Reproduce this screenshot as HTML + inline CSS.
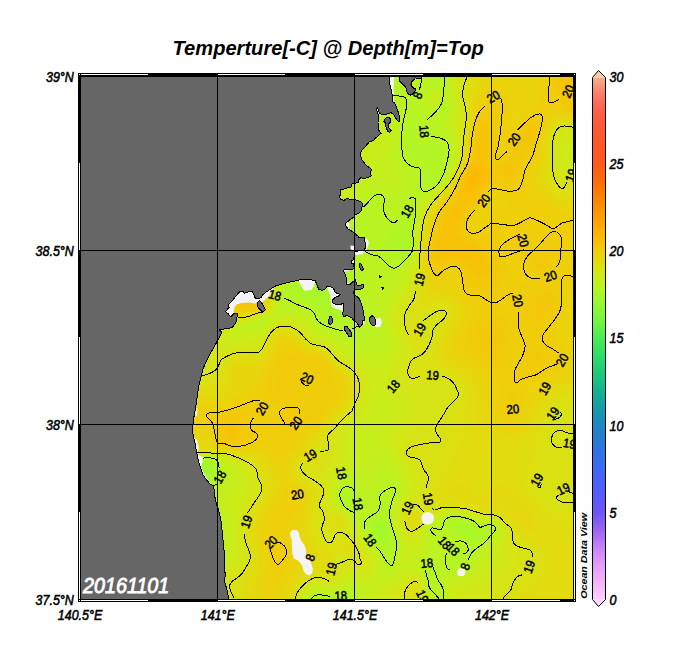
<!DOCTYPE html>
<html><head><meta charset="utf-8">
<style>
html,body{margin:0;padding:0;background:#fff;}
body{width:684px;height:660px;overflow:hidden;position:relative;font-family:"Liberation Sans",sans-serif;}
svg{position:absolute;left:0;top:0;}
text{font-family:"Liberation Sans",sans-serif;font-style:italic;font-weight:bold;}
.ax text{font-size:14px;fill:#000;font-weight:normal;stroke:#000;stroke-width:.55px;}
.cl text{font-size:12.6px;fill:#000;font-weight:normal;font-style:normal;stroke:#000;stroke-width:.5px;}
</style></head><body>
<svg width="684" height="660" viewBox="0 0 684 660">
<defs>
<linearGradient id="cb" gradientUnits="userSpaceOnUse" x1="0" y1="77.5" x2="0" y2="599.5">
<stop offset="0.0000" stop-color="#f5ac8e"/>
<stop offset="0.0167" stop-color="#f7947a"/>
<stop offset="0.0333" stop-color="#fa7a68"/>
<stop offset="0.0500" stop-color="#fc6a56"/>
<stop offset="0.0667" stop-color="#fe5f44"/>
<stop offset="0.1000" stop-color="#ff5834"/>
<stop offset="0.1333" stop-color="#ff5626"/>
<stop offset="0.1667" stop-color="#ff5a18"/>
<stop offset="0.2000" stop-color="#ff6c0a"/>
<stop offset="0.2333" stop-color="#ff8602"/>
<stop offset="0.2667" stop-color="#ff9c00"/>
<stop offset="0.3000" stop-color="#fdb403"/>
<stop offset="0.3333" stop-color="#efce0a"/>
<stop offset="0.3577" stop-color="#e0dd0f"/>
<stop offset="0.3810" stop-color="#cdeb19"/>
<stop offset="0.4033" stop-color="#b5f523"/>
<stop offset="0.4233" stop-color="#a0f82d"/>
<stop offset="0.4667" stop-color="#73f541"/>
<stop offset="0.5000" stop-color="#48ec56"/>
<stop offset="0.5333" stop-color="#2ddc6a"/>
<stop offset="0.5667" stop-color="#1ec87e"/>
<stop offset="0.6000" stop-color="#14b292"/>
<stop offset="0.6333" stop-color="#149baa"/>
<stop offset="0.6667" stop-color="#1e87c4"/>
<stop offset="0.7000" stop-color="#2878d8"/>
<stop offset="0.7333" stop-color="#376eec"/>
<stop offset="0.7667" stop-color="#4664fa"/>
<stop offset="0.8000" stop-color="#585cfa"/>
<stop offset="0.8333" stop-color="#6e55f5"/>
<stop offset="0.8667" stop-color="#9b64f0"/>
<stop offset="0.9000" stop-color="#c882f5"/>
<stop offset="0.9333" stop-color="#e49bfa"/>
<stop offset="0.9667" stop-color="#f5b2fc"/>
<stop offset="1.0000" stop-color="#fccdfc"/>
</linearGradient>
<clipPath id="mapclip"><rect x="81" y="77" width="492" height="522"/></clipPath>
</defs>
<g clip-path="url(#mapclip)">
<rect x="81" y="77" width="492" height="522" fill="rgb(152,248,49)"/>
<g fill-rule="evenodd">
<path fill="#9bf82f" d="M78 74l3 0 3 0 3 0 3 0 3 0 3 0 3 0 3 0 3 0 3 0 3 0 3 0 3 0 3 0 3 0 3 0 3 0 3 0 3 0 3 0 3 0 3 0 3 0 3 0 3 0 3 0 3 0 3 0 3 0 3 0 3 0 3 0 3 0 3 0 3 0 3 0 3 0 3 0 3 0 3 0 3 0 3 0 3 0 3 0 3 0 3 0 3 0 3 0 3 0 3 0 3 0 3 0 3 0 3 0 3 0 3 0 3 0 3 0 3 0 3 0 3 0 3 0 3 0 3 0 3 0 3 0 3 0 3 0 3 0 3 0 3 0 3 0 3 0 3 0 3 0 3 0 3 0 3 0 3 0 3 0 3 0 3 0 3 0 3 0 3 0 3 0 3 0 3 0 3 0 3 0 3 0 3 0 3 0 3 0 3 0 3 0 3 0 3 0 3 0 3 0 3 0 3 0 3 0 3 0 3 0 3 0 3 0 3 0 3 0 3 0 3 0 3 0 3 0 3 0 3 0 3 0 3 0 3 0 3 0 3 0 3 0 3 0 3 0 3 0 3 0 3 0 3 0 3 0 3 0 3 0 3 0 3 0 3 0 3 0 3 0 3 0 3 0 3 0 3 0 3 0 3 0 3 0 3 0 3 0 3 0 3 0 3 0 3 0 3 0 3 0 3 0 3 0 3 0 3 0 3 0 3 0 3 0 3 0 3 0 3 0 3 0 3 0 3 0 3 0 3 0 3 0 0 3 0 3 0 3 0 3 0 3 0 3 0 3 0 3 0 3 0 3 0 3 0 3 0 3 0 3 0 3 0 3 0 3 0 3 0 3 0 3 0 3 0 3 0 3 0 3 0 3 0 3 0 3 0 3 0 3 0 3 0 3 0 3 0 3 0 3 0 3 0 3 0 3 0 3 0 3 0 3 0 3 0 3 0 3 0 3 0 3 0 3 0 3 0 3 0 3 0 3 0 3 0 3 0 3 0 3 0 3 0 3 0 3 0 3 0 3 0 3 0 3 0 3 0 3 0 3 0 3 0 3 0 3 0 3 0 3 0 3 0 3 0 3 0 3 0 3 0 3 0 3 0 3 0 3 0 3 0 3 0 3 0 3 0 3 0 3 0 3 0 3 0 3 0 3 0 3 0 3 0 3 0 3 0 3 0 3 0 3 0 3 0 3 0 3 0 3 0 3 0 3 0 3 0 3 0 3 0 3 0 3 0 3 0 3 0 3 0 3 0 3 0 3 0 3 0 3 0 3 0 3 0 3 0 3 0 3 0 3 0 3 0 3 0 3 0 3 0 3 0 3 0 3 0 3 0 3 0 3 0 3 0 3 0 3 0 3 0 3 0 3 0 3 0 3 0 3 0 3 0 3 0 3 0 3 0 3 0 3 0 3 0 3 0 3 0 3 0 3 0 3 0 3 0 3 0 3 0 3 0 3 0 3 0 3 0 3 0 3 0 3 0 3 0 3 0 3 0 3 0 3 0 3 0 3 0 3 0 3 0 3 0 3 0 3 0 3 0 3 0 3-3 0-3 0-3 0-3 0-3 0-3 0-3 0-3 0-3 0-3 0-3 0-3 0-3 0-3 0-3 0-3 0-3 0-3 0-3 0-3 0-3 0-3 0-3 0-3 0-3 0-3 0-3 0-3 0-3 0-3 0-3 0-3 0-3 0-3 0-3 0-3 0-3 0-3 0-3 0-3 0-3 0-3 0-3 0-3 0-3 0-3 0-3 0-3 0-3 0-3 0-3 0-3 0-3 0-3 0-3 0-3 0-3 0-3 0-3 0-3 0-3 0-3 0-3 0-3 0-3 0-3 0-3 0-3 0-3 0-3 0-3 0-3 0-3 0-3 0-3 0-3 0-3 0-3 0-3 0-3 0-3 0-3 0-3 0-3 0-3 0-3 0-3 0-3 0-3 0-3 0-3 0-3 0-3 0-3 0-3 0-3 0-3 0-3 0-3 0-3 0-3 0-3 0-3 0-3 0-3 0-3 0-3 0-3 0-3 0-3 0-3 0-3 0-3 0-3 0-3 0-3 0-3 0-3 0-3 0-3 0-3 0-3 0-3 0-3 0-3 0-3 0-3 0-3 0-3 0-3 0-3 0-3 0-3 0-3 0-3 0-3 0-3 0-3 0-3 0-3 0-3 0-3 0-3 0-3 0-3 0-3 0-3 0-3 0-3 0-3 0-3 0-3 0-3 0-3 0-3 0-3 0-3 0-3 0-3 0-3 0-3 0-3 0-3 0-3 0-3 0-3 0 0-3 0-3 0-3 0-3 0-3 0-3 0-3 0-3 0-3 0-3 0-3 0-3 0-3 0-3 0-3 0-3 0-3 0-3 0-3 0-3 0-3 0-3 0-3 0-3 0-3 0-3 0-3 0-3 0-3 0-3 0-3 0-3 0-3 0-3 0-3 0-3 0-3 0-3 0-3 0-3 0-3 0-3 0-3 0-3 0-3 0-3 0-3 0-3 0-3 0-3 0-3 0-3 0-3 0-3 0-3 0-3 0-3 0-3 0-3 0-3 0-3 0-3 0-3 0-3 0-3 0-3 0-3 0-3 0-3 0-3 0-3 0-3 0-3 0-3 0-3 0-3 0-3 0-3 0-3 0-3 0-3 0-3 0-3 0-3 0-3 0-3 0-3 0-3 0-3 0-3 0-3 0-3 0-3 0-3 0-3 0-3 0-3 0-3 0-3 0-3 0-3 0-3 0-3 0-3 0-3 0-3 0-3 0-3 0-3 0-3 0-3 0-3 0-3 0-3 0-3 0-3 0-3 0-3 0-3 0-3 0-3 0-3 0-3 0-3 0-3 0-3 0-3 0-3 0-3 0-3 0-3 0-3 0-3 0-3 0-3 0-3 0-3 0-3 0-3 0-3 0-3 0-3 0-3 0-3 0-3 0-3 0-3 0-3 0-3 0-3 0-3 0-3 0-3 0-3 0-3 0-3 0-3 0-3 0-3 0-3 0-3 0-3 0-3 0-3 0-3 0-3 0-3 0-3 0-3 0-3 0-3 0-3 0-3 0-3 0-3z"/>
<path fill="#9ef82e" d="M78 74l3 0 3 0 3 0 3 0 3 0 3 0 3 0 3 0 3 0 3 0 3 0 3 0 3 0 3 0 3 0 3 0 3 0 3 0 3 0 3 0 3 0 3 0 3 0 3 0 3 0 3 0 3 0 3 0 3 0 3 0 3 0 3 0 3 0 3 0 3 0 3 0 3 0 3 0 3 0 3 0 3 0 3 0 3 0 3 0 3 0 3 0 3 0 3 0 3 0 3 0 3 0 3 0 3 0 3 0 3 0 3 0 3 0 3 0 3 0 3 0 3 0 3 0 3 0 3 0 3 0 3 0 3 0 3 0 3 0 3 0 3 0 3 0 3 0 3 0 3 0 3 0 3 0 3 0 3 0 3 0 3 0 3 0 3 0 3 0 3 0 3 0 3 0 3 0 3 0 3 0 3 0 3 0 3 0 3 0 3 0 3 0 3 0 3 0 3 0 3 0 3 0 3 0 3 0 3 0 3 0 3 0 3 0 3 0 3 0 3 0 3 0 3 0 3 0 3 0 3 0 3 0 3 0 3 0 3 0 3 0 3 0 3 0 3 0 3 0 3 0 3 0 3 0 3 0 3 0 3 0 3 0 3 0 3 0 3 0 3 0 3 0 3 0 3 0 3 0 3 0 3 0 3 0 3 0 3 0 3 0 3 0 3 0 3 0 3 0 3 0 3 0 3 0 3 0 3 0 3 0 3 0 3 0 3 0 3 0 3 0 3 0 3 0 3 0 3 0 3 0 3 0 0 3 0 3 0 3 0 3 0 3 0 3 0 3 0 3 0 3 0 3 0 3 0 3 0 3 0 3 0 3 0 3 0 3 0 3 0 3 0 3 0 3 0 3 0 3 0 3 0 3 0 3 0 3 0 3 0 3 0 3 0 3 0 3 0 3 0 3 0 3 0 3 0 3 0 3 0 3 0 3 0 3 0 3 0 3 0 3 0 3 0 3 0 3 0 3 0 3 0 3 0 3 0 3 0 3 0 3 0 3 0 3 0 3 0 3 0 3 0 3 0 3 0 3 0 3 0 3 0 3 0 3 0 3 0 3 0 3 0 3 0 3 0 3 0 3 0 3 0 3 0 3 0 3 0 3 0 3 0 3 0 3 0 3 0 3 0 3 0 3 0 3 0 3 0 3 0 3 0 3 0 3 0 3 0 3 0 3 0 3 0 3 0 3 0 3 0 3 0 3 0 3 0 3 0 3 0 3 0 3 0 3 0 3 0 3 0 3 0 3 0 3 0 3 0 3 0 3 0 3 0 3 0 3 0 3 0 3 0 3 0 3 0 3 0 3 0 3 0 3 0 3 0 3 0 3 0 3 0 3 0 3 0 3 0 3 0 3 0 3 0 3 0 3 0 3 0 3 0 3 0 3 0 3 0 3 0 3 0 3 0 3 0 3 0 3 0 3 0 3 0 3 0 3 0 3 0 3 0 3 0 3 0 3 0 3 0 3 0 3 0 3 0 3 0 3 0 3 0 3 0 3 0 3 0 3 0 3 0 3 0 3 0 3 0 3 0 3 0 3 0 3-3 0-3 0-3 0-3 0-3 0-3 0-3 0-3 0-3 0-3 0-3 0-3 0-3 0-3 0-3 0-3 0-3 0-3 0-3 0-3 0-3 0-3 0-3 0-3 0-3 0-3 0-3 0-3 0-3 0-3 0-3 0-3 0-3 0-3 0-3 0-3 0-3 0-3 0-3 0-3 0-3 0-3 0-3 0-3 0-3 0-3 0-3 0-3 0-3 0-3 0-3 0-3 0-3 0-3 0-3 0-3 0-3 0-3 0-3 0-3 0-3 0-3 0-3 0-3 0-3 0-3 0-3 0-3 0-3 0-3 0-3 0-3 0-3 0-3 0-3 0-3 0-3 0-3 0-3 0-3 0-3 0-3 0-3 0-3 0-3 0-3 0-3 0-3 0-3 0-3 0-3 0-3 0-3 0-3 0-3 0-3 0-3 0-3 0-3 0-3 0-3 0-3 0-3 0-3 0-3 0-3 0-3 0-3 0-3 0-3 0-3 0-3 0-3 0-3 0-3 0-3 0-3 0-3 0-3 0-3 0-3 0-3 0-3 0-3 0-3 0-3 0-3 0-3 0-3 0-3 0-3 0-3 0-3 0-3 0-3 0-3 0-3 0-3 0-3 0-3 0-3 0-3 0-3 0-3 0-3 0-3 0-3 0-3 0-3 0-3 0-3 0-3 0-3 0-3 0-3 0-3 0-3 0-3 0-3 0-3 0-3 0-3 0-3 0-3 0-3 0-3 0 0-3 0-3 0-3 0-3 0-3 0-3 0-3 0-3 0-3 0-3 0-3 0-3 0-3 0-3 0-3 0-3 0-3 0-3 0-3 0-3 0-3 0-3 0-3 0-3 0-3 0-3 0-3 0-3 0-3 0-3 0-3 0-3 0-3 0-3 0-3 0-3 0-3 0-3 0-3 0-3 0-3 0-3 0-3 0-3 0-3 0-3 0-3 0-3 0-3 0-3 0-3 0-3 0-3 0-3 0-3 0-3 0-3 0-3 0-3 0-3 0-3 0-3 0-3 0-3 0-3 0-3 0-3 0-3 0-3 0-3 0-3 0-3 0-3 0-3 0-3 0-3 0-3 0-3 0-3 0-3 0-3 0-3 0-3 0-3 0-3 0-3 0-3 0-3 0-3 0-3 0-3 0-3 0-3 0-3 0-3 0-3 0-3 0-3 0-3 0-3 0-3 0-3 0-3 0-3 0-3 0-3 0-3 0-3 0-3 0-3 0-3 0-3 0-3 0-3 0-3 0-3 0-3 0-3 0-3 0-3 0-3 0-3 0-3 0-3 0-3 0-3 0-3 0-3 0-3 0-3 0-3 0-3 0-3 0-3 0-3 0-3 0-3 0-3 0-3 0-3 0-3 0-3 0-3 0-3 0-3 0-3 0-3 0-3 0-3 0-3 0-3 0-3 0-3 0-3 0-3 0-3 0-3 0-3 0-3 0-3 0-3 0-3 0-3 0-3 0-3 0-3 0-3 0-3 0-3 0-3 0-3 0-3 0-3 0-3 0-3z"/>
<path fill="#a2f82c" d="M78 74l3 0 3 0 3 0 3 0 3 0 3 0 3 0 3 0 3 0 3 0 3 0 3 0 3 0 3 0 3 0 3 0 3 0 3 0 3 0 3 0 3 0 3 0 3 0 3 0 3 0 3 0 3 0 3 0 3 0 3 0 3 0 3 0 3 0 3 0 3 0 3 0 3 0 3 0 3 0 3 0 3 0 3 0 3 0 3 0 3 0 3 0 3 0 3 0 3 0 3 0 3 0 3 0 3 0 3 0 3 0 3 0 3 0 3 0 3 0 3 0 3 0 3 0 3 0 3 0 3 0 3 0 3 0 3 0 3 0 3 0 3 0 3 0 3 0 3 0 3 0 3 0 3 0 3 0 3 0 3 0 3 0 3 0 3 0 3 0 3 0 3 0 3 0 3 0 3 0 3 0 3 0 3 0 3 0 3 0 3 0 3 0 3 0 3 0 3 0 3 0 3 0 3 0 3 0 3 0 3 0 3 0 3 0 3 0 3 0 3 0 3 0 3 0 3 0 3 0 3 0 3 0 3 0 3 0 3 0 3 0 3 0 3 0 3 0 3 0 3 0 3 0 3 0 3 0 3 0 3 0 3 0 3 0 3 0 3 0 3 0 3 0 3 0 3 0 3 0 3 0 3 0 3 0 3 0 3 0 3 0 3 0 3 0 3 0 3 0 3 0 3 0 3 0 3 0 3 0 3 0 3 0 3 0 3 0 3 0 3 0 3 0 3 0 3 0 3 0 3 0 3 0 0 3 0 3 0 3 0 3 0 3 0 3 0 3 0 3 0 3 0 3 0 3 0 3 0 3 0 3 0 3 0 3 0 3 0 3 0 3 0 3 0 3 0 3 0 3 0 3 0 3 0 3 0 3 0 3 0 3 0 3 0 3 0 3 0 3 0 3 0 3 0 3 0 3 0 3 0 3 0 3 0 3 0 3 0 3 0 3 0 3 0 3 0 3 0 3 0 3 0 3 0 3 0 3 0 3 0 3 0 3 0 3 0 3 0 3 0 3 0 3 0 3 0 3 0 3 0 3 0 3 0 3 0 3 0 3 0 3 0 3 0 3 0 3 0 3 0 3 0 3 0 3 0 3 0 3 0 3 0 3 0 3 0 3 0 3 0 3 0 3 0 3 0 3 0 3 0 3 0 3 0 3 0 3 0 3 0 3 0 3 0 3 0 3 0 3 0 3 0 3 0 3 0 3 0 3 0 3 0 3 0 3 0 3 0 3 0 3 0 3 0 3 0 3 0 3 0 3 0 3 0 3 0 3 0 3 0 3 0 3 0 3 0 3 0 3 0 3 0 3 0 3 0 3 0 3 0 3 0 3 0 3 0 3 0 3 0 3 0 3 0 3 0 3 0 3 0 3 0 3 0 3 0 3 0 3 0 3 0 3 0 3 0 3 0 3 0 3 0 3 0 3 0 3 0 3 0 3 0 3 0 3 0 3 0 3 0 3 0 3 0 3 0 3 0 3 0 3 0 3 0 3 0 3 0 3 0 3 0 3 0 3 0 3 0 3 0 3 0 3 0 3-3 0-3 0-3 0-3 0-3 0-3 0-3 0-3 0-3 0-3 0-3 0-3 0-3 0-3 0-3 0-3 0-3 0-3 0-3 0-3 0-3 0-3 0-3 0-3 0-3 0-3 0-3 0-3 0-3 0-3 0-3 0-3 0-3 0-3 0-3 0-3 0-3 0-3 0-3 0-3 0-3 0-3 0-3 0-3 0-3 0-3 0-3 0-3 0-3 0-3 0-3 0-3 0-3 0-3 0-3 0-3 0-3 0-3 0-3 0-3 0-3 0-3 0-3 0-3 0-3 0-3 0-3 0-3 0-3 0-3 0-3 0-3 0-3 0-3 0-3 0-3 0-3 0-3 0-3 0-3 0-3 0-3 0-3 0-3 0-3 0-3 0-3 0-3 0-3 0-3 0-3 0-3 0-3 0-3 0-3 0-3 0-3 0-3 0-3 0-3 0-3 0-3 0-3 0-3 0-3 0-3 0-3 0-3 0-3 0-3 0-3 0-3 0-3 0-3 0-3 0-3 0-3 0-3 0-3 0-3 0-3 0-3 0-3 0-3 0-3 0-3 0-3 0-3 0-3 0-3 0-3 0-3 0-3 0-3 0-3 0-3 0-3 0-3 0-3 0-3 0-3 0-3 0-3 0-3 0-3 0-3 0-3 0-3 0-3 0-3 0-3 0-3 0-3 0-3 0-3 0-3 0-3 0-3 0-3 0-3 0-3 0-3 0-3 0-3 0-3 0-3 0 0-3 0-3 0-3 0-3 0-3 0-3 0-3 0-3 0-3 0-3 0-3 0-3 0-3 0-3 0-3 0-3 0-3 0-3 0-3 0-3 0-3 0-3 0-3 0-3 0-3 0-3 0-3 0-3 0-3 0-3 0-3 0-3 0-3 0-3 0-3 0-3 0-3 0-3 0-3 0-3 0-3 0-3 0-3 0-3 0-3 0-3 0-3 0-3 0-3 0-3 0-3 0-3 0-3 0-3 0-3 0-3 0-3 0-3 0-3 0-3 0-3 0-3 0-3 0-3 0-3 0-3 0-3 0-3 0-3 0-3 0-3 0-3 0-3 0-3 0-3 0-3 0-3 0-3 0-3 0-3 0-3 0-3 0-3 0-3 0-3 0-3 0-3 0-3 0-3 0-3 0-3 0-3 0-3 0-3 0-3 0-3 0-3 0-3 0-3 0-3 0-3 0-3 0-3 0-3 0-3 0-3 0-3 0-3 0-3 0-3 0-3 0-3 0-3 0-3 0-3 0-3 0-3 0-3 0-3 0-3 0-3 0-3 0-3 0-3 0-3 0-3 0-3 0-3 0-3 0-3 0-3 0-3 0-3 0-3 0-3 0-3 0-3 0-3 0-3 0-3 0-3 0-3 0-3 0-3 0-3 0-3 0-3 0-3 0-3 0-3 0-3 0-3 0-3 0-3 0-3 0-3 0-3 0-3 0-3 0-3 0-3 0-3 0-3 0-3 0-3 0-3 0-3 0-3 0-3 0-3 0-3 0-3 0-3 0-3 0-3zM207 466.5l-1 .5-2 1.5-1 1.5 .5 3 .5 .5 3 0 .5-.5 2.5-3-2-3z"/>
<path fill="#a5f72a" d="M78 74l3 0 3 0 3 0 3 0 3 0 3 0 3 0 3 0 3 0 3 0 3 0 3 0 3 0 3 0 3 0 3 0 3 0 3 0 3 0 3 0 3 0 3 0 3 0 3 0 3 0 3 0 3 0 3 0 3 0 3 0 3 0 3 0 3 0 3 0 3 0 3 0 3 0 3 0 3 0 3 0 3 0 3 0 3 0 3 0 3 0 3 0 3 0 3 0 3 0 3 0 3 0 3 0 3 0 3 0 3 0 3 0 3 0 3 0 3 0 3 0 3 0 3 0 3 0 3 0 3 0 3 0 3 0 3 0 3 0 3 0 3 0 3 0 3 0 3 0 3 0 3 0 3 0 3 0 3 0 3 0 3 0 3 0 3 0 3 0 3 0 3 0 3 0 3 0 3 0 3 0 3 0 3 0 3 0 3 0 3 0 3 0 3 0 3 0 3 0 3 0 3 0 3 0 3 0 3 0 3 0 3 0 3 0 3 0 3 0 3 0 3 0 3 0 3 0 3 0 3 0 3 0 3 0 3 0 3 0 3 0 3 0 3 0 3 0 3 0 3 0 3 0 3 0 3 0 3 0 3 0 3 0 3 0 3 0 3 0 3 0 3 0 3 0 3 0 3 0 3 0 3 0 3 0 3 0 3 0 3 0 3 0 3 0 3 0 3 0 3 0 3 0 3 0 3 0 3 0 3 0 3 0 3 0 3 0 3 0 3 0 3 0 3 0 3 0 3 0 3 0 3 0 0 3 0 3 0 3 0 3 0 3 0 3 0 3 0 3 0 3 0 3 0 3 0 3 0 3 0 3 0 3 0 3 0 3 0 3 0 3 0 3 0 3 0 3 0 3 0 3 0 3 0 3 0 3 0 3 0 3 0 3 0 3 0 3 0 3 0 3 0 3 0 3 0 3 0 3 0 3 0 3 0 3 0 3 0 3 0 3 0 3 0 3 0 3 0 3 0 3 0 3 0 3 0 3 0 3 0 3 0 3 0 3 0 3 0 3 0 3 0 3 0 3 0 3 0 3 0 3 0 3 0 3 0 3 0 3 0 3 0 3 0 3 0 3 0 3 0 3 0 3 0 3 0 3 0 3 0 3 0 3 0 3 0 3 0 3 0 3 0 3 0 3 0 3 0 3 0 3 0 3 0 3 0 3 0 3 0 3 0 3 0 3 0 3 0 3 0 3 0 3 0 3 0 3 0 3 0 3 0 3 0 3 0 3 0 3 0 3 0 3 0 3 0 3 0 3 0 3 0 3 0 3 0 3 0 3 0 3 0 3 0 3 0 3 0 3 0 3 0 3 0 3 0 3 0 3 0 3 0 3 0 3 0 3 0 3 0 3 0 3 0 3 0 3 0 3 0 3 0 3 0 3 0 3 0 3 0 3 0 3 0 3 0 3 0 3 0 3 0 3 0 3 0 3 0 3 0 3 0 3 0 3 0 3 0 3 0 3 0 3 0 3 0 3 0 3 0 3 0 3 0 3 0 3 0 3 0 3 0 3 0 3 0 3 0 3 0 3 0 3 0 3-3 0-3 0-3 0-3 0-3 0-3 0-3 0-3 0-3 0-3 0-3 0-3 0-3 0-3 0-3 0-3 0-3 0-3 0-3 0-3 0-3 0-3 0-3 0-3 0-3 0-3 0-3 0-3 0-3 0-3 0-3 0-3 0-3 0-3 0-3 0-3 0-3 0-3 0-3 0-3 0-3 0-3 0-3 0-3 0-3 0-3 0-3 0-3 0-3 0-3 0-3 0-3 0-3 0-3 0-3 0-3 0-3 0-3 0-3 0-3 0-3 0-3 0-3 0-3 0-3 0-3 0-3 0-3 0-3 0-3 0-3 0-3 0-3 0-3 0-3 0-3 0-3 0-3 0-3 0-3 0-3 0-3 0-3 0-3 0-3 0-3 0-3 0-3 0-3 0-3 0-3 0-3 0-3 0-3 0-3 0-3 0-3 0-3 0-3 0-3 0-3 0-3 0-3 0-3 0-3 0-3 0-3 0-3 0-3 0-3 0-3 0-3 0-3 0-3 0-3 0-3 0-3 0-3 0-3 0-3 0-3 0-3 0-3 0-3 0-3 0-3 0-3 0-3 0-3 0-3 0-3 0-3 0-3 0-3 0-3 0-3 0-3 0-3 0-3 0-3 0-3 0-3 0-3 0-3 0-3 0-3 0-3 0-3 0-3 0-3 0-3 0-3 0-3 0-3 0-3 0-3 0-3 0-3 0-3 0-3 0-3 0-3 0-3 0-3 0-3 0-3 0 0-3 0-3 0-3 0-3 0-3 0-3 0-3 0-3 0-3 0-3 0-3 0-3 0-3 0-3 0-3 0-3 0-3 0-3 0-3 0-3 0-3 0-3 0-3 0-3 0-3 0-3 0-3 0-3 0-3 0-3 0-3 0-3 0-3 0-3 0-3 0-3 0-3 0-3 0-3 0-3 0-3 0-3 0-3 0-3 0-3 0-3 0-3 0-3 0-3 0-3 0-3 0-3 0-3 0-3 0-3 0-3 0-3 0-3 0-3 0-3 0-3 0-3 0-3 0-3 0-3 0-3 0-3 0-3 0-3 0-3 0-3 0-3 0-3 0-3 0-3 0-3 0-3 0-3 0-3 0-3 0-3 0-3 0-3 0-3 0-3 0-3 0-3 0-3 0-3 0-3 0-3 0-3 0-3 0-3 0-3 0-3 0-3 0-3 0-3 0-3 0-3 0-3 0-3 0-3 0-3 0-3 0-3 0-3 0-3 0-3 0-3 0-3 0-3 0-3 0-3 0-3 0-3 0-3 0-3 0-3 0-3 0-3 0-3 0-3 0-3 0-3 0-3 0-3 0-3 0-3 0-3 0-3 0-3 0-3 0-3 0-3 0-3 0-3 0-3 0-3 0-3 0-3 0-3 0-3 0-3 0-3 0-3 0-3 0-3 0-3 0-3 0-3 0-3 0-3 0-3 0-3 0-3 0-3 0-3 0-3 0-3 0-3 0-3 0-3 0-3 0-3 0-3 0-3 0-3 0-3 0-3 0-3 0-3 0-3 0-3zM207 464l-3 1-2.5 2-.5 1-1.5 2-.5 3 1.5 3 .5 .5 3 .5 3-.5 1-.5 2-2 1-1 .5-3-.5-3-1-2zM381 523.5l-.5 .5-2.5 3-.5 3 .5 1.5 .5 1.5 2.5 3 1 0 2 .5 0-.5 1.5-3 .5-3 .5-3-2-3-.5-.5z"/>
<path fill="#a9f729" d="M78 74l3 0 3 0 3 0 3 0 3 0 3 0 3 0 3 0 3 0 3 0 3 0 3 0 3 0 3 0 3 0 3 0 3 0 3 0 3 0 3 0 3 0 3 0 3 0 3 0 3 0 3 0 3 0 3 0 3 0 3 0 3 0 3 0 3 0 3 0 3 0 3 0 3 0 3 0 3 0 3 0 3 0 3 0 3 0 3 0 3 0 3 0 3 0 3 0 3 0 3 0 3 0 3 0 3 0 3 0 3 0 3 0 3 0 3 0 3 0 3 0 3 0 3 0 3 0 3 0 3 0 3 0 3 0 3 0 3 0 3 0 3 0 3 0 3 0 3 0 3 0 3 0 3 0 3 0 3 0 3 0 3 0 3 0 3 0 3 0 3 0 3 0 3 0 3 0 3 0 3 0 3 0 3 0 3 0 3 0 3 0 3 0 3 0 3 0 3 0 3 0 3 0 3 0 3 0 3 0 3 0 3 0 3 0 3 0 3 0 3 0 3 0 3 0 3 0 3 0 3 0 3 0 3 0 3 0 3 0 3 0 3 0 3 0 3 0 3 0 3 0 3 0 3 0 3 0 3 0 3 0 3 0 3 0 3 0 3 0 3 0 3 0 3 0 3 0 3 0 3 0 3 0 3 0 3 0 3 0 3 0 3 0 3 0 3 0 3 0 3 0 3 0 3 0 3 0 3 0 3 0 3 0 3 0 3 0 3 0 3 0 3 0 3 0 3 0 3 0 3 0 3 0 0 3 0 3 0 3 0 3 0 3 0 3 0 3 0 3 0 3 0 3 0 3 0 3 0 3 0 3 0 3 0 3 0 3 0 3 0 3 0 3 0 3 0 3 0 3 0 3 0 3 0 3 0 3 0 3 0 3 0 3 0 3 0 3 0 3 0 3 0 3 0 3 0 3 0 3 0 3 0 3 0 3 0 3 0 3 0 3 0 3 0 3 0 3 0 3 0 3 0 3 0 3 0 3 0 3 0 3 0 3 0 3 0 3 0 3 0 3 0 3 0 3 0 3 0 3 0 3 0 3 0 3 0 3 0 3 0 3 0 3 0 3 0 3 0 3 0 3 0 3 0 3 0 3 0 3 0 3 0 3 0 3 0 3 0 3 0 3 0 3 0 3 0 3 0 3 0 3 0 3 0 3 0 3 0 3 0 3 0 3 0 3 0 3 0 3 0 3 0 3 0 3 0 3 0 3 0 3 0 3 0 3 0 3 0 3 0 3 0 3 0 3 0 3 0 3 0 3 0 3 0 3 0 3 0 3 0 3 0 3 0 3 0 3 0 3 0 3 0 3 0 3 0 3 0 3 0 3 0 3 0 3 0 3 0 3 0 3 0 3 0 3 0 3 0 3 0 3 0 3 0 3 0 3 0 3 0 3 0 3 0 3 0 3 0 3 0 3 0 3 0 3 0 3 0 3 0 3 0 3 0 3 0 3 0 3 0 3 0 3 0 3 0 3 0 3 0 3 0 3 0 3 0 3 0 3 0 3 0 3 0 3 0 3 0 3 0 3 0 3 0 3-3 0-3 0-3 0-3 0-3 0-3 0-3 0-3 0-3 0-3 0-3 0-3 0-3 0-3 0-3 0-3 0-3 0-3 0-3 0-3 0-3 0-3 0-3 0-3 0-3 0-3 0-3 0-3 0-3 0-3 0-3 0-3 0-3 0-3 0-3 0-3 0-3 0-3 0-3 0-3 0-3 0-3 0-3 0-3 0-3 0-3 0-3 0-3 0-3 0-3 0-3 0-3 0-3 0-3 0-3 0-3 0-3 0-3 0-3 0-3 0-3 0-3 0-3 0-3 0-3 0-3 0-3 0-3 0-3 0-3 0-3 0-3 0-3 0-3 0-3 0-3 0-3 0-3 0-3 0-3 0-3 0-3 0-3 0-3 0-3 0-3 0-3 0-3 0-3 0-3 0-3 0-3 0-3 0-3 0-3 0-3 0-3 0-3 0-3 0-3 0-3 0-3 0-3 0-3 0-3 0-3 0-3 0-3 0-3 0-3 0-3 0-3 0-3 0-3 0-3 0-3 0-3 0-3 0-3 0-3 0-3 0-3 0-3 0-3 0-3 0-3 0-3 0-3 0-3 0-3 0-3 0-3 0-3 0-3 0-3 0-3 0-3 0-3 0-3 0-3 0-3 0-3 0-3 0-3 0-3 0-3 0-3 0-3 0-3 0-3 0-3 0-3 0-3 0-3 0-3 0-3 0-3 0-3 0-3 0-3 0-3 0-3 0-3 0-3 0-3 0-3 0 0-3 0-3 0-3 0-3 0-3 0-3 0-3 0-3 0-3 0-3 0-3 0-3 0-3 0-3 0-3 0-3 0-3 0-3 0-3 0-3 0-3 0-3 0-3 0-3 0-3 0-3 0-3 0-3 0-3 0-3 0-3 0-3 0-3 0-3 0-3 0-3 0-3 0-3 0-3 0-3 0-3 0-3 0-3 0-3 0-3 0-3 0-3 0-3 0-3 0-3 0-3 0-3 0-3 0-3 0-3 0-3 0-3 0-3 0-3 0-3 0-3 0-3 0-3 0-3 0-3 0-3 0-3 0-3 0-3 0-3 0-3 0-3 0-3 0-3 0-3 0-3 0-3 0-3 0-3 0-3 0-3 0-3 0-3 0-3 0-3 0-3 0-3 0-3 0-3 0-3 0-3 0-3 0-3 0-3 0-3 0-3 0-3 0-3 0-3 0-3 0-3 0-3 0-3 0-3 0-3 0-3 0-3 0-3 0-3 0-3 0-3 0-3 0-3 0-3 0-3 0-3 0-3 0-3 0-3 0-3 0-3 0-3 0-3 0-3 0-3 0-3 0-3 0-3 0-3 0-3 0-3 0-3 0-3 0-3 0-3 0-3 0-3 0-3 0-3 0-3 0-3 0-3 0-3 0-3 0-3 0-3 0-3 0-3 0-3 0-3 0-3 0-3 0-3 0-3 0-3 0-3 0-3 0-3 0-3 0-3 0-3 0-3 0-3 0-3 0-3 0-3 0-3 0-3 0-3 0-3 0-3 0-3 0-3 0-3 0-3zM204 463l-1.5 1-1.5 1.5-2 1.5-1 2-1 1-1 3 0 3 2 3 3 1.5 3-.5 3-1 3-2 1-1 1.5-3 .5-2 0-1 0-2 0-1-1.5-3-1.5-1-3-.5zM309 268.5l-.5 .5-2 3-.5 2 0 1-1 3 .5 3 .5 2 .5 1 2.5 2.5 .5 .5 2.5 1.5 3 1.5 3 1.5 3 1 1 .5 2 .5 3 1 3-1 .5-.5 1-3-.5-3-.5-3-.5-1-1-2-1.5-3-.5-1-1-2-2-2-1-1-2-1.5-2-1.5-1-.5-3-1-3 .5zM378 523l-1 1-1.5 3-.5 3 1 3 1.5 3 .5 .5 2 2.5 1 1 3 2 .5 0 2.5-1.5 0-1.5 .5-3 0-3 0-3 0-3-.5-3-3-2.5-3 0z"/>
<path fill="#acf627" d="M78 74l3 0 3 0 3 0 3 0 3 0 3 0 3 0 3 0 3 0 3 0 3 0 3 0 3 0 3 0 3 0 3 0 3 0 3 0 3 0 3 0 3 0 3 0 3 0 3 0 3 0 3 0 3 0 3 0 3 0 3 0 3 0 3 0 3 0 3 0 3 0 3 0 3 0 3 0 3 0 3 0 3 0 3 0 3 0 3 0 3 0 3 0 3 0 3 0 3 0 3 0 3 0 3 0 3 0 3 0 3 0 3 0 3 0 3 0 3 0 3 0 3 0 3 0 3 0 3 0 3 0 3 0 3 0 3 0 3 0 3 0 3 0 3 0 3 0 3 0 3 0 3 0 3 0 3 0 3 0 3 0 3 0 3 0 3 0 3 0 3 0 3 0 3 0 3 0 3 0 3 0 3 0 3 0 3 0 3 0 3 0 3 0 3 0 3 0 3 0 3 0 3 0 3 0 3 0 3 0 3 0 3 0 3 0 3 0 3 0 3 0 3 0 3 0 3 0 3 0 3 0 3 0 3 0 3 0 3 0 3 0 3 0 3 0 3 0 3 0 3 0 3 0 3 0 3 0 3 0 3 0 3 0 3 0 3 0 3 0 3 0 3 0 3 0 3 0 3 0 3 0 3 0 3 0 3 0 3 0 3 0 3 0 3 0 3 0 3 0 3 0 3 0 3 0 3 0 3 0 3 0 3 0 3 0 3 0 3 0 3 0 3 0 3 0 3 0 3 0 3 0 3 0 0 3 0 3 0 3 0 3 0 3 0 3 0 3 0 3 0 3 0 3 0 3 0 3 0 3 0 3 0 3 0 3 0 3 0 3 0 3 0 3 0 3 0 3 0 3 0 3 0 3 0 3 0 3 0 3 0 3 0 3 0 3 0 3 0 3 0 3 0 3 0 3 0 3 0 3 0 3 0 3 0 3 0 3 0 3 0 3 0 3 0 3 0 3 0 3 0 3 0 3 0 3 0 3 0 3 0 3 0 3 0 3 0 3 0 3 0 3 0 3 0 3 0 3 0 3 0 3 0 3 0 3 0 3 0 3 0 3 0 3 0 3 0 3 0 3 0 3 0 3 0 3 0 3 0 3 0 3 0 3 0 3 0 3 0 3 0 3 0 3 0 3 0 3 0 3 0 3 0 3 0 3 0 3 0 3 0 3 0 3 0 3 0 3 0 3 0 3 0 3 0 3 0 3 0 3 0 3 0 3 0 3 0 3 0 3 0 3 0 3 0 3 0 3 0 3 0 3 0 3 0 3 0 3 0 3 0 3 0 3 0 3 0 3 0 3 0 3 0 3 0 3 0 3 0 3 0 3 0 3 0 3 0 3 0 3 0 3 0 3 0 3 0 3 0 3 0 3 0 3 0 3 0 3 0 3 0 3 0 3 0 3 0 3 0 3 0 3 0 3 0 3 0 3 0 3 0 3 0 3 0 3 0 3 0 3 0 3 0 3 0 3 0 3 0 3 0 3 0 3 0 3 0 3 0 3 0 3 0 3 0 3 0 3 0 3 0 3 0 3 0 3-3 0-3 0-3 0-3 0-3 0-3 0-3 0-3 0-3 0-3 0-3 0-3 0-3 0-3 0-3 0-3 0-3 0-3 0-3 0-3 0-3 0-3 0-3 0-3 0-3 0-3 0-3 0-3 0-3 0-3 0-3 0-3 0-3 0-3 0-3 0-3 0-3 0-3 0-3 0-3 0-3 0-3 0-3 0-3 0-3 0-3 0-3 0-3 0-3 0-3 0-3 0-3 0-3 0-3 0-3 0-3 0-3 0-3 0-3 0-3 0-3 0-3 0-3 0-3 0-3 0-3 0-3 0-3 0-3 0-3 0-3 0-3 0-3 0-3 0-3 0-3 0-3 0-3 0-3 0-3 0-3 0-3 0-3 0-3 0-3 0-3 0-3 0-3 0-3 0-3 0-3 0-3 0-3 0-3 0-3 0-3 0-3 0-3 0-3 0-3 0-3 0-3 0-3 0-3 0-3 0-3 0-3 0-3 0-3 0-3 0-3 0-3 0-3 0-3 0-3 0-3 0-3 0-3 0-3 0-3 0-3 0-3 0-3 0-3 0-3 0-3 0-3 0-3 0-3 0-3 0-3 0-3 0-3 0-3 0-3 0-3 0-3 0-3 0-3 0-3 0-3 0-3 0-3 0-3 0-3 0-3 0-3 0-3 0-3 0-3 0-3 0-3 0-3 0-3 0-3 0-3 0-3 0-3 0-3 0-3 0-3 0-3 0-3 0-3 0-3 0-3 0 0-3 0-3 0-3 0-3 0-3 0-3 0-3 0-3 0-3 0-3 0-3 0-3 0-3 0-3 0-3 0-3 0-3 0-3 0-3 0-3 0-3 0-3 0-3 0-3 0-3 0-3 0-3 0-3 0-3 0-3 0-3 0-3 0-3 0-3 0-3 0-3 0-3 0-3 0-3 0-3 0-3 0-3 0-3 0-3 0-3 0-3 0-3 0-3 0-3 0-3 0-3 0-3 0-3 0-3 0-3 0-3 0-3 0-3 0-3 0-3 0-3 0-3 0-3 0-3 0-3 0-3 0-3 0-3 0-3 0-3 0-3 0-3 0-3 0-3 0-3 0-3 0-3 0-3 0-3 0-3 0-3 0-3 0-3 0-3 0-3 0-3 0-3 0-3 0-3 0-3 0-3 0-3 0-3 0-3 0-3 0-3 0-3 0-3 0-3 0-3 0-3 0-3 0-3 0-3 0-3 0-3 0-3 0-3 0-3 0-3 0-3 0-3 0-3 0-3 0-3 0-3 0-3 0-3 0-3 0-3 0-3 0-3 0-3 0-3 0-3 0-3 0-3 0-3 0-3 0-3 0-3 0-3 0-3 0-3 0-3 0-3 0-3 0-3 0-3 0-3 0-3 0-3 0-3 0-3 0-3 0-3 0-3 0-3 0-3 0-3 0-3 0-3 0-3 0-3 0-3 0-3 0-3 0-3 0-3 0-3 0-3 0-3 0-3 0-3 0-3 0-3 0-3 0-3 0-3 0-3 0-3 0-3 0-3 0-3 0-3zM207 461l-.5 0-2.5 1-3 1.5-.5 .5-2.5 2-1 1-2 3-1.5 3-.5 3 .5 3 1.5 2.5 .5 .5 2.5 1.5 3 0 3-.5 1.5-1 1.5-.5 3-2 .5-.5 2.5-3 1-3 .5-3-.5-3-.5-3-.5-.5-3-2-1.5-.5zM303 259.5l-.5 .5-2.5 2.5-.5 .5-1 3-1 3 0 3 0 3-.5 3 .5 3 .5 3 1.5 3 .5 1 1.5 2 1.5 1.5 3 1.5 3 1 3 1.5 1 .5 2 1 3 1.5 .5 .5 2.5 1.5 2 1.5 1 1 3 2 3 2.5 .5 .5 2.5 1.5 3 1 3-1.5 1-1 2-3 1-3 0-3 0-3-.5-3-.5-2.5 0-.5-1-3-1-3-1-2.5 0-.5-1-3-1.5-3-.5-1-1-2-1.5-3-.5-.5-2.5-2.5-.5-.5-2.5-2.5-.5-.5-3-1.5-2.5-1-.5 0-3-1.5-3-.5-3-.5-3 .5-3 0zM378 521l-.5 0-2.5 2.5-.5 .5-1 3-.5 3 1 3 1 2.5 0 .5 2.5 3 .5 1 2 2 1 1 2.5 2 .5 .5 3 1 1.5-1.5 1-3 0-3 0-3-.5-3 0-3-.5-3-.5-3-1-2-1.5-1-1.5-1.5-3 0zM465 526l-2 1 .5 3 1.5 1.5 1.5 1.5 1.5 1 2 2 1 2 1 1 2 1.5 3-1.5 3-3-3-2.5-1-.5-2-1-2.5-2-.5-.5-2.5-2.5-.5 0z"/>
<path fill="#b0f625" d="M78 74l3 0 3 0 3 0 3 0 3 0 3 0 3 0 3 0 3 0 3 0 3 0 3 0 3 0 3 0 3 0 3 0 3 0 3 0 3 0 3 0 3 0 3 0 3 0 3 0 3 0 3 0 3 0 3 0 3 0 3 0 3 0 3 0 3 0 3 0 3 0 3 0 3 0 3 0 3 0 3 0 3 0 3 0 3 0 3 0 3 0 3 0 3 0 3 0 3 0 3 0 3 0 3 0 3 0 3 0 3 0 3 0 3 0 3 0 3 0 3 0 3 0 3 0 3 0 3 0 3 0 3 0 3 0 3 0 3 0 3 0 3 0 3 0 3 0 3 0 3 0 3 0 3 0 3 0 3 0 3 0 3 0 3 0 3 0 3 0 3 0 3 0 3 0 3 0 3 0 3 0 3 0 3 0 3 0 3 0 3 0 3 0 3 0 3 0 3 0 3 0 3 0 3 0 3 0 3 0 3 0 3 0 3 0 3 0 3 0 3 0 3 0 3 0 3 0 3 0 3 0 3 0 3 0 3 0 3 0 3 0 3 0 3 0 3 0 3 0 3 0 3 0 3 0 3 0 3 0 3 0 3 0 3 0 3 0 3 0 3 0 3 0 3 0 3 0 3 0 3 0 3 0 3 0 3 0 3 0 3 0 3 0 3 0 3 0 3 0 3 0 3 0 3 0 3 0 3 0 3 0 3 0 3 0 3 0 3 0 3 0 3 0 3 0 3 0 3 0 3 0 3 0 0 3 0 3 0 3 0 3 0 3 0 3 0 3 0 3 0 3 0 3 0 3 0 3 0 3 0 3 0 3 0 3 0 3 0 3 0 3 0 3 0 3 0 3 0 3 0 3 0 3 0 3 0 3 0 3 0 3 0 3 0 3 0 3 0 3 0 3 0 3 0 3 0 3 0 3 0 3 0 3 0 3 0 3 0 3 0 3 0 3 0 3 0 3 0 3 0 3 0 3 0 3 0 3 0 3 0 3 0 3 0 3 0 3 0 3 0 3 0 3 0 3 0 3 0 3 0 3 0 3 0 3 0 3 0 3 0 3 0 3 0 3 0 3 0 3 0 3 0 3 0 3 0 3 0 3 0 3 0 3 0 3 0 3 0 3 0 3 0 3 0 3 0 3 0 3 0 3 0 3 0 3 0 3 0 3 0 3 0 3 0 3 0 3 0 3 0 3 0 3 0 3 0 3 0 3 0 3 0 3 0 3 0 3 0 3 0 3 0 3 0 3 0 3 0 3 0 3 0 3 0 3 0 3 0 3 0 3 0 3 0 3 0 3 0 3 0 3 0 3 0 3 0 3 0 3 0 3 0 3 0 3 0 3 0 3 0 3 0 3 0 3 0 3 0 3 0 3 0 3 0 3 0 3 0 3 0 3 0 3 0 3 0 3 0 3 0 3 0 3 0 3 0 3 0 3 0 3 0 3 0 3 0 3 0 3 0 3 0 3 0 3 0 3 0 3 0 3 0 3 0 3 0 3 0 3 0 3 0 3 0 3 0 3 0 3 0 3 0 3 0 3-3 0-3 0-3 0-3 0-3 0-3 0-3 0-3 0-3 0-3 0-3 0-3 0-3 0-3 0-3 0-3 0-3 0-3 0-3 0-3 0-3 0-3 0-3 0-3 0-3 0-3 0-3 0-3 0-3 0-3 0-3 0-3 0-3 0-3 0-3 0-3 0-3 0-3 0-3 0-3 0-3 0-3 0-3 0-3 0-3 0-3 0-3 0-3 0-3 0-3 0-3 0-3 0-3 0-3 0-3 0-3 0-3 0-3 0-3 0-3 0-3 0-3 0-3 0-3 0-3 0-3 0-3 0-3 0-3 0-3 0-3 0-3 0-3 0-3 0-3 0-3 0-3 0-3 0-3 0-3 0-3 0-3 0-3 0-3 0-3 0-3 0-3 0-3 0-3 0-3 0-3 0-3 0-3 0-3 0-3 0-3 0-3 0-3 0-3 0-3 0-3 0-3 0-3 0-3 0-3 0-3 0-3 0-3 0-3 0-3 0-3 0-3 0-3 0-3 0-3 0-3 0-3 0-3 0-3 0-3 0-3 0-3 0-3 0-3 0-3 0-3 0-3 0-3 0-3 0-3 0-3 0-3 0-3 0-3 0-3 0-3 0-3 0-3 0-3 0-3 0-3 0-3 0-3 0-3 0-3 0-3 0-3 0-3 0-3 0-3 0-3 0-3 0-3 0-3 0-3 0-3 0-3 0-3 0-3 0-3 0-3 0-3 0-3 0-3 0-3 0-3 0 0-3 0-3 0-3 0-3 0-3 0-3 0-3 0-3 0-3 0-3 0-3 0-3 0-3 0-3 0-3 0-3 0-3 0-3 0-3 0-3 0-3 0-3 0-3 0-3 0-3 0-3 0-3 0-3 0-3 0-3 0-3 0-3 0-3 0-3 0-3 0-3 0-3 0-3 0-3 0-3 0-3 0-3 0-3 0-3 0-3 0-3 0-3 0-3 0-3 0-3 0-3 0-3 0-3 0-3 0-3 0-3 0-3 0-3 0-3 0-3 0-3 0-3 0-3 0-3 0-3 0-3 0-3 0-3 0-3 0-3 0-3 0-3 0-3 0-3 0-3 0-3 0-3 0-3 0-3 0-3 0-3 0-3 0-3 0-3 0-3 0-3 0-3 0-3 0-3 0-3 0-3 0-3 0-3 0-3 0-3 0-3 0-3 0-3 0-3 0-3 0-3 0-3 0-3 0-3 0-3 0-3 0-3 0-3 0-3 0-3 0-3 0-3 0-3 0-3 0-3 0-3 0-3 0-3 0-3 0-3 0-3 0-3 0-3 0-3 0-3 0-3 0-3 0-3 0-3 0-3 0-3 0-3 0-3 0-3 0-3 0-3 0-3 0-3 0-3 0-3 0-3 0-3 0-3 0-3 0-3 0-3 0-3 0-3 0-3 0-3 0-3 0-3 0-3 0-3 0-3 0-3 0-3 0-3 0-3 0-3 0-3 0-3 0-3 0-3 0-3 0-3 0-3 0-3 0-3 0-3 0-3 0-3 0-3 0-3 0-3zM204 460.5l-1 .5-2 1.5-2.5 1.5-.5 .5-3 2.5-2.5 3-.5 1-1 2-1 3 0 3 1 3 1 2 1 1 2 1.5 3 .5 3-.5 3-1 1-.5 2-1 2.5-2 .5 0 3-3 2-3 .5-3 0-3 0-3-1-3-1.5-2.5-1-.5-2-.5-3-.5zM303 250.5l-1 .5-2 .5-3 2-.5 .5-2.5 2.5 0 .5-1 3-1.5 3 0 3 .5 3 0 3 .5 3 0 3 .5 3 0 3 1 3 0 .5 1.5 2.5 1.5 2 .5 1 2.5 2 2 1 1 .5 3 1 3 1 1 .5 2 1 3 1.5 1 .5 2 1.5 2 1.5 1 1 2 2 1 1.5 1.5 1.5 1.5 2 1 1 2 1.5 2 1.5 1 .5 3 .5 3-.5 1-.5 2-1 2.5-2 .5-.5 2-2.5 1-2 .5-1 1-3 .5-3 0-3-.5-3-.5-3-1-3 0-.5-1-2.5-.5-3-1-3-.5-2.5 0-.5-1.5-3-1-3-.5-1-1-2-1.5-3-.5-.5-1.5-2.5-1.5-2-.5-1-2.5-2.5-.5-.5-2.5-1.5-2.5-1.5-.5-.5-3-1-3-1-3-.5-1 0-2 0-3-.5-3 0-3 0zM381 517.5l-1.5 .5-1.5 .5-3 2.5-3 3 0 .5-1 2.5 0 3 1 3 0 .5 1 2.5 2 3 2.5 3 .5 .5 2.5 2.5 .5 .5 3 2.5 3 1.5 3-1.5 1.5-3 0-3 0-3-.5-3-.5-3-.5-3 0-.5-.5-2.5-1-3-1-3-.5-1-2.5-2-.5-.5zM402 235.5l-.5 .5-1 3-1.5 3-1 3 0 3 1 1.5 3 1.5 3-1 2.5-2 .5-1.5 .5-1.5 0-3-.5-1.5-.5-1.5-1.5-3-1-2zM456 523.5l-.5 .5 .5 1 1 2 2 3 3 3 3 2 1 1 2 2 1 1 1 3 1 2 3 0 3-2 3-2.5 1-.5 1.5-3-1-3-1.5-.5-3-1.5-1.5-1-1.5-1.5-1.5-1.5-1.5-1.5-2-1.5-1-.5-3-1-3 0-3 0z"/>
<path fill="#b3f524" d="M78 74l3 0 3 0 3 0 3 0 3 0 3 0 3 0 3 0 3 0 3 0 3 0 3 0 3 0 3 0 3 0 3 0 3 0 3 0 3 0 3 0 3 0 3 0 3 0 3 0 3 0 3 0 3 0 3 0 3 0 3 0 3 0 3 0 3 0 3 0 3 0 3 0 3 0 3 0 3 0 3 0 3 0 3 0 3 0 3 0 3 0 3 0 3 0 3 0 3 0 3 0 3 0 3 0 3 0 3 0 3 0 3 0 3 0 3 0 3 0 3 0 3 0 3 0 3 0 3 0 3 0 3 0 3 0 3 0 3 0 3 0 3 0 3 0 3 0 3 0 3 0 3 0 3 0 3 0 3 0 3 0 3 0 3 0 3 0 3 0 3 0 3 0 3 0 3 0 3 0 3 0 3 0 3 0 3 0 3 0 3 0 3 0 3 0 3 0 .5 0 2.5 1.5 3 .5 1.5 1 1.5 1 3 1.5 .5 .5 2.5 1.5 3 .5 2.5 1 .5 0 3 0 .5 0 2.5-1.5 1.5-1.5 1.5-2.5 0-.5 1.5-3 1.5 0 3 0 3 0 3 0 3 0 3 0 3 0 3 0 3 0 3 0 3 0 3 0 3 0 3 0 3 0 3 0 3 0 3 0 3 0 3 0 3 0 3 0 3 0 3 0 3 0 3 0 3 0 3 0 3 0 3 0 3 0 3 0 3 0 3 0 3 0 3 0 3 0 3 0 3 0 3 0 3 0 3 0 3 0 3 0 3 0 3 0 3 0 3 0 3 0 3 0 3 0 3 0 3 0 3 0 3 0 3 0 3 0 3 0 0 3 0 3 0 3 0 3 0 3 0 3 0 3 0 3 0 3 0 3 0 3 0 3 0 3 0 3 0 3 0 3 0 3 0 3 0 3 0 3 0 3 0 3 0 3 0 3 0 3 0 3 0 3 0 3 0 3 0 3 0 3 0 3 0 3 0 3 0 3 0 3 0 3 0 3 0 3 0 3 0 3 0 3 0 3 0 3 0 3 0 3 0 3 0 3 0 3 0 3 0 3 0 3 0 3 0 3 0 3 0 3 0 3 0 3 0 3 0 3 0 3 0 3 0 3 0 3 0 3 0 3 0 3 0 3 0 3 0 3 0 3 0 3 0 3 0 3 0 3 0 3 0 3 0 3 0 3 0 3 0 3 0 3 0 3 0 3 0 3 0 3 0 3 0 3 0 3 0 3 0 3 0 3 0 3 0 3 0 3 0 3 0 3 0 3 0 3 0 3 0 3 0 3 0 3 0 3 0 3 0 3 0 3 0 3 0 3 0 3 0 3 0 3 0 3 0 3 0 3 0 3 0 3 0 3 0 3 0 3 0 3 0 3 0 3 0 3 0 3 0 3 0 3 0 3 0 3 0 3 0 3 0 3 0 3 0 3 0 3 0 3 0 3 0 3 0 3 0 3 0 3 0 3 0 3 0 3 0 3 0 3 0 3 0 3 0 3 0 3 0 3 0 3 0 3 0 3 0 3 0 3 0 3 0 3 0 3 0 3 0 3 0 3 0 3 0 3 0 3 0 3 0 3 0 3 0 3 0 3 0 3 0 3 0 3 0 3 0 3 0 3-3 0-3 0-3 0-3 0-3 0-3 0-3 0-3 0-3 0-3 0-3 0-3 0-3 0-3 0-3 0-3 0-3 0-3 0-3 0-3 0-3 0-3 0-3 0-3 0-3 0-3 0-3 0-3 0-3 0-3 0-3 0-3 0-3 0-3 0-3 0-3 0-3 0-3 0-3 0-3 0-3 0-3 0-3 0-3 0-3 0-3 0-3 0-3 0-3 0-3 0-3 0-3 0-3 0-3 0-3 0-3 0-3 0-3 0-3 0-3 0-3 0-3 0-3 0-3 0-3 0-3 0-3 0-3 0-3 0-3 0-3 0-3 0-3 0-3 0-3 0-3 0-3 0-3 0-1 0-2 0-3 0-1.5 0-1.5 0-1 0-2 0-3-.5-3-.5-3-.5-3 .5-1 1-2 0-3 0-3 0-3 0-3 0-3 0-3 0-3 0-3 0-3 0-3 0-3 0-3 0-3 0-3 0-3 0-3 0-3 0-3 0-3 0-3 0-3 0-3 0-3 0-3 0-3 0-3 0-3 0-3 0-3 0-3 0-3 0-3 0-3 0-3 0-3 0-3 0-3 0-3 0-3 0-3 0-3 0-3 0-3 0-3 0-3 0-3 0-3 0-3 0-3 0-3 0-3 0-3 0-3 0-3 0-3 0-3 0-3 0-3 0-3 0-3 0-3 0-3 0-3 0-3 0-3 0-3 0-3 0-3 0-3 0-3 0-3 0-3 0-3 0-3 0-3 0-3 0-3 0-3 0-3 0 0-3 0-3 0-3 0-3 0-3 0-3 0-3 0-3 0-3 0-3 0-3 0-3 0-3 0-3 0-3 0-3 0-3 0-3 0-3 0-3 0-3 0-3 0-3 0-3 0-3 0-3 0-3 0-3 0-3 0-3 0-3 0-3 0-3 0-3 0-3 0-3 0-3 0-3 0-3 0-3 0-3 0-3 0-3 0-3 0-3 0-3 0-3 0-3 0-3 0-3 0-3 0-3 0-3 0-3 0-3 0-3 0-3 0-3 0-3 0-3 0-3 0-3 0-3 0-3 0-3 0-3 0-3 0-3 0-3 0-3 0-3 0-3 0-3 0-3 0-3 0-3 0-3 0-3 0-3 0-3 0-3 0-3 0-3 0-3 0-3 0-3 0-3 0-3 0-3 0-3 0-3 0-3 0-3 0-3 0-3 0-3 0-3 0-3 0-3 0-3 0-3 0-3 0-3 0-3 0-3 0-3 0-3 0-3 0-3 0-3 0-3 0-3 0-3 0-3 0-3 0-3 0-3 0-3 0-3 0-3 0-3 0-3 0-3 0-3 0-3 0-3 0-3 0-3 0-3 0-3 0-3 0-3 0-3 0-3 0-3 0-3 0-3 0-3 0-3 0-3 0-3 0-3 0-3 0-3 0-3 0-3 0-3 0-3 0-3 0-3 0-3 0-3 0-3 0-3 0-3 0-3 0-3 0-3 0-3 0-3 0-3 0-3 0-3 0-3 0-3 0-3 0-3 0-3 0-3 0-3 0-3 0-3 0-3 0-3 0-3zM204 460l-3 1-3 2-1.5 1-1.5 1.5-2 1.5-1 1-1.5 2-1.5 2.5-.5 .5-1 3-.5 3 0 3 1 3 1 2 .5 1 2.5 2 2.5 1 .5 0 3 0 .5 0 2.5-.5 3-1.5 1-1 2-1.5 2-1.5 1-1 2.5-2 .5-.5 2-2.5 1-1.5 .5-1.5 .5-3 0-3-.5-3-.5-3-1.5-3-1.5-.5-3-1-3-.5zM294 244l-2.5 1-.5 .5-2 2.5-1 1.5-1 1.5-.5 3-1 3 .5 3 0 3 .5 3 1 3 .5 3 0 .5 .5 2.5 .5 3 0 3 .5 3 .5 3 .5 3 .5 .5 1.5 2.5 1.5 1.5 2 1.5 1 1 3 1.5 1 .5 2 1 3 1 2.5 1 .5 0 3 1.5 2.5 1.5 .5 .5 3 2.5 2.5 3 .5 1 1.5 2 1.5 2 1 1 2 1.5 2 1.5 1 .5 3 1 3 .5 3 0 3-.5 3-1.5 .5 0 2.5-2 1.5-1 1.5-2 1-1 1.5-3 .5-1 .5-2 .5-3 .5-3-.5-3-.5-3-.5-3 0-.5-.5-2.5-1-3-.5-3-1-3 0-1-.5-2-.5-3-1-3-.5-3-.5-1.5-.5-1.5-1.5-3-1-2.5-.5-.5-2-3-.5-.5-2-2.5-1-1-2-2-1-1-3-2-3-2-3-1-3-.5-3-.5-3-.5-3-1-3 0-3 0-3 .5-3 0-3 0-3 .5zM384 502l-.5 1-.5 3 1 2.5 3-1 .5-1.5 .5-3-1-2zM408 217.5l0 .5-2 3-1 1-1.5 2-1.5 2-1 1-2 2.5 0 .5-2 3-1 3-1 3-1 3-1 2-.5 1-1 3 .5 3 1 2.5 .5 .5 2.5 1.5 3 .5 3-.5 3-1.5 3-2.5 .5-.5 1.5-3 .5-3 0-3-.5-3-.5-3-.5-3 0-3 0-3 0-3 0-3-1-3zM435 175.5l-2 .5-1 .5-1.5 2.5 1 3 .5 0 .5 0 2.5-3 0-3zM453 520l-2 1-1 2.5 0 .5 0 .5 1.5 2.5 1.5 2 1 1 2 1.5 2 1.5 1 .5 3 2 .5 .5 2.5 1.5 1.5 1.5 1.5 2.5 .5 .5 1.5 3 1 1.5 3-.5 1.5-1 1.5-1 3-2 3-2.5 .5-.5 1.5-3 .5-3-2.5-1.5-3-1-1-.5-2-1-2-2-1-1.5-1.5-1.5-1.5-1-3-1.5-1.5-.5-1.5-.5-3-.5-3 0-3-.5zM345 496l-.5 1 .5 1.5 .5 1.5 1.5 3 1 1 3 2 3-2.5 0-.5 0-.5-.5-2.5-2-3-.5-.5-3-2zM384 514l-3 1-3 1.5-2.5 1.5-.5 .5-3 2.5-2.5 3-.5 2.5 0 .5 0 2 0 1 1 3 1.5 3 .5 1 1 2 2 2.5 .5 .5 2.5 3 3 2.5 .5 .5 2.5 2.5 1 .5 2 1.5 3 0 1-1.5 1.5-3 .5-1 .5-2 0-3-.5-3-.5-3-1-3-.5-3-.5-3-.5-1.5-.5-1.5-1-3-1.5-3 0-.5-2.5-2.5z"/>
<path fill="#b7f422" d="M78 74l3 0 3 0 3 0 3 0 3 0 3 0 3 0 3 0 3 0 3 0 3 0 3 0 3 0 3 0 3 0 3 0 3 0 3 0 3 0 3 0 3 0 3 0 3 0 3 0 3 0 3 0 3 0 3 0 3 0 3 0 3 0 3 0 3 0 3 0 3 0 3 0 3 0 3 0 3 0 3 0 3 0 3 0 3 0 3 0 3 0 3 0 3 0 3 0 3 0 3 0 3 0 3 0 3 0 3 0 3 0 3 0 3 0 3 0 1 0 .5 3 1 3 .5 .5 3 2 .5-2.5-.5-.5-2.5-2.5 .5-3 2 0 3 0 3 0 3 0 3 0 3 0 3 0 3 0 3 0 3 0 3 0 3 0 3 0 3 0 3 0 3 0 3 0 3 0 3 0 3 0 3 0 3 0 3 0 3 0 3 0 3 0 3 0 3 0 3 0 3 0 3 0 3 1 3 .5 3 1 1.5 .5 1.5 .5 3 1 3 1 1 .5 2 .5 3 1.5 2.5 1 .5 0 3 1.5 3 1 .5 .5 2.5 1 3 1.5 .5 .5 2.5 1 3 1 3 .5 3 0 3-.5 3-1 1.5-1 1.5-1 1.5-2 1-3 .5-1.5 0-1.5 .5-3 1-3 1.5 0 3 0 3 0 3 0 3 0 3 0 3 0 3 0 3 0 3 0 3 0 3 0 3 0 3 0 3 0 3 0 3 0 3 0 3 0 3 0 3 0 3 0 3 0 3 0 3 0 3 0 3 0 3 0 3 0 3 0 3 0 3 0 3 0 3 0 3 0 3 0 3 0 3 0 3 0 3 0 3 0 3 0 3 0 3 0 3 0 3 0 3 0 3 0 3 0 3 0 3 0 3 0 3 0 3 0 3 0 0 3 0 3 0 3 0 3 0 3 0 3 0 3 0 3 0 3 0 3 0 3 0 3 0 3 0 3 0 3 0 3 0 3 0 3 0 3 0 3 0 3 0 3 0 3 0 3 0 3 0 3 0 3 0 3 0 3 0 3 0 3 0 3 0 3 0 3 0 3 0 3 0 3 0 3 0 3 0 3 0 3 0 3 0 3 0 3 0 3 0 3 0 3 0 3 0 3 0 3 0 3 0 3 0 3 0 3 0 3 0 3 0 3 0 3 0 3 0 3 0 3 0 3 0 3 0 3 0 3 0 3 0 3 0 3 0 3 0 3 0 3 0 3 0 3 0 3 0 3 0 3 0 3 0 3 0 3 0 3 0 3 0 3 0 3 0 3 0 3 0 3 0 3 0 3 0 3 0 3 0 3 0 3 0 3 0 3 0 3 0 3 0 3 0 3 0 3 0 3 0 3 0 3 0 3 0 3 0 3 0 3 0 3 0 3 0 3 0 3 0 3 0 3 0 3 0 3 0 3 0 3 0 3 0 3 0 3 0 3 0 3 0 3 0 3 0 3 0 3 0 3 0 3 0 3 0 3 0 3 0 3 0 3 0 3 0 3 0 3 0 3 0 3 0 3 0 3 0 3 0 3 0 3 0 3 0 3 0 3 0 3 0 3 0 3 0 3 0 3 0 3 0 3 0 3 0 3 0 3 0 3 0 3 0 3 0 3 0 3 0 3 0 3 0 3 0 3 0 3 0 3 0 3 0 3 0 3 0 3 0 3 0 3 0 3 0 3 0 3 0 3-3 0-3 0-3 0-3 0-3 0-3 0-3 0-3 0-3 0-3 0-3 0-3 0-3 0-3 0-3 0-3 0-3 0-3 0-3 0-3 0-3 0-3 0-3 0-3 0-3 0-3 0-3 0-3 0-3 0-3 0-3 0-3 0-3 0-3 0-3 0-3 0-3 0-3 0-3 0-3 0-3 0-3 0-3 0-3 0-3 0-3 0-3 0-3 0-3 0-3 0-3 0-3 0-3 0-3 0-3 0-3 0-3 0-3 0-3 0-3 0-3 0-3 0-3 0-3 0-3 0-3 0-3 0-3 0-3 0-3 0-3 0-3 0-3 0-3 0-2.5 0-.5-.5-3-2-.5-.5-2.5-1-3-.5-3 0-3 .5-3 .5-3 .5-3-.5-3-1-3 0-3 0-3 1-.5 .5-2 3-.5 0-3 0-3 0-3 0-3 0-3 0-3 0-3 0-3 0-3 0-3 0-3 0-3 0-3 0-3 0-3 0-3 0-3 0-3 0-3 0-3 0-3 0-3 0-3 0-3 0-3 0-3 0-3 0-3 0-3 0-3 0-3 0-3 0-3 0-3 0-3 0-3 0-3 0-3 0-3 0-3 0-3 0-3 0-3 0-3 0-3 0-3 0-3 0-3 0-3 0-3 0-3 0-3 0-3 0-3 0-3 0-3 0-3 0-3 0-3 0-3 0-3 0-3 0-3 0-3 0-3 0-3 0-3 0-3 0-3 0-3 0-3 0-3 0-3 0-3 0-3 0-3 0-3 0-3 0 0-3 0-3 0-3 0-3 0-3 0-3 0-3 0-3 0-3 0-3 0-3 0-3 0-3 0-3 0-3 0-3 0-3 0-3 0-3 0-3 0-3 0-3 0-3 0-3 0-3 0-3 0-3 0-3 0-3 0-3 0-3 0-3 0-3 0-3 0-3 0-3 0-3 0-3 0-3 0-3 0-3 0-3 0-3 0-3 0-3 0-3 0-3 0-3 0-3 0-3 0-3 0-3 0-3 0-3 0-3 0-3 0-3 0-3 0-3 0-3 0-3 0-3 0-3 0-3 0-3 0-3 0-3 0-3 0-3 0-3 0-3 0-3 0-3 0-3 0-3 0-3 0-3 0-3 0-3 0-3 0-3 0-3 0-3 0-3 0-3 0-3 0-3 0-3 0-3 0-3 0-3 0-3 0-3 0-3 0-3 0-3 0-3 0-3 0-3 0-3 0-3 0-3 0-3 0-3 0-3 0-3 0-3 0-3 0-3 0-3 0-3 0-3 0-3 0-3 0-3 0-3 0-3 0-3 0-3 0-3 0-3 0-3 0-3 0-3 0-3 0-3 0-3 0-3 0-3 0-3 0-3 0-3 0-3 0-3 0-3 0-3 0-3 0-3 0-3 0-3 0-3 0-3 0-3 0-3 0-3 0-3 0-3 0-3 0-3 0-3 0-3 0-3 0-3 0-3 0-3 0-3 0-3 0-3 0-3 0-3 0-3 0-3 0-3 0-3 0-3 0-3 0-3 0-3 0-3 0-3 0-3 0-3 0-3 0-3 0-3zM201 460l-2 1-1 1-3 1.5-.5 .5-2.5 2-1.5 1-1.5 2-1 1-2 3 0 .5-1 2.5-1 3 0 3 0 3 1 3 1 2.5 .5 .5 2.5 3 3 2 3 .5 3-.5 3-1 1-1 2-1 2-2 1-1 2-2 1-1 2-2 1-1 2.5-2 .5-1 1.5-2 1-3 0-3-.5-3 0-3-.5-3-1.5-3-3-1.5-3-1-3-.5-3 1zM285 235.5l-1 .5-2 1.5-3 0-3 .5-2.5 1-.5 .5-1-.5-2-.5-.5 .5 .5 .5 1.5 2.5 1.5 2 .5 1 1.5 3 1 1.5 1 1.5 1.5 3 .5 .5 1 2.5 .5 3 1 3 .5 1 .5 2 1.5 3 .5 3 .5 2 0 1 1 3 0 3 .5 3 .5 3 0 3 .5 3 .5 1 1.5 2 1.5 .5 3 2 .5 .5 2.5 1.5 3 1.5 3 1.5 3 1 1.5 .5 1.5 .5 3 1.5 1.5 1 1.5 1.5 1.5 1.5 1.5 2.5 0 .5 1.5 3 1.5 1.5 1.5 1.5 1.5 1 3 2 .5 0 2.5 1 3 1 3 1 1.5 0 1.5 0 2.5 0 .5 0 3-.5 3-1.5 2-1 1-.5 3-2 .5-.5 2.5-3 2-3 1-3 0-.5 .5-2.5 0-3 0-3-.5-2.5 0-.5-.5-3-.5-3-.5-3-1-3-.5-3 0-.5-.5-2.5-.5-3-.5-3-.5-3 0-3-1-3 0-.5-.5-2.5-1-3-1-3-.5-.5-1-2.5-2-3-2-3-1-1-1-2-2-2.5-1-.5-2-.5-3-.5-3-2-3-1-3-.5-3-1-3 .5-3-.5-3-.5-1.5 0-1.5 0-3-.5-3 0-3-.5-3-.5-3 0-3 0-3 0-3 0zM375 205.5l-.5 .5 .5 1 0-1zM411 121.5l0 .5-1 3-1 3-1 1-.5 2-1.5 3 .5 3 1.5 3-.5 3-1.5 3 1 3 1 2.5 .5 .5 2.5 3 3 2 2.5 1 .5 0 3 1 3 2 3 3 1.5 3 0 3-1 3-.5 1.5-.5 1.5-.5 3-.5 3 .5 3 1 1.5 3 1 3-1 2.5-1.5 .5-.5 2-2.5 1-1.5 .5-1.5 1.5-3 1-2 .5-1 .5-3 1-3 .5-3 .5-3 0-1 .5-2 .5-3 0-3 0-3-1-2-1-1-2-1.5-3-.5-3 0-3 .5-3 0-3-.5-3-1-.5 0-2.5-1-3-1-3-.5-1-.5 1-2.5 0-.5 1.5-3 .5-3 0-3 .5-3-1-3-1.5-2zM441 107l0 2.5 3-.5 .5-2-.5-1zM453 518l-1 0-2 .5-3 2.5 0 .5-.5 2.5 0 3 .5 .5 1 2.5 2 2 1.5 1 1.5 1 3 1.5 1.5 .5 1.5 .5 3 1.5 1.5 1 1.5 1 1.5 2 1.5 2 .5 1 2 3 .5 .5 3-.5 3-2 1.5-1 1.5-1 2.5-2 .5-.5 2.5-2.5 .5-.5 1.5-2.5 1.5-2 1-1 2-2.5 .5-.5-.5-3-3-.5-1.5 .5-1.5 .5-3 1.5-3 0-3-2 0-.5-2-2.5-1-1-3-2-.5 0-2.5-1-3-.5-3-1-3-.5-3-.5zM345 490.5l-.5 .5-2.5 3 0 3 1 3 1.5 3 .5 1 1.5 2 1.5 1 3 2 3 .5 2.5-.5 .5-.5 1.5-2.5 0-3-1-3-.5-1-1.5-2-1.5-1.5-1.5-1.5-1.5-2-1.5-1-1.5-.5zM408 206l-.5 0-2.5 2-.5 1-1.5 3-.5 3-.5 2 0 1-1 3-2 2.5-.5 .5-2.5 3-.5 0-2.5 2.5-.5 .5-2.5 3-2 3-1 2-.5 1-1.5 3-.5 3 0 3 .5 3 1 3 1 1.5 1 1.5 2 2 1.5 1 1.5 1 3 .5 3-.5 1-1 2-1 3-2 3-2.5 .5-.5 2-3 .5-.5 .5-2.5 .5-3 0-3-.5-3 0-3 0-3 0-3 0-3 .5-3 .5-3 .5-3 0-3-.5-3 0-3-1-3-.5-.5zM432 580l-.5 1 0 3 0 3 .5 .5 3 2.5 3 1 1-1-.5-3-.5-1-1-2-2-2-2-1zM456 546.5l-2.5 1.5-.5 .5-1.5 2.5-1 3-.5 2.5 0 .5-.5 3 .5 2 .5 1 2.5 3 3 0 3-1.5 1.5-1.5 1-3-1-3-.5-3 .5-3 .5-3-2-2zM387 496l-2.5 1-.5 .5-1.5 2.5-1 3-.5 3 .5 3-.5 2-.5 1-2.5 2-1 1-2 1-2.5 2-.5 .5-3 2.5-2 3-.5 3 .5 3 1 3 1 1.5 .5 1.5 2 3 .5 1 1.5 2 1.5 1.5 1 1.5 2 2 1 1 2 2 1 1 2 2.5 .5 .5 2.5 2.5 1 .5 2 1.5 1.5-1.5 1.5-2.5 0-.5 1-3 .5-3 .5-3 0-3-.5-3-1-3-.5-2.5 0-.5-1-3-.5-3-1-3-.5-2-.5-1-1-3-1-3-.5-3 1-3 1-3 1-3 0-3 0-.5-1-2.5z"/>
<path fill="#baf321" d="M78 74l3 0 3 0 3 0 3 0 3 0 3 0 3 0 3 0 3 0 3 0 3 0 3 0 3 0 3 0 3 0 3 0 3 0 3 0 3 0 3 0 3 0 3 0 3 0 3 0 3 0 3 0 3 0 3 0 3 0 3 0 3 0 3 0 3 0 3 0 3 0 3 0 3 0 3 0 3 0 3 0 3 0 3 0 3 0 3 0 3 0 3 0 3 0 3 0 3 0 3 0 3 0 3 0 3 0 3 0 3 0 3 0 1.5 3 1.5 1 3 2 3 2.5 .5 .5 2.5 2 1.5 1 1 3 .5 .5 3 1 .5-1.5-.5-.5-2.5-2.5 .5-3-1-1-1.5-2-1.5-1.5-1-1.5 0-3 1 0 3 0 3 0 3 0 3 0 3 0 3 0 3 0 3 0 3 0 3 0 3 0 3 0 3 0 3 0 2.5 0 .5 .5 3 .5 3-.5 3 .5 3 0 3 .5 3 .5 .5 1 2.5 2.5 3-1.5 2.5-1 .5 0 1 0 2 .5 3 1 3 0 3 1 1 .5 2 1 3 1 3 .5 2 .5 1 .5 3 .5 3 1 3 .5 1 .5 2 .5 3 1 3 1 2 .5 1 .5 3 1 3 1 2 .5 1 .5 3 1 3 .5 2.5 1 .5 0 3 .5 3 .5 3 .5 3 1 .5 .5 2 3 0 3-.5 3-1 3-1 3 0 .5-.5 2.5-.5 3-.5 3-.5 3-.5 3-.5 1.5 0 1.5-.5 3 .5 3 0 .5 1.5 2.5-1 3-.5 1.5-.5 1.5 0 3 .5 2.5 0 .5 .5 3 1 3 1.5 2.5 .5 .5 2.5 3 .5 0 2.5 2 2.5 1 .5 0 3 .5 3 2 .5 .5 0 3 0 3 0 3-.5 3 0 1.5 0 1.5 0 1 .5 2 2.5 3 3 .5 1-.5 2-1 3-1.5 1-.5 2-1.5 2-1.5 1-1.5 1-1.5 2-3 1.5-3 1.5-3 1-3 1-3 .5-3 .5-2 0-1 1-3 .5-3 .5-3 0-3-.5-3-1-3-.5-1-2-2-1-.5-3-1.5-3-.5-3-.5-1.5 0-1.5 0-3-3-.5-3 0-3 0-3-.5-3-1-3-1-1-1.5-2-1.5-1.5-1.5-1.5-1.5-1.5-1.5-1.5-1.5-2-1-1-1.5-3-.5-2.5 0-.5 0-1 .5-2 1-3 1.5-2 .5-1 2-3 .5-2 .5-1 .5-3 .5-3 1.5-1.5 2.5 1.5 .5 .5 3 1.5 2 1 1 .5 3 1.5 1.5 1 1.5 .5 3 2.5 .5 0 2.5 .5 .5-.5 0-3-.5-3 0-3 0-3 0-3 3 0 3 0 3 0 3 0 3 0 3 0 3 0 3 0 3 0 3 0 3 0 3 0 3 0 3 0 3 0 3 0 3 0 3 0 3 0 3 0 3 0 3 0 3 0 3 0 3 0 3 0 3 0 3 0 3 0 3 0 3 0 3 0 3 0 3 0 3 0 3 0 3 0 3 0 3 0 3 0 3 0 3 0 3 0 3 0 0 3 0 3 0 3 0 3 0 3 0 3 0 3 0 3 0 3 0 3 0 3 0 3 0 3 0 3 0 3 0 3 0 3 0 3 0 3 0 3 0 3 0 3 0 3 0 3 0 3 0 3 0 3 0 3 0 3 0 3 0 3 0 3 0 3 0 3 0 3 0 3 0 3 0 3 0 3 0 3 0 3 0 3 0 3 0 3 0 3 0 3 0 3 0 3 0 3 0 3 0 3 0 3 0 3 0 3 0 3 0 3 0 3 0 3 0 3 0 3 0 3 0 3 0 3 0 3 0 3 0 3 0 3 0 3 0 3 0 3 0 3 0 3 0 3 0 3 0 3 0 3 0 3 0 3 0 3 0 3 0 3 0 3 0 3 0 3 0 3 0 3 0 3 0 3 0 3 0 3 0 3 0 3 0 3 0 3 0 3 0 3 0 3 0 3 0 3 0 3 0 3 0 3 0 3 0 3 0 3 0 3 0 3 0 3 0 3 0 3 0 3 0 3 0 3 0 3 0 3 0 3 0 3 0 3 0 3 0 3 0 3 0 3 0 3 0 3 0 3 0 3 0 3 0 3 0 3 0 3 0 3 0 3 0 3 0 3 0 3 0 3 0 3 0 3 0 3 0 3 0 3 0 3 0 3 0 3 0 3 0 3 0 3 0 3 0 3 0 3 0 3 0 3 0 3 0 3 0 3 0 3 0 3 0 3 0 3 0 3 0 3 0 3 0 3 0 3 0 3 0 3 0 3 0 3 0 3 0 3 0 3 0 3 0 3 0 3 0 3 0 3-3 0-3 0-3 0-3 0-3 0-3 0-3 0-3 0-3 0-3 0-3 0-3 0-3 0-3 0-3 0-3 0-3 0-3 0-3 0-3 0-3 0-3 0-3 0-3 0-3 0-3 0-3 0-3 0-3 0-3 0-3 0-3 0-3 0-3 0-3 0-3 0-3 0-3 0-3 0-3 0-3 0-3 0-3 0-3 0-3 0-3 0-3 0-3 0-3 0-3 0-3 0-3 0-3 0-3 0-3 0-3 0-3 0-3 0-3 0-3 0-3 0-3 0-3 0-3 0-3 0-3 0-3 0-3 0-3 0-3 0-3 0-3 0-2.5 0-.5-.5-2.5-2.5-.5-.5-3-2.5-3-1-3-1-3 0-3 0-3 .5-3 1-1.5 .5-1.5 .5-2.5-.5-.5 0-3-.5-3-.5-3 0-3 .5-1 .5-2 2-.5 1-1 3-1.5 0-3 0-3 0-3 0-3 0-3 0-3 0-3 0-3 0-3 0-3 0-3 0-3 0-3 0-3 0-3 0-3 0-3 0-3 0-3 0-3 0-3 0-3 0-3 0-3 0-3 0-3 0-3 0-3 0-3 0-3 0-3 0-3 0-3 0-3 0-3 0-3 0-3 0-3 0-3 0-3 0-3 0-3 0-3 0-3 0-3 0-3 0-3 0-3 0-3 0-3 0-3 0-3 0-3 0-3 0-3 0-3 0-3 0-3 0-3 0-3 0-3 0-3 0-3 0-3 0-3 0-3 0-3 0-3 0-3 0-3 0-3 0-3 0-3 0-3 0-3 0-3 0-3 0 0-3 0-3 0-3 0-3 0-3 0-3 0-3 0-3 0-3 0-3 0-3 0-3 0-3 0-3 0-3 0-3 0-3 0-3 0-3 0-3 0-3 0-3 0-3 0-3 0-3 0-3 0-3 0-3 0-3 0-3 0-3 0-3 0-3 0-3 0-3 0-3 0-3 0-3 0-3 0-3 0-3 0-3 0-3 0-3 0-3 0-3 0-3 0-3 0-3 0-3 0-3 0-3 0-3 0-3 0-3 0-3 0-3 0-3 0-3 0-3 0-3 0-3 0-3 0-3 0-3 0-3 0-3 0-3 0-3 0-3 0-3 0-3 0-3 0-3 0-3 0-3 0-3 0-3 0-3 0-3 0-3 0-3 0-3 0-3 0-3 0-3 0-3 0-3 0-3 0-3 0-3 0-3 0-3 0-3 0-3 0-3 0-3 0-3 0-3 0-3 0-3 0-3 0-3 0-3 0-3 0-3 0-3 0-3 0-3 0-3 0-3 0-3 0-3 0-3 0-3 0-3 0-3 0-3 0-3 0-3 0-3 0-3 0-3 0-3 0-3 0-3 0-3 0-3 0-3 0-3 0-3 0-3 0-3 0-3 0-3 0-3 0-3 0-3 0-3 0-3 0-3 0-3 0-3 0-3 0-3 0-3 0-3 0-3 0-3 0-3 0-3 0-3 0-3 0-3 0-3 0-3 0-3 0-3 0-3 0-3 0-3 0-3 0-3 0-3 0-3 0-3 0-3 0-3 0-3 0-3 0-3 0-3 0-3 0-3 0-3zM207 457.5l-2.5 .5-.5 0-3 1.5-3 1-.5 .5-2.5 1.5-2.5 1.5-.5 0-3 2.5-.5 .5-2.5 2.5-.5 .5-2 3-.5 1-1 2-1 3-.5 3 0 3 .5 3 1 3 1 2.5 0 .5 2 3 1 1.5 1.5 1.5 1.5 1.5 1.5 1.5 1.5 1 3 1 3-1 1.5-1 1.5-1 1.5-2 1.5-1.5 1-1.5 2-2 .5-1 2.5-3 2.5-3 .5-1 2.5-2 .5-.5 2-2.5 1-1.5 1-1.5 .5-3 0-3-1-3-.5-3-.5-3-1-3-1.5-1-3-1.5-2-.5-1 0zM375 195.5l-2 1.5-1 1-2 2-1 1.5-1.5 1.5-1.5 1.5-1.5 1.5-1.5 1.5-1 1.5-2 3 0 .5-1 2.5-1 3-1 2.5 0 .5-1.5 3-1 3-.5 1.5-.5 1.5-2.5 3-3 1.5-1.5-1.5-1.5-1-3 1-3-2.5-3 1-3 .5-3-.5-3 0-3-.5-3-.5-3 0-3-.5-3-.5-3 0-3-.5-3 0-3-.5-3-.5-3-.5-3 0-2-.5-1 0-3-.5-3 0-3 0-3-1.5-3 0-3-.5-3 0-3 .5-3 .5-3 1-1 .5-2 2-1 1-1 3 0 3 .5 3 1.5 2.5 0 .5 3 2.5 .5 .5 2.5 1.5 2 1.5 1 .5 3 1.5 1 1 2 1.5 1.5 1.5 1.5 1 1.5 2 1 3 .5 .5 1.5 2.5 1.5 2.5 0 .5 1.5 3 1 3 .5 1.5 .5 1.5 .5 3 .5 3 .5 3 0 3 .5 3 0 3-.5 3 .5 3 .5 1.5 3 .5 3 .5 1 .5 2 1 3 1.5 1.5 .5 1.5 .5 3 1 3 1.5 .5 0 2.5 1 3 1.5 .5 .5 2 3 .5 1 1 2 1.5 3 .5 1 2.5 2 .5 .5 3 1.5 2.5 1 .5 .5 3 1 3 1 1.5 .5 1.5 .5 3 .5 3 .5 3 0 3-.5 3-.5 1-.5 2-1 3-1.5 1.5-.5 1.5-1 2.5-2 .5-1 1.5-2 1-3 .5-2.5 0-.5 .5-3 0-3-.5-3 0-1-.5-2-.5-3-.5-3-1-3-.5-3-.5-3 0-3 0-3 0-3 0-3 0-3 0-3 .5-3 0-2 0-1 .5-3 .5-3 1-3 1-2.5 3 2 .5 .5 2.5 .5 3 .5 3 1 1 1 2 1 1.5 2 1.5 1.5 1.5 1.5 1.5 1.5 2 1.5 1 1 3 1 3-.5 3-1.5 3-2.5 0-.5 3-3 3-3 2.5-3 .5-.5 1-2.5 1-3 0-3 0-3 0-3-.5-3 0-3 .5-3 0-3 1-3 0-.5 .5-2.5 .5-3 0-3 0-3 .5-3 0-3 0-3 0-3-1.5-2-3 0-3 1-1.5 1-1.5 1-3 2-3 3 0 .5-1.5 2.5 0 3 0 3 0 3-1 3-.5 .5-3 1-3-1-.5-.5-2.5-3-1.5-3-1.5-3 0-.5-.5-2.5 .5-3 0-2.5 0-.5 .5-3-.5-2-.5-1-2.5-2-3-.5zM429 565.5l-1 .5-2 1.5-.5 1.5 0 3 .5 1 .5 2 1.5 3 .5 3 .5 3 0 1.5 .5 1.5 1.5 3 1 1.5 2 1.5 1 1 2 2 1 1.5 1.5 1.5 1.5 1 2.5-1 0-3-.5-3 0-3-1-3-1-2.5-.5-.5-2-3-.5-1.5-1-1.5-1-3-.5-3-.5-1.5-.5-1.5-2.5-3zM441 104l-2.5 3-.5 .5-2 2.5-1 3-.5 3 .5 .5 3 1 3-1.5 3-2 .5-1 2.5-3 0-.5 .5-2.5-.5-2-.5-1-2.5-1zM450 517l-2.5 1-.5 .5-2.5 2.5-.5 1.5-1 1.5-.5 3-1.5 2.5-3 0-3-1-3 0-.5 1.5 .5 3 3 2 2 1 1 .5 3 1 3 .5 3 1 3 2 2 1-2 .5-2 2.5-1 2.5 0 .5-.5 3-.5 3-.5 3-.5 3 .5 3 .5 3 1 1.5 1 1.5 2 1 3 0 3-.5 1.5-.5 1.5-.5 3-1.5 1-1 2-2 1-1 2-2.5 0-.5 1-3 1.5-3 .5 0 2-3 1-.5 3-2.5 3-2 1.5-1 1.5-1 2.5-2 .5-1 2-2 1-1.5 1.5-1.5 1.5-2 1-1 2-2.5 .5-.5-.5-2 0-1-3-2-3-.5-3 1-3 1-2 .5-1 0-.5 0-2.5-3-3-2.5-.5-.5-2.5-1-3-1-3-1-3-.5-3-.5-3-.5-3 0zM345 487l-1.5 1-1.5 1.5-1 1.5-1 3 0 3 1 3 1 2 .5 1 1.5 3 1 1 2.5 2 .5 .5 3 1.5 2 1 1 .5 3 0 3-.5 2.5-3 .5-3 0-3-1-3-2-3-3-3-3-3-2-3-1-.5-3-1zM390 488l-.5 0-2.5 1-2.5 2-.5 .5-3 2.5-1.5 3 0 3 0 3-.5 3 0 3-1 2-1 1-2 1.5-2.5 1.5-.5 0-3 2-1.5 1-1.5 1.5-.5 1.5-1 3 0 3 .5 3 1 2 .5 1 1.5 3 1 2 .5 1 2.5 3 0 .5 2 2.5 1 1 2 2 1 1 2 2 1 2 1 1 2 3 0 .5 2 2.5 1 2 1 1 2 2 3-1 .5-1 0-3 1-3 .5-3 1-3 .5-3 0-3 0-3-.5-2 0-1-1-3-1-3-1-3 0-.5-.5-2.5-1-3-1-3-.5-3-.5-3 0-3 .5-3 0-.5 1-2.5 1-3 .5-3 .5-2 .5-1 1-3 .5-3-1-3-1-1zM460 542l2-.5 1 .5 2 1 1 2 2 3 0 2.5 0 .5-2 3-1 .5 0-.5-.5-3-.5-3-1.5-3-.5-2z"/>
<path fill="#bef11f" d="M78 74l3 0 3 0 3 0 3 0 3 0 3 0 3 0 3 0 3 0 3 0 3 0 3 0 3 0 3 0 3 0 3 0 3 0 3 0 3 0 3 0 3 0 3 0 3 0 3 0 3 0 3 0 3 0 3 0 3 0 3 0 3 0 3 0 3 0 3 0 3 0 3 0 3 0 3 0 3 0 3 0 3 0 3 0 3 0 3 0 3 0 1.5 0 1.5 .5 0-.5 3 0 3 0 3 0 3 0 3 0 3 0 1.5 0 1.5 1.5 1.5 1.5 1.5 1.5 2 1.5 1 2 2 1 1 1.5 3 .5 3 .5 0 .5 3 2 1 1 2 3 2 0 1 0 3 2.5 1 .5 1.5 3 .5 .5 .5-.5 .5-3-1-1-1.5-2 0-3-1.5-2-1-1 .5-3-2.5-2.5-.5-.5-2.5-3 0-2 3 1 3 0 3-.5 1-1.5 2 0 3 0 1 0 2 1.5 3 1.5 3 1 3 0 3 .5 3 .5 3 .5 1.5 .5 1.5 .5 3 .5 1 2 2 3 1 0 2 0 3 1 3 0 3-1 3 1 3 0 3 2 .5 0 2.5-1 3-1.5 3 .5 3 0 3 .5 3 0 3 1 3 .5 .5 0 2.5 .5 3 .5 3 1 3 .5 2 .5 1 0 3 1 3 .5 3 .5 3 .5 2 .5 1 0 3 1 3 .5 3 .5 3 0 3 .5 3 .5 .5 0 2.5 1.5 2 1.5 1 3-.5 3-.5 3-.5 3-.5 3-1 3 0 1.5 0 1.5-.5 3 0 3 0 3 .5 3 1 3 1.5 3-1 3-1.5 3-.5 3-.5 3 0 3 .5 3 .5 2 .5 1 1.5 3 1 2 1 1 2 2.5 .5 .5 2.5 2.5 1 .5 2 2.5 .5 .5 1 3 0 3-.5 3-1 2-.5 1-2 3-.5 .5-3 2.5-3 2.5-1 .5-2 1-3 1.5-3 0-3-2-.5-.5-2.5-3-3-2.5-1-.5-2-1-3-.5-3 .5-1.5 1-1.5 1-2.5 2-.5 .5-2 2.5-1 1-1.5 2-1.5 1.5-1.5 1.5-1.5 1.5-1 1.5-2 2.5-.5 .5-2 3-.5 .5-1.5 2.5-1.5 2-1 1-2 2.5-.5 .5-2.5 2.5-3 0-2.5 .5-.5 .5-3 .5-3 0-3 .5-3-.5-3 0-3-.5-3 0-3 0-2.5-.5-.5 0-1.5 0-1.5 0-1 0-2 0-3-.5-3-.5-3-.5-3-.5-3-.5-2-.5-1 0-3 0-3-1-3-1-3-.5-3-.5-.5 0-2.5-.5-3-.5-3 0-3-.5-3 0-3 0-3 1.5-.5 0-2.5 1.5-1.5 1.5-1.5 2-.5 1-1 3 0 3 0 3 .5 3 1 2 .5 1 1.5 3 1 1.5 1 1.5 2 2 1.5 1 1.5 1 3 1.5 1.5 .5 1.5 .5 3 1.5 1 1 2 1.5 2 1.5 1 .5 1.5 2.5 1.5 2 1 1 2 3 1.5 3 1.5 3 1 3 1 3 .5 3 .5 3 0 2.5 0 .5 0 3 0 1.5 0 1.5-.5 3 0 3 0 3 0 3-1 3 1 3 .5 .5 3-.5 .5 0 2.5-1 3-1.5 3-.5 3 .5 3 .5 3 1 2 1 1 .5 3 1.5 1 1 2 2.5 0 .5 2 3 1 2 1 1 2 2 1.5 1 1.5 1 3 1.5 1.5 .5 1.5 .5 3 1 3 1.5 .5 0 2.5 1 3 1 2.5 1 .5 0 3 1 3 1 3 1 .5 0 2.5 .5 3 .5 3 .5 3 0 3-.5 3-.5 .5-.5 2.5-2.5 0-.5 .5-3 0-3 0-3 0-3 .5-3 0-3 0-3 0-3 0-3-.5-3-.5-2.5 0-.5-1-3-1.5-3-.5-2-.5-1-.5-3 0-3 .5-3 .5-3 1-3 2-3 3-2.5 3-.5 3 .5 3 1 3 1 3 .5 3-.5 3-1.5 1.5-1 1.5-1 2-2 1-1 1.5-2 1.5-2 .5-1 2.5-3 2-3 1-1 1-2 1-3 1-3 0-.5 0-2.5 0-3 0-3 0-2 0-1 0-3 0-3 .5-3 .5-3 .5-3 .5-3 .5-3 .5-3 0-.5 .5-2.5 .5-3 .5-3 1-3 .5-1 1.5-2 1.5-1.5 3-1.5 3-1.5 2-1.5 1-.5 3-2 .5-.5 2.5-2.5 .5-.5 2-3 .5-.5 1.5-2.5 1.5-2.5 .5-.5 1.5-3 1-2.5 .5-.5 1-3 .5-3 1-3 0-.5 .5-2.5 .5-3 .5-3 0-3-.5-3-.5-3-.5-2-.5-1-2-3-.5-.5-2.5-2.5-.5-.5-2-2.5-1-2.5 0-.5 0-3 0-.5 .5-2.5 2-3 .5-.5 1.5-2.5 1.5-2 .5-1 1.5-3 .5-3-.5-3-2-2-3-.5-3 1.5-2 1-1 1.5-2.5 1.5-.5 .5-3 1.5-3 .5-3-.5-2.5-2-.5-.5-1.5-2.5-1-3 0-3 1-3 1.5-2.5 0-.5 3-3 3-1.5 3 0 3 .5 1.5 1 1.5 .5 3 1.5 2.5 1 .5 0 .5 0 2-3 0-3-.5-3 0-3 .5-3 0-3 .5 0 3 0 3 0 3 0 3 0 3 0 3 0 3 0 3 0 3 0 3 0 3 0 3 0 3 0 3 0 3 0 3 0 3 0 3 0 3 0 3 0 3 0 3 0 3 0 3 0 3 0 3 0 3 0 3 0 3 0 3 0 3 0 3 0 3 0 3 0 3 0 3 0 3 0 3 0 3 0 3 0 3 0 3 0 3 0 0 3 0 3 0 3 0 3 0 3 0 3 0 3 0 3 0 3 0 3 0 3 0 3 0 3 0 3 0 3 0 3 0 3 0 3 0 3 0 3 0 3 0 3 0 3 0 3 0 3 0 3 0 3 0 3 0 3 0 3 0 3 0 3 0 3 0 3 0 3 0 3 0 3 0 3 0 3 0 3 0 3 0 3 0 3 0 3 0 3 0 3 0 3 0 3 0 3 0 3 0 3 0 3 0 3 0 3 0 3 0 3 0 3 0 3 0 3 0 3 0 3 0 3 0 3 0 3 0 3 0 3 0 3 0 3 0 3 0 3 0 3 0 3 0 3 0 3 0 3 0 3 0 3 0 3 0 3 0 3 0 3 0 3 0 3 0 3 0 3 0 3 0 3 0 3 0 3 0 3 0 3 0 3 0 3 0 3 0 3 0 3 0 3 0 3 0 3 0 3 0 3 0 3 0 3 0 3 0 3 0 3 0 3 0 3 0 3 0 3 0 3 0 3 0 3 0 3 0 3 0 3 0 3 0 3 0 3 0 3 0 3 0 3 0 3 0 3 0 3 0 3 0 3 0 3 0 3 0 3 0 3 0 3 0 3 0 3 0 3 0 3 0 3 0 3 0 3 0 3 0 3 0 3 0 3 0 3 0 3 0 3 0 3 0 3 0 3 0 3 0 3 0 3 0 3 0 3 0 3 0 3 0 3 0 3 0 3 0 3 0 3 0 3 0 3 0 3 0 3 0 3 0 3 0 3 0 3 0 3 0 3 0 3 0 3 0 3 0 3 0 3-3 0-3 0-3 0-3 0-3 0-3 0-3 0-3 0-3 0-3 0-3 0-3 0-3 0-3 0-3 0-3 0-3 0-3 0-3 0-3 0-3 0-3 0-3 0-3 0-3 0-3 0-3 0-3 0-3 0-3 0-3 0-3 0-3 0-3 0-3 0-3 0-3 0-3 0-3 0-3 0-3 0-3 0-3 0-1 0 .5-3-1-3-.5-3-.5-3-.5-3 0-1-.5-2-1-3 0-3 1.5-2.5 1-.5 2-1 3-.5 3-.5 3-.5 1.5-.5 1.5-.5 3-1 2.5-1.5 .5-.5 3-2 .5-.5 2.5-2.5 .5-.5 1.5-3 1-2 .5-1 1-3 1.5-2 .5-1 2.5-2.5 .5-.5 2.5-1.5 2-1.5 1-1 2-2 1-1 1.5-2 1.5-1.5 1.5-1.5 1.5-2 1-1 1-3-1-3-1-1.5-2-1.5-1-.5-3 0-3 0-1.5 .5-1.5 .5-3 0-.5-.5-2.5-1.5-1.5-1.5-1.5-1-3-1-2-1-1-.5-3-.5-3-.5-3-.5-3-.5-3 0-3 .5-3 1-2 1-1 1-2 2-1 1.5-2 1.5-1 1-3 .5-3 1-.5 .5-2 3 0 3 1 3 1 3 .5 1.5 1 1.5 1 3 1 3 .5 3-.5 1.5-.5 1.5-2.5 2.5-.5 .5-2.5 1.5-1.5 1.5-1.5 1-2 2-1 1.5-.5 1.5 0 3 .5 2 .5 1 1 3 1.5 3 0 .5 1 2.5 .5 3 .5 3 1 3 2 3 1 2 1 1 2 3 0 .5 1.5 2.5-1.5 0-3 0-3 0-3 0-3 0-3 0-3 0-3 0-3 0-3 0-3 0-3 0-3 0-3 0-3 0-3 0-3 0-3 0-3 0-3 0-3 0-3 0-3 0-3 0-3 0-.5 0-2-3-.5-.5-2.5-2.5-.5-.5-3-2.5-.5 0-2.5-1-3-1-3 0-3 0-3 .5-3 .5-3 1-3 1-3 0-3-.5-3-.5-3 0-3 .5-3 1.5-1 1-1.5 3-.5 1-.5 2-2.5 0-3 0-3 0-3 0-3 0-3 0-3 0-3 0-3 0-3 0-3 0-3 0-3 0-3 0-3 0-3 0-3 0-3 0-3 0-3 0-3 0-3 0-3 0-3 0-3 0-3 0-3 0-3 0-3 0-3 0-3 0-3 0-3 0-3 0-3 0-3 0-3 0-3 0-3 0-3 0-3 0-3 0-3 0-3 0-3 0-3 0-3 0-3 0-3 0-3 0-3 0-3 0-3 0-3 0-3 0-3 0-3 0-3 0-3 0-3 0-3 0-3 0-3 0-3 0-3 0-3 0-3 0-3 0-3 0-3 0-3 0-3 0-3 0-3 0-3 0-3 0-3 0 0-3 0-3 0-3 0-3 0-3 0-3 0-3 0-3 0-3 0-3 0-3 0-3 0-3 0-3 0-3 0-3 0-3 0-3 0-3 0-3 0-3 0-3 0-3 0-3 0-3 0-3 0-3 0-3 0-3 0-3 0-3 0-3 0-3 0-3 0-3 0-3 0-3 0-3 0-3 0-3 0-3 0-3 0-3 0-3 0-3 0-3 0-3 0-3 0-3 0-3 0-3 0-3 0-3 0-3 0-3 0-3 0-3 0-3 0-3 0-3 0-3 0-3 0-3 0-3 0-3 0-3 0-3 0-3 0-3 0-3 0-3 0-3 0-3 0-3 0-3 0-3 0-3 0-3 0-3 0-3 0-3 0-3 0-3 0-3 0-3 0-3 0-3 0-3 0-3 0-3 0-3 0-3 0-3 0-3 0-3 0-3 0-3 0-3 0-3 0-3 0-3 0-3 0-3 0-3 0-3 0-3 0-3 0-3 0-3 0-3 0-3 0-3 0-3 0-3 0-3 0-3 0-3 0-3 0-3 0-3 0-3 0-3 0-3 0-3 0-3 0-3 0-3 0-3 0-3 0-3 0-3 0-3 0-3 0-3 0-3 0-3 0-3 0-3 0-3 0-3 0-3 0-3 0-3 0-3 0-3 0-3 0-3 0-3 0-3 0-3 0-3 0-3 0-3 0-3 0-3 0-3 0-3 0-3 0-3 0-3 0-3 0-3 0-3 0-3 0-3 0-3 0-3 0-3 0-3 0-3 0-3 0-3 0-3 0-3 0-3zM204 457.5l-1.5 .5-1.5 .5-3 1.5-3 1-3 2-2 1-1 .5-3 2.5-3 3-2 3-1 1.5-.5 1.5-1.5 3-.5 3-.5 3 .5 3 .5 3 .5 3 1 3 .5 1.5 .5 1.5 1.5 3 1 2 .5 1 1.5 3 1 3 2 3 1 2 1 1 2 3 0 .5 1 2.5 0 3 2 3 3 2.5 1 .5 2 1 3 0 1-1 2-2.5 0-.5 1-3 0-3-.5-3 0-3-.5-3-.5-3 0-3 .5-3 1-3 1-3 1-2 .5-1 1.5-3 1-2 .5-1 2.5-3 3-3 2.5-3 .5-1.5 1-1.5 0-3 0-3-1-2-.5-1-.5-3-1-3-1-2.5 0-.5-3-2-2-1-1 0-3-.5-3-.5zM264 320l-1.5 3 1.5 0zM390 479l-2 0-1 0-3 1.5-1.5 1.5-1.5 1.5-1.5 1.5-1.5 2-1 1-2 2.5-.5 .5-1.5 3 0 3 2 3 1 3 0 3-1 2.5-.5 .5-2.5 1-3-1-.5-3 0-3 0-3-.5-3-2-2.5-.5-.5-2.5-2-1-1-2-1.5-1.5-1.5-1.5-1.5-1.5-1.5-1.5-1-3-1-3 0-3 1-2 1-1 1-2 2-1 2-.5 1-.5 3 0 3 1 2.5 0 .5 1.5 3 1.5 2.5 .5 .5 2.5 2.5 .5 .5 2.5 2 1.5 1 1.5 1 3 1.5 1.5 .5 1.5 .5 3 2 .5 .5 1 3 .5 3 .5 3 .5 2 .5 1 1 3 1.5 2.5 0 .5 2 3 1 1.5 1 1.5 2 2.5 .5 .5 2.5 3 2.5 3 .5 .5 1.5 2.5 1.5 2.5 .5 .5 1.5 3 1 2.5 0 .5 2 3 1 1.5 3 1.5 3-.5 2-2.5 .5-3 0-3 .5-1.5 .5-1.5 .5-3 .5-3 .5-3 .5-3-.5-3-.5-3-1.5-3 0-.5-1-2.5-1-3-1-3 0-.5-.5-2.5-1-3-.5-3 0-3 0-3 .5-3 1-3 .5-1.5 .5-1.5 1.5-3 1-2.5 0-.5 1.5-3 1-3 0-3-1-3-1.5-2.5-1-.5-2-2z"/>
<path fill="#c2f01e" d="M78 74l3 0 3 0 3 0 3 0 3 0 3 0 3 0 3 0 3 0 3 0 3 0 3 0 3 0 3 0 3 0 3 0 3 0 3 0 3 0 3 0 3 0 3 0 3 0 3 0 3 0 3 0 3 0 3 0 3 0 3 0 3 0 3 0 3 0 3 0 3 0 3 0 2.5 0 .5 0 3 1.5 2.5 1.5 .5 .5 3 2 1.5 .5 1.5 1 3 1.5 1.5 .5 1.5 1 3 1 3 1 3 2 1.5 1 1.5 1 3 1.5 1.5 .5 1.5 0 3 2 1-2-1-1-2-2 .5-3-1.5-2-1-1-2-2-1-1 .5-3-2.5-2.5-.5-.5 .5 0 3 0 1 0 2 1 3 1.5 .5 .5 2.5 2 1 1 2 3 3 1.5 3 1 .5 .5 2.5 1.5 1 1.5 2 2 1 1 2 3 .5 0 2.5 2.5 1 .5 2 .5 3 0 3 .5 1.5 2 1.5 1 3 .5 .5 1.5 2.5 1.5 1-1.5 .5-3-1.5-2-1-1 .5-3-2.5-3 0-1 3 .5 3 .5 3-1 2-2 1-.5 1 .5 2 1 3 1 3 .5 1.5 .5 1.5 0 3 .5 1.5 2.5 1.5 2 3 0 3 0 3 0 3-.5 3 0 3 .5 3 0 3 1 3-.5 3 0 3-.5 3-.5 3 0 3-.5 3 .5 3 0 3 .5 3 .5 3 0 3 .5 .5 0 2.5 .5 3 .5 3 0 3 .5 3 0 3 .5 3 0 3 .5 3 0 3 0 3 0 3-.5 3 1 .5 0 1 3 0 3-.5 3-1 3 0 .5-.5 2.5-.5 3-.5 3 0 3 .5 3 .5 3 .5 1.5 .5 1.5 1.5 3 1 1.5 .5 1.5-.5 1.5-1 1.5-1.5 3-.5 1-1 2-1 3-.5 3 .5 3 0 3 1 3 1 2 .5 1 1.5 3 1 1.5 1 1.5 2 3 0 .5 1 2.5 1 3-.5 3-1.5 3-2.5 3-.5 .5-3 1.5-3 0-3-1.5-.5-.5-2.5-2-1-1-2-1.5-3-1-3-.5-3 .5-3 1-2 1.5-1 .5-2.5 2.5-.5 1-1.5 2-1.5 1.5-1 1.5-2 2.5-.5 .5-2.5 3-3 3-2.5 3-.5 .5-3 2.5-3 3-3 2-3 .5-1.5 .5-1.5 1-3-.5-3 .5-3 .5-3-.5-3 0-3-.5-3 0-3 0-3-.5-1 0-2 0-3-.5-3-.5-3-.5-3-.5-3-.5-2.5-.5-.5 0-3-.5-3-1-3-1-2.5-.5-.5 0-3-.5-3-1-3-.5-3-1-.5 0-2.5-.5-3-.5-3-.5-3 0-3 .5-3 0-3 1-3 2.5-.5 .5-.5 3-1.5 3-.5 1.5-.5 1.5 0 3 .5 3 0 1 .5 2 1 3 1 3 .5 1 1 2 2 3 0 .5 2 2.5 1 1 1.5 2 1.5 1 3 2 3 1.5 3 1.5 3 1 3 2 3 2 1 1 2 2.5 0 .5 3 3 2 3 1 2 .5 1 1 3 1 3 .5 1.5 .5 1.5 .5 3 0 3 .5 3 0 3-.5 3 0 3-.5 3-.5 3-.5 3-.5 3 1 2.5 1.5 .5 1.5 .5 2.5-.5 .5 0 3-1 3-.5 3-.5 3 0 3 .5 3 1 .5 .5 2.5 1.5 2 1.5 1 1 1.5 2 1.5 2.5 .5 .5 2.5 3 3 2.5 1 .5 2 1 3 1.5 1.5 .5 1.5 .5 3 1 3 1.5 3 1.5 3 1.5 3 2 1.5 1 1.5 1 3 1.5 .5 .5 2.5 1 3 1 2.5 1 .5 0 3 1 3 .5 3 0 3 0 3 0 3-.5 3-1 3-2 1-1 1.5-3 0-3-1-3-1-3-.5-2-.5-1-1-3-.5-3 0-3 0-3 0-3 .5-3 .5-3 .5-3 .5-3 0-3-1.5-3-1.5-2-1-1-2-3 2-3 1-1 3-.5 3 0 3-1 .5-.5 2.5-1 3-2 3-2 1-1 2-1.5 1-1.5 2-2 1-1 2-3 1.5-3 1.5-2 .5-1 1.5-3 1-1.5 .5-1.5 1.5-3 1-2 0-1 .5-3 .5-3 0-3 0-3 0-3 0-3 0-3 .5-3 .5-3 1-3 0-1 .5-2 0-3 .5-3 1-3 .5-3 .5-1 .5-2 1.5-3 1-1 2-2 1-1 3-2 3-2 1-1 2-1.5 2-1.5 1-1 2-2 1-1.5 1-1.5 2-3 2-3 1-2 .5-1 1.5-3 1-2.5 0-.5 1-3 .5-3 1-3 .5-2.5 0-.5 .5-3 0-3 0-3-.5-2 0-1-1-3-1-3-1-1.5-1-1.5-2-3 0-.5-1.5-2.5-.5-3 .5-3 1-3 .5-1 1-2 2-3 0-.5 1-2.5 .5-3-.5-3-1-2.5-.5-.5-2.5-2-3 1-1 1-2 1-3 2-1 0-2 1.5-3 .5-3-.5-2-1.5-1-1-1-2-.5-3 1-3 .5-.5 2-2.5 1-.5 3-1 3 0 3 1 1 .5 2 1 3 1 3 0 1-2 0-3 0-3 0-3 0-3 .5-3 .5-3 1 0 3 0 3 0 3 0 3 0 3 0 3 0 3 0 3 0 3 0 3 0 3 0 3 0 3 0 3 0 3 0 3 0 3 0 3 0 3 0 3 0 3 0 3 0 3 0 3 0 3 0 3 0 3 0 3 0 3 0 3 0 3 0 3 0 3 0 3 0 3 0 3 0 3 0 3 0 3 0 3 0 3 0 3 0 0 3 0 3 0 3 0 3 0 3 0 3 0 3 0 3 0 3 0 3 0 3 0 3 0 3 0 3 0 3 0 3 0 3 0 3 0 3 0 3 0 3 0 3 0 3 0 3 0 3 0 3 0 3 0 3 0 3 0 3 0 3 0 3 0 3 0 3 0 3 0 3 0 3 0 3 0 3 0 3 0 3 0 3 0 3 0 3 0 3 0 3 0 3 0 3 0 3 0 3 0 3 0 3 0 3 0 3 0 3 0 3 0 3 0 3 0 3 0 3 0 3 0 3 0 3 0 3 0 3 0 3 0 3 0 3 0 3 0 3 0 3 0 3 0 3 0 3 0 3 0 3 0 3 0 3 0 3 0 3 0 3 0 3 0 3 0 3 0 3 0 3 0 3 0 3 0 3 0 3 0 3 0 3 0 3 0 3 0 3 0 3 0 3 0 3 0 3 0 3 0 3 0 3 0 3 0 3 0 3 0 3 0 3 0 3 0 3 0 3 0 3 0 3 0 3 0 3 0 3 0 3 0 3 0 3 0 3 0 3 0 3 0 3 0 3 0 3 0 3 0 3 0 3 0 3 0 3 0 3 0 3 0 3 0 3 0 3 0 3 0 3 0 3 0 3 0 3 0 3 0 3 0 3 0 3 0 3 0 3 0 3 0 3 0 3 0 3 0 3 0 3 0 3 0 3 0 3 0 3 0 3 0 3 0 3 0 3 0 3 0 3 0 3 0 3 0 3 0 3 0 3 0 3 0 3 0 3 0 3 0 3 0 3 0 3 0 3 0 3 0 3-3 0-3 0-3 0-3 0-3 0-3 0-3 0-3 0-3 0-3 0-3 0-3 0-3 0-3 0-3 0-3 0-3 0-3 0-3 0-3 0-3 0-3 0-3 0-3 0-3 0-3 0-3 0-3 0-3 0-3 0-3 0-3 0-3 0-3 0-3 0-3 0-3 0-3 0-3 0-3 0-3 0-3 0-1 0-.5-3-1-3-.5-2-.5-1-.5-3-.5-3 0-3 .5-3 1-1.5 1.5-1.5 1.5-1 3-1 3-1 3-1 3-1 3-1 3-1.5 2-1.5 1-.5 2.5-2.5 .5-1 1.5-2 1.5-3 1-3 1.5-3 .5-1 1.5-2 1.5-1.5 2-1.5 1-1 2-2 1-1 2-2 1-1 1.5-2 1.5-1.5 1-1.5 2-3 0-1 .5-2-.5-1.5-.5-1.5-2.5-3-3-1.5-3 0-3 0-3 .5-3-.5-2.5-1.5-.5-.5-3-1.5-2.5-1-.5 0-3-1-3-1-3-.5-1.5-.5-1.5 0-3-.5-3 0-3 0-1.5 .5-1.5 .5-3 2-1 .5-2 2-1.5 1-1.5 1.5-3 1-.5 .5-2.5 1-2 2-1 1.5-1 1.5-.5 3 0 3 .5 3 .5 3 0 3 0 3-.5 3-1.5 3-.5 .5-2 2.5-1 1.5-1.5 1.5-1.5 2.5 0 .5-1 3 .5 3 .5 .5 1 2.5 2 3 1.5 3 1 3 .5 1.5 .5 1.5 .5 3 .5 3 1.5 3 0 .5 1.5 2.5 1.5 3 0 .5 1 2.5-1 0-3 0-3 0-3 0-3 0-3 0-3 0-3 0-3 0-3 0-3 0-3 0-3 0-3 0-3 0-3 0-3 0-3 0-3 0-3 0-3 0-3 0-2 0-1-2-.5-1-2.5-3 0-.5-2.5-2.5-.5-.5-3-2-1-.5-2-1-3-1-3 0-3 0-3 .5-3 .5-3 1-.5 0-2.5 1-3 1-3 0-3 0-3-.5-3 0-3 .5-3 1-3 3-1.5 3-1 3-.5 0-3 0-3 0-3 0-3 0-3 0-3 0-3 0-3 0-3 0-3 0-3 0-3 0-3 0-3 0-3 0-3 0-3 0-3 0-3 0-3 0-3 0-3 0-3 0-3 0-3 0-3 0-3 0-3 0-3 0-3 0-3 0-3 0-3 0-3 0-3 0-3 0-3 0-3 0-3 0-3 0-3 0-3 0-3 0-3 0-3 0-3 0-3 0-3 0-3 0-3 0-3 0-3 0-3 0-3 0-3 0-3 0-3 0-3 0-3 0-3 0-3 0-3 0-3 0-3 0-3 0-3 0-3 0-3 0-3 0-3 0-3 0-3 0-3 0-3 0-3 0-3 0 0-3 0-3 0-3 0-3 0-3 0-3 0-3 0-3 0-3 0-3 0-3 0-3 0-3 0-3 0-3 0-3 0-3 0-3 0-3 0-3 0-3 0-3 0-3 0-3 0-3 0-3 0-3 0-3 0-3 0-3 0-3 0-3 0-3 0-3 0-3 0-3 0-3 0-3 0-3 0-3 0-3 0-3 0-3 0-3 0-3 0-3 0-3 0-3 0-3 0-3 0-3 0-3 0-3 0-3 0-3 0-3 0-3 0-3 0-3 0-3 0-3 0-3 0-3 0-3 0-3 0-3 0-3 0-3 0-3 0-3 0-3 0-3 0-3 0-3 0-3 0-3 0-3 0-3 0-3 0-3 0-3 0-3 0-3 0-3 0-3 0-3 0-3 0-3 0-3 0-3 0-3 0-3 0-3 0-3 0-3 0-3 0-3 0-3 0-3 0-3 0-3 0-3 0-3 0-3 0-3 0-3 0-3 0-3 0-3 0-3 0-3 0-3 0-3 0-3 0-3 0-3 0-3 0-3 0-3 0-3 0-3 0-3 0-3 0-3 0-3 0-3 0-3 0-3 0-3 0-3 0-3 0-3 0-3 0-3 0-3 0-3 0-3 0-3 0-3 0-3 0-3 0-3 0-3 0-3 0-3 0-3 0-3 0-3 0-3 0-3 0-3 0-3 0-3 0-3 0-3 0-3 0-3 0-3 0-3 0-3 0-3 0-3 0-3 0-3 0-3 0-3 0-3 0-3 0-3 0-3 0-3 0-3 0-3 0-3 0-3zM201 458l-1 0-2 1-3 1-2 1-1 .5-3 1.5-2 1-1 1-3 2-2.5 3-.5 .5-2 2.5-1 2-.5 1-1.5 3-.5 3-.5 3 0 3 0 3 .5 3 .5 3 .5 3 1 3 .5 3 1 3 .5 3 1 3-.5 3 1 3 .5 3 1 3 1 3-.5 3 .5 3 .5 2 .5 1 1.5 3 1 1.5 1.5 1.5 1.5 1 3 2 3 1 3 .5 3 .5 3 0 3-.5 3-.5 2.5-1 .5-.5 3-2 .5-.5 2-3 .5-2 .5-1 .5-3 0-3 .5-3 0-3-.5-3-.5-3-.5-1-1-2-1-3-1-1.5-.5-1.5-1-3-.5-3-.5-3 .5-3 1-3 1-2.5 .5-.5 1.5-3 1-1 2-2 1-1 1.5-2 1.5-2.5 .5-.5 1-3 .5-3-1-3-1-2.5 0-.5-1.5-3-1.5-3-1.5-3-1.5-1-2.5-2-.5 0-3-.5-3-.5-3-.5-3 .5zM231 94.5l-1.5 .5 1.5 1 .5-1zM273 106.5l-.5 .5 .5 1 0-1zM261 319.5l-.5 .5-2.5 2.5-.5 .5-2 3 2.5 1 3 0 2.5-1 .5 0 3-2.5 .5-.5 1-3-1.5-1-3-.5zM384 468.5l-2.5 1.5-.5 .5-2.5 2.5-.5 1-2 2-1 1-2 2-1 .5-3 2-3 .5-3-.5-3-1-3-1-1-.5-2-.5-3 0-2 .5-1 0-3 1.5-2.5 1.5-.5 .5-2.5 2.5-.5 1-1 2-1 3-.5 3 0 3 1 3 1.5 3 2 3 1 1 2 2 1 1 2.5 2 .5 .5 3 2 1 .5 2 1.5 2.5 1.5 .5 1 1.5 2 1 3 .5 1.5 .5 1.5 1 3 1.5 3 1.5 3 1.5 2.5 .5 .5 2 3 .5 1 1.5 2 1.5 2 1 1 2 2.5 .5 .5 2 3 .5 1 1 2 1.5 3 .5 2 .5 1 1 3 1.5 2.5 .5 .5 2.5 2.5 1.5 .5 1.5 .5 2.5-.5 .5 0 3-2.5 .5-.5 1-3-.5-3 0-3 1-3 .5-3 .5-1.5 .5-1.5 .5-3 0-3-.5-3-.5-2-.5-1-1-3-1-3-.5-1-.5-2-1-3-1.5-3 0-1.5-.5-1.5 0-3 0-3 0-3 .5-2 0-1 1-3 1.5-3 .5-1 1-2 1.5-3 .5-1 1-2 1-3 0-3 0-3-1.5-3-.5-1.5-1-1.5-2-3-3-3 0-.5-2.5-2.5-.5-.5-3-1.5z"/>
<path fill="#c5ee1c" d="M78 74l3 0 3 0 3 0 3 0 3 0 3 0 3 0 3 0 3 0 3 0 3 0 3 0 3 0 3 0 3 0 3 0 3 0 3 0 3 0 3 0 3 0 3 0 3 0 3 0 3 0 3 0 3 0 3 0 3 0 3 0 3 0 3 0 1 0 2 2 1 1 2 2 1 1 1.5 3 .5 .5 2.5 2.5 .5 .5 2.5 2.5 .5 .5 3 2 0 .5 3 2.5 .5 .5 1.5 3 1 2 1.5 1 1 3 .5 .5 2.5 2.5-1 3 1.5 1.5 3 0 1 1.5-1 0-1.5 3 1.5 1.5 2 1.5 .5 3 .5 2 1.5 1 1.5 2 3-2-1.5-3 1.5-2 1-1-1-2.5-2.5 2.5-.5 .5 0-.5-3-2.5-.5-.5 .5-2 3 1.5 3 0 3 0 3 0 3 .5 3-.5 3-2.5 3 1.5 3 1 3-.5 3-1 .5-1-.5-.5-1.5-2.5 .5-3-2-2.5-.5-.5 .5-1.5 3 .5 3 .5 .5 .5 2.5 1.5 3 1 3 .5 2 3 1 .5 3 2 3 .5 3-.5 1 .5 2 1 3 0 1.5 2 1.5 .5 .5-.5 1-3 .5-3-2-3 0-.5 3 0 3 0 3 0 3-1 1.5 1.5 1.5 1 3 0 3 0 3 0 3 0 3-.5 3 0 3 0 3 0 1-.5 2-1 3 0 3-.5 3 0 3 0 3 0 3 0 3 0 3 0 3 0 3 0 3 .5 3 0 3 0 3 0 3 0 3 .5 3 0 3 0 3 0 3-.5 3 .5 3 0 3 0 3 .5 0 .5 .5 2.5-.5 3 0 1-.5 2 0 3 0 3 .5 3 0 .5 .5 2.5 1 3 1 3 .5 .5 1.5 2.5 1.5 3-1.5 3-1.5 2-1 1-1.5 3-.5 1-1 2-1 3 0 3 0 3 .5 3 1 3 .5 1.5 .5 1.5 1 3 .5 3 0 3-2 2-3-1-3-.5-3-.5-2.5 0-.5 0-3 .5-3 1-2 1.5-1 .5-2.5 2.5-.5 .5-2 2.5-1 1-1.5 2-1.5 2.5-.5 .5-2 3-.5 .5-2 2.5-1 1-2 2-1 1-2.5 2-.5 .5-3 2-.5 .5-2.5 1.5-2.5 1.5-.5 0-3 0-3 .5-3 .5-3 .5-3 0-3 0-3-.5-3-.5-3 0-3 0-2-.5-1 0-3-.5-3-.5-3-.5-3-.5-3-.5-3-.5-.5 0-2.5-.5-3-1-3-1-2-.5-1-.5-3-1-3-1-1-.5-2-1-3-1-3-1-3-2-3-1-1.5 0-1.5-.5-3-1-3 0-2-1.5-1-1-3-1-3 .5-3 1-1 .5-2 2-1 1-2 3-.5 3-1 3-1.5 3 1 3 0 3 .5 3 .5 3 1 1.5 1 1.5 1 3 1 2.5 0 .5 1.5 3 1.5 2.5 0 .5 2 3 1 1 1.5 2 1.5 2 .5 1 2.5 2.5 .5 .5 2.5 2 1 1 2 1.5 3 1.5 3 1.5 3 1 .5 .5 2.5 1 3 2 2.5 3 .5 .5 3 2.5 2 3 1 1 1 2 1.5 3 .5 1.5 .5 1.5 1 3 .5 3 .5 3 0 3 0 3 0 3 0 3-.5 3-.5 3-.5 3-1 3 0 1.5 0 1.5 0 .5 3 2 3 0 3-.5 3-.5 3-.5 3 0 3 0 3 1 3 1 3 2.5 .5 .5 2.5 2.5 .5 .5 2 3 .5 .5 2.5 2.5 .5 .5 3 2 .5 .5 2.5 1 3 1 2 1 1 0 3 1.5 3 1.5 3 2 1.5 1 1.5 1 2.5 2 .5 .5 3 2.5 3 2 2.5 1 .5 0 3 1.5 3 1 2 .5 1 0 3 1 3 .5 3 .5 3 0 3 0 3-.5 3-1.5 .5 0 2.5-1.5 2-1.5 1-1 1.5-2 1.5-2 .5-1 .5-3-1-3 0-.5-1.5-2.5-1.5-3-1.5-3-1-3-.5-2.5 0-.5-.5-3 0-3 .5-3 0-1 .5-2 1-3 1.5-3 1.5-3 1.5-2.5 .5-.5 .5-3 1-3 1-2.5 .5-.5 1.5-3 1-1.5 1-1.5 2-2 .5-1 2.5-3 2-3 1-1 1-2 1.5-3 .5-.5 1-2.5 1.5-3 .5-1 .5-2 1.5-3 1-2.5 0-.5 1-3 .5-3 0-3 .5-3 0-3 0-3 0-3 0-3 .5-3 .5-1.5 0-1.5 .5-3 .5-3 .5-3 1-3 .5-2.5 0-.5 1-3 1.5-3 .5-1 1.5-2 1.5-2 1-1 2-1.5 2-1.5 1-.5 3-2.5 3-2.5 .5-.5 2.5-3 2.5-3 .5-1 1.5-2 1.5-2.5 0-.5 2-3 1-2 .5-1 1-3 1-3 .5-1.5 .5-1.5 .5-3 .5-3 .5-3 0-3 0-3-.5-3-.5-3-.5-3-.5-1-1-2-1.5-3-.5-1.5-1-1.5-1-3 0-3 1-3 1-2.5 0-.5 2-3 1-3 0-1 0-2 0-2 0-1-1-3-1.5-3-.5-2.5 0-.5 0-3-.5-3 0-3 0-3 0-3 .5-1.5 .5-1.5 .5-3 2 0 3 0 3 0 3 0 3 0 3 0 3 0 3 0 3 0 3 0 3 0 3 0 3 0 3 0 3 0 3 0 3 0 3 0 3 0 3 0 3 0 3 0 3 0 3 0 3 0 3 0 3 0 3 0 3 0 3 0 3 0 3 0 3 0 3 0 3 0 3 0 3 0 3 0 3 0 3 0 3 0 3 0 0 3 0 3 0 3 0 3 0 3 0 3 0 3 0 3 0 3 0 3 0 3 0 3 0 3 0 3 0 3 0 3 0 3 0 3 0 3 0 3 0 3 0 3 0 3 0 3 0 3 0 3 0 3 0 3 0 3 0 3 0 3 0 3 0 3 0 3 0 3 0 3 0 3 0 3 0 3 0 3 0 3 0 3 0 3 0 3 0 3 0 3 0 3 0 3 0 3 0 3 0 3 0 3 0 3 0 3 0 3 0 3 0 3 0 3 0 3 0 3 0 3 0 3 0 3 0 3 0 3 0 3 0 3 0 3 0 3 0 3 0 3 0 3 0 3 0 3 0 3 0 3 0 3 0 3 0 3 0 3 0 3 0 3 0 3 0 3 0 3 0 3 0 3 0 3 0 3 0 3 0 3 0 3 0 3 0 3 0 3 0 3 0 3 0 3 0 3 0 3 0 3 0 3 0 3 0 3 0 3 0 3 0 3 0 3 0 3 0 3 0 3 0 3 0 3 0 3 0 3 0 3 0 3 0 3 0 3 0 3 0 3 0 3 0 3 0 3 0 3 0 3 0 3 0 3 0 3 0 3 0 3 0 3 0 3 0 3 0 3 0 3 0 3 0 3 0 3 0 3 0 3 0 3 0 3 0 3 0 3 0 3 0 3 0 3 0 3 0 3 0 3 0 3 0 3 0 3 0 3 0 3 0 3 0 3 0 3 0 3 0 3 0 3 0 3 0 3 0 3 0 3 0 3 0 3 0 3 0 3 0 3 0 3 0 3 0 3 0 3 0 3-3 0-3 0-3 0-3 0-3 0-3 0-3 0-3 0-3 0-3 0-3 0-3 0-3 0-3 0-3 0-3 0-3 0-3 0-3 0-3 0-3 0-3 0-3 0-3 0-3 0-3 0-3 0-3 0-3 0-3 0-3 0-3 0-3 0-3 0-3 0-3 0-3 0-3 0-3 0-3 0-3 0-1.5 0-1-3-.5-1-.5-2-1.5-3-.5-3 0-3 .5-3 1.5-3 .5-.5 3-2 1.5-.5 1.5-.5 3-.5 3-1 3-1 3-1 3-2 .5 0 2.5-2 1-1 2-2.5 .5-.5 2-3 .5-1.5 .5-1.5 1.5-3 1-2 .5-1 2.5-3 3-3 2.5-3 .5-.5 2-2.5 1-1 1.5-2 1.5-2 .5-1 1-3 0-3-.5-3-1-1-1.5-2-1.5-1.5-3-1-3-.5-3 .5-3 0-2.5-.5-.5 0-3-1.5-3-1.5-3-1-3-1-3-1-3-.5-3-.5-3-.5-3 0-3 0-3 1-1.5 .5-1.5 1-3 2-3 2-1.5 1-1.5 1-3 1.5-.5 .5-2.5 2.5-.5 .5-1.5 3-1 3 0 1-.5 2 0 3 0 3-.5 3-.5 3-1 3-.5 .5-1.5 2.5-1.5 2.5-.5 .5-2 3-.5 1-1 2-1 3 1.5 3 .5 .5 2 2.5 1 1 1.5 2 1.5 2.5 .5 .5 1 3 1 3 .5 3 0 1 .5 2 1 3 1 3 .5 2 .5 1 1 3-1.5 0-3 0-3 0-3 0-3 0-3 0-3 0-3 0-3 0-3 0-3 0-3 0-3 0-3 0-3 0-3 0-3 0-3 0-3 0-3 0-.5 0-1-3-1.5-2.5-.5-.5-2-3-.5-.5-2.5-2.5-.5 0-3-2-1.5-1-1.5-.5-3-1.5-3-.5-3 .5-3 .5-3 1-1.5 .5-1.5 .5-3 1-3 1-2 .5-1 .5-3 0-3 0-3-.5-1 0-2 0-1 0-2 0-3 1.5-2 1.5-1 1-1.5 2-1.5 3-1 3-2 0-3 0-3 0-3 0-3 0-3 0-3 0-3 0-3 0-3 0-3 0-3 0-3 0-3 0-3 0-3 0-3 0-3 0-3 0-3 0-3 0-3 0-3 0-3 0-3 0-3 0-3 0-3 0-3 0-3 0-3 0-3 0-3 0-3 0-3 0-3 0-3 0-3 0-3 0-3 0-3 0-3 0-3 0-3 0-3 0-3 0-3 0-3 0-3 0-3 0-3 0-3 0-3 0-3 0-3 0-3 0-3 0-3 0-3 0-3 0-3 0-3 0-3 0-3 0-3 0-3 0-3 0-3 0-3 0-3 0-3 0-3 0-3 0-3 0-3 0-3 0 0-3 0-3 0-3 0-3 0-3 0-3 0-3 0-3 0-3 0-3 0-3 0-3 0-3 0-3 0-3 0-3 0-3 0-3 0-3 0-3 0-3 0-3 0-3 0-3 0-3 0-3 0-3 0-3 0-3 0-3 0-3 0-3 0-3 0-3 0-3 0-3 0-3 0-3 0-3 0-3 0-3 0-3 0-3 0-3 0-3 0-3 0-3 0-3 0-3 0-3 0-3 0-3 0-3 0-3 0-3 0-3 0-3 0-3 0-3 0-3 0-3 0-3 0-3 0-3 0-3 0-3 0-3 0-3 0-3 0-3 0-3 0-3 0-3 0-3 0-3 0-3 0-3 0-3 0-3 0-3 0-3 0-3 0-3 0-3 0-3 0-3 0-3 0-3 0-3 0-3 0-3 0-3 0-3 0-3 0-3 0-3 0-3 0-3 0-3 0-3 0-3 0-3 0-3 0-3 0-3 0-3 0-3 0-3 0-3 0-3 0-3 0-3 0-3 0-3 0-3 0-3 0-3 0-3 0-3 0-3 0-3 0-3 0-3 0-3 0-3 0-3 0-3 0-3 0-3 0-3 0-3 0-3 0-3 0-3 0-3 0-3 0-3 0-3 0-3 0-3 0-3 0-3 0-3 0-3 0-3 0-3 0-3 0-3 0-3 0-3 0-3 0-3 0-3 0-3 0-3 0-3 0-3 0-3 0-3 0-3 0-3 0-3 0-3 0-3 0-3 0-3 0-3 0-3 0-3 0-3 0-3 0-3 0-3 0-3 0-3zM198 458l-3 1-3 1-2 1-1 .5-3 1.5-1.5 1-1.5 1-2.5 2-.5 .5-2.5 2.5-.5 .5-2 2.5-1 2-.5 1-1 3-1 3-.5 3-.5 3 0 3 0 3 .5 3 0 1.5 0 1.5 .5 3 .5 3 .5 3 0 3 .5 3 .5 3-.5 3 0 3 0 3 .5 3 0 3 .5 3 0 .5 .5 2.5-.5 1-1 2 1 3 1.5 3 1 3 .5 .5 2.5 2.5 .5 .5 3 2 1 .5 2 .5 3 1.5 3 .5 3 0 3 0 3-.5 3 0 3-.5 3-1 2-.5 1 0 3-1.5 3-1.5 3-2.5 .5-.5 2-3 .5-1 .5-2 0-3 .5-3 0-3 0-3 0-3 .5-3 0-3 0-3-1-3-.5-1.5-.5-1.5-1.5-3-1-1.5-1-1.5-1-3-.5-3 0-3 .5-3 1.5-3 .5-.5 2-2.5 1-1 1.5-2 1.5-1.5 1-1.5 2-3 0-.5 1-2.5 0-3-.5-3-.5-.5-1.5-2.5-1.5-1.5-1-1.5-2-2.5-.5-.5-2.5-3-3-2.5-1-.5-2-.5-3-1-3 0-3-.5-3 .5-3 .5zM261 318.5l-2.5 1.5-.5 .5-3 2-1 .5-2 1.5-3 .5-3-.5-3 1-.5 .5-2.5 3-.5 0 .5 1.5 2 1.5 1 0 .5 0 2.5-.5 3-1 3-.5 3 0 3 0 3-.5 .5-.5 2.5-1.5 2.5-1.5 .5-.5 2.5-2.5 .5-1 1-2-1-2-3-1-3 .5zM378 457l-1.5 1-1.5 1.5-1 1.5-1 3-1 2.5 0 .5-2 3-1 .5-3 1-3 .5-3 .5-3 0-2.5 .5-.5 0-3 1-3 1-2 1-1 .5-3 2.5-3 3-2 3-1 3-.5 3-.5 3 0 3 1 3 0 .5 1 2.5 2 2.5 .5 .5 2.5 2.5 .5 .5 2.5 2 1 1 2 1.5 2 1.5 1 1 2.5 2 .5 .5 2 2.5 1 2 .5 1 1 3 1.5 3 0 .5 1 2.5 2 3 0 .5 1.5 2.5 1.5 2 .5 1 2.5 3 0 .5 2 2.5 1 1 1.5 2 1.5 2.5 .5 .5 1.5 3 1 2.5 0 .5 1 3 1 3 1 3 1.5 3 1.5 2 2 1 1 .5 3 .5 3-1 .5 0 2.5-1.5 2-1.5 1-2 .5-1 0-3-.5-2 0-1-.5-3 .5-2 .5-1 1-3 1-3 .5-3 0-3-1-3-1-3-1-3-1.5-3-1-3-.5-1.5-.5-1.5-1-3-.5-3-.5-3 .5-3 0-3 1-3 1-3 1.5-3 1.5-3 1.5-3 1.5-3 1-3 .5-3 0-3-.5-3-1-2.5-.5-.5-1.5-3-1-2-1-1-1.5-3-.5-.5-1.5-2.5-1.5-3 0-.5-2.5-2.5-.5-.5-3-2-1-.5-2-1-3-.5zM429.5 95l2.5-2 3-.5 3 .5 3 1.5 1.5 .5 1.5 3-2.5 3-.5 .5-3 1-3 1-3-.5-3-2-1-3 1-2z"/>
<path fill="#c9ed1b" d="M78 74l3 0 3 0 3 0 3 0 3 0 3 0 3 0 3 0 3 0 3 0 3 0 3 0 3 0 3 0 2.5 0 .5 .5 3 1 1.5-1.5 1.5 0 3 0 1 0-1 .5-3 1-1 1.5 1 1 3 1.5 2 .5 1 .5 2.5 2.5 .5 .5 3 1 1.5 1.5 1.5 1.5 3 1.5 2.5 3 .5 0 2.5 3 .5 .5 3 2 .5 .5 2.5 3 .5 0 2.5 3 2 3 1 1.5 1.5 1.5 1.5 1.5 1 1.5 2 2 1 1 2 2.5 .5 .5 2.5 3 2.5 3 .5 .5 2.5 2.5 .5 .5 2.5 2.5 .5 .5 2.5 2.5 .5 1.5 1 1.5 2 3 3 2 .5 1 2.5 2.5 1 .5-.5 3 2.5 3 2 3 1 2 .5 1 1.5 3 1 3 0 3 0 .5 .5 2.5 .5 3 .5 3 0 3 .5 3 0 3-2 2-.5 1 .5 1.5 .5 1.5 1 3 1 3 .5 1 1 2 .5 3 0 3 1.5 2.5 .5 .5 1 3 1 3 .5 1 1 2 1.5 3 .5 1 1 2 2 3 2.5 3 .5 .5 2 2.5 1 1.5 1 1.5 2 2.5 .5 .5 2.5 3 2.5 3 .5 .5 2.5 2.5 .5 .5 3 2.5 3 2 1.5 1 1.5 1 3 1.5 1 .5 2 1 3 1.5 1.5 .5 1.5 1 2.5 2 .5 .5 3 2.5 2.5 3 .5 .5 1.5 2.5 1.5 2 .5 1 1 3 1.5 3 0 1 .5 2 .5 3 .5 3 0 3 0 3 0 3-.5 3-.5 3-.5 1-.5 2-1 3-1.5 3-3 2-3 .5-3 0-1.5 .5-1.5 .5-3 2-1.5 .5-1.5 1-3 1.5-3 .5-3 0-.5 0-2.5 1-3 1.5-1 .5-2 2-1 1-1.5 3 1.5 3 1 .5 3 .5 3-.5 1-.5 2-1 3-1 3-.5 3 .5 3-.5 1-.5 2-.5 3-2 .5-.5 2.5-2 1.5-1 1.5-2 1.5-1 1.5-2 1.5-1 1.5-1 3-.5 3-.5 3-.5 3 0 3-.5 3 0 3 .5 3 1 2.5 1.5 .5 .5 3 2.5 3 3 2.5 3 .5 1 2.5 2 .5 .5 3 2 1 .5 2 .5 3 1 3 1 1 .5 2 1 3 1.5 .5 .5 2.5 2 1 1 2 2 1.5 1 1.5 1.5 1.5 1.5 1.5 1 3 2 .5 0 2.5 1 3 1 2 1 1 .5 3 1 3 1 1.5 .5 1.5 .5 3 1 3 .5 3 0 3-.5 3-1 1-.5 2-1 2.5-2 .5 0 3-3 2-3 1-1.5 .5-1.5 1-3 .5-3-1-3-1-2.5-.5-.5-1.5-3-1-2-.5-1-1-3-1-3-.5-3 0-3 .5-3 1-3 1-3 .5-1 1-2 2-3 0-.5 1-2.5 1.5-3 .5-1.5 .5-1.5 1.5-3 1-1.5 1-1.5 1.5-3 .5-.5 1.5-2.5 1.5-2.5 .5-.5 1.5-3 1-1.5 .5-1.5 1.5-3 1-2.5 0-.5 1-3 1-3 1-2.5 0-.5 1-3 1-3 .5-3 0-3 0-3 0-3 0-3 .5-3 0-1 0-2 .5-3 .5-3 .5-3 .5-3 .5-3 .5-1.5 .5-1.5 1-3 1-3 .5-1 1-2 2-2.5 0-.5 3-2.5 .5-.5 2.5-2.5 .5-.5 2.5-2 1-1 2-1.5 1.5-1.5 1.5-1.5 1.5-1.5 1.5-2.5 .5-.5 2-3 .5-1 1.5-2 1.5-2.5 .5-.5 1.5-3 1-3 1-3 1-3 .5-3 .5-2 0-1 .5-3 0-3 0-3-.5-3 0-2.5 0-.5-.5-3-1-3-1-3-.5-1.5-1-1.5-1-3-.5-3 .5-3 1.5-3 .5-1.5 1-1.5 1-3 0-3-.5-3-.5-3-1-2.5 0-.5-1-3-.5-3-.5-3-.5-3 .5-3 .5-3 .5-3 1-3 3 0 3 0 3 0 3 0 3 0 3 0 3 0 3 0 3 0 3 0 3 0 3 0 3 0 3 0 3 0 3 0 3 0 3 0 3 0 3 0 3 0 3 0 3 0 3 0 3 0 3 0 3 0 3 0 3 0 3 0 3 0 3 0 3 0 3 0 3 0 3 0 3 0 3 0 3 0 3 0 3 0 0 3 0 3 0 3 0 3 0 3 0 3 0 3 0 3 0 3 0 3 0 3 0 3 0 3 0 3 0 3 0 3 0 3 0 3 0 3 0 3 0 3 0 3 0 3 0 3 0 3 0 3 0 3 0 3 0 3 0 3 0 3 0 3 0 3 0 3 0 3 0 3 0 3 0 3 0 3 0 3 0 3 0 3 0 3 0 3 0 3 0 3 0 3 0 3 0 3 0 3 0 3 0 3 0 3 0 3 0 3 0 3 0 3 0 3 0 3 0 3 0 3 0 3 0 3 0 3 0 3 0 3 0 3 0 3 0 3 0 3 0 3 0 3 0 3 0 3 0 3 0 3 0 3 0 3 0 3 0 3 0 3 0 3 0 3 0 3 0 3 0 3 0 3 0 3 0 3 0 3 0 3 0 3 0 3 0 3 0 3 0 3 0 3 0 3 0 3 0 3 0 3 0 3 0 3 0 3 0 3 0 3 0 3 0 3 0 3 0 3 0 3 0 3 0 3 0 3 0 3 0 3 0 3 0 3 0 3 0 3 0 3 0 3 0 3 0 3 0 3 0 3 0 3 0 3 0 3 0 3 0 3 0 3 0 3 0 3 0 3 0 3 0 3 0 3 0 3 0 3 0 3 0 3 0 3 0 3 0 3 0 3 0 3 0 3 0 3 0 3 0 3 0 3 0 3 0 3 0 3 0 3 0 3 0 3 0 3 0 3 0 3 0 3 0 3 0 3 0 3 0 3 0 3 0 3 0 3 0 3 0 3 0 3 0 3 0 3 0 3 0 3-3 0-3 0-3 0-3 0-3 0-3 0-3 0-3 0-3 0-3 0-3 0-3 0-3 0-3 0-3 0-3 0-3 0-3 0-3 0-3 0-3 0-3 0-3 0-3 0-3 0-3 0-3 0-3 0-3 0-3 0-3 0-3 0-3 0-3 0-3 0-3 0-3 0-3 0-3 0-3 0-1.5 0-1.5-2.5 0-.5-1.5-3-1.5-2-.5-1-1-3 .5-3 1-3 3-2.5 1-.5 2-1 3-.5 3-1 2.5-.5 .5 0 3-1 3-1 1.5-1 1.5-1 3-2 2.5-3 .5-.5 2-2.5 1-2.5 .5-.5 1.5-3 1-2.5 0-.5 2-3 1-1.5 1-1.5 2-2 .5-1 2.5-3 2-3 1-1 1-2 1.5-3 .5-2.5 0-.5 0-1.5 0-1.5-1-3-2-3-3-2.5-1.5-.5-1.5-.5-3 0-3 0-3 0-3-1-3-1-.5-.5-2.5-1-3-1-3-1-3-1-3-.5-3-.5-3-.5-3 0-3 .5-3 .5-3 1-.5 .5-2.5 1.5-2.5 1.5-.5 .5-3 2-1 .5-2 1-2 2-1 1-1.5 2-1.5 3-1.5 3-.5 3-1 3 0 1.5-.5 1.5-.5 3-1.5 3-.5 1.5-1 1.5-1.5 3-.5 .5-2 2.5-1 1.5-1 1.5-2 3-2.5 3-.5 3-.5 0 .5 0 3 1 3 .5 2 1.5 1 .5 3 2.5 2 3 1 1.5 .5 1.5 1 3 .5 3 .5 3 .5 3 1 3 .5 3 .5 3-2 0-3 0-3 0-3 0-3 0-3 0-3 0-3 0-3 0-3 0-3 0-3 0-3 0-3 0-3 0-3 0-3 0-1.5 0-1-3-.5-1-.5-2-1.5-3-1-1.5-1-1.5-2-2-1.5-1-1.5-.5-3-1.5-2-1-1-.5-3-1-3-1-3-.5-3 1-3 1-2 1-1 .5-3 1-3 1.5-.5 0-2.5 1-3 1-3 .5-3-.5-3-.5-3 0-3 0-3 1-.5 .5-2.5 2-1 1-2 2.5-.5 .5-1 3-1 3-.5 0-3 0-3 0-3 0-3 0-3 0-3 0-3 0-3 0-3 0-3 0-3 0-3 0-3 0-3 0-3 0-3 0-3 0-3 0-3 0-3 0-3 0-3 0-3 0-3 0-3 0-3 0-3 0-3 0-3 0-3 0-3 0-3 0-3 0-3 0-3 0-3 0-3 0-3 0-3 0-3 0-3 0-3 0-3 0-3 0-3 0-3 0-3 0-3 0-3 0-3 0-3 0-3 0-3 0-3 0-3 0-3 0-3 0-3 0-3 0-3 0-3 0-3 0-3 0-3 0-3 0-3 0-3 0-3 0-3 0-3 0-3 0-3 0-3 0-3 0-3 0 0-3 0-3 0-3 0-3 0-3 0-3 0-3 0-3 0-3 0-3 0-3 0-3 0-3 0-3 0-3 0-3 0-3 0-3 0-3 0-3 0-3 0-3 0-3 0-3 0-3 0-3 0-3 0-3 0-3 0-3 0-3 0-3 0-3 0-3 0-3 0-3 0-3 0-3 0-3 0-3 0-3 0-3 0-3 0-3 0-3 0-3 0-3 0-3 0-3 0-3 0-3 0-3 0-3 0-3 0-3 0-3 0-3 0-3 0-3 0-3 0-3 0-3 0-3 0-3 0-3 0-3 0-3 0-3 0-3 0-3 0-3 0-3 0-3 0-3 0-3 0-3 0-3 0-3 0-3 0-3 0-3 0-3 0-3 0-3 0-3 0-3 0-3 0-3 0-3 0-3 0-3 0-3 0-3 0-3 0-3 0-3 0-3 0-3 0-3 0-3 0-3 0-3 0-3 0-3 0-3 0-3 0-3 0-3 0-3 0-3 0-3 0-3 0-3 0-3 0-3 0-3 0-3 0-3 0-3 0-3 0-3 0-3 0-3 0-3 0-3 0-3 0-3 0-3 0-3 0-3 0-3 0-3 0-3 0-3 0-3 0-3 0-3 0-3 0-3 0-3 0-3 0-3 0-3 0-3 0-3 0-3 0-3 0-3 0-3 0-3 0-3 0-3 0-3 0-3 0-3 0-3 0-3 0-3 0-3 0-3 0-3 0-3 0-3 0-3 0-3 0-3 0-3 0-3 0-3 0-3 0-3 0-3 0-3 0-3 0-3zM198 457l-3 1-3 1-3 1-2.5 1-.5 .5-3 1.5-2 1-1 1-3 2-3 3-2 3-1 2-.5 1-1.5 3-.5 3-.5 1-.5 2-.5 3 0 3 0 3 0 3 0 3 0 3 0 3 .5 3 0 3 0 3 0 3 0 3-.5 3-.5 3-.5 3 0 3 0 3-.5 3 0 3 0 3-.5 1.5-.5 1.5 .5 3 0 .5 .5 2.5 1 3 1 3 .5 .5 3 2 1 .5 2 2 2.5 1 .5 0 3 2.5 1 .5 2 1 3 0 3 0 3 0 3-1 .5 0 2.5-1 3-.5 3-1 1.5-.5 1.5-.5 3-1 3-1.5 .5 0 2.5-1 3-1.5 .5-.5 2.5-1.5 3-1.5 3-3 1.5-3 .5-3 0-3 0-3 0-3 0-3 0-3 .5-3 0-3 .5-1.5 0-1.5 .5-3-.5-3 0-.5-1-2.5-1-3-1-2.5-.5-.5-1-3-1-3-.5-3 1.5-3 1.5-2 .5-1 2.5-2.5 .5-.5 2.5-3 2-3 1-3 .5-3 0-3-.5-1.5-.5-1.5-1.5-3-1-1-2-2-1-.5-3-2.5-3-2.5-.5-.5-2.5-1.5-2-1.5-1-.5-3-1-3-.5-3-.5-3 0-3 .5-3 .5zM375 427.5l-2.5 .5-.5 0-3 2.5-.5 .5-2 3-.5 1-1 2-1 3-.5 3-.5 2.5 0 .5-.5 3-.5 3-.5 3-1 3-.5 1-1 2-2 2.5-.5 .5-2.5 2-1 1-2 1-3 2-3 2.5-1 .5-2 1.5-1 1.5-2 2-1 1-1.5 3-.5 .5-1 2.5-.5 3-1 3 0 3 0 3 .5 3 1.5 3 .5 1 1.5 2 1.5 1.5 1.5 1.5 1.5 1 2.5 2 .5 .5 3 2.5 .5 0 2.5 2.5 .5 .5 2.5 3 1.5 3 1.5 3 0 .5 1 2.5 1.5 3 .5 1 1 2 2 3 2 3 1 1.5 1 1.5 2 2.5 0 .5 2.5 3 .5 1 1.5 2 1.5 3 1 3 1 3 .5 3 .5 3 .5 3 1 3 1.5 2 1 1 2 1.5 3 .5 3-.5 3-1 1-.5 2-1 3-2 3-3 3-3-1-3-2-1.5-.5-1.5-1-3 1-3 .5-1.5 1-1.5 1-3 .5-3-.5-3-1-3-1-2.5 0-.5-1.5-3-1.5-3-1-3-1.5-3-.5-2-.5-1-.5-3 0-3 0-3 .5-3 .5-1 .5-2 1.5-3 1-2.5 .5-.5 1.5-3 1-2 .5-1 1.5-3 1-2 .5-1 .5-3 0-3-.5-3-.5-2-.5-1-1-3-1.5-2.5-.5-.5-1.5-3-1-1.5-.5-1.5-1.5-3-1-2-.5-1-2-3-.5-.5-2.5-2.5-.5-.5-2.5-2.5-.5-1-2-2-1-1.5-1-1.5-1.5-3-.5-1-1-2-1-3-1-3-1-3-1.5-3zM134.5 77l.5-1 1 1-1 1.5zM434 95l1-.5 3 0 1 .5 2 1.5 1 1.5-1 1.5-1.5 1.5-1.5 .5-3 0-1.5-.5-1.5-2-.5-1 .5-.5zM317 116l1-1 3-.5 3 0 3 0 3 0 3 0 3 0 3 .5 3 .5 3 0 3 0 3 .5 1.5 0 1.5 0 3 .5 3 0 3 0 3 0 3 0 3 .5 3 .5 3 1.5 2 3 1 1.5 .5 1.5 1 3 1.5 3 1 3 1.5 3 .5 3-2 3-1 1-3 2-.5 0-2.5 1-3 1-3 .5-1 .5-.5 3 .5 3 1 2.5 .5 .5 1 3 0 3-.5 3-1 1.5-1 1.5-2 2.5-.5 .5-2.5 3-2 3-1 1.5-1 1.5-1.5 3-.5 .5-1.5 2.5-1.5 3-1.5 3-1.5 2-.5 1-2.5 2.5-1 .5-2 1.5-2 1.5-1 .5-3 1.5-2 1-1 .5-3 1-3 0-3-.5-3 .5-3 0-3 0-3-.5-3-.5-3 0-3-.5-1.5 0-1.5-.5-3-.5-3-.5-3-.5-3-.5-3-.5-.5 0-2.5-.5-3-1.5-3-.5-2-.5-1-.5-3-1.5-2-1-1-.5-3-1.5-1.5-1-1.5-1-3-2-3-2-1.5-1-1.5-1-3-2 0-.5-1.5-2.5-1.5-1.5-.5-1.5 0-3-1.5-3-1-1.5-1.5-1.5-1.5-3-2-3-.5-3-.5-.5-1.5-2.5-1.5-2-.5-1-1-3 1.5-1.5 1-1.5 2-3 2.5-3 .5-.5 2-2.5 1-1 3-1 1-1 1-3-.5-3 1-3 .5-.5 3-2 3 .5 3-.5 3 2 3 0 3-1 3-.5 3 0 3 .5 3-1.5-.5-3 .5-1 3 0 3 0 3-.5 3-.5 3 0 3 0 3-.5 3 0 3 0 0-.5 3-2z"/>
<path fill="#cceb19" d="M455 74l1 0 3 0 3 0 3 0 3 0 3 0 3 0 3 0 3 0 3 0 3 0 3 0 3 0 3 0 3 0 3 0 3 0 3 0 3 0 3 0 3 0 3 0 3 0 3 0 3 0 3 0 3 0 3 0 3 0 3 0 3 0 3 0 3 0 3 0 3 0 3 0 3 0 3 0 3 0 3 0 3 0 0 3 0 3 0 3 0 3 0 3 0 3 0 3 0 3 0 3 0 3 0 3 0 3 0 3 0 3 0 3 0 3 0 3 0 3 0 3 0 3 0 3 0 3 0 3 0 3 0 3 0 3 0 3 0 3 0 3 0 3 0 3 0 3 0 3 0 3 0 3 0 3 0 3 0 3 0 3 0 3 0 3 0 3 0 3 0 3 0 3 0 3 0 3 0 3 0 3 0 3 0 3 0 3 0 3 0 3 0 3 0 3 0 3 0 3 0 3 0 3 0 3 0 3 0 3 0 3 0 3 0 3 0 3 0 3 0 3 0 3 0 3 0 3 0 3 0 3 0 3 0 3 0 3 0 3 0 3 0 3 0 3 0 3 0 3 0 3 0 3 0 3 0 3 0 3 0 3 0 3 0 3 0 3 0 3 0 3 0 3 0 3 0 3 0 3 0 3 0 3 0 3 0 3 0 3 0 3 0 3 0 3 0 3 0 3 0 3 0 3 0 3 0 3 0 3 0 3 0 3 0 3 0 3 0 3 0 3 0 3 0 3 0 3 0 3 0 3 0 3 0 3 0 3 0 3 0 3 0 3 0 3 0 3 0 3 0 3 0 3 0 3 0 3 0 3 0 3 0 3 0 3 0 3 0 3 0 3 0 3 0 3 0 3 0 3 0 3 0 3 0 3 0 3 0 3 0 3 0 3 0 3 0 3 0 3 0 3 0 3 0 3 0 3 0 3 0 3 0 3 0 3 0 3 0 3 0 3 0 3 0 3 0 3 0 3 0 3 0 3 0 3-3 0-3 0-3 0-3 0-3 0-3 0-3 0-3 0-3 0-3 0-3 0-3 0-3 0-3 0-3 0-3 0-3 0-3 0-3 0-3 0-3 0-3 0-3 0-3 0-3 0-3 0-3 0-3 0-3 0-3 0-3 0-3 0-3 0-3 0-3 0-3 0-3 0-3 0-3 0-1.5 0-1.5-2.5-.5-.5-2-3-.5-1-1.5-2-1.5-3 1-3 2-2.5 .5-.5 2.5-1 3-1 3-.5 3-.5 3-.5 3-1 3-1.5 3-1.5 2-1.5 1-1 2-2 1-1 1.5-2 1.5-2.5 0-.5 2-3 1-2.5 0-.5 2-3 1-2 .5-1 2-3 .5-.5 1.5-2.5 1.5-2.5 .5-.5 1.5-3 1-2.5 .5-.5 .5-3 .5-3 0-3-1.5-3-2-3-1-1.5-2.5-1.5-.5-.5-3-1-3 0-3 0-3 0-3-1-1.5-.5-1.5-.5-3-1.5-3-1-3-1-3-.5-3-1-3-.5-2 0-1 0-3-.5-3 .5-1 0-2 .5-3 1-3 1.5-3 2-2 1-1 .5-3 2-.5 .5-2.5 2.5 0 .5-2.5 3-.5 1-1.5 2-1 3-.5 1-1 2-1 3-1 2.5-.5 .5-1.5 3-1 2.5-.5 .5-2.5 3-3 2-2.5-2-.5-1-.5-2-1-3-1.5-3-1.5-3-1.5-3-1.5-3-1.5-3-1-3-1-3-.5-3 0-3 0-3 1-3 .5-3 1-2 .5-1 1.5-3 1-1.5 1-1.5 2-3 0-.5 1.5-2.5 1-3 .5-1.5 .5-1.5 0-3 0-3-.5-1.5-.5-1.5-1-3-1.5-3-2-3-1-2-.5-1-2-3-.5-1-1-2-1.5-3-.5-1-1.5-2-1.5-2.5-.5-.5-2-3-.5-2-.5-1-1-3-.5-3-.5-3 0-3 .5-3 .5-3 1-3 .5-2 0-1 1-3 1-3 .5-3 .5-3 0-3-.5-3-1-3-1.5-3-2.5-3-.5-.5-3-1.5-3 0-3 2-2 3-1 1-1 2-1.5 3-.5 1-1 2-1.5 3-.5 1.5-.5 1.5-1.5 3-1 1.5-1 1.5-2 3-2 3-1 1-1.5 2-1.5 2-.5 1-1.5 3-1 3 0 1.5 0 1.5-.5 3 0 3 0 3-.5 3-.5 3-1 3-.5 1-1 2-2 2.5-.5 .5-2.5 3-3 3-2.5 3-.5 .5-2 2.5-1 1.5-1 1.5-1 3-1 3 0 .5-.5 2.5-.5 3 0 3 0 3 .5 3 .5 1.5 .5 1.5 2 3 .5 .5 3 2.5 3 2 1 1 2 1.5 2 1.5 1 1 2 2 1 1.5 1.5 1.5 1.5 3 0 .5 1 2.5 1.5 3 .5 1.5 .5 1.5 2 3 .5 1 1 2 2 2.5 0 .5 2.5 3 .5 1 1.5 2 1.5 2.5 .5 .5 2 3 .5 1 1 2 1 3 .5 3 .5 3 0 3 0 3 0 2.5 0 .5-1 3-2 2.5-1.5 .5-1.5 .5-3-.5-1.5 0-1.5 0-3-1-3-1-3-1-1.5 0-1.5 0-.5 0-2.5 1-3 1.5-.5 .5-2.5 1.5-3 1.5-3 1.5-3 1-1 .5-2 .5-3 .5-3-.5-3-.5-1.5 0-1.5 0-1.5 0-1.5 0-3 1-3 2-3 3-2 3-1 2.5 0 .5-1 3-2 0-3 0-3 0-3 0-3 0-3 0-3 0-3 0-3 0-3 0-3 0-3 0-3 0-3 0-3 0-3 0-3 0-3 0-3 0-3 0-3 0-3 0-3 0-3 0-3 0-3 0-3 0-3 0-3 0-3 0-3 0-3 0-3 0-3 0-3 0-3 0-3 0-3 0-3 0-3 0 0-1-3 0-3 .5-2.5-2.5 0-3 2-3 .5-.5 2.5-2.5 .5-.5 3-2.5 3-2 1-1 2-1 3-1.5 .5-.5 2.5-1.5 2.5-1.5 .5 0 3-2 1.5-1 1.5-.5 3-2 .5-.5 2.5-1.5 3-1.5 3-1.5 2.5-1.5 .5 0 3-2 2-1 1-.5 3-2 .5-.5 2.5-2.5 .5-.5 1.5-3 1-3 0-3-.5-3 0-3-.5-3 0-3 0-3 .5-3 .5-3 0-.5 .5-2.5 .5-3 0-3-.5-3-.5-2 0-1-1-3-.5-3 0-3 1-3 .5-1 1-2 2-2.5 .5-.5 2-3 .5-1 1-2 1-3 .5-3 0-3-.5-3-1-3-1-1.5-1-1.5-2-2.5-.5-.5-2.5-1.5-1.5-1.5-1.5-1-3-2-.5 0-2.5-1.5-3-1.5-3-1-3-1-3-.5-3-.5-3 0-3 .5-3 .5-3 .5-3 .5-3 1-.5 0-2.5 1-3 1-3 1-3 1.5-2.5 1.5-.5 .5-3 2-.5 .5-2.5 3-2 3-1 1.5-1 1.5-1 3-1 2.5 0 .5-1 3-.5 3 0 3-.5 3 0 3 0 3 0 3-.5 3 0 3 0 3-.5 3 0 .5-.5 2.5 0 3-.5 3-.5 3-.5 3-1 2.5 0 .5-.5 3-.5 3-.5 3-1 3 0 3 0 3-.5 1-1 2-.5 3 0 3 0 3 1.5 2 .5 1 1.5 3 .5 3-.5 3 .5 3-.5 3 0 3 1 1.5 1 1.5-1 2-.5 1 .5 1.5 1 1.5-1 1-1.5 2-1.5 1.5-1.5 1.5-1.5 1.5-1.5 1.5-1.5 0-3 0-3 0-3 0-3 0-3 0-3 0-3 0-3 0-3 0-3 0-3 0-3 0-3 0-3 0-3 0-3 0-3 0-3 0-3 0-3 0-3 0-3 0-3 0-3 0 0-3 0-3 0-3 0-3 0-3 0-3 0-3 0-3 0-3 0-3 0-3 0-3 0-3 0-3 0-3 0-3 0-3 0-3 0-3 0-3 0-3 0-3 0-3 0-3 0-3 0-3 0-3 0-3 0-3 0-3 0-3 0-3 0-3 0-3 0-3 0-3 0-3 0-3 0-3 0-3 0-3 0-3 0-3 0-3 0-3 0-3 0-3 0-3 0-3 0-3 0-3 0-3 0-3 0-3 0-3 0-3 0-3 0-3 0-3 0-3 0-3 0-3 0-3 0-3 0-3 0-3 0-3 0-3 0-3 0-3 0-3 0-3 0-3 0-3 0-3 0-3 0-3 0-3 0-3 0-3 0-3 0-3 0-3 0-3 0-3 0-3 0-3 0-3 0-3 0-3 0-3 0-3 0-3 0-3 0-3 0-3 0-3 0-3 0-3 0-3 0-3 0-3 0-3 0-3 0-3 0-3 0-3 0-3 0-3 0-3 0-3 0-3 0-3 0-3 0-3 0-3 0-3 0-3 0-3 0-3 0-3 0-3 0-3 0-3 0-3 0-3 0-3 0-3 0-3 0-3 0-3 0-3 0-3 0-3 0-3 0-3 0-3 0-3 0-3 0-3 0-3 0-3 0-3 0-3 0-3 0-3 0-3 0-3 0-3 0-3 0-3 0-3 0-3 0-3 0-3 0-3 0-3 0-3 0-3 0-3 0-3 0-3 0-3 0-3 0-3 0-3 0-3 0-3 0-3 0-3 0-3 0-3 0-3 .5 0 2.5-.5 1.5 .5 1.5 .5 3 1 3 1 2 .5 1 .5 3 1.5 2.5 1 .5 .5 3 2 .5 .5 2.5 2 1.5 1 1.5 1.5 1.5 1.5 1.5 1.5 1.5 1.5 1.5 1.5 1 1.5 2 2 .5 1 2 3 .5 .5 2 2.5 1 1 1.5 2 1.5 1.5 1 1.5 2 2.5 .5 .5 2 3 .5 .5 2 2.5 1 1.5 1 1.5 2 2.5 .5 .5 2 3 .5 .5 1.5 2.5 1.5 2 1 1 2 3 2 3 1 1 1.5 2 1.5 1.5 1.5 1.5 1.5 1.5 1.5 1.5 1.5 1.5 1.5 1.5 1.5 1.5 1.5 1.5 1.5 1.5 1.5 1.5 1.5 1.5 1.5 1.5 1.5 1.5 1 1.5 2 2 1 1-1 3 .5 0 2.5 0 0 .5-.5 2.5 .5 .5 1.5 2.5 1.5 2 3 .5 1 .5-1 1-1.5 2 1.5 1 2 2 1 .5 3 2.5 2 3 1 1 1 2 2 2 .5 1 2.5 3 2.5 3 .5 .5 2 2.5 1 1.5 1.5 1.5 1.5 2 1 1 2 2.5 .5 .5 2.5 2.5 .5 .5 2.5 3 3 2 1 1 2 2 1 1 2 2 .5 1 2.5 2 .5 1 2.5 2 1 1 2 1.5 1.5 1.5 1.5 1 2 2 1 .5 3 2 .5 .5 2.5 1.5 2.5 1.5 .5 0 3 1.5 3 1.5 3 1.5 2 1.5 1 .5 3 2.5 3 3 2.5 3 .5 1 1.5 2 1.5 3 0 .5 1 2.5 1 3 .5 3 .5 3 0 1.5 0 1.5 0 3 0 3-.5 3-.5 3-.5 3-1.5 3 0 .5-2 2.5-1 .5-3 1-3 .5-3 .5-.5 .5-2.5 1.5-3 1.5-.5 0-2.5 1.5-3 .5-3 0-3 1-1 0-2 1-3 1.5-.5 .5-2.5 2-1.5 1-1.5 2.5-.5 .5-.5 3 1 1.5 1.5 1.5 1.5 1 3 .5 3-.5 3-.5 1-.5 2-1 3-1.5 2.5-.5 .5 0 1 0 2 0 .5 0 2.5-.5 3-1 2-1.5 1-.5 2.5-2.5 .5 0 3-3 3-3 .5 0 2.5-2 3-1 .5 0 2.5-.5 3-.5 3 0 3 0 3 0 3 1 3 1 3 2 3 3 2.5 3 .5 .5 2 2.5 1 1 2.5 2 .5 .5 3 1.5 3 1 .5 0 2.5 .5 3 1 2.5 1.5 .5 .5 3 2 1 .5 2 2 1 1 2 2.5 .5 .5 2.5 2 1 1 2 1.5 3 1.5 3 1 3 1.5 1 .5 2 1 3 1 1.5 1 1.5 .5 3 2 1.5 .5 1.5 1 3 1.5 2 .5 1 .5 3 0 2-.5 1-.5 3-2 .5-.5 2.5-2 .5-1 2.5-2.5 .5-.5 2-3 .5-.5 1.5-2.5 1.5-2.5 0-.5 1-3 .5-3 0-3-.5-3-1-2.5-.5-.5-1.5-3-1-2-.5-1-1-3-1-3 0-3 0-3 0-3 1-3 1.5-3 0-.5 1.5-2.5 1.5-3 0-.5 1.5-2.5 1.5-3 0-.5 1-2.5 2-3 0-.5 1.5-2.5 1.5-3 1.5-3 1.5-2.5 0-.5 1.5-3 1.5-3 1-3 1-3 .5-3 .5-1.5 .5-1.5 .5-3 1-3 .5-3 .5-2.5 0-.5 .5-3 0-3 0-3 0-3 0-3 .5-3 .5-3 .5-3 .5-3 .5-3 .5-3 1-3 1-3 .5-1 1-2 1.5-3 .5-.5 2-2.5 1-1 2-2 1-1 2-2 1-.5 2.5-2.5 .5-.5 3-2.5 2.5-3 .5-1 1.5-2 1.5-2 .5-1 2-3 .5-1 1.5-2 1.5-3 1-3 1-3 1-2.5 0-.5 1-3 .5-3 0-3 0-3 0-3 0-3 0-3-.5-3-.5-3-.5-3 0-.5-1-2.5-1.5-3-.5-2-.5-1 .5-3 1.5-3 1.5-3 0-.5 .5-2.5 0-3 0-3-.5-1-.5-2-1-3-.5-3-.5-3-.5-1.5-.5-1.5-.5-3 .5-3 .5-2.5 0-.5 1-3zM435.5 98l2.5-1 2 1-2 1.5zM315 125l3-.5 3 .5 3-.5 3 0 3 .5 3 .5 3-.5 3 .5 3 1.5 2 1 1 .5 3 2 .5 .5 2.5 3 2.5 3 .5 2 .5 1 .5 3 0 3 1 3 .5 3 .5 3 .5 3 .5 3 .5 3 0 3 0 3-.5 3-.5 3-.5 1.5-.5 1.5-1 3-1 3-.5 1.5-.5 1.5-1.5 3-1 2.5-.5 .5-2.5 2.5-.5 .5-2.5 1.5-3 1-1 .5-2 .5-3 1-3 .5-3-.5-3-.5-3 0-3 .5-3-1-3 0-2.5-.5-.5 0-3-1-3 0-3-1-3-.5-2-.5-1-.5-3-.5-3-1-2-1-1-.5-3-1.5-2.5-1-.5 0-3-2-1.5-1-1.5-1-2-2-1-1-2-2-1-1-2-2-1-1.5-1-1.5-2-2.5-.5-.5-1.5-3 0-3-.5-3 1.5-3 1-3 1.5-3 1.5-3 .5-3 2-3 .5-.5 2.5-2.5 .5 0 3-1 3-2 3-2 3-1 3-.5 3-1.5 3 0 3-.5 3-.5 3-.5 3 0 3 .5 3-2.5 .5-.5-.5-1.5-1-1.5 1-1zM404 575l1-1 3-1 3 0 3 0 3 1.5 .5 .5 2.5 2 1 1 1.5 3 .5 1 .5 2 .5 3 .5 3 0 3 .5 3 .5 3 .5 3-3 0-3 0-3 0-3 0-3 0-3 0-3 0-3 0-3 0-3 0-3 0-3 0-3 0-3 0-2.5 0-.5-2-.5-1-.5-3 0-3 0-3 1-2 1-1 2-1 3-1 2-1 1-.5 3-1.5 2-1 1-.5 3-2 .5-.5 2.5-2zM170.5 596l.5-.5 1.5 .5-1.5 .5z"/>
<path fill="#cfe918" d="M457.5 74l1.5 0 3 0 3 0 3 0 3 0 3 0 3 0 3 0 3 0 3 0 3 0 3 0 3 0 3 0 3 0 3 0 3 0 3 0 3 0 3 0 3 0 3 0 3 0 3 0 3 0 3 0 3 0 3 0 3 0 3 0 3 0 3 0 3 0 3 0 3 0 3 0 3 0 3 0 3 0 3 0 0 3 0 3 0 3 0 3 0 3 0 3 0 3 0 3 0 3 0 3 0 3 0 3 0 3 0 3 0 3 0 3 0 3 0 3 0 3 0 3 0 3 0 3 0 3 0 3 0 3-3-2.5-3 0-3 1-1 1.5-2 2.5 0 .5-1 3 0 3 0 3 1 2.5 1 .5 2 .5 3-.5 3-2 1.5-1 1.5-2 0 2 0 3 0 3 0 3 0 3 0 3 0 3 0 3 0 3 0 3 0 3 0 3 0 3 0 3 0 3 0 3 0 3 0 3 0 3 0 3 0 3 0 3 0 3 0 3 0 3 0 3 0 3 0 3 0 3 0 3 0 3 0 3 0 3 0 3 0 3 0 3 0 3 0 3 0 3 0 3 0 3 0 3 0 3 0 3 0 3 0 3 0 3 0 3 0 3 0 3 0 3 0 3 0 3 0 3 0 3 0 3 0 3 0 3 0 3 0 3 0 3 0 3 0 3 0 3 0 3 0 3 0 3 0 3 0 3 0 3 0 3 0 3 0 3 0 3 0 3 0 3 0 3 0 3 0 3 0 3 0 3 0 3 0 3 0 3 0 3 0 3 0 3 0 3 0 3 0 3 0 3 0 3 0 3 0 3 0 3 0 3 0 3 0 3 0 3 0 3 0 3 0 3 0 3 0 3 0 3 0 3 0 3 0 3 0 3 0 3 0 3 0 3 0 3 0 3 0 3 0 3 0 3 0 3 0 3 0 3 0 3 0 3 0 3 0 3 0 3 0 3 0 3 0 3 0 3 0 3 0 3 0 3 0 3 0 3 0 3 0 3 0 3 0 3 0 3 0 3 0 3 0 3 0 3 0 3 0 3 0 3 0 3 0 3-3 0-3 0-3 0-3 0-3 0-3 0-3 0-3 0-3 0-3 0-3 0-3 0-3 0-3 0-3 0-3 0-3 0-3 0-3 0-3 0-3 0-3 0-3 0-3 0-3 0-3 0-3 0-3 0-3 0-3 0-3 0-3 0-3 0-3 0-3 0-3 0-3 0-3 0-.5 0-1.5-3-1-1-1.5-2-1.5-1.5-1-1.5-2-3 2-3 1-.5 3-1 3-.5 3 0 3-.5 1-.5 2-.5 3-1 3-1 .5-.5 2.5-1.5 2-1.5 1-1 2-2 1-1 1.5-2 1.5-2 .5-1 1.5-3 1-1.5 1-1.5 1-3 1-1.5 .5-1.5 1.5-3 1-1.5 .5-1.5 1.5-3 1-2 .5-1 1-3 1-3 .5-2.5 0-.5 .5-3-.5-1.5-.5-1.5-1-3-1.5-2-.5-1-2.5-2.5-.5-.5-2.5-1.5-3-1-3 0-3 0-3-.5-.5 0-2.5-.5-3-1-3-1.5-.5 0-2.5-1-3-1-3-.5-2-.5-1 0-3-.5-3-.5-3 0-3 0-3 .5-2 .5-1 .5-3 1-2.5 1.5-.5 .5-3 1.5-1.5 1-1.5 1-2 2-1 1-1 2-2 2.5-.5 .5-2 3-.5 1-1.5 2-1.5 3-1.5 3-1.5 2-1 1-2 2-3 0-2.5-2-.5 0-2-3-1-1-1-2-2-3-1.5-3-1.5-3 0-.5-.5-2.5-.5-3 0-3 0-3 1-3 0-.5 1-2.5 1.5-3 .5-1 1-2 2-3 2-3 1-1.5 1-1.5 1-3 1-3 .5-3-.5-3 0-1-.5-2-1-3-1.5-3-2-3-1-1.5-1-1.5-2-3 0-.5-1.5-2.5-1.5-2.5 0-.5-2-3-1-2.5-.5-.5-1-3-1-3-.5-3 0-3 0-3 .5-3 1-3 1-3 .5-1.5 .5-1.5 1-3 1-3 .5-1 .5-2 .5-3 .5-3 0-3-.5-3-1-3 0-.5-1-2.5-2-3-2-3-1-2-1-1-2-3 0-.5-1.5-2.5-1-3 0-3 0-3 1-3 1.5-2.5 0-.5 2-3 1-2 .5-1 2-3 .5-1 1-2 1.5-3 .5-1.5 .5-1.5 .5-3 .5-3-.5-3-.5-3-.5-1-1-2-1.5-3-.5-1.5-.5-1.5-1.5-3-.5-3-.5-3 0-3 .5-3 1-3 1-3 .5-.5 1-2.5 2-3 0-.5 1.5-2.5 1.5-3 1.5-3 1.5-3 1.5-3 1.5-3 0-.5 1-2.5 1.5-3 .5-1 1-2 1-3 1-3 0-1 .5-2 .5-3 .5-3 .5-3 1-3 0-1 .5-2 0-3 .5-3 0-3 0-3 .5-3 0-3 .5-3 .5-3 .5-3 0-.5 .5-2.5 .5-3 .5-3 1-3 .5-1.5 .5-1.5 1.5-3 1-1.5 1-1.5 2-2.5 .5-.5 2.5-2.5 .5-.5 2.5-2.5 .5-.5 2.5-2.5 1-.5 2-2 1-1 2-2.5 .5-.5 2-3 .5-.5 1.5-2.5 1.5-2 .5-1 2-3 .5-1 1-2 1-3 1-2.5 0-.5 1-3 1-3 .5-3 0-3 .5-3 0-3 0-3 0-3-.5-3 0-3-.5-3-.5-3-1-3-.5-1-.5-2 0-3 .5-1 1-2 1-3 .5-3 0-3-.5-3-1-3-.5-3-.5-1.5-.5-1.5-.5-3-.5-3-.5-3 0-3 1-3 1-2.5 0-.5zM78 137l0-1 1 1 2 1.5 3 .5 3 .5 1.5 .5 1.5 1 3 2 3 2.5 .5 .5 2.5 2 1.5 1 1.5 1 2.5 2 .5 .5 3 2.5 3 2.5 1 .5 2 2 1.5 1 1.5 1 2 2-2 1-3 .5-3 0-3-1-.5-.5-2.5-1.5-3-.5-3-.5-.5-.5-2.5-3-3 .5-3-.5 0-2.5 0-.5-1.5 0-1.5 0-.5 0-2-3-.5-.5-3 0-3-.5 0-2 0-3 0-2 1-1-1-1 0-2zM317 140l1-1 3-.5 3 .5 3 0 3 1 3 1.5 2 1.5 1 .5 2.5 2.5 .5 1 2 2 1 1 1 2 .5 3 1.5 1 1 2 0 3 1 3 1 2.5 0 .5 0 2 0 1 0 .5 0 2.5 0 3 .5 3-.5 2 0 1-1 3-1 3-1 2-1 1-2 1-3 1-3 1-.5 0-2.5 0-3 0-.5 0-2.5-1-3-1-3 .5-3 0-3-.5-3-.5-1.5-.5-1.5-.5-3-1-3-1-1-.5-2-.5-3-1.5-1.5-1-1.5-2-1-1-2-1.5-1.5-1.5-1.5-1.5-1.5-1.5-1-3-.5-1.5-.5-1.5 0-3 .5-1.5 .5-1.5 0-3 .5-3 2-2.5 .5-.5 2.5-2.5 2-.5 1-.5 1.5-2.5 1.5-.5 .5 .5 2.5 1.5 2 1.5 1 .5 3-.5 1-3 2-1.5 1.5-1.5 1-3 .5-1 3 0zM126.5 182l2.5-.5 1.5 .5 1.5 .5 3 .5 3 1 2.5 1 .5 0 3 1.5 3 1 .5 .5 2.5 1 3 1.5 .5 .5 2.5 1.5 1.5 1.5 1.5 1 2.5 2 .5 .5 3 2 1 .5 2 1 3 2 3 2 1.5 1 1.5 1 3 2 3 2 1.5 1 1.5 1 2.5 2 .5 0 3 2.5 .5 .5 2.5 1.5 1.5 1.5 1.5 1 2.5 2 .5 .5 3 2.5 .5 0 2.5 2 1 1 2 1.5 1.5 1.5 1.5 1 3 1.5 .5 .5 2.5 2 1 1 2 2 1.5 1 1.5 1 2 2 1 .5 3 2.5 3 2 1 1 2 1.5 2.5 1.5 .5 .5 3 1.5 1.5 1 1.5 1 3 1.5 1.5 .5 1.5 1 3 1.5 1 .5 2 1 3 2 3 2.5 .5 .5 2.5 3 2.5 3 .5 1 1 2 1.5 3 .5 1.5 .5 1.5 .5 3 .5 3 .5 3 0 3 0 3-.5 3-.5 3-.5 3-.5 1-1 2-2 2-1.5 1-1.5 .5-3 1-3 .5-2.5 1-.5 .5-3 1.5-2.5 1-.5 .5-3 .5-3 .5-3 .5-3 1-.5 0-2.5 1.5-3 1-.5 .5-2.5 2-1.5 1-1.5 2-1 1-1.5 3 .5 3 2 2.5 .5 .5 2.5 1 3 .5 3 0 3-.5 3-.5 1-.5 2-.5 3-1.5 3-1 1.5 0 1.5 0 3-.5 3-2 .5-.5 2.5-1.5 1-1.5 2-1.5 1.5-1.5 1.5-1.5 1.5-1.5 1.5-1.5 2.5-1.5 .5-.5 3-1 3-.5 3-.5 3 0 3 0 3 .5 3 1 2 1 1 .5 3 2.5 3 3 2.5 3 .5 .5 2 2.5 1 1 3 2 3 1 3 1 3 .5 1 .5 2 .5 3 2 1 .5 2 2 1 1 2 2 1 1 2 2.5 .5 .5 2.5 2 1 1 2 1 3 1.5 1 .5 2 1 3 1.5 1.5 .5 1.5 1 3 2 .5 0 2.5 2 1.5 1 1.5 1.5 2 1.5 1 1.5 1.5 1.5 1.5 2.5 .5 .5 1 3 .5 3-.5 3-1 3-.5 2 0 1-1 3-1.5 3-.5 1-.5 2-1.5 3-1 2-.5 1-1 3-1.5 3-1.5 3-1.5 2-.5 1-2.5 2.5-.5 .5-2.5 3-2.5 3-.5 .5-1.5 2.5-1.5 3 0 .5-.5 2.5 0 3 0 3 0 3 0 3 0 3-1 3-1 3-.5 1-1 2-1.5 3-.5 .5-2 2.5-1 1.5-1 1.5-2 2.5-.5 .5-1.5 3-1 2-.5 1-1 3-.5 3 0 3-.5 3 0 3 0 3 0 3 1 3 1.5 2 .5 1 2.5 2 1 1 2 1.5 2.5 1.5 .5 .5 3 2 .5 .5 2.5 2.5 .5 .5 2 3 .5 1 1 2 1.5 3 .5 1.5 .5 1.5 1.5 3 1 2 .5 1 2 3 .5 1 1.5 2 1.5 2.5 .5 .5 2 3 .5 .5 1.5 2.5 1.5 2.5 .5 .5 1.5 3 1 3 0 1 .5 2 0 3 0 3-.5 1.5-.5 1.5-2 3-.5 .5-3 1.5-3 0-3 0-3-1-3-.5-2-.5-1 0-.5 0-2.5 1-3 2-3 2-1 1-2 1-3 2-3 1.5-3 1-3 0-3-.5-3-.5-3 0-3 0-3 1-1 .5-2 1-2 2-1 1-2 2-1 2-.5 1-1 3-1 3-.5 0-3 0-3 0-3 0-3 0-3 0-3 0-3 0-3 0-3 0-3 0-3 0-3 0-3 0-3 0-3 0-3 0-3 0-3 0-3 0-3 0-3 0-3 0-3 0-3 0-3 0-3 0-3 0-3 0-3 0-3 0-3 0-3 0-.5 0-1-3-1.5-1.5-2-1.5 .5-3 1-3 .5-.5 1-2.5 2-3 2.5-3 .5-.5 2.5-2.5 .5-.5 3-2.5 3-2 1.5-1 1.5-1 3-2 .5 0 2.5-1.5 2-1.5 1-.5 3-2 .5-.5 2.5-2.5 .5-.5 2-3 .5-2 0-1 .5-3-.5-3 0-1-.5-2-.5-3 0-3-.5-3 .5-3 0-3 .5-3 .5-2.5 0-.5 .5-3 0-3 0-3 0-3 0-3 0-3 1-3 1.5-3 2-3 1-1.5 1-1.5 1.5-3 .5-2 .5-1 0-3 0-3 0-3-.5-1.5-.5-1.5-1-3-1.5-3-3-3-3-2.5-1-.5-2-1.5-3-1.5-3-1.5-3-1.5-3-1-3-1-3-.5-2.5-.5-.5 0-3-.5-3 0-3 .5-1 0-2 0-3 .5-3 .5-3 1-3 .5-2 .5-1 0-3 1-3 1.5-1.5 .5-1.5 1-3 1.5-.5 .5-2.5 2-1 1-2 2-1 1-1.5 3-.5 .5-1.5 2.5-1.5 3 0 .5-1 2.5-.5 3-.5 3-.5 3 0 3-.5 3 0 2 0 1-.5 3 0 3-.5 3-.5 3-1 3-.5 3 0 .5-.5 2.5-.5 3-1 3-.5 3-.5 1.5-.5 1.5-.5 3-1.5 3-.5 2-.5 1-1.5 3-1 3 0 .5-.5 2.5-.5 3-1 3-.5 3-.5 2-.5 1 .5 3-.5 3-1 3-1 3-.5 1.5-.5 1.5-1.5 3-1 2-.5 1-2 3-.5 .5-1.5 2.5-1.5 1.5-1.5 1.5-1.5 2-1 1-2 2.5-.5 .5-2.5 2.5-.5 .5-2.5 0-3 0-3 0-3 0-3 0-3 0-3 0-3 0-3 0-3 0-3 0-3 0-3 0-3 0-3 0 0-3 0-3 0-3 0-3 0-3 0-3 0-3 0-3 0-3 0-3 0-3 0-3 0-3 0-3 0-3 0-3 0-3 0-3 0-3 0-3 0-3 0-3 0-3 0-3 0-3 0-3 0-3 0-3 0-3 0-3 0-3 0-3 0-3 0-3 0-3 0-3 0-3 0-3 0-3 0-3 0-3 0-3 0-3 0-3 0-3 0-3 0-3 0-3 0-3 0-3 0-3 0-3 0-3 0-3 0-3 0-3 0-3 0-3 0-3 0-3 0-3 0-3 0-3 0-3 0-3 0-3 0-3 0-3 0-3 0-3 0-3 0-3 0-3 0-3 0-3 0-3 0-3 0-3 0-3 0-3 0-3 0-3 0-3 0-3 0-3 0-3 0-3 0-3 0-3 0-3 0-3 0-3 0-3 0-3 0-3 0-3 0-3 0-3 0-3 0-3 0-3 0-3 0-3 0-3 0-3 0-3 0-3 0-3 0-3 0-3 0-3 0-3 0-3 0-3 0-3 0-3 0-3 0-3 0-3 0-2 2.5 2 .5 .5 2.5 2.5 0 3 .5 .5 2.5 2.5 .5 .5 3-.5 1.5 0 0-3 1-3 0-3 .5-.5 1.5-2.5 .5-3-2-1-1-2-2-2.5-.5-.5 .5-3 .5-3-.5-.5-2.5-2.5 2.5-2 .5-1-.5-.5-3-1.5-3-1 1-3 .5-3 1.5-2 .5-1 2.5-.5 1.5 .5 1.5 .5 3 0 .5-.5 2-3 .5-1 1-2 2-1.5 .5-1.5 .5-3-1-1-1.5-2-1.5-2-1-1-2-2.5-3 0 0-.5 0-1 3-1 3 1.5 2 .5 1 0 1.5 0 1.5-1 3-.5 1.5-1.5 1.5-1.5 3-.5 3 .5 3-.5 3-.5 3-.5zM93 254.5l-.5 2.5 0 3 .5 .5 2.5 2.5 .5 .5 3 2.5 2 0 .5-3-.5-3 0-3-2-.5-3-1.5zM404 578l1-1 3-1 3-1 3 0 3 1 2.5 2 .5 .5 1.5 2.5 1 3 .5 3 .5 3 0 3 0 3 .5 3-.5 3-.5 0-3 0-3 0-3 0-3 0-3 0-3 0-3 0-3 0-3 0-3 0-3 0-3 0-.5 0-.5-3 0-3 1-3 1.5-3 1.5-1 2-2 1-.5 3-2.5 3-2.5 1-.5 2-1.5z"/>
<path fill="#d2e716" d="M458.5 77l.5-1.5 .5-1.5 2.5 0 3 0 3 0 3 0 3 0 3 0 3 0 3 0 3 0 3 0 3 0 3 0 3 0 3 0 3 0 3 0 3 0 3 0 3 0 3 0 3 0 3 0 3 0 3 0 3 0 3 0 3 0 3 0 3 0 3 0 3 0 3 0 3 0 3 0 3 0 3 0 3 0 3 0 3 0 0 3 0 3 0 3 0 3 0 3 0 3 0 3 0 3 0 3 0 3 0 3 0 3 0 3 0 3 0 3 0 3 0 3 0 3 0 3 0 3 0 3 0 2.5-3-1.5-3-1-3 1-2 2-1 1-1.5 2-1.5 2-.5 1-.5 3-.5 3-.5 3 0 3-.5 3 .5 3 1 3 1 2 1.5 1 1.5 .5 3 0 2-.5 1-.5 3-1 3-1.5 0 3 0 3 0 3 0 3 0 3 0 3 0 3 0 3 0 3 0 3 0 3 0 3 0 3 0 3 0 3 0 3 0 3 0 3 0 3 0 3 0 3 0 3 0 3 0 3 0 3 0 3 0 3 0 3 0 3 0 3 0 3 0 3 0 3 0 3 0 3 0 3 0 3 0 3 0 3 0 3 0 3 0 3 0 3 0 3 0 3 0 3 0 3 0 3 0 3 0 3 0 3 0 3 0 3 0 3 0 3 0 3 0 3 0 3 0 3 0 3 0 3 0 3 0 3 0 3 0 3 0 3 0 3 0 3 0 3 0 3 0 3 0 3 0 3 0 3 0 3 0 3 0 3 0 3 0 3 0 3 0 3 0 3 0 3 0 3 0 3 0 3 0 3 0 3 0 3 0 3 0 3 0 3 0 3 0 3 0 3 0 3 0 3 0 3 0 3 0 3 0 3 0 3 0 3 0 3 0 3 0 3 0 3 0 3 0 3 0 3 0 3 0 3 0 3 0 3 0 3 0 3 0 3 0 3 0 3 0 3 0 3 0 3 0 3 0 3 0 3 0 3 0 3 0 3 0 3 0 3 0 3 0 3 0 3 0 3 0 3 0 3 0 3 0 3 0 3 0 3 0 3 0 3 0 3 0 3 0 3-3 0-3 0-3 0-3 0-3 0-3 0-3 0-3 0-3 0-3 0-3 0-3 0-3 0-3 0-3 0-3 0-3 0-3 0-3 0-3 0-3 0-3 0-3 0-3 0-3 0-3 0-3 0-3 0-3 0-3 0-3 0-3 0-3 0-3 0-3 0-2.5 0-.5-1-1-2-2-3 0-.5-.5-2.5 .5-.5 3-1.5 2-1 1-.5 3-1 3-1.5 .5 0 2.5-1.5 2.5-1.5 .5 0 3-2.5 .5-.5 2.5-2.5 .5-.5 2.5-3 0-.5 2-2.5 1-2 .5-1 1.5-3 1-2 .5-1 1-3 1.5-3 0-.5 1-2.5 1-3 .5-3 .5-2 0-1 1-3 .5-3 .5-3 0-3-.5-3-1.5-2-.5-1-2-3-.5-.5-2-2.5-1-1-3-1.5-2-.5-1 0-3-.5-3 0-3-.5-3-.5-3-1-1-.5-2-.5-3-1.5-3-.5-1-.5-2-.5-3-.5-3-.5-3-.5-3 0-3 0-3 .5-3 .5-2 1-1 .5-3 1.5-2 1-1 .5-3 2-1 .5-2 2.5-.5 .5-1.5 3-1 1-1.5 2-1.5 2-1 1-2 3-2.5 3-.5 1-2.5 2-.5 .5-3 .5-1.5-1-1.5-1-2-2-1-1-1.5-2-1.5-3-1-3-1-3-.5-3 0-3 .5-3 .5-3 1.5-3 0-.5 1.5-2.5 1.5-2.5 0-.5 2.5-3 .5-1 1.5-2 1.5-2 .5-1 1.5-3 1-3 0-1 .5-2 0-3-.5-1.5-.5-1.5-.5-3-1.5-3-.5-.5-1.5-2.5-1.5-2-.5-1-2.5-3-2-3-1-1.5-1-1.5-1.5-3-.5-1.5-.5-1.5-1-3-.5-3 0-3 .5-3 .5-3 1-2.5 0-.5 1.5-3 1.5-3 1.5-3 1-3 .5-.5 1-2.5 1-3 1-3 0-1.5 0-1.5 0-3 0-1.5 0-1.5-1-3-1.5-3-.5-.5-1.5-2.5-1.5-2-.5-1-2.5-3-2-3-1-2.5-.5-.5-1-3-.5-3 0-3 .5-3 1-3 .5-1 1-2 1-3 1-1.5 .5-1.5 1.5-3 1-3 .5-3 .5-3 0-3-.5-3-.5-2-.5-1-1-3-1.5-3 0-.5-1-2.5-1-3-1-3-.5-3 .5-3 0-1.5 .5-1.5 .5-3 1.5-3 .5-1 1-2 1.5-3 .5-.5 1.5-2.5 1.5-3 1.5-3 1.5-3 1-3 1.5-3 .5-1.5 .5-1.5 1-3 1-3 .5-.5 .5-2.5 1-3 .5-3 0-3 .5-3 .5-2.5 0-.5 .5-3 .5-3 .5-3 0-3 .5-3 0-3 0-3 .5-3 .5-3 0-1 .5-2 .5-3 0-3 .5-3 1-3 .5-1.5 .5-1.5 1.5-3 1-2.5 .5-.5 2-3 .5-1 2-2 1-1 1.5-2 1.5-1 1.5-2 1.5-1 2-2 1-1 2-2 1-1 1.5-2 1.5-2 .5-1 2-3 .5-.5 1.5-2.5 1.5-2.5 .5-.5 1.5-3 1-2.5 0-.5 1-3 1-3 1-2.5 0-.5 .5-3 0-3 .5-3 0-3 0-3 0-3 0-3 0-3 0-3 0-3-.5-3-.5-3 .5-3 .5-3 .5-3 0-3-.5-3-.5-3-.5-2 0-1-1-3-.5-3-.5-3-.5-3-.5-3 .5-3 1-3zM127.5 209l1.5-.5 3 0 3 0 3-.5 3 0 3 .5 3 0 1 .5 2 .5 3 .5 3 1 3 .5 1.5 .5 1.5 .5 3 1 3 1 1.5 .5 1.5 .5 3 1 3 1.5 3 2 1.5 1 1.5 1 2.5 2 .5 0 3 2 2 1 1 .5 3 1.5 1.5 1 1.5 .5 3 2 1 .5 2 1 3 2 3 1.5 3 1.5 3 2 1.5 1 1.5 1 2.5 2 .5 0 3 2 1 1 2 1.5 2.5 1.5 .5 .5 3 1.5 1.5 1 1.5 1 3 1.5 .5 .5 2.5 1.5 3 1.5 .5 0 2.5 1.5 3 1.5 .5 0 2.5 1.5 2.5 1.5 .5 0 3 2.5 1 .5 2 2 1 1 2 2.5 .5 .5 2 3 .5 1.5 1 1.5 1 3 1 3 0 1 .5 2 .5 3 0 3 0 3-.5 3-.5 3 0 .5-.5 2.5-1.5 3-1 1-3 2-3 1-3 .5-3 1-1 .5-2 1-3 1.5-2 .5-1 .5-3 .5-3 .5-3 .5-3 1-.5 0-2.5 1-3 1.5-.5 .5-2.5 1.5-2 1.5-1 1-2 2-1 1.5-1 1.5-1.5 3 0 3 2.5 2.5 .5 .5 2.5 1 3 .5 3 0 3 0 3-.5 3 0 3-.5 2-.5 1-.5 3-.5 3-.5 3-1 1.5-.5 1.5-.5 3-2.5 3-2.5 0-.5 3-3 3-3 3-3 .5 0 2.5-2 3-1 3-.5 3-.5 3 0 3 0 3 1 3 1 3 2 3 2.5 .5 .5 2.5 3 2.5 3 .5 .5 2.5 2.5 .5 .5 3 1.5 3 1 3 .5 3 1 3 1 1 .5 2 1.5 1.5 1.5 1.5 1.5 1.5 1.5 1.5 2 1 1 2 2 1 1 2 1.5 2 1.5 1 .5 3 1.5 2.5 1 .5 .5 3 1.5 1.5 1 1.5 1 2.5 2 .5 .5 2.5 2.5 .5 .5 2 2.5 1 2 .5 1 1 3 .5 3 0 3 0 3-.5 3-1 3-.5 1.5-.5 1.5-1 3-1.5 2.5 0 .5-1.5 3-1 3-.5 1-1 2-2 3-2.5 3-.5 .5-3 2.5-2.5 3-.5 .5-2 2.5-1 1.5-1 1.5-1.5 3-.5 3 0 3 .5 3 0 3 0 3 0 3-.5 2 0 1-1 3-1.5 3-.5 1-1 2-2 3-2 3-1 1.5-1 1.5-1.5 3-.5 2-.5 1-.5 3 0 3 0 3 0 3 0 3-.5 3 0 3 .5 3 1 1.5 1 1.5 2 1.5 1.5 1.5 1.5 1 3 1.5 .5 .5 2.5 1.5 2 1.5 1 1 2 2 1 1.5 1 1.5 1.5 3 .5 1.5 .5 1.5 1 3 1.5 3 1.5 3 1.5 2 .5 1 2 3 .5 .5 1.5 2.5 1.5 2 .5 1 2 3 .5 1 1.5 2 1 3 .5 1 .5 2 .5 3 0 3-.5 3-.5 .5-2 2.5-1 1-3 1-3 0-3-.5-3-.5-3-.5-3 1-2.5 1.5-.5 .5-3 2-.5 .5-2.5 2-1 1-2 1.5-2.5 1.5-.5 0-3 1-3 .5-3-1-3-.5-3-.5-3 .5-.5 0-2.5 .5-3 2-1 .5-2 2-1 1-2 2.5-.5 .5-1.5 3-1 2.5 0 .5-1 3-2 0-3 0-3 0-3 0-3 0-3 0-3 0-3 0-3 0-3 0-3 0-3 0-3 0-3 0-3 0-3 0-3 0-3 0-3 0-3 0-3 0-3 0-3 0-3 0-3 0-3 0-3 0-3 0-3 0-.5 0-1-3-.5-3 0-3 .5-3 .5-3 1-2 .5-1 1.5-3 1-1 1.5-2 1.5-1.5 2-1.5 1-1 3-2 3-2 1.5-1 1.5-1 3-2 3-3 2-3 1-2 .5-1 .5-3-.5-3-.5-3 0-.5-.5-2.5-1-3 0-3-.5-3 0-3 .5-3 .5-3 .5-3 0-3 .5-3 0-3 0-.5 0-2.5 1-3 1-3 1-2.5 .5-.5 1.5-3 1-1.5 1-1.5 2-3 1-3 1-3-.5-3 0-3-1-3-.5-3 0-.5-1-2.5-1.5-3-.5-.5-2.5-2.5-.5-.5-3-2.5-3-1.5-2-1.5-1-.5-3-1.5-2.5-1-.5 0-3-1-3-1-3-.5-2.5-.5-.5 0-3-.5-3-.5-3 0-3 .5-3 0-3 .5-1 0-2 .5-3 0-3 .5-3 .5-3 1-2 .5-1 .5-3 1-3 1.5-3 2-1.5 1-1.5 1-2 2-1 1.5-1.5 1.5-1.5 2-.5 1-1.5 3-1 1.5-.5 1.5-1 3-1 3-.5 2.5 0 .5-.5 3 0 3-.5 3-.5 3-.5 3-.5 3-.5 2.5 0 .5-1 3-1 3-1 3 0 .5-.5 2.5-1.5 3-1 3 0 .5-1 2.5-1 3-1 2.5 0 .5-1.5 3-.5 3-1 2-.5 1-1.5 3-1 1.5-1 1.5-1.5 3-.5 1-1 2-1.5 3-.5 1.5-.5 1.5-1 3 1 3-1.5 3-1 2-.5 1-2.5 2.5-.5 .5-2 3-.5 .5-2 2.5-1 1-1.5 2-1.5 1.5-1.5 1.5-1.5 2-1 1-2 2-1 1-2 2-1 1-2 2.5-.5 .5-2.5 0-3 0-3 0-3 0-3 0-3 0-3 0-3 0-3 0 0-3 0-3 0-3 0-3 0-3 0-3 0-3 0-3 0-3 0-3 0-3 0-3 0-3 0-3 0-3 0-3 0-3 0-3 0-3 0-3 0-3 0-3 0-3 0-3 0-3 0-3 0-3 0-3 0-3 0-3 0-3 0-3 0-3 0-3 0-3 0-3 0-3 0-3 0-3 0-3 0-3 0-3 0-3 0-3 0-3 0-3 0-3 0-3 0-3 0-3 0-3 0-3 0-3 0-3 0-3 0-3 0-3 0-3 0-3 0-3 0-3 0-3 0-3 0-3 0-3 0-3 0-3 0-3 0-3 0-3 0-3 0-3 0-3 0-3 0-3 0-3 0-3 0-3 0-3 0-3 0-3 0-3 0-3 0-3 0-3 0-3 0-3 0-3 0-3 0-3 0-3 0-3 0-3 0-3 0-3 0-3 0-3 0-3 0-3 0-3 0-3 0-3 0-3 0-3 0-3 0-3 0-3 0-3 0-3 0-3 0-3 0-3 0-3 0-3 0-3 0-3 0-3 0-3 0-3 0-1.5 1.5 1.5 1.5 1.5 1.5 1.5 0 3 1.5 1.5 1.5 1.5 1.5 1.5 3 0 1.5 1.5 0 3 1.5 1.5 1.5 1.5 1.5 1.5 2 1.5 1 1 2 2 1 1 2 2 1 1 2.5 2 0 3 .5 .5 3 2.5 2 0-.5-3 0-3 .5-3-.5-3 0-3 .5-3 1-3-3-1.5-3-1 0-.5 0-3 0-1 .5-2 1-3 0-3-1.5-1-1-2-2-3-.5 0 .5-1.5 1-1.5 2-2 .5-1 1.5-3 1-2.5 1-.5 2-1 1.5-2 1.5-2 1-1 2-2 0-1 0-.5-1-2.5-2-3 3-1.5 3-.5 3-.5zM408.5 578l2.5-1 3-.5 3 1 .5 .5 2.5 2 .5 1 1 3 .5 3 0 3 0 3 0 3 0 3-.5 3-1.5 0-3 0-3 0-3 0-3 0-3 0-3 0-3 0-3 0-3 0-2 0 0-3 .5-3 1-3 .5-1 1.5-2 1.5-1.5 1-1.5 2-1.5 1-1.5 2-1.5 1.5-1.5 1.5-1 3-2z"/>
<path fill="#d5e515" d="M461 77l1-2 .5-1 2.5 0 3 0 3 0 3 0 3 0 3 0 3 0 3 0 3 0 3 0 3 0 3 0 3 0 3 0 3 0 3 0 3 0 3 0 3 0 3 0 3 0 3 0 3 0 3 0 3 0 3 0 3 0 3 0 3 0 3 0 3 0 3 0 3 0 3 0 3 0 3 0 3 0 3 0 0 3 0 3 0 3 0 3 0 3 0 3 0 3 0 3 0 3 0 3 0 3 0 3 0 3 0 3 0 3 0 3 0 3 0 3 0 3 0 3-.5 0-2.5-1.5-3-1-3-.5-3 .5-3 2-.5 .5-1 3-1.5 3 0 .5-.5 2.5-.5 3-.5 3 0 3 0 3 0 3-.5 3 0 3 .5 3 1 3 .5 1 1.5 2 1.5 1 3 .5 3-.5 3-.5 2-.5 1 0 3-1.5 0 1.5 0 3 0 3 0 3 0 3 0 3 0 3 0 3 0 3 0 3 0 3 0 3 0 3 0 3 0 3 0 3 0 3 0 3 0 3 0 3 0 3 0 3 0 3 0 3 0 3 0 3 0 3 0 3 0 3 0 3 0 3 0 3 0 3 0 3 0 3 0 3 0 3 0 3 0 3 0 3 0 3 0 3 0 3 0 3 0 3 0 3 0 3 0 3 0 3 0 3 0 3 0 3 0 3 0 3 0 3 0 3 0 3 0 3 0 3 0 3 0 3 0 3 0 3 0 3 0 3 0 3 0 3 0 3 0 3 0 3 0 3 0 3 0 3 0 3 0 3 0 3 0 3 0 3 0 3 0 3 0 3 0 3 0 3 0 3 0 3 0 3 0 3 0 3 0 3 0 3 0 3 0 3 0 3 0 3 0 3 0 3 0 3 0 3 0 3 0 3 0 3 0 3 0 3 0 3 0 3 0 3 0 3 0 3 0 3 0 3 0 3 0 3 0 3 0 3 0 3 0 3 0 3 0 3 0 3 0 3 0 3 0 3 0 3 0 3 0 3 0 3 0 3 0 3 0 3 0 3 0 3 0 3 0 3 0 3 0 3 0 3 0 3 0 3 0 3 0 3 0 3 0 3 0 3 0 3-3 0-3 0-3 0-3 0-3 0-3 0-3 0-3 0-3 0-3 0-3 0-3 0-3 0-3 0-3 0-3 0-3 0-3 0-3 0-3 0-3 0-3 0-3 0-3 0-3 0-3 0-3 0-3 0-3 0-3 0-3 0-3 0-2 0 .5-3 1.5-3 2.5-3 .5 0 3-3 3-2.5 .5-.5 2.5-2.5 .5-.5 2.5-3 2-3 1-1 1-2 2-3 1.5-3 1.5-3 1.5-3 1-3 .5-3 0-1.5 0-1.5 0-3 0-3 0-3 .5-3 0-3 .5-3 0-3-.5-3-.5-.5-1.5-2.5-1.5-1.5-1-1.5-2-2.5-.5-.5-2.5-2-1.5-1-1.5-.5-3-1-3 0-3 0-3-.5-3-.5-1-.5-2-.5-3-1-3-1-1-.5-2-.5-3-1-3-.5-3-.5-3 0-3-.5-3 0-3 .5-3 .5-3 1-2 1-1 .5-3 1.5-2.5 1-.5 .5-3 2.5-1.5 3-1.5 2.5-.5 .5-2 3-.5 .5-2.5 2.5-.5 .5-2.5 2.5-.5 1-3 2-3 .5-1.5-.5-1.5-.5-2.5-2.5-.5-1-1.5-2-1-3-.5-1-.5-2-.5-3 0-3 .5-3 .5-1.5 .5-1.5 1.5-3 1-2 .5-1 2-3 .5-.5 2-2.5 1-1 2-2 1-2 1-1 1.5-3 .5-2 .5-1 0-3 .5-3-.5-3-.5-1-.5-2-1.5-3-1-1.5-.5-1.5-2.5-3-2.5-3-.5-.5-2.5-2.5-.5-.5-1.5-2.5-1.5-2.5-.5-.5-.5-3-.5-3 0-3 .5-3 1-3 1.5-3 1.5-2.5 0-.5 2-3 1-1.5 1-1.5 2-3 1.5-3 1.5-2.5 .5-.5 1-3 1.5-3 0-.5 .5-2.5 1-3 0-3-.5-3-1-2-.5-1-2.5-2.5-.5-.5-2.5-2-1-1-2-1.5-1.5-1.5-1.5-1.5-1.5-1.5-1.5-2-.5-1-1.5-3-1-3 0-2.5 0-.5 0-.5 .5-2.5 .5-3 1-3 1-2.5 .5-.5 1-3 1-3 .5-1.5 .5-1.5 .5-3 0-3-.5-3-.5-2 0-1-1-3-1-3-1-2-.5-1-1-3-1-3-.5-1-.5-2 0-3 0-3 .5-3 0-.5 1-2.5 1-3 1-1.5 1-1.5 1.5-3 .5-.5 1.5-2.5 1.5-2.5 .5-.5 1-3 1-3 .5-1 .5-2 1-3 1-3 .5-1 .5-2 1-3 1-3 .5-3 0-1.5 0-1.5 .5-3 0-3 .5-3 .5-3 .5-3 0-3 .5-3 0-3 0-3 .5-3 0-1 0-2 .5-3 .5-3 .5-3 .5-3 .5-3 .5-1.5 .5-1.5 1-3 1.5-3 1.5-3 1.5-2 .5-1 2.5-2.5 0-.5 3-3 3-3 3-3 3-3 2.5-3 .5-.5 1.5-2.5 1.5-2 .5-1 2-3 .5-1 1.5-2 1.5-3 0-.5 1-2.5 1-3 1-2.5 0-.5 1-3 .5-3 0-3 .5-3 0-3 0-3 0-3 0-3 .5-3 .5-3 0-3 0-1.5 0-1.5 0-3 .5-3 0-3 0-3 0-3-.5-3-1-3-.5-3-1-3-.5-3 0-1-.5-2 0-3 0-3 .5-3 0-.5 1-2.5zM141.5 227l2.5-1.5 3-.5 3 0 3 0 3 0 3 0 3 0 3 .5 3 1 2 .5 1 0 3 1 3 .5 3 1 2 .5 1 .5 3 1 3 1 1.5 .5 1.5 .5 2.5 2.5 .5 0 3 1.5 3 1.5 .5 0 2.5 1 3 1 2 1 1 .5 3 1.5 1.5 1 1.5 .5 3 2 1 .5 2 1 3 1.5 .5 .5 2.5 1.5 3 1.5 3 2 2 1 1 .5 3 1.5 2 1 1 .5 3 1.5 2.5 1 .5 0 3 1.5 2.5 1.5 .5 .5 3 1.5 1 1 2 1.5 1.5 1.5 1.5 1.5 1.5 1.5 1.5 2 .5 1 1.5 3 1 1.5 .5 1.5 1 3 .5 3 .5 3 .5 3 0 3 0 3-.5 3-1 3-1.5 2.5-.5 .5-2.5 2-2 1-1 .5-3 .5-3 1-2.5 1-.5 .5-3 1-3 1-2.5 .5-.5 0-3 .5-3 .5-3 1-3 1-.5 0-2.5 1-3 1.5-1 .5-2 1.5-3 1.5-3 2.5-1 .5-2 2-1 1-2 2-1 1-2 3-2 3-1 2.5 0 .5 0 1.5 1 1.5 2 .5 3 0 3-.5 2 0 1 0 3-.5 3 0 3-.5 3-.5 3-.5 3 0 3-.5 3-.5 1.5 0 1.5 0 3-.5 3 0 3-.5 3-1.5 .5-.5 2.5-2.5 .5-.5 2.5-3 2-3 1-1 1.5-2 1.5-1.5 1.5-1.5 1.5-1.5 2-1.5 1-.5 3-1 3-1 3 0 3 0 3 .5 3 .5 2.5 1.5 .5 0 3 2 1 1 2 2 1 1 2 2.5 .5 .5 2.5 3 3 2.5 .5 .5 2.5 1 3 .5 3 .5 3 1 .5 0 2.5 1 2.5 2 .5 .5 2.5 2.5 .5 .5 2 2.5 1 1.5 1.5 1.5 1.5 1.5 2 1.5 1 1 3 1.5 1 .5 2 1 3 1.5 .5 .5 2.5 1.5 2 1.5 1 1 2 2 1 1.5 1.5 1.5 1.5 3 0 .5 1 2.5 .5 3 .5 3-.5 3-.5 3-.5 3-.5 1.5-.5 1.5-1.5 3-1 2-.5 1-1 3-1 3-.5 .5-1 2.5-2 2.5-.5 .5-2.5 2-1 1-2 1.5-1.5 1.5-1.5 2-1 1-2 2.5-.5 .5-2 3-.5 1-1 2-1 3 0 3 .5 3 .5 3 .5 3-.5 3-.5 3-1 3-.5 1-1 2-1.5 3-.5 1-1 2-1.5 3-.5 .5-1.5 2.5-1 3-.5 1-.5 2 0 3 .5 3 .5 3 0 3 0 3-.5 2 0 1-.5 3 0 3 .5 1 1 2 2 2 1 1 2 1 3 1.5 1 .5 2 1 3 1.5 .5 .5 2.5 2 1 1 2 3 0 .5 1 2.5 .5 3 1 3 .5 1 .5 2 2 3 .5 1 1.5 2 1.5 2.5 .5 .5 2 3 .5 .5 1.5 2.5 1.5 2.5 .5 .5 1.5 3 1 2 .5 1 1 3 .5 3-.5 3-1.5 2.5-.5 .5-2.5 1.5-3 .5-3 0-3-.5-3-.5-3 1-2 1-1 .5-3 2.5-3 3-3 2.5-.5 .5-2.5 1.5-3 1.5-3 0-3-1-3-1-3 0-3 0-3 1-2 1-1 .5-3 2-.5 .5-2.5 3-2.5 3-.5 1.5-.5 1.5-1 3-1 3-.5 0-3 0-3 0-3 0-3 0-3 0-3 0-3 0-3 0-3 0-3 0-3 0-3 0-3 0-3 0-3 0-3 0-3 0-3 0-3 0-3 0-3 0-3 0-3 0-3 0-3 0-3 0 0-.5-.5-2.5 0-3-.5-3 0-3 .5-3 .5-2 .5-1 1.5-3 1-1 1.5-2 1.5-1.5 2-1.5 1-.5 3-2 1-.5 2-1.5 2-1.5 1-1 2-2 1-1 1.5-2 1.5-2.5 0-.5 1-3 .5-3-1-3-.5-2 0-1-1-3-1-3-.5-3 0-3 0-3 0-3 .5-3 .5-3 0-3 .5-3 .5-3 .5-3 0-.5 1-2.5 1.5-3 .5-1 1.5-2 1.5-2.5 .5-.5 2-3 .5-1 1-2 1.5-3 .5-3-.5-3-1-3-.5-3-1-3 0-1-.5-2-1.5-3-1-1-2-2-1-1-2.5-2-.5 0-3-2-1.5-1-1.5-.5-3-1.5-2-1-1-.5-3-1-3-1-3-.5-.5 0-2.5-.5-3 0-3-.5-3-.5-3 0-3 0-3 .5-3 0-3 .5-3 0-3 .5-1.5 0-1.5 0-3 .5-3 1-3 1-2 .5-1 .5-3 1.5-2.5 1-.5 .5-3 2-.5 .5-2.5 3-2.5 3-.5 .5-2 2.5-1 2-.5 1-1.5 3-1 3-1 3-.5 3-.5 3-.5 3 0 3-.5 3-1 3-.5 3-1.5 3 0 .5-1 2.5-1 3-1 2-.5 1-1 3-1.5 3-1.5 3-1.5 3-1.5 3-1.5 3-1.5 3-1.5 2.5-.5 .5-.5 3-1.5 3-.5 1-1.5 2-1.5 2.5 0 .5-2 3-1 2-.5 1-2.5 2.5-.5 .5-2.5 3 0 .5-2 2.5 .5 3-1.5 2-1 1-2 2.5-.5 .5-2.5 3-2.5 3-.5 1-2 2-1 1-2 2-1 1-2 2-1 1-2 2-1 1.5-1.5 1.5-1.5 1.5-1.5 1.5-1.5 0-3 0-3 0-3 0 0-3 0-3 0-3 0-3 0-3 0-3 0-3 0-3 0-3 0-3 0-3 0-3 0-3 0-3 0-3 0-3 0-3 0-3 0-3 0-3 0-3 0-3 0-3 0-3 0-3 0-3 0-3 0-3 0-3 0-3 0-3 0-3 0-3 0-3 0-3 0-3 0-3 0-3 0-3 0-3 0-3 0-3 0-3 0-3 0-3 0-3 0-3 0-3 0-3 0-3 0-3 0-3 0-3 0-3 0-3 0-3 0-3 0-3 0-3 0-3 0-3 0-3 0-3 0-3 0-3 0-3 0-3 0-3 0-3 0-3 0-3 0-3 0-3 0-3 0-3 0-3 0-3 0-3 0-3 0-3 0-3 0-3 0-3 0-3 0-3 0-3 0-3 0-3 0-3 0-3 0-3 0-3 0-3 0-3 0-3 0-3 0-3 0-3 0-3 0-3 0-3 0-3 0-3 0-3 0-3 0-3 0-3 0-3 0-3 0-3 0-3 0-3 0-3 0-3 0-3 0-3 0-3 0-3 0-3 0-.5 .5 .5 2.5 2.5 .5 .5 0 3 2.5 2.5 .5 .5 2.5 2.5 3 0 .5 .5 0 3 2.5 2.5 .5 .5 2.5 2.5 1 .5 2 2 1 1 2 2 1 1 2 2 1 1 0 3 2 2 1.5 1 1.5 1.5 1.5 1.5 0 3 1.5 1.5 2 1.5 0 3 1 1 2 2 1 1 2.5 2 .5 .5 3 2.5-.5 3 .5 .5 2-.5-1-3-1-3 0-1-.5-2-.5-3-.5-3-.5-3 0-3 0-3 0-3-.5-3 .5-3 1-3 1-3 0-.5 .5-2.5 .5-3-1-.5-3-1.5-1.5-1 .5-3 1-2 .5-1 .5-3 0-3 2-3 1.5-3 1.5-2.5 1-.5 2-2 2.5-1 0-3 .5-.5 3-1 3-1zM150 347l-2 0 2 3 .5-3zM407.5 581l.5-.5 3-1.5 3-1 3 1 2.5 2 .5 1 .5 2 .5 3 0 3 0 3-.5 3-.5 3 0 .5-1 2.5-2 0-3 0-3 0-3 0-3 0-3 0-3 0-3 0-.5 0 0-3 .5-3 0-.5 1-2.5 2-3 2-3 1-1 2-2 1-1z"/>
<path fill="#d7e314" d="M464 77l1-2.5 0-.5 3 0 3 0 3 0 3 0 3 0 3 0 3 0 3 0 3 0 3 0 3 0 3 0 3 0 3 0 3 0 3 0 3 0 3 0 3 0 3 0 3 0 3 0 3 0 3 0 3 0 3 0 3 0 3 0 3 0 3 0 3 0 3 0 3 0 3 0 3 0 3 0 3 0 0 3 0 3 0 3 0 3 0 3 0 3 0 3 0 3 0 3 0 3 0 3 0 3 0 3 0 3 0 3 0 3 0 3 0 3 0 2.5-3-1-3-1-3-.5-3 0-3 1.5-2.5 1.5-.5 1-1 2-1 3-1 3 0 1 0 2-.5 3 0 3 0 3 0 3 0 3-.5 3 0 3 .5 3 .5 3 0 .5 1 2.5 1.5 3 .5 1 3 2 3-.5 3-1 3-.5 3-.5 3-.5 0 3 0 3 0 3 0 3 0 3 0 3 0 3 0 3 0 3 0 3 0 3 0 3 0 3 0 3 0 3 0 3 0 3 0 3 0 3 0 3 0 3 0 3 0 3 0 3 0 3 0 3 0 3 0 3 0 3 0 3 0 3 0 3 0 3 0 3 0 3 0 3 0 3 0 3 0 3 0 3 0 3 0 3 0 3 0 3 0 3 0 3 0 3 0 3 0 3 0 3 0 3 0 3 0 3 0 3 0 3 0 3 0 3 0 3 0 3 0 3 0 3 0 3 0 3 0 3 0 3 0 3 0 3 0 3 0 3 0 3 0 3 0 3 0 3 0 3 0 3 0 3 0 3 0 3 0 3 0 3 0 3 0 3 0 3 0 3 0 3 0 3 0 3 0 3 0 3 0 3 0 3 0 3 0 3 0 3 0 3 0 3 0 3 0 3 0 3 0 3 0 3 0 3 0 3 0 3 0 3 0 3 0 3 0 3 0 3 0 3 0 3 0 3 0 3 0 3 0 3 0 3 0 3 0 3 0 3 0 3 0 3 0 3 0 3 0 3 0 3 0 3 0 3 0 3 0 3 0 3 0 3 0 3 0 3 0 3 0 3 0 3 0 3 0 3 0 3 0 3 0 3 0 3-3 0-3 0-3 0-3 0-3 0-3 0-3 0-3 0-3 0-3 0-3 0-3 0-3 0-3 0-3 0-3 0-3 0-3 0-3 0-3 0-3 0-3 0-3 0-3 0-3 0-3 0-3 0-3 0-2.5 0 1.5-3 1-1.5 1-1.5 2-2.5 .5-.5 2.5-3 2.5-3 .5-.5 1.5-2.5 1.5-2 .5-1 1.5-3 1-1.5 1-1.5 2-3 2.5-3 .5-1 2-2 1-2 .5-1 1-3-.5-3-1-1.5-.5-1.5-2.5-3-1.5-3-1-3-.5-2 0-1 0-3 0-2 0-1 0-3 0-1-.5-2-2-3-.5 0-3-3-2-3-1-1-2.5-2-.5-.5-3-1-3-1-3 0-3 0-3-.5-.5 0-2.5-1-3-1-3-.5-1-.5-2-.5-3-1-3-1-3-.5-1.5 0-1.5 0-3-.5-3-.5-3 0-3 0-3 .5-1 .5-2 .5-3 1-2.5 1.5-.5 0-3 1-3 1.5-.5 .5-1.5 3-1 3-1.5 3-1.5 2-1.5 1-1.5 1.5-2 1.5-1 1-2.5 2-.5 .5-3 .5-2-1-1-.5-2.5-2.5-.5-1-1-2-.5-3-.5-3 0-3 .5-3 1-3 .5-1 1-2 2-3 2.5-3 .5-.5 3-2.5 3-2.5 .5-.5 2-3 .5-1.5 .5-1.5 1-3 .5-3 0-3 0-3-1-3-1-2-.5-1-1.5-3-1-1.5-1-1.5-2-2.5-.5-.5-2.5-2-1.5-1-1.5-1-2-2-1-1.5-1-1.5-.5-3 0-3 1-3 .5-1.5 1-1.5 2-3 3-3 3-3 3-3 0-.5 2-2.5 1-1 1.5-2 1.5-2.5 .5-.5 1.5-3 1-1 1-2 2-3 2-3 1-1.5 1.5-1.5 1.5-2 1-1 2-2 1-1 2-2 1.5-1 1.5-1.5 1.5-1.5 1.5-2.5 .5-.5 0-3-.5-.5-1.5-2.5-1.5-1-3-1.5-3-.5-3 0-3 0-2.5 0-.5 0-3 .5-3 .5-3 1-3 .5-3 0-3-1-3-1.5-2.5-3-.5-.5-1-2.5-.5-3 0-3 .5-3 1-2.5 0-.5 1.5-3 1-3 .5-1 1-2 .5-3 0-3-.5-3-1-3 0-.5-.5-2.5-1-3-1-3-.5-1-1-2-1-3-1-2.5 0-.5-1-3 0-3 0-3 .5-3 .5-1 1-2 1-3 1-1.5 1-1.5 2-3 2-3 1-1.5 .5-1.5 1-3 .5-3 1-3 1-3 .5-3 1-3 .5-2.5 0-.5 1-3 0-3 .5-3 0-3 0-3 .5-3 0-3 .5-3 .5-3 0-2 0-1 .5-3 0-3 0-3 .5-3 .5-3 .5-3 .5-3 .5-3 0-.5 .5-2.5 1-3 1-3 .5-1 1-2 2-3 0-.5 2-2.5 1-1 1.5-2 1.5-1.5 1.5-1.5 1.5-2 1-1 2-2 1-1 2-2 1-1 2-2.5 .5-.5 2-3 .5-.5 1.5-2.5 1.5-2.5 0-.5 2-3 1-1.5 .5-1.5 1-3 1.5-3 1-3 1-3 .5-3 0-3 .5-3 0-1.5 0-1.5 0-3 0-3 .5-3 .5-3 0-3 .5-3 0-3 .5-3 .5-3 0-3 0-3-.5-3-.5-3-.5-3-1-3-.5-3-.5-3 0-3 0-3 0-3 .5-3 .5-1.5 .5-1.5zM153.5 239l2.5-2 3 .5 3-.5 3-.5 3 0 3 0 3 0 3 1 3 .5 3 .5 3 .5 3 .5 3 1 3 .5 2.5 1 .5 0 3 1.5 3 .5 2 1 1 1 3 1 2 1 1 .5 3 1 3 1.5 3 1.5 3 1.5 .5 0 2.5 1 3 1.5 .5 .5 2.5 1 3 1.5 1 .5 2 1 3 1.5 1.5 .5 1.5 .5 3 1.5 2 1 1 .5 3 2 1 .5 2 1.5 2 1.5 1 .5 2.5 2.5 .5 .5 2 2.5 1 2 .5 1 1.5 3 1 2.5 0 .5 1 3 .5 3 .5 3 0 3 0 3-.5 3-1 3-.5 1-1.5 2-1.5 1.5-3 1-1 .5-2 .5-3 1-3 1-1 .5-2 1-3 1-3 .5-3 .5-1 0-2 .5-3 .5-3 .5-3 1-1 .5-2 1-3 1-2 1-1 .5-3 1.5-1.5 1-1.5 .5-3 1.5-1.5 1-1.5 1-3 1.5-1 .5-2 1-3 1.5-2.5 .5-.5 0-3 1.5-3 1-1.5 .5-1.5 .5-3 .5-3 .5-3 .5-3 0-3-.5-3-.5-2-1-1-.5-3-1.5-2.5-1-.5-.5-3-2-.5-.5-2.5-2-1-1-2-1.5-1.5-1.5-1.5-1.5-3-1.5-3-1-3 0-1 1-2 2-1.5 1-1.5 1.5-1.5 1.5-1.5 1-3 .5-1.5 1.5-1.5 1.5-3 0-1.5 1.5-1.5 2-3 0-1 1-2 2-3 0-.5 1-2.5 2.5-.5 .5-2.5 2.5-3 .5-1 3-1 3 2 1 3 1.5 1.5 .5 1.5 .5 3 1.5 2.5 1 .5 0 3 1 3 1 3 1 .5 0 2.5 .5 3 1 3 .5 3 .5 3 .5 1 0 2 0 3 .5 3 0 1 2.5-1 1.5-3 0-1 1.5 0 3 1 0 3 .5 3 0 3-.5 .5 0 2.5-.5 3-.5 3-1 3 0 3-1 1 0 2-.5 3-1 3-.5 3-.5 2-.5 1-.5 3-.5 3 0 3-.5 3 0 3-.5 3-.5 2.5-.5 .5 0 3-1 3-1.5 1-.5 2-2 .5-1 2.5-3 3-3 3-1.5 3-1 1-.5 2-.5 3-1 3-.5 3-.5 3-.5 3 0 3-.5 3 0 3 .5 3 0 3-1 2-2 1-1 1-2 2-3 1.5-3 1.5-1.5 1-1.5 2-3 3-3 3-2 2-1 1-.5 3-.5 3 0 3 0 3 .5 1.5 .5 1.5 .5 3 1.5 1.5 1 1.5 1.5 2 1.5 1 1.5 1.5 1.5 1.5 2 1 1 2 2.5 1 .5 2 1.5 3 1 2.5 .5 .5 0 3 .5 3 1 3 1.5 3 2.5 .5 .5 2.5 3 2.5 3 .5 .5 2.5 2.5 .5 .5 3 2 .5 .5 2.5 1.5 3 1.5 3 2 1.5 1 1.5 1.5 2 1.5 1 1.5 1.5 1.5 1.5 3 1 3 .5 3 .5 3 0 3-.5 3-.5 3-1 2.5 0 .5-1.5 3-1.5 3-1 3-1 3-1 1.5-1 1.5-2 2-1.5 1-1.5 1.5-2 1.5-1 1-2 2-1 1-1.5 2-1.5 2-1 1-2 2.5-.5 .5-2.5 3 0 .5-1 2.5 .5 3 .5 2 .5 1 .5 3 0 3-.5 3-.5 2.5 0 .5-1 3-1 3-1 2-.5 1-1.5 3-1 2-.5 1-2 3-.5 1-1.5 2-.5 3 1 3 1 2 .5 1 1 3 .5 3-.5 3-.5 3-1 2.5 0 .5-1 3 1 3 2.5 3 .5 .5 3 1.5 3 1 3 1 3 1 2 1 1 .5 2.5 2.5 .5 .5 1.5 2.5 1 3 .5 3 0 1.5 0 1.5 1 3 2 3 2 3 1 1.5 1 1.5 2 2.5 .5 .5 1.5 3 1 1.5 1 1.5 1.5 3 .5 1 .5 2 1 3 .5 3-1 3-1 1-3 1-3 0-3-.5-3-.5-3 1-1 1-2 1-3 2-3 2.5-.5 .5-2.5 3-3 3-3 1.5-3 0-3-1.5-.5 0-2.5-1-3-.5-3 .5-3 1-3 1.5-2 1.5-1 .5-2.5 2.5-.5 .5-2 2.5-1 1.5-1 1.5-1.5 3-.5 2.5 0 .5-1.5 3-1.5 0-3 0-3 0-3 0-3 0-3 0-3 0-3 0-3 0-3 0-3 0-3 0-3 0-3 0-3 0-3 0-3 0-3 0-3 0-3 0-3 0-3 0-3 0-2-3-1-3 0-.5-1-2.5 0-3 0-3 .5-3 .5-.5 1.5-2.5 1.5-1.5 1.5-1.5 1.5-1 3-2 3-2 1-1 2-1.5 1-1.5 2-2.5 0-.5 2-3 1-1.5 .5-1.5 1-3 0-3-1-3-.5-1.5-.5-1.5-1-3-1-3-.5-2 0-1-.5-3 0-3 0-3 .5-2 0-1 .5-3 .5-3 0-3 .5-3 1-3 .5-1.5 1-1.5 2-3 2-3 1-1.5 1-1.5 2-3 2-3 1-2.5 .5-.5 0-3-.5-3-1-3-1.5-3-.5-3 0-.5-.5-2.5-1-3-1.5-1.5-1.5-1.5-1.5-1.5-2-1.5-1-.5-3-1.5-1.5-1-1.5-1-3-1-1.5-1-1.5-.5-3-1-3-1-1-.5-2-.5-3 0-3-.5-3-.5-3-.5-3 0-3 0-3 0-3 0-3 0-3 .5-3 0-3 0-3 0-3 .5-3 .5-2.5 .5-.5 0-3 1-3 1-3 1-3 2-2 1-1 1-2 2-1 1-2 2-1 1-1.5 2-1.5 2-.5 1-2 3-.5 1.5-.5 1.5-1.5 3-.5 3-.5 1.5-.5 1.5-1 3-.5 3-.5 3-.5 2.5 0 .5-1 3-1.5 3-.5 1.5-1 1.5-1.5 3-.5 1-1 2-2 3 0 1-.5 2-2 3-.5 1-1.5 2-1.5 2.5 0 .5-2.5 3-.5 1-1.5 2-1.5 2.5-.5 .5-2 3-.5 .5-2 2.5 0 3-1 2-.5 1-2 3-.5 .5-2 2.5-1 1-2 2-.5 3-.5 .5-2.5 2.5-.5 .5-2.5 2.5-.5 .5-2.5 2.5-.5 1-2 2-1 .5-2.5 2.5-.5 1-2.5 2-.5 .5-1.5 2.5-1.5 2-1 1-2 1-3 0-3 2 0-3 0-3 0-3 0-3 0-3 0-3 0-3 0-3 0-3 0-3 0-3 0-3 0-3 0-3 0-3 0-3 0-3 0-3 0-3 0-3 0-3 0-3 0-3 0-3 0-3 0-3 0-3 0-3 0-3 0-3 0-3 0-3 0-3 0-3 0-3 0-3 0-3 0-3 0-3 0-3 0-3 0-3 0-3 0-3 0-3 0-3 0-3 0-3 0-3 0-3 0-3 0-3 0-3 0-3 0-3 0-3 0-3 0-3 0-3 0-3 0-3 0-3 0-3 0-3 0-3 0-3 0-3 0-3 0-3 0-3 0-3 0-3 0-3 0-3 0-3 0-3 0-3 0-3 0-3 0-3 0-3 0-3 0-3 0-3 0-3 0-3 0-3 0-3 0-3 0-3 0-2.5 3 0 3 0 3 0 3 0 3 0 3 0 3 0 3 0 3 0 .5-.5 2.5-2.5 3 0 3 0 3 0 3 0 3 0 3 0 3 0 3 0 3 .5 3 0 .5-1 2.5-3 .5 0-.5-1-1-2-1-3-1-2.5 0-.5-1-3-.5-3-.5-3-.5-3-.5-3 0-1.5 0-1.5 0-3 0-1.5 0-1.5 .5-3 .5-3 1-3 .5-3 .5-.5 1.5-2.5-1.5-1-1-2-1-3 1.5-3 .5-3 2.5-3 .5-.5 3-2.5 3-3 3-1.5 3-1zM339 556l-1.5 1-.5 3 2 1.5 3-1 .5-.5 0-3-.5-.5zM78 269l0-2.5 3 2.5 3 2.5 .5 .5 2.5 2 1 1 2 1.5 2 1.5 1 .5 3 2.5 3 2 1.5 1 1.5 .5 3 2 1 .5 2 0 1.5 0 1.5-1 0 1 3 3 0 3 3 3 3 3 0 1-3 0-1-1-2-2-1.5 2 1.5 3 0 .5-3-.5-3-2.5-.5-.5-2.5-2.5-.5-.5-2.5-2.5-.5-.5-2.5-3-3-2.5-3-.5-3-2.5-.5-.5-2.5-2.5-.5-.5-2.5-2.5-3 0-.5-.5-2.5-2.5 0-.5 0-3zM111 296l-.5 0 .5 0 .5 0zM122.5 302l.5 0 0 .5zM155.5 368l.5 0 3-.5 0 .5-3 0zM411 581l3-1 3 .5 1 .5 1.5 3 .5 2.5 0 .5 0 1 0 2-.5 3-.5 3-1 3-1 2-.5 1-2.5 0-3 0-3 0-3 0-3 0-1.5 0-1-3 .5-3 1-3 1-2 .5-1 2-3 .5-.5 2-2.5 1-1z"/>
<path fill="#dae112" d="M467 77l1-2.5 .5-.5 2.5 0 3 0 3 0 3 0 3 0 3 0 3 0 3 0 3 0 3 0 3 0 3 0 3 0 3 0 3 0 3 0 3 0 3 0 3 0 3 0 3 0 3 0 3 0 3 0 3 0 3 0 3 0 3 0 3 0 3 0 3 0 3 0 3 0 3 0 3 0 3 0 0 3 0 3 0 3 0 3 0 3 0 3 0 3 0 3 0 3 0 3 0 3 0 3 0 3 0 3 0 3 0 3 0 3 0 3-.5 0-2.5-1-3-.5-3-.5-3 0-3 1-2.5 1-.5 .5-2 2.5-1 2-.5 1-1 3-.5 3-.5 3 0 3 0 3 0 3 .5 3 0 3-.5 3 0 3 0 3 0 3 .5 3 1 3 1 3 0 .5 1.5 2.5 1.5 3 3 3 1 0 2 0 1.5-3 1.5-3 3-.5 3-.5 3-.5 0 1.5 0 3 0 3 0 3 0 3 0 3 0 3 0 3 0 3 0 3 0 3 0 3 0 3 0 3 0 3 0 3 0 3 0 3 0 3 0 3 0 3 0 3 0 3 0 3 0 3 0 3 0 3 0 3 0 3 0 3 0 3 0 3 0 3 0 3 0 3 0 3 0 3 0 3 0 3 0 3 0 3 0 3 0 3 0 3 0 3 0 3 0 3 0 3 0 3 0 3 0 3 0 3 0 3 0 3 0 3 0 3 0 3 0 3 0 3 0 3 0 3 0 3 0 3 0 3 0 3 0 3 0 3 0 3 0 3 0 3 0 3 0 3 0 3 0 3 0 3 0 3 0 3 0 3 0 3 0 3 0 3 0 3 0 3 0 3 0 3-3-.5-3-.5-3-.5-3-1-1.5-.5-1.5-1-3-.5-1.5 1.5-1.5 .5-2 2.5-1 2.5 0 .5-.5 3 .5 3 2.5 3 .5 .5 3 1 3 .5 3 .5 2 .5 1 .5 3 0 3 0 1-.5 2-.5 0 .5 0 3 0 3 0 3 0 3 0 3 0 3 0 3 0 3 0 3 0 3 0 3 0 3 0 3 0 3 0 3 0 3 0 3 0 3 0 3 0 3 0 3 0 3 0 3 0 3 0 3 0 3 0 3 0 3 0 3 0 3 0 3 0 3 0 3 0 3 0 3 0 3 0 3 0 3 0 3 0 3 0 3 0 3 0 3 0 3 0 3 0 3 0 3 0 3 0 3 0 3 0 3-3 0-3 0-3 0-3 0-3 0-3 0-3 0-3 0-3 0-3 0-3 0-3 0-3 0-3 0-3 0-3 0-3 0-3 0-3 0-3 0-3 0-3 0-3 0-3 0-2.5 0 1.5-3 1-2 1-1 2-2 1-1 2-2 .5-1 1-3 1-3 .5-.5 1-2.5 2-3 3-2 2.5-1 .5-.5 3-2.5 2-3 1-1.5 1-1.5 1-3 1-2 .5-1 .5-3 .5-3-1.5-3-3-1.5-3-1-2-.5-1 0-3-1-3-1.5-.5-.5-2.5-3 0-.5-.5-2.5 0-3 0-3-.5-3-2-3-3-2-1-1-2-2-.5-1-2.5-2.5-.5-.5-2.5-2-3-1-.5 0-2.5-.5-3 0-3-.5-3 0-3-1-3-1-.5 0-2.5-1-3-1-3-.5-1-.5-2-.5-3-.5-3-.5-3 0-3-.5-3 0-3 0-3 0-3 .5-3 1.5-1 0-2 .5-2-.5-1-1-2.5-2-.5-1-2-2-1-1.5-.5-1.5-.5-3 0-3 .5-3 .5-3 .5-3 1-3 1-3 0-3-2-3-.5-.5-2-2.5-1-2.5-.5-.5-.5-3-1.5-3-.5-1-3-1.5-2.5-.5-.5 0-3-1-3-1.5-.5-.5-.5-3 1-3 3-2 2.5-1 .5 0 3-1 3-.5 3-.5 3-.5 2.5-.5 .5 0 3-.5 3 0 3 .5 2.5-3-1.5-3-1-1.5-1-1.5-1.5-3 .5-3 1-3 1-2 .5-1 2.5-3 0-.5 1.5-2.5 1.5-2.5 .5-.5 1.5-3 1-1 1.5-2 1.5-2 1-1 2-1.5 1-1.5 2-2 1-1 1.5-3-.5-3-1.5-3-.5-1.5-.5-1.5-2-3-.5-.5-2.5-2.5-.5-.5-3-1.5-2-1-1-.5-3-.5-3-1-3-.5-3 0-3 0-3 0-3 1-3 .5-2 1-1 .5-3 1-3-.5-1-1-2-3-.5-3 .5-2.5 0-.5 1-3 1.5-3 .5-.5 2-2.5 1-1 3-1.5 2-.5 1-1 3-1.5 .5-.5-.5-1-3 .5-3-1-1.5-1.5-1.5-1-1-2-1.5-3-.5-1-.5-2-1-3-1-3-.5-1-1-2-1-3-1-2.5 0-.5-.5-3-.5-3 .5-3 .5-3 1.5-3 1.5-3 2-3 1-1.5 1-1.5 2-3 0-.5 .5-2.5 .5-3 .5-3 .5-3 1-3 0-.5 .5-2.5 .5-3 .5-3 .5-3 .5-3 0-3 0-3 0-3 0-3 .5-3 0-1 0-2 .5-3 .5-3 0-3 .5-3 0-3 .5-3 .5-3 .5-3 0-1 .5-2 .5-3 .5-3 1-3 .5-1.5 .5-1.5 1.5-3 1-1.5 1-1.5 2-2.5 .5-.5 2.5-3 2.5-3 .5-.5 2-2.5 1-.5 2.5-2.5 .5-.5 2-2.5 1-1 1.5-2 1.5-2.5 .5-.5 1.5-3 1-1.5 1-1.5 2-3 1.5-3 1-3 .5-1 1-2 1-3 1-3 0-1 0-2 .5-3 0-3 .5-3 0-3 0-3 .5-3 .5-3 .5-3 .5-3 .5-3 0-3 .5-3 0-3 0-3-.5-3 0-3-.5-1.5-.5-1.5-.5-3-1-3 0-3 0-3 0-3 .5-3 1-3 .5-1.5 .5-1.5zM543 484l-2.5 1 0 3 2.5 1 3 1 3-1 .5-1-.5-1.5-1-1.5-2-1zM561 412l-.5 1 .5 1.5 1 1.5-1 1-3 1.5-2.5 .5-.5 .5-.5 2.5 .5 2 1.5 1 1.5 1.5 2-1.5 1-.5 2.5-2.5 .5-.5 3-2 1-.5 1-3-1-3-1-.5-3-1zM564 490.5l-1.5 .5-1.5 1-2 2-1 2-1.5 1 1.5 2.5 0 .5 3 1.5 3 1 3 0 3 0 3-.5 2.5-2 .5-3-2-3-1-.5-3-1.5-3-1-.5 0zM438 311l-.5 0-2.5 1.5-2.5 1.5-.5 .5-3 2-1.5 .5-1.5 1-2.5 2 0 3 2 3 .5 .5 2.5 2.5 .5 1.5 3 1.5 0 2.5 0-2.5 1-3 2-2 .5-1 2.5-2.5 .5-.5 2.5-2 1.5-1 1.5-1.5 1-1.5 1-3-1.5-3-.5-.5-3-.5zM179 245l1 0 1.5 0 1.5 0 3 .5 3 .5 3 .5 3 .5 3 .5 3 0 1 .5 2 .5 3 1 3 1.5 3 1 3 1 2 1 1 .5 3 1 3 1 1 .5 2 1 3 1 2 1 1 .5 3 1 3 1.5 3 1.5 3 1 1 .5 2 1 3 1.5 1 .5 2 1 2.5 2 .5 .5 3 2.5 3 3 2 3 1 1.5 .5 1.5 1.5 3 1 3 0 .5 .5 2.5 .5 3 0 3 0 3-.5 3-.5 1.5-.5 1.5-2 3-.5 .5-3 1.5-3 1-.5 0-2.5 1-3 1-2.5 1-.5 0-3 1.5-3 .5-3 0-3 .5-3 .5-3 .5-3 1-3 1-2.5 .5-.5 .5-3 1-3 1-1.5 .5-1.5 1-3 .5-3 1-1.5 .5-1.5 .5-3 1-3 1-3 .5-3 .5-3 0-3 .5-3 0-3-.5-3 0-3-.5-3-1-3-1-2.5-1-.5 0-3-2-2-1-1-1-3-2-3-2.5-.5-.5-2.5-.5-1 .5-2 1.5-3-.5-3 1-2.5 1-.5 0-3 1-3 1-3 1-.5 0-2.5 1-3 2-3 2.5-.5 .5-2 3-.5 .5-1 2.5-2 0-2.5 3-.5 .5-3 0-2 2.5-1 1-2 2-1 1-3 .5-1.5 1.5-1.5 1.5-3 .5-1 1-2 2-1 1-2 2-3 .5-.5 .5-2.5 3-3 0-3 3 0-3 0-3 0-3 0-3 0-3 0-3 0-3 0-3 0-3 0-3 0-3 0-3 0-3 0-3 0-3 0-2 3 0 3 0 3 0 3 0 3 0 3 .5 3 0 3 0 3 0 1.5-1.5 1.5-1.5 3 0 3 0 3 0 3 .5 3 0 3 0 3 0 3-.5 3 .5 3 .5 2-2.5 1-1 1 1 2 2 3-.5 3-.5 3-.5 .5-.5-.5-3-1.5-3-1.5-3 0-.5-1-2.5-1-3-1-3-.5-3-.5-3-.5-3 .5-3 0-3 0-3 .5-3 .5-1.5 .5-1.5 1-3 1.5-1.5 1.5-1.5 1.5-3-3-2-1.5-1 1.5-3 0-.5 3-2.5 3-2.5 1-.5 2-1 2-2 1-1 3-.5 3-.5 3-.5 3 0 3-.5zM275 329l1-1 3-1 3-.5 3-.5 3 .5 3 .5 3 1.5 1 .5 2 1 2.5 2 .5 .5 2.5 2.5 .5 .5 2 2.5 1 1.5 1.5 1.5 1.5 1 3 2 3 .5 3 1 3 .5 3 .5 .5 .5 2.5 1.5 1.5 1.5 1.5 1.5 1.5 1.5 1.5 2 1 1 2 2.5 .5 .5 2.5 2 1 1 2 1.5 3 1.5 3 2 1.5 1 1.5 1 2 2 1 1 1.5 2 1.5 2.5 .5 .5 1 3 1 3 0 3 0 3 0 3-1 3-1 3-.5 1-1 2-1 3-1 1.5-.5 1.5-1 3-1.5 2-1 1-2 1.5-2 1.5-1 1-2 2-1 1-2 2-1 1.5-1.5 1.5-1.5 2-1 1-2 2-1 1-2 2-1 1-1.5 3 0 3 .5 3 .5 3-.5 3-1 2-3 0-3-2-.5 3 .5 .5 3 0 2 2.5 .5 3 0 3-1 3-1.5 3 0 .5-2 2.5-1 1-3 1.5-3 .5-3-.5-3-2.5-2-3-1-1.5-1.5-1.5-1.5-.5-1 .5-1 3 1 3 1 2.5 .5 .5 2.5 2 1 1 2 1 3 2 3 1.5 2 1.5 1 1 2.5 2 .5 .5 2 2.5 1 3-.5 3-1 3-1.5 3-1 3-.5 3 1.5 3 2 3 1 3 3 0 3-1 3 0 3 .5 2.5 .5 .5 0 3 2 1 1 2 3 1 3-.5 3-.5 2.5 0 .5-3 3-3 0-.5 0 .5 .5 3-.5 3 .5 2 2.5 1 .5 2 2.5 1 1 1.5 2 1.5 2 1 1 1.5 3 .5 1 1 2 1 3 .5 3 .5 1 .5 2 .5 3-1 1-3-.5-1-.5-2-2.5-1-.5-2-.5-3 .5-1.5-3-1.5-1-3-2-3-.5-1 .5-2 1.5-.5 1.5-1 3 1 3 .5 1.5 3-.5 2-1 1 0 3-2 3 2-2.5 3-.5 0-3 2-1.5 1-1.5 1-1.5 2-1.5 2-.5 1-2 3-.5 .5-3 2.5-3-1-3-1.5-2-.5-1 0-3-.5-3 .5-.5 0-2.5 1-3 1.5-1 .5-2 1.5-1.5 1.5-1.5 1.5-1.5 1.5-1.5 2-1 1-2 3 0 .5-1 2.5-1 3-1 3-3 0-3 0-3 0-3 0-3 0-3 0-3 0-3 0-3 0-3 0-3 0-3 0-3 0-3 0-3 0-3 0-3 0-3 0-3 0-1.5 0-1-3-.5-1.5-1-1.5-1.5-3-.5-1.5-.5-1.5-1-3 1-3 .5-1 1.5-2 1.5-1 3-2 3-2.5 .5-.5 2.5-3 2-3 1-2 .5-1 2-3 .5-1 .5-2 1-3-.5-3-1-3 0-.5-1-2.5-1-3-1-2-.5-1-.5-3-.5-3 0-3 .5-3 0-3 .5-3 .5-3 0-1 .5-2 .5-3 1-3 1-1.5 1-1.5 2-3 2-3 1-1.5 1-1.5 2-2.5 0-.5 2-3 1-2 .5-1 0-3 0-3-.5-1-1-2-1.5-3-.5-1.5 0-1.5-.5-3-1-3-1.5-2-1-1-2-1.5-1.5-1.5-1.5-1-3-1.5-.5-.5-2.5-1-3-1.5-1.5-.5-1.5-.5-3-1-3-1-1-.5-2-.5-3-1-3 0-3 0-3-.5-3-.5-3 0-3 0-3 0-3 0-3 0-3 0-3-.5-3 0-3 0-3 0-3 .5-3 0-3 1-3 .5-2.5 1-.5 0-3 1.5-3 1-.5 .5-2.5 2-1.5 1-1.5 1.5-2 1.5-1 1-2 2-1 1.5-1 1.5-2 3-2 3-1 2.5 0 .5-1.5 3-1.5 3 0 .5-1 2.5-1 3-1 3 0 .5-1 2.5-1 3-1 2-.5 1-1.5 3-1 1.5-1 1.5-2 3-2 3-1 1.5-1.5 1.5 0 3-1.5 2-1 1-2 2.5-.5 .5-2 3-.5 .5-2 2.5-1 1-1.5 2-1.5 1.5-1.5 1.5-1.5 2-1 1-2 2-1 1-2 2.5-.5 .5 .5 1.5 .5 1.5-.5 .5-2 2.5-1 1-2 2-1 1-2.5 2-.5 .5-2.5 2.5-.5 .5-3 2.5-3 2.5-.5 .5-2.5 1.5-1.5 1.5-1.5 1.5 0-1.5 0-3 0-3 0-3 0-3 0-3 0-3 0-3 0-3 0-3 0-3 0-3 0-3 0-3 0-3 0-3 0-3 0-3 0-3 0-3 0-3 0-3 0-3 0-3 0-3 0-3 0-3 0-3 0-3 0-3 0-3 0-3 0-3 0-3 0-3 0-3 0-3 0-3 0-3 0-3 0-3 0-3 0-3 0-3 0-3 0-3 0-3 0-3 0-3 0-3 0-3 0-3 0-3 0-3 0-3 0-3 0-3 0-3 0-3 0-3 0-3 0-3 0-3 0-3 0-3 0-3 0-1 3 0 .5-2-.5-.5-2-2.5-1-2 0-1 0-3 3 1.5 3 1 1 .5 2 0 3 .5 3 .5 3 0 3 .5 1.5 1.5 1.5 1 3 .5 3 .5 3 1 2.5 0 .5 .5 3 1.5 1 1 2 2.5 .5 .5 2.5 2.5 .5 .5 2.5 1.5 3 1.5 3 1 3 .5 3 .5 3 .5 3-.5 2.5 1 .5 .5 1-.5 2-.5 3-1 3-1 1-.5 2-1 3-1 3-.5 1-.5 2-.5 3-1.5 3-.5 2.5-.5 .5 0 3-1 3-.5 3-.5 3-.5 3 0 2.5-.5 .5 0 3-.5 3-.5 3-.5 3-1 1-.5 2-.5 3-1.5 1-1 2-1.5 1-1.5 2-3 0-.5 1-2.5 2-3 3-2 2.5-1 .5-.5 3-1 3-1 1.5-.5 1.5-.5 3 0 3-.5 3 0 3 .5 3 0 3 .5 3-.5 3-2.5 2-3 1-2 .5-1 1.5-3 1-2 .5-1 2-3 .5-1 1.5-2 1.5-1.5zM324 520.5l0 .5 0 1 0-1zM324 524.5l-1 2.5-.5 3 .5 3 .5 3 .5 .5 1 2.5 2 3 3 .5 1-.5 2-2 .5-1 2-3-2.5-1.5-1.5-1.5-1.5-.5-3-2.5-2.5-3zM411.5 506l2.5-1.5 3 .5 1.5 1 1.5 1.5 1.5 1.5 1.5 1.5 1 1.5 1 3 0 3-.5 3-1 3-.5 .5-3 2-1 .5-2 1.5-2.5 1.5-.5 .5-3 .5-2.5-1-.5-.5-1.5-2.5-1.5-3 0-1.5 0-1.5 0-3 .5-3 1.5-3 1-2 1-1 2-2.5zM410 584l1-.5 3-2 3 .5 1 2 .5 3 0 3-.5 3-1 3-2 3-1 1.5-2.5 1.5-.5 0-3 0-1 0-2-1.5-1-1.5 0-3 .5-3 .5-1.5 .5-1.5 1.5-3 1-1z"/>
<path fill="#dddf11" d="M470 77l1-1.5 1-1.5 2 0 3 0 3 0 3 0 3 0 3 0 3 0 3 0 3 0 3 0 3 0 3 0 3 0 3 0 3 0 3 0 3 0 3 0 3 0 3 0 3 0 3 0 3 0 3 0 3 0 3 0 3 0 3 0 3 0 3 0 3 0 3 0 3 0 3 0 3 0 0 3 0 3 0 3 0 3 0 3 0 3 0 3 0 3 0 3 0 3 0 3 0 3 0 3 0 3 0 3 0 3 0 3 0 1.5-3-1-2-.5-1 0-3-.5-3 0-3 .5-.5 0-2.5 1-2 2-1 1-1 2-1.5 3-.5 2-.5 1-.5 3 0 3-.5 3 0 3 .5 3 .5 3 0 3-.5 3 0 3 0 3 0 3 0 3 0 3 1 3 0 .5 1 2.5 1.5 3 .5 1 1.5 2 1.5 1.5 2 1.5 1 .5 3 .5 3-1 .5 0 2.5-2 1.5-1 1.5-1 3-1.5 0 2.5 0 3 0 3 0 3 0 3 0 3 0 3 0 3 0 3 0 3 0 3 0 3 0 3 0 3 0 3 0 3 0 3 0 3 0 3 0 3 0 3 0 3 0 3 0 3 0 3 0 3 0 3 0 3 0 3 0 3 0 3 0 3 0 3 0 3 0 3 0 3 0 3 0 3 0 3 0 3 0 3 0 3 0 3 0 3 0 3 0 3 0 3 0 3 0 3 0 3 0 3 0 3 0 3 0 3 0 3 0 3 0 3 0 3 0 3 0 3 0 3 0 3 0 3 0 3 0 3 0 3 0 3 0 3 0 3 0 3 0 3 0 3 0 .5-3 .5-3 0-3 0-3 .5-3 1-1 .5-2 1-2.5 2-.5 .5-2 2.5-1 1.5-1 1.5-1.5 3-.5 1-1 2-1 3-.5 3-.5 2.5 0 .5-.5 3-1 3-.5 3-.5 3 0 3 0 3 0 3 .5 3 .5 3 0 3 0 3-1 3-.5 1-1 2-2 3-2 3-1 1-1.5 2-1.5 2-.5 1-2 3-.5 2.5 0 .5 0 3 1 3 2 3 3 3 3 2.5 .5 .5 2.5 2.5 1 .5 2 2 1.5 1 1.5 1 3 2 .5 0 2.5 1 3 .5 3 .5 3 0 3 .5 2.5 .5 .5 0 3 .5 3 0 0 2.5 0 3 0 3 0 3 0 3 0 3 0 3 0 3 0 3 0 3 0 3 0 3 0 3 0 3 0 3 0 3 0 3 0 3 0 3 0 3 0 3 0 3 0 3 0 3 0 3 0 3 0 3 0 3 0 3 0 3-3 0-3 0-3 0-3 0-3 0-3 0-3 0-3 0-3 0-3 0-3 0-3 0-3 0-3 0-3 0-3 0-3 0-3 0-3 0-3 0-3 0-.5 0 .5-1 1-2 1.5-3 .5-.5 1-2.5 1.5-3 .5-1.5 1-1.5 2-3 3-3 3-2.5 .5-.5 2.5-2.5 .5-.5 2.5-3 2-3 1-2.5 .5-.5 1-3 .5-3 0-3-.5-3-1.5-3-2.5-3-.5-.5-3-2-2-.5-1-.5-3-.5-3-1-2-1-1-.5-2.5-2.5-.5-1-.5-2-.5-3-.5-3-1.5-2.5 0-.5-3-2.5-1-.5-2-1.5-1.5-1.5-1.5-1.5-1.5-1.5-1.5-1.5-2.5-1.5-.5-.5-3-1-3-.5-3 0-3 0-3-.5-2-.5-1-.5-3-.5-3-1-3-1-3-1-3-.5-3-.5-3-.5-3-.5-2 0-1 0-3-.5-3 0-3 0-3 0-3 .5-3-1.5-1-1.5-2-3-1-3-.5-3 0-3 1-3 .5-2 .5-1 1-3 1.5-3 0-.5 .5-2.5 .5-3 .5-3 .5-3 1-3 1.5-3 1.5-2 .5-1 2.5-3 2.5-3 .5-1 1.5-2 1.5-2.5 .5-.5 1-3 1-3 .5-3-.5-3 .5-3 0-2.5 0-.5 0-3 .5-3 1-3 1-3 .5-1.5 .5-1.5 1.5-3 1-1.5 .5-1.5 1.5-3 1-1.5 .5-1.5 1-3 0-3-.5-3-1-3 0-.5-1.5-2.5-1.5-3-2.5-3-.5-.5-3-2.5-3-2-1.5-1-1.5-.5-3-1.5-2.5-1-.5-.5-3-1-3-1.5-3-1.5-2-1.5-1-3 .5-3 .5-3 1-3 1-3 1-3 1-3 1-2.5 0-.5 1-3 1-3 1-3 1-3 2-2.5 0-.5 3-3 3-3 1.5-3 1-3-.5-3-2-2.5-.5-.5-2.5-1-3-.5-3 .5-3 .5-1 .5-2 1-3 1-3 1-1 0-2 .5-3 .5-3 1-2.5 1-.5 1 0-1 0-3 0-.5 1-2.5 .5-3 1-3 .5-2.5 0-.5 .5-3 0-3 .5-3 .5-3 .5-3 0-3 .5-3 .5-2 0-1 .5-3 0-3 0-3 0-3 0-3 0-3 0-3 .5-3 0-3 .5-3 .5-3 0-3 .5-3 0-3 .5-2 0-1 .5-3 .5-3 .5-3 1-3 .5-2 .5-1 1.5-3 1-2.5 .5-.5 2-3 .5-1 1.5-2 1.5-1.5 1-1.5 2-2 .5-1 2.5-2.5 .5-.5 2.5-2.5 .5-.5 2.5-3 2.5-3 .5-1 1-2 2-3 1.5-3 1.5-2 .5-1 1.5-3 1-2.5 .5-.5 1-3 1.5-3 0-.5 .5-2.5 .5-3 0-3 .5-3 .5-3 0-3 0-3 .5-3 .5-3 .5-3 .5-3 .5-3 .5-3 0-3 0-3 0-3 0-3 0-3-.5-3-1-3-.5-3 0-1 0-2 0-1 0-2 1-3 .5-3 1-3 .5-1 1-2zM173 254l1-.5 3-.5 3-.5 3-.5 3-.5 3 .5 3 0 3 0 3 0 3 .5 3 .5 3 .5 2 .5 1 0 3 1.5 3 1 2 .5 1 .5 3 .5 3 1.5 2 .5 1 .5 3 1 3 1 1 .5 2 .5 3 1.5 2.5 1 .5 0 3 1.5 3 1.5 .5 0 2.5 1.5 3 1.5 3 2 1 1 2 2 1 1 2 2.5 .5 .5 1.5 3 1 1.5 .5 1.5 1 3 1 3 .5 3 0 1.5 0 1.5 0 3 0 .5-.5 2.5-1 3-1.5 2.5-.5 .5-2.5 1.5-3 1-2.5 .5-.5 0-3 1.5-3 1-1.5 .5-1.5 .5-3 .5-3 .5-3 .5-3 0-3 .5-2 .5-1 0-3 1-3 .5-3 1-2.5 .5-.5 0-3 1-3 1-3 .5-3 .5-1 0-2 .5-3 .5-3 0-3 .5-3-.5-3-.5-3-.5-1 0-2-.5-3-.5-3-1-2-1-1-.5-3-1.5-1.5-1-1.5-1-3-2-3-2-3 .5-2.5 1.5-.5 .5-2-.5 1-3 1-1 3-.5 3 .5 2.5-2-2-3-.5-.5-1.5-2.5-1.5-3-1-3-.5-3-1-3-.5-3 0-3 0-3 0-1 .5-2 .5-3 1-3 1-3 1.5-3 1.5-2.5 .5-.5-.5-.5-.5-2.5 .5-2.5 .5-.5 2.5-1.5 2-1.5 1-1 3-1.5zM107.5 317l.5-.5 3 0 3 0 3 .5 3 0 3 0-3 1.5-2.5 1.5-.5 0-3 2.5-1 .5-2 2.5-.5 .5-2 3-.5 1-1 2-1.5 3-.5 1-1 2-1 3-.5 3-.5 2.5 0 .5-3 3-3 .5-2.5 2.5-.5 .5-2 2.5-1 1-3 0-1.5 2-1.5 1.5-3 .5-1 1-2 2 0-2 0-3 0-3 0-3 0-3 0-3 0-3 0-3 0-3 0-3 0-3 0-3 0-3 0-3 0-3 0-1.5 3 0 3 0 3 .5 3 0 3 0 3 0 3 0 3 0 3 .5zM411 323l0-1.5 3 .5 0 1 2 3 1 .5 2.5 2.5 .5 .5 2.5 2.5 .5 1 1 2 .5 3-.5 3-1 2-1 1-2 1-3 0-1-1-2-2.5-.5-.5-.5-3-.5-3-.5-3-1-3 0-.5 0-2.5zM277 329l2-1 3-.5 3 0 3 .5 3 .5 .5 .5 2.5 1 3 2 3 2.5 .5 .5 2.5 3 2.5 3 .5 .5 3 2 .5 .5 2.5 1 3 1 3 .5 2.5 .5 .5 0 3 1 2.5 2 .5 .5 2.5 2.5 .5 .5 2.5 2.5 .5 1 2 2 1 1 2 2 1 1 3 2 3 2 1.5 1 1.5 1 2.5 2 .5 .5 2 2.5 1 1 1 2 1.5 3 .5 2 .5 1 0 3 0 3 0 3-.5 1.5-.5 1.5-1 3-1.5 3-1 3-1.5 3-.5 1-1 2-2 2-1 1-2 1.5-1.5 1.5-1.5 1.5-1.5 1.5-1.5 1.5-1.5 1.5-1.5 2-1 1-2 2-1 1-2 2-1.5 1-1.5 1.5-1 1.5-1.5 3-.5 1-1 2-2 3-3 3-1.5 3 0 3 1.5 2.5 0 .5 3 3 0 .5 1 2.5-.5 3-.5 1-1.5 2-1.5 1-3 1-3-1-1-1-2-1.5-1-1.5-2-2.5-2-.5-1 0-.5 0-2.5 1.5-1 1.5-.5 3 .5 3 1 3 2.5 3 .5 .5 3 2.5 3 2 2 1 1 .5 3 2.5 .5 0 2.5 2 1 1 2 3-.5 3-1 3-1 3-.5 1-.5 2-.5 3 0 3 .5 3 0 3 0 3-.5 3-.5 3 0 3 0 3 .5 3 1 2.5 0 .5 1.5 3 1.5 2 1 1 2 2 1.5 1 1.5 .5 3 1 3 0 3-1 0-.5 2.5-3 .5-.5 3-1.5 3-.5 3 1.5 1.5 1 1.5 2 1 1 1.5 3 0 3-2.5 2.5-3 0-3-.5-3-1.5-2-.5-1-.5-2 .5-1 .5-1.5 2.5-1 3-.5 1.5-.5 1.5-.5 3 .5 3 0 3-.5 3-1.5 3-.5 1-3 0-3-1-2.5 0-.5 0-3 0-3 .5-3 1-3 1.5-3 2-1 1-2 2-1 1-2 2-.5 1-2.5 3 0 .5-1.5 2.5-1 3-.5 1.5-.5 1.5-1.5 3-1 0-3 0-3 0-3 0-3 0-3 0-3 0-3 0-3 0-3 0-3 0-3 0-3 0-3 0-3 0-3 0-3 0-1.5 0-1-3-.5-1.5-.5-1.5-1-3-1-3 0-3 1-3 1.5-2 .5-1 2-3 .5-.5 2-2.5 1-2 .5-1 2-3 .5-1.5 1-1.5 1-3 1-2.5 0-.5 .5-3-.5-3 0-1-.5-2-1-3-1.5-3 0-.5-1-2.5-.5-3-.5-3 0-3 0-3 0-3 .5-3 .5-3 .5-3 .5-1.5 .5-1.5 1.5-3 1-1.5 1-1.5 2-3 0-.5 1.5-2.5 1.5-2 1-1 2-3 1.5-3 1.5-3 0-1.5 0-1.5 0-2.5 0-.5-1-3-1.5-3-.5-2-.5-1-.5-3-1-3-1-1.5-1-1.5-2-2-1-1-2-1.5-3-1.5-3-1.5-3-1-1-.5-2-1-3-1-3-1-.5 0-2.5-.5-3-1-3-.5-3-.5-3 0-3 0-3-.5-3 0-1.5 0-1.5 0-2.5 0-.5 0-3-.5-3 0-3-.5-3-.5-3 0-3-.5-3 0-3 0-3 0-3 .5-3 .5-3 1-1 0-2 .5-3 1-3 1.5-.5 0-2.5 2-1 1-2 1.5-2.5 1.5-.5 .5-3 2.5 0 .5-2.5 2.5-.5 1-2 2-1 2-.5 1-2 3-.5 1.5-1 1.5-1.5 3-.5 1-1 2-2 3-1.5 3-1.5 3 0 .5-1.5 2.5-1.5 3-2 3-1 1-1.5 2-1.5 2-1.5 1-1.5 3-3 3-3 3-3 3 1 3-1 1-2 2-1 1-2 2-1 1-3 1.5-.5 .5-1.5 3-1 .5-3 1.5-1.5 1-1.5 1-2.5 2-.5 .5-3 2.5-3 2-1 1-2 1 0-1 0-3 0-3 0-3 0-3 0-3 0-3 0-3 0-3 0-3 0-3 0-3 0-3 0-3 0-3 0-3 0-3 0-3 0-3 0-3 0-3 0-3 0-3 0-3 0-3 0-3 0-3 0-3 0-3 0-3 0-3 0-3 0-3 0-3 0-3 0-3 0-3 0-3 0-3 1-3-1 0 0-3 0-3 0-3 0-3 0-3 0-3 0-3 0-3 0-3 0-3 0-3 0-3 0-3 0-3 0-1 3 0 3-.5 3 0 3 0 2-1.5 1-1 3-1 3 0 3 1 3 0 2.5 1-.5 3 1 1 1.5 2 1.5 1.5 2 1.5-1 3-1 1-1.5-1-1.5-1.5-3-1-3 .5-1.5-1-1.5-1.5-3 .5-.5 1 .5 .5 3 .5 1.5 2 1.5 1.5 3 .5 1 1 2 1.5 3 .5 3 1 3 1.5 3 1 3 0 1 .5 2 1.5 3-1 3 0 .5-.5-.5-3 3-1 3-1 2-1 1-.5 3-1 3-1.5 3-1.5 3-1 .5-.5 2.5-.5 3-1.5 2.5-1 .5 0 3-1.5 3-1.5 3-1 3-1 2.5-1 .5 0 3-1 3-.5 3-1 3-.5 3 0 .5 0 2.5-.5 3 0 3-.5 3-.5 3-.5 3-1 .5 0 2.5-1.5 2-1.5 1-1 1.5-2 1.5-1.5 .5-1.5 1.5-3 1-1.5 .5-1.5 2-3 .5-.5 3-2.5 3-2 2.5-1 .5 0 3-1 3-.5 3 0 3 0 3 .5 3 0 3 0 3-.5 3-1.5 2.5-3 .5-1 1-2 1.5-3 .5-1.5 .5-1.5 1.5-3 1-1.5 1-1.5 2-2.5 .5-.5 2.5-2.5zM413.5 365l.5-.5 3-1 3 .5 2.5 1 0 3-2.5 2-1 1-2 1-3 0-1-1-1-3zM410.5 512l.5-1 3-1 3 1 1.5 1 1.5 1 1.5 2 1.5 3 0 3-2 3-1 .5-3 1.5-2 1-1 .5-3 .5-1-1-2-2.5 0-.5-.5-3 0-3 .5-2 .5-1zM330.5 518l2.5-1.5 3-.5 3 .5 2.5 1.5 .5 .5 1.5 2.5 .5 3-1 3-1 1-3 1-3 0-3-1-1.5-1-1.5-2.5-.5-.5 0-3 .5-2zM410 587l1-1 3-2 3 2.5 0 .5 0 1-.5 2-1 3-1.5 3-3 1.5-3-1.5-.5-3 .5-3z"/>
<path fill="#dfdd0f" d="M474 77l0-.5 1.5-2.5 1.5 0 3 0 3 0 3 0 3 0 3 0 3 0 3 0 3 0 3 0 3 0 3 0 3 0 3 0 3 0 3 0 3 0 3 0 3 0 3 0 3 0 3 0 3 0 3 0 3 0 3 0 3 0 3 0 3 0 3 0 3 0 3 0 3 0 3 0 0 3 0 3 0 3 0 3 0 3 0 3 0 3 0 3 0 3 0 3 0 3 0 3 0 3 0 3 0 3 0 3 0 2.5-3-.5-3-.5-3-.5-3 0-3 .5-3 1-1 .5-2 1.5-1.5 1.5-1.5 3-1 3-1 3-.5 3-.5 3 0 2.5 0 .5 0 .5 0 2.5 .5 3 .5 3 0 3 0 3-.5 3-.5 3 0 2.5 0 .5 0 3 0 3 0 1.5 0 1.5 1 3 1.5 3 .5 1 1.5 2 1.5 2 1 1 2 1.5 3 1.5 3 .5 3 0 1.5-.5 1.5-.5 3-1.5 3-1 0 3 0 3 0 3 0 3 0 3 0 3 0 3 0 3 0 3 0 3 0 3 0 3 0 3 0 3 0 3 0 3 0 3 0 3 0 3 0 3 0 3 0 3 0 3 0 3 0 3 0 3 0 3 0 3 0 3 0 3 0 3 0 3 0 3 0 3 0 3 0 3 0 3 0 3 0 3 0 3 0 3 0 3 0 3 0 3 0 3 0 3 0 3 0 3 0 3 0 3 0 3 0 3 0 3 0 3 0 3 0 3 0 3 0 3 0 3 0 3 0 3 0 3 0 3 0 3 0 3 0 3 0 3 0 3-1 0-2 .5-3 .5-3 1-3 .5-1 .5-2 .5-3 1.5-1.5 1-1.5 1-2.5 2-.5 .5-2 2.5-1 1.5-1 1.5-2 3 0 .5-1 2.5-1.5 3-.5 1.5-.5 1.5-1 3-1 3-.5 2-.5 1-1 3-1 3-.5 2-.5 1-.5 3-1 3-.5 3-.5 1.5-.5 1.5-.5 3-.5 3-.5 3-1 3 0 .5-.5 2.5-1.5 3-1 3-1 3-1 3-1 3 0 3 .5 3 1 3 1.5 3 2.5 3 .5 1 2 2 1 1.5 1.5 1.5 1.5 1.5 1.5 1.5 1.5 2.5 .5 .5 2 3 .5 .5 2 2.5 1 1 3 1.5 1 .5 2 1 3 .5 3 1 3 .5 .5 0 2.5 .5 3 .5 3 1 3 .5 2 .5 1 0 0 3 0 3 0 3 0 3 0 3 0 3 0 3 0 3 0 3 0 3 0 3 0 3 0 3 0 3 0 3 0 3 0 3 0 3 0 3 0 3 0 3 0 3 0 3 0 3 0 3 0 3-3 0-3 0-3 0-3 0-3 0-3 0-3 0-3 0-3 0-3 0-3 0-3 0-3 0-3 0-3 0-3 0-3 0-3 0 .5-3 1-3 1-3 .5-1.5 1-1.5 2-3 3-3 3-2 1-1 2-1.5 1.5-1.5 1.5-1.5 1-1.5 2-3 1.5-3 1-3 .5-3 0-3-.5-3-1-3-1.5-3-2.5-3-.5-.5-2.5-2.5-.5-.5-3-1.5-2-1-1-.5-3-1-3-1-1.5-.5-1.5-.5-2.5-2.5-.5-1-1-2-1-3-1-1.5-.5-1.5-2.5-2.5-.5-.5-2.5-2-2-1-1-1-2-2-1-1-2.5-2-.5-.5-3-1.5-3-1-1.5 0-1.5 0-3-.5-3 0-3-.5-3-1-3-.5-1.5-.5-1.5-.5-3-1-3-1-3-.5-3-.5-3-.5-3-.5-3-.5-3 0-3-.5-3-.5-1.5 0-1.5-.5-3-1.5-.5-1-1.5-3-.5-3 .5-3 .5-3 1.5-3 2-3 1-2 1-1 1.5-3 .5-.5 1.5-2.5 1.5-3 1.5-3 1.5-3 0-.5 1.5-2.5 1.5-2.5 0-.5 2-3 1-2 .5-1 1.5-3 1-2.5 .5-.5 1-3 1-3 .5-3 .5-3 .5-3 0-3 .5-3 .5-3 0-3 .5-3 .5-2 0-1 1-3 .5-3 .5-3 .5-3 .5-3 0-3-.5-3-1-3-1.5-3-1.5-3-1.5-2-1-1-2-2.5-.5-.5-2.5-2-1.5-1-1.5-1-3-2-3-1.5-2.5-1.5-.5-.5-3-1.5-1.5-1-1.5-1.5-1.5-1.5-1.5-3-.5-3 0-3 .5-3 0-.5 .5-2.5 1.5-3 1-3 1-3 1-3 1-2.5 0-.5 1.5-3 1.5-2 .5-1 2.5-2.5 .5-.5 2.5-3 0-.5 1.5-2.5 .5-3-.5-3-1-3-.5-.5-3-2.5-3-1-3-.5-3 0-3 .5-3 1-1 0-2 .5-3 0-2.5-.5-.5 0-2-3-.5-3 0-3 0-3 0-3 0-3 .5-3 0-3 0-3 .5-3 0-3 0-3 0-3 0-3-.5-3 .5-3 0-3 0-3 .5-3 0-3 .5-3 .5-3 0-2 0-1 .5-3 .5-3 .5-3 .5-3 .5-3 .5-2 .5-1 1-3 1.5-3 1.5-3 1.5-2 .5-1 2.5-3 2.5-3 .5-.5 2-2.5 1-1 1.5-2 1.5-1.5 1.5-1.5 1.5-1.5 1-1.5 2-2.5 0-.5 2-3 1-1.5 .5-1.5 2-3 .5-.5 1.5-2.5 1-3 .5-.5 1-2.5 1.5-3 .5-1.5 .5-1.5 1-3 .5-3 0-3 .5-3 0-3 0-3 .5-3 0-1 .5-2 .5-3 1-3 .5-3 0-3 .5-3 0-.5 .5-2.5 0-3 0-3 0-3 0-3-.5-3 0-.5-.5-2.5 0-3 0-3 .5-3 0-1 .5-2 1-3 1.5-3 0-.5 1-2.5zM188 257l1-.5 3 0 3 0 3 0 3 .5 2.5 0 .5 0 3 .5 3 .5 3 .5 3 .5 2.5 1 .5 0 3 1 3 1 3 .5 1 .5 2 .5 3 1 3 1 1 .5 2 1 3 1 2.5 1 .5 0 3 1.5 3 1.5 3 2 1.5 1 1.5 1 2 2 1 1 1.5 2 1.5 2 .5 1 2 3 .5 1.5 .5 1.5 1 3 .5 3 0 3 0 3 0 3-1 3-1 1-1.5 2-1.5 1-3 .5-3 1-1 .5-2 .5-3 1.5-3 1-3 .5-3 .5-3 0-3 .5-3 0-3 .5-3 .5-2.5 .5-.5 0-3 .5-3 .5-3 .5-3 1-3 0-3 0-3 .5-3 0-3 0-3-.5-3 0-3-1-3-.5-2-1-1-.5-3-1.5-2.5-1-.5-.5-3-2.5-3-1.5-2-1.5 2-1.5 .5-1.5-.5-2.5 0-.5-2-3-1-1.5-1-1.5-1-3-.5-3-.5-2.5 0-.5 0-3 0-3 0-1.5 0-1.5 1.5-3 .5-3 1-2.5 .5-.5 2-3 .5-.5 3-2 .5-.5-.5-1-1-2 1-1.5 3-.5 2.5-1 .5 0 3-1.5 3-.5zM78 320l0-1 3 0 3 .5 3 0 3 0 3 0 3 .5 2.5 0-1 3-1.5 2.5-.5 .5-.5 3-2 2.5-.5 .5-1 3-.5 3-.5 3-.5 2 0 1-.5 3-1 3-1.5 2.5-.5 .5 0 3-2.5 3 0 .5-3 0-2 2.5-1 1 0-1 0-3 0-3 0-3 0-3 0-3 0-3 0-3 0-3 0-3 0-3 0-3 0-3 0-3zM283.5 329l1.5 0 .5 0 2.5 .5 3 1 3 1.5 3 2 1 1 2 2 1 1 2 2 1 1 2 2 1 1 2 1 3 1.5 3 .5 3 .5 3 1 3 1 .5 .5 2.5 2 1 1 2 2 1 1 2 2.5 .5 .5 2.5 2.5 .5 .5 2.5 2.5 1 .5 2 1.5 2 1.5 1 1 3 2 3 3 2 3 1 2 .5 1 1 3 .5 3 0 3-.5 3-.5 3-1 2-.5 1-1 3-1.5 3-1.5 3-1.5 2.5-.5 .5-2.5 2-1 1-2 2-1 1-2 2-1 1-2 2-.5 1-2.5 2.5-.5 .5-2.5 2.5-.5 .5-2.5 2-1 1-2 2.5-.5 .5-2 3-.5 .5-1.5 2.5-1.5 1.5-1 1.5-2 3-1 3-.5 3 1 3 .5 .5 2 2.5 1 2.5 .5 .5-.5 1.5-.5 1.5-2.5 1.5-3-.5-1-1-2-2.5-.5-.5-2.5-2-3 0-3 1.5-1 .5-2 3 0 1-.5 2 0 3 .5 1.5 .5 1.5 2 3 .5 .5 2.5 2.5 .5 .5 3 2 1 .5 2 1.5 2 1.5 1 .5 3 2.5 0 .5 2 2.5 .5 3-.5 3-1 3-.5 3-.5 2 0 1-.5 3 0 3 0 3-.5 3-.5 3 0 3-.5 3 0 3 .5 3 1 3 .5 1.5 .5 1.5 2 3 .5 .5 2.5 2.5 .5 .5 3 2 1.5 .5 1.5 .5 3 1 1.5 1.5 1 3-1 3-1 3-.5 1.5-.5 1.5-1 3-1.5 3-3 2-3 .5-3 .5-3 .5-3 1-2.5 1.5-.5 .5-3 2-.5 .5-2.5 2-.5 1-2.5 2.5-.5 .5-2 3-.5 .5-2 2.5-1 2.5-.5 .5-1 3-1 3-.5 1-1.5 2-1.5 0-3 0-3 0-3 0-3 0-3 0-3 0-3 0-3 0-3 0-3 0-3 0-3 0-3 0-3 0-1-3-1-3-.5-3 0-3 0-3 .5-3 1-3 1-1.5 1-1.5 1.5-3 .5-1 1-2 1.5-3 .5-1.5 .5-1.5 1-3 1-3 0-3-.5-3-.5-3-1-3-.5-1.5-.5-1.5-1-3-1-3-.5-3 0-2.5 0-.5 0-.5 0-2.5 .5-3 0-3 .5-3 1-3 1-3 1.5-3 1.5-2 .5-1 2-3 .5-1 1.5-2 1.5-2.5 .5-.5 2-3 .5-1 1-2 1-3 .5-3 0-3-.5-3-1.5-3-.5-2-.5-1-1-3-1-3-.5-1-1-2-2-2-1-1-2-1.5-2-1.5-1-.5-3-1.5-2.5-1-.5 0-3-1-3-1-3-1-3-1-3-.5-3-1-2.5-.5-.5 0-3 0-3 0-3-.5-3-.5-3 0-3 0-3 0-3-.5-3-.5-3-.5-3-.5-1 0-2-.5-3-.5-3 0-3-.5-3 0-3 0-3 0-3 .5-3 .5-1 .5-2 .5-3 1-3 1.5-.5 0-2.5 1-3 1.5-.5 .5-2.5 1.5-2 1.5-1 1-2 2-1 1-2.5 2-.5 1-2 2-1 1.5-1 1.5-2 3-2 3-1 1.5-1 1.5-2 2.5-.5 .5-2 3-.5 1-1.5 2-1.5 1.5-1.5 1.5-1.5 2-1.5 1-1.5 2-1 1-2 3-3 3-3 2.5-.5 .5-2.5 2-1.5 1-1.5 1-3 2-3 2-1.5 1-1.5 1-3 1.5-1 .5-2 1-3 1.5-1 .5-2 1 0-1 0-3 0-3 0-3 0-3 0-3 0-3 0-3 0-3 0-3 0-3 0-3 0-3 0-3 0-3 0-3 0-3 0-3 0-3 0-3 0-3 0-3 0-.5 3-.5 3 0 3 0 2-2 1-1 3-.5 3 0 3 0 3 .5 1.5-2 1.5-1.5 3 0 3 0 3 0 1-1.5 2-2 3 0 3 0 3 0 1-1 2-2 2-1-2-1.5-3 0-3 0-1.5-1.5-1.5-1.5-3 0-1.5-1.5-1.5-1.5-2-1.5-1-.5-3-.5-3-1.5-3 0-1-.5-2-1-3 0-3-1.5-3 0-3 0-3 0-3 0-3 0 0-.5 0-3 0-3 3 1 3 .5 3 .5 3 .5 2.5 .5 .5 .5 3 0 3 .5 1.5-1 1.5-1 3 0 3-.5 3 0 3-.5 3-.5 3-.5 3-.5 3-1 3 .5 3 0 3-2 2.5-3 .5 0 3-1 3-1 2-1 1-3 0-.5 3-2.5 3-2.5 1-.5 2-1.5 2-1.5 1-.5 3-1.5 1.5-1 1.5-.5 3-1 2.5-1.5 .5-.5 3-1.5 1.5-1 1.5-.5 3-1 3-1 1.5-.5 1.5-.5 3-.5 3-.5 3 0 3-.5 3 0 3 0 3-.5 3 0 1.5-.5 1.5-.5 3-2 .5-.5 2.5-3 1.5-3 1.5-3 1-3 1.5-3 .5-1 1-2 2-2.5 .5-.5 2.5-2 2-1 1-.5 3-1 3-.5 3-.5 3 .5 3 0 3 .5 3 0 3-.5 2-1 1-.5 2.5-2.5 .5-.5 1.5-2.5 1.5-3 1-3 1.5-3 .5-1.5 .5-1.5 2-3 .5-.5 2-2.5 1-.5 3-2 3-.5zM78 392l0-2 3 .5 1.5 1.5 1.5 1.5 3 .5 3 .5 3 0 0 .5 3 3 .5 0-.5 .5-3 1-3 1-2.5 .5 2 3-2.5 .5-1-.5-2-1.5-3 1-2.5 .5 2 3-2.5 1 0-1 0-3 0-3 0-3 0-3zM87 397.5l-1 .5 1 2 .5-2zM413.5 515l.5-.5 1.5 .5 1.5 .5 2.5 2.5 .5 3-3 2-2.5 1-.5 0-.5 0-2.5-2-.5-1 0-3 .5-.5zM335 518l1-.5 3 .5 .5 0 2.5 2.5 .5 .5-.5 3-3 2.5-3-.5-2.5-2-.5-1.5-.5-1.5 .5-.5zM82 524l2-2.5 3 .5 3 1 2.5 1-2.5 1-3 1.5-1 .5-2 1.5-3 1.5-.5 0-2.5 1.5 0-1.5 0-3 0-2.5 3 .5zM342 545l3-1.5 3 1.5 1 3-1 1.5-3 .5-3-2 0-.5z"/>
<path fill="#e2db0e" d="M480 74l3 0 3 0 3 0 3 0 3 0 3 0 3 0 3 0 3 0 3 0 3 0 3 0 3 0 3 0 3 0 3 0 3 0 3 0 3 0 3 0 3 0 3 0 3 0 3 0 3 0 3 0 3 0 3 0 3 0 3 0 3 0 3 0 0 3 0 3 0 3 0 3 0 3 0 3 0 3 0 3 0 3 0 3 0 3 0 3 0 3 0 3 0 3 0 3 0 1-3-.5-3-.5-3-.5-3 0-3 .5-1 0-2 .5-3 2-.5 .5-2.5 3-1.5 3-1 3-.5 1-.5 2-.5 3-.5 3 0 3 0 3 .5 3 .5 3 .5 3-.5 3-.5 3-.5 3-.5 3-.5 3 0 3 .5 3 .5 3 1 3 .5 .5 1.5 2.5 1.5 1.5 1 1.5 2 2 1.5 1 1.5 1 3 1.5 3 .5 3 0 1 0 2-.5 3-.5 3-1 0 2 0 3 0 3 0 3 0 3 0 3 0 3 0 3 0 3 0 3 0 3 0 3 0 3 0 3 0 3 0 3 0 3 0 3 0 3 0 3 0 3 0 3 0 3 0 3 0 3 0 3 0 3 0 3 0 3 0 3 0 3 0 3 0 3 0 3 0 3 0 3 0 3 0 3 0 3 0 3 0 3 0 3 0 3 0 3 0 3 0 3 0 3 0 3 0 3 0 3 0 3 0 3 0 3 0 3 0 3 0 3 0 3 0 3 0 3 0 3 0 3 0 3 0 3 0 3 0 3-.5 0-2.5 1-3 1-2.5 1-.5 0-3 1-3 1.5-1.5 .5-1.5 .5-3 2-1 .5-2 1.5-1.5 1.5-1.5 1.5-1.5 1.5-1.5 2-.5 1-2 3-.5 1-1 2-1.5 3-.5 2-.5 1-1 3-1.5 3-1 3-1.5 3-.5 1-1 2-1.5 3-.5 1-1.5 2-1.5 3-2 3-1 1.5-1 1.5-2 3 0 .5-1 2.5-1 3 0 3 0 3 0 3 0 3-1 3 0 1-.5 2-.5 3 0 3 .5 3 .5 1 .5 2 1.5 3 1 2 .5 1 2 3 .5 1 2 2 1 1.5 1.5 1.5 1.5 2 1 1 2 2.5 .5 .5 2 3 .5 1 1 2 1 3 1 2 1 1 2 2.5 1 .5 2 1.5 3 1.5 3 1.5 3 1 1 .5 2 1 3 1 2.5 1 .5 .5 3 1 3 1.5 .5 0 2.5 1 3 1.5 0 .5 0 3 0 3 0 3 0 3 0 3 0 3 0 3 0 3 0 3 0 3 0 3 0 3 0 3 0 3 0 3 0 3 0 3 0 3 0 3 0 3 0 3-3 0-3 0-3 0-3 0-3 0-3 0-3 0-3 0-3 0-3 0-3 0-3 0-3 0-3 0-1.5 0 0-3 1-3 .5-1 1-2 2-2 1.5-1 1.5-1 3-2 3-2.5 1-.5 2-2 1.5-1 1.5-1 1.5-2 1-3 .5-1.5 .5-1.5 .5-3 0-3-.5-3-.5-3-.5-3-1.5-3-1-2-.5-1-2.5-3-3-2.5-.5-.5-2.5-2-1.5-1-1.5-1-3-1.5-1-.5-2-1-3-.5-3-1-2-.5-1-.5-3-2-.5-.5-2-3-.5-1-1-2-2-3-3-2.5-.5-.5-2.5-1.5-1.5-1.5-1.5-1-2-2-1-1-3-2-3-1.5-3-.5-3-.5-3 0-3 0-3-.5-3-1-3-1-3-.5-1.5-.5-1.5-.5-3-1-3-.5-3-.5-3 0-3-.5-.5 0-2.5-.5-3-1-3-.5-2.5-1-.5-.5-2.5-2.5-.5-2.5 0-.5 0-1 .5-2 1-3 1.5-2 1-1 2-2.5 .5-.5 2.5-2 1-1 2-2.5 .5-.5 2.5-3 2-3 1-2 .5-1 1.5-3 1-3 1.5-3 1.5-3 2-3 1-1.5 1-1.5 1.5-3 .5-2 .5-1 .5-3 .5-3-.5-3 0-3-.5-3 0-3-.5-3 0-3 0-3 0-3 .5-3 0-3 .5-3 0-3 0-3-.5-3-.5-3 0-1-.5-2-1.5-3-1-2-.5-1-2-3-.5-.5-2-2.5-1-1-2-2-1-.5-3-2.5-3-2-1.5-1-1.5-1-3-1.5-.5-.5-2.5-1.5-2-1.5-1-1-1.5-2-1.5-3-.5-3 0-3 .5-2 0-1 1.5-3 1-3 .5-1 .5-2 1-3 1.5-3 0-.5 1.5-2.5 1.5-2 .5-1 2.5-2.5 .5-.5 2-3 .5-1 1-2 .5-3 0-3-1.5-3 0-.5-2-2.5-1-1-3-2-3-1-3-.5-3 0-3 .5-3 0-3 .5-3-1-1.5-1.5-1-3-.5-3 0-2 0-1 0-3-.5-3 0-3 0-3 .5-3 0-3 0-3-.5-3-.5-3 0-3 0-3 0-3 .5-3 0-3 .5-3 0-.5 .5-2.5 0-3 .5-3 .5-3 .5-3 .5-3 .5-3 .5-3 1-3 1-3 .5-1 1-2 2-3 0-.5 2-2.5 1-1.5 1-1.5 2-2 .5-1 2.5-3 3-3 2.5-3 .5-.5 2-2.5 1-1.5 1-1.5 2-3 0-.5 1.5-2.5 1.5-2.5 0-.5 2-3 1-2 .5-1 1-3 1.5-3 1.5-3 .5-3 .5-3 .5-3 0-1.5 0-1.5 .5-3 0-3 0-3 .5-3 1-3 1-3 0-1 .5-2 0-3 .5-3 0-3 .5-3 0-3 .5-3 0-3 0-3-.5-3 0-3 .5-3 .5-3 .5-1 .5-2 1.5-3 1-2.5 .5-.5 1.5-3 1-1.5 1-1.5zM480 478l-.5 1-2 3 0 3 1 3 1.5 1.5 3-1 .5-.5 1.5-3 .5-3-1.5-3-1-1zM188.5 263l.5 0 3-1 3-.5 3 0 3-.5 3 0 3 0 3 .5 3 0 3 .5 3 .5 1 .5 2 .5 3 1 3 .5 3 1 .5 0 2.5 .5 3 1 3 1 1 .5 2 .5 3 1.5 2.5 1 .5 .5 3 1.5 2 1 1 1 3 2 3 3 2 3 1 1.5 1 1.5 1 3 1 2 0 1 1 3 .5 3 0 3-.5 3-1 3-2.5 3-.5 .5-3 .5-3 1-3 1-3 1-3 1-3 1-3 .5-3 0-3 0-3 .5-3 0-3 .5-3 0-3 .5-3 .5-3 0-3 0-3 .5-3-.5-3 0-3-.5-3 0-3-.5-3-1-2-.5-1-.5-3-2-.5-.5-2.5-1-3-1.5-.5-.5-2.5-2-1.5-1 1.5-1.5 .5-1.5-.5-3-1.5-3-1.5-3 0-1-.5-2-.5-3 0-3-.5-3 1-3 .5-1 .5-2 1.5-3 1-1.5 1-1.5 2-2.5 0-.5 3-2 2.5-1 .5-1zM78 320l3 0 3 0 .5 0-.5 1.5-1 1.5-1 3-1 2-.5 1-.5 3-1 3-.5 3-.5 3 0 1.5 0-1.5 0-3 0-3 0-3 0-3 0-3 0-3zM277.5 332l1.5-.5 3-1 3 0 3 .5 3 1 3 2 1.5 1 1.5 1 2 2 1 1 2 2 1 1 2 2 1 .5 3 2 1.5 .5 1.5 .5 3 .5 3 .5 3 1 1 .5 2 1 2.5 2 .5 .5 2.5 2.5 .5 .5 2 2.5 1 1 2 2 1 1 2 2 1 1 2.5 2 .5 .5 3 2 .5 .5 2.5 2.5 .5 .5 2.5 3 1.5 3 1 3 .5 2.5 0 .5 0 3 0 1 0 2-1 3-1 3-1 2-.5 1-1 3-1.5 2.5-.5 .5-2.5 3-3 3-.5 0-2.5 2.5-.5 .5-2.5 2.5-.5 .5-2.5 3-3 3-3 3-3 2.5-.5 .5-2.5 3-2.5 3-.5 .5-2 2.5-1 1.5-1 1.5-1.5 3-.5 1-1 2-.5 3-1 3-.5 .5-3 1-3 .5-1.5 1-1.5 .5-3 2.5-1.5 3-.5 3 0 3 .5 3 1.5 3 2.5 3 .5 0 3 2.5 .5 .5 2.5 1.5 2 1.5 1 1 2.5 2 .5 .5 2 2.5 1 3-.5 3-.5 3-.5 3-.5 3-.5 3-.5 3 0 1-.5 2-.5 3 0 3-.5 3-.5 3 0 3 .5 3 .5 3 1 3 1.5 3 1.5 2.5 .5 .5 2.5 2.5 1 .5 2 1.5 3 1 1 .5 2 1 2.5 2-.5 3-1.5 3-.5 1-1.5 2-1.5 2-1.5 1-1.5 1-3 1-2 1-1 .5-3 1-2.5 1.5-.5 .5-3 2-.5 .5-2.5 2.5-.5 .5-2.5 2.5-.5 .5-2.5 3-2 3-1 2-.5 1-1.5 3-1 2.5-.5 .5-1.5 3-1 2-1 1-2 0-3 0-3 0-3 0-3 0-3 0-3 0-3 0-3 0-3 0-3 0-3 0-1 0-1.5-3-.5-1-.5-2-1-3 0-3 0-3 .5-3 1-2 .5-1 1-3 1-3 .5-.5 1-2.5 1-3 1-2.5 0-.5 1-3 .5-3 0-3-.5-3-.5-3-.5-1.5-.5-1.5-1-3-1-3-.5-2.5 0-.5-.5-3-.5-3 .5-3 0-3 .5-3 0-.5 .5-2.5 1-3 1-3 .5-1 1-2 2-3 1.5-3 1.5-2 .5-1 2.5-3 0-.5 1.5-2.5 1.5-2.5 0-.5 1.5-3 .5-3 0-3-.5-3-1-3-.5-1.5-.5-1.5-1-3-1.5-3-1.5-3-1.5-2-1-1-2-2-1.5-1-1.5-1-3-1.5-1-.5-2-.5-3-1-3-1-2-.5-1-.5-3-.5-3-.5-3-1-1.5-.5-1.5-.5-3-.5-3 0-3 0-3 0-3-.5-3-.5-3 0-3 0-3-1-1.5 0-1.5-.5-3-.5-3-1-3-.5-2-.5-1 0-3-1-3 0-3-.5-3 0-3-.5-3 0-1-1-2-2.5-3-.5-3-3-3-2-2-1-1-1-1.5-2-1.5-3 .5-3-.5-3 3-2 1-1 2-2.5 0-.5 1.5-3 1.5-2 .5-1 2.5-2.5 .5-.5 2.5-2.5 1-.5 2-1.5 3-1 .5-.5 2.5-2 2-1 1-.5 3-1.5 1.5-1 1.5-.5 3-1 3-1 2-.5 1 0 3-.5 3-.5 3 0 3 0 3 0 3 0 3 0 3-1 2-1 1-1 2-2 1-2 .5-1 1-3 1-3 .5-2 .5-1 .5-3 1.5-3 .5-1 1-2 2-2 1.5-1 1.5-1 3-1.5 3-.5 1.5 0 1.5 0 1 0 2 0 3 .5 3 .5 3 0 3-.5 .5-.5 2.5-1 2.5-2 .5-.5 2-2.5 1-2 .5-1 1-3 1-3 .5-1 1-2 1-3 1-1.5 1-1.5 2-2zM149.5 446l.5-1 3 .5 2.5 .5-2.5 1-3 1zM140 449l1-1 3 .5 2.5 .5-2.5 1-3 2zM127.5 452l1.5-1 3 0 3 .5 3 0 3 .5-3 2-1.5 1-1.5 1-2.5 2-.5 .5-2.5 2.5-.5 .5-2.5 2.5-.5 .5-3 2-.5 .5-1.5 3-1 1.5-1.5 1.5-1.5 3-2.5 3-.5 .5-2.5 2.5-.5 .5-2.5 2.5-.5 .5-3 1.5-2 1-1 1-3 2-3 2-1.5 1-1.5 1-3 1.5-1 .5-2 2-3 .5-1.5 .5-1.5 1-2.5 2-.5 0 0-3 0-3 0-3 0-3 0-3 0-3 0-3 0-3 0-3 0-3 0-3 0-2.5 .5-.5 2.5-2 3-.5 3 0 .5-.5 2.5-2.5 3 0 3 0 .5-.5 2.5-1.5 3-1 3 .5 1-1 2-1.5 3 0 3-.5 3 0 1-1 2-1.5 3-.5 3 .5zM336.5 521l2.5-1 1 1-1 2z"/>
<path fill="#e4d90e" d="M482.5 77l.5-1 1.5-2 1.5 0 3 0 3 0 3 0 3 0 3 0 3 0 3 0 3 0 3 0 3 0 3 0 3 0 3 0 3 0 3 0 3 0 3 0 3 0 3 0 3 0 3 0 3 0 3 0 3 0 3 0 3 0 3 0 3 0 3 0 3 0 0 3 0 3 0 3 0 3 0 3 0 3 0 3 0 3 0 3 0 3 0 3 0 3 0 3 0 3 0 3 0 2.5-3-.5-3-.5-3 0-3-.5-3 .5-3 .5-2.5 1-.5 .5-3 2.5-2 3-1 2.5 0 .5-1 3-1 3-.5 3-.5 3 0 .5 0 2.5 0 1.5 0 1.5 .5 3 .5 3 .5 3 0 3-.5 3-1 3 0 .5-1 2.5-.5 3-.5 3 0 3 1 3 1 3 2 3 1 1.5 1.5 1.5 1.5 1.5 1.5 1.5 1.5 1.5 2.5 1.5 .5 .5 3 1 3 1 3 0 3 0 3-.5 3-.5 0 1.5 0 3 0 3 0 3 0 3 0 3 0 3 0 3 0 3 0 3 0 3 0 3 0 3 0 3 0 3 0 3 0 3 0 3 0 3 0 3 0 3 0 3 0 3 0 3 0 3 0 3 0 3 0 3 0 3 0 3 0 3 0 3 0 3 0 3 0 3 0 3 0 3 0 3 0 3 0 3 0 3 0 3 0 3 0 3 0 3 0 3 0 3 0 3 0 3 0 3 0 3 0 3 0 3 0 3 0 3 0 3 0 3 0 3 0 3 0 3 0 3 0 3 0 .5-3 1.5-2 1-1 .5-3 1-3 1.5-.5 0-2.5 1-3 1.5-1 .5-2 1-3 2-3 2.5-1 .5-2 2.5-.5 .5-2.5 3 0 .5-1.5 2.5-1.5 2.5 0 .5-1.5 3-1.5 3-1.5 3-1 3-.5 .5-1 2.5-2 3-2 3-1 1.5-1 1.5-2 2-1 1-2 2-2 1-1 1-3 1-3 1-3 0-3-.5-3-1-3-1-1.5-.5-1.5-.5-3 0-3-1-3-1-1-.5-2-1-2-2-1-1-1.5-2-1.5-3-1.5-3-.5-3-1-3 0-.5-.5-2.5 0-3 0-3-.5-3 0-3 0-3 0-3-.5-3-.5-3-.5-3-.5-.5-1-2.5-1.5-3-.5-1-1.5-2-1.5-2-.5-1-2.5-2.5-.5-.5-2.5-2-1-1-2-1.5-2-1.5-1-.5-3-2-.5-.5-2.5-1.5-2-1.5-1-.5-3-2.5-2-3-1-1.5-.5-1.5-.5-3 1-3 0-.5 1-2.5 1-3 1-2.5 0-.5 1-3 1.5-3 .5-1 1-2 2-2.5 .5-.5 2.5-3 2-3 1-2 .5-1 .5-3 0-3-1-3-2-3-1-1.5-1.5-1.5-1.5-1-3-2-.5 0-2.5-1-3-.5-3 0-3 0-3-.5-3-1-2-3-1-2 0-1-1-3 0-3-.5-3 0-3-.5-3 0-3 0-3-.5-3-.5-3 0-2.5 0-.5 0-3 0-3 0-.5 0-2.5 .5-3 .5-3 0-3 .5-3 .5-3 .5-3 .5-3 0-.5 .5-2.5 .5-3 .5-3 1-3 .5-1.5 .5-1.5 2-3 .5-1.5 1-1.5 2-3 2.5-3 .5-.5 2-2.5 1-1 1.5-2 1.5-1.5 1-1.5 2-2 .5-1 2.5-3 2-3 1-2 .5-1 1.5-3 1-1.5 1-1.5 1.5-3 .5-1 1-2 1.5-3 .5-1.5 1-1.5 1-3 1-3 0-.5 .5-2.5 0-3 .5-3 0-3 .5-3 0-3 .5-3 .5-3 .5-1 .5-2 1-3 0-3 0-3 .5-3 .5-3 .5-3 0-2.5 0-.5 .5-3 0-3 0-3 .5-3 .5-3 1-3 .5-1 1-2 1.5-3 .5-1 1.5-2 1.5-3zM202.5 266l1.5 0 3-.5 3-.5 3 0 3 .5 3 0 1.5 .5 1.5 .5 3 0 3 1 3 .5 3 .5 1 .5 2 .5 3 1 3 1 1.5 .5 1.5 .5 3 1.5 2 1 1 .5 3 2 .5 .5 2.5 2 1 1 2 2.5 .5 .5 2 3 .5 1 1 2 1 3 1 3 0 .5 .5 2.5 0 3-.5 3-1 3-2 2.5-1 .5-2 .5-3 1-3 1-1.5 .5-1.5 .5-3 1-3 1-3 0-3 .5-3 0-3 0-2 0-1 0-3 0-3 .5-3 0-3 0-3 0-3 0-3 0-2.5-.5-.5 0-3-1-3-1.5-1.5-.5-1.5-.5-3-1-3-1-1-.5-2-1-3-1.5-.5-.5-2.5-1.5-2-1.5 2-1.5 1.5-1.5-1.5-2.5 0-.5-1.5-3-1-3-.5-3 .5-3 .5-3 .5-3 1.5-3 1.5-3 1.5-2.5 1-.5 2-1 3-1.5 .5-.5 2.5-1 3-1 3-1zM276 335l3-2 3-1 3 0 3 .5 3 1.5 2 1 1 .5 3 2.5 3 3 3 3 3 2 1.5 1 1.5 .5 3 1 3 .5 3 1 .5 0 2.5 1 3 1.5 .5 .5 2.5 2 1 1 2 2 1 1 2 2 1 1 2 2.5 .5 .5 2.5 2.5 .5 .5 2.5 2 1 1 2 2 1.5 1 1.5 2 1 1 1.5 3 .5 .5 1 2.5 .5 3 0 3-.5 3-.5 3-.5 1-.5 2-1.5 3-1 2-.5 1-2 3-.5 .5-2.5 2.5-.5 .5-2.5 2.5-.5 .5-2.5 2.5-.5 .5-2.5 2.5-.5 .5-2 2.5-1 1-2 2-1 1-2.5 2-.5 .5-2.5 2.5-.5 .5-2.5 2.5-.5 .5-2.5 2.5-.5 1-1.5 2-1.5 2-.5 1-1.5 3-1 2-.5 1-1.5 3-1 1-2.5 2-.5 0-3 2-2 1-1 1-2 2-1 2.5 0 .5-1 3 0 3 0 3 1 2 .5 1 2.5 3 3 2.5 .5 .5 2.5 1.5 2 1.5 1 1 2.5 2 .5 .5 2 2.5 1 2 .5 1 0 3-.5 3 0 1-.5 2-.5 3-.5 3-.5 3-.5 3-.5 1.5-.5 1.5-.5 3-.5 3 0 3-.5 3 .5 3 .5 3 .5 3 .5 1 .5 2 2 3 .5 1 1.5 2 1.5 2 1 1 2 2 2 1 1 1.5 1.5 1.5-1.5 3-3 2.5-.5 .5-2.5 1.5-2 1.5-1 .5-3 2-.5 .5-2.5 2-1 1-2 2-1 1-2 2-1 1-2 3-2 3-1 1-1 2-1.5 3-.5 .5-1 2.5-1.5 3-.5 1-1.5 2-1.5 2-1 1-2 0-3 0-3 0-3 0-3 0-3 0-3 0-3 0-3 0-2 0-1-2-.5-1-1.5-3-1-3 0-1.5 0-1.5 0-3 0-1.5 0-1.5 1-3 1-3 1-3 0-.5 1-2.5 .5-3 1-3 .5-3 .5-3 0-3-.5-2.5 0-.5-.5-3-1-3-.5-3-1-3-.5-3-.5-3-.5-3 0-3 .5-3 .5-3 .5-3 1-3 1-3 1-2 .5-1 1.5-3 1-1 1-2 2-3 2-3 1-1.5 1-1.5 1.5-3 .5-1.5 .5-1.5 .5-3 .5-3-.5-3-.5-3-.5-1-1-2-1-3-1-2-.5-1-1.5-3-1-1.5-1-1.5-2-2-1-1-2-1.5-2.5-1.5-.5-.5-3-1-3-1-2-.5-1 0-3-1-3-.5-3-.5-3-.5-1-.5-2-.5-3-1-3-.5-3 0-3 0-3 0-3-.5-3-.5-3 0-1 0-2-.5-3-1-3-1-2-.5-1-.5-3-1-3-1-2.5-.5-.5 0-3-1-3-.5-3-1-1-.5-2-2.5-1-.5-2-1.5-1-1.5-2-1.5-1.5-1.5-1.5-2-.5-1-1.5-3-.5-3 2.5-2.5 .5-.5 .5-3 1.5-3 .5-1 1.5-2 1.5-2 1-1 2-1.5 1.5-1.5 1.5-1 3-1.5 .5-.5 2.5-1.5 3-1.5 3-1 3-1 3-1 1 0 2-.5 3 0 3 0 3 0 3 .5 1.5 0 1.5 0 1 0 2 0 3-1.5 2.5-1.5 .5-.5 3-2.5 0-.5 1.5-2.5 .5-3 .5-3 .5-3 0-.5 .5-2.5 .5-3 1.5-3 .5-1 1.5-2 1.5-1.5 3-1.5 3-.5 3-.5 3 .5 3 .5 3 .5 3 0 1.5-.5 1.5-.5 3-1 1.5-1.5 1.5-1 1.5-2 1.5-1.5 1-1.5 1-3 1-2 .5-1 1-3 1-3 .5-1.5 1-1.5zM78 476l0-.5 3 .5-3 1zM454 485l2-1 3-1 3-.5 3 1 2 1.5 1 1 1.5 2 1.5 1.5 1 1.5 2 2.5 1 .5 2 1.5 3 1 3-.5 3-1 1.5-1 1.5-1 3-2 3-2.5 1-.5 2-1.5 3-1.5 1.5 0 1.5 0 1 0 2 .5 3 2 0 .5 3 3 2.5 3 .5 1 1.5 2 1.5 2 1 1 2 2 .5 1 2.5 2.5 .5 .5 2.5 2.5 .5 .5 2.5 3 2 3 1 2 .5 1 1 3 1.5 3 0 1 .5 2 0 3-.5 .5-3 2-3 .5-3-.5-3-1.5-1.5-1-1.5-1.5-1-1.5-2-3-2-3-1-1-2.5-2-.5-.5-3-2-.5-.5-2.5-2.5-1-.5-2-1.5-3-1.5-3-1.5-3-.5-3 0-3-.5-3 0-2.5-.5-.5 0-3-1.5-3-.5-3-1-1 0-2-.5-3-.5-3-.5-3-.5-3 0-3-.5-1.5-.5-1.5-.5-3-1.5-1-1-1.5-3 .5-3 2-3 3-2.5z"/>
<path fill="#e6d70d" d="M487.5 77l1.5-1.5 1.5-1.5 1.5 0 3 0 3 0 3 0 3 0 3 0 3 0 3 0 3 0 3 0 3 0 3 0 3 0 3 0 3 0 3 0 3 0 3 0 3 0 3 0 3 0 3 0 3 0 3 0 3 0 3 0 3 0 3 0 3 0 0 3 0 3 0 3 0 3 0 3 0 3 0 3 0 3 0 3 0 3 0 3 0 3 0 3 0 3 0 3 0 1-3-.5-3 0-3-.5-1.5 0-1.5 0-3 0-1 0-2 .5-3 1-2 1.5-1 1-1.5 2-1.5 2-.5 1-1 3-1 3-.5 1.5-.5 1.5-.5 3-.5 3 0 3 0 3 .5 3 .5 3 .5 1.5 .5 1.5-.5 3 0 1-.5 2-1.5 3-1 3 0 .5-1 2.5-.5 3 0 3 .5 3 1 2.5 0 .5 2 3 1 1.5 1.5 1.5 1.5 1.5 1.5 1.5 1.5 1.5 2 1.5 1 1 3 2 .5 0 2.5 1 3 1 3 .5 3 0 3-.5 3-.5 0 1.5 0 3 0 3 0 3 0 3 0 3 0 3 0 3 0 3 0 3 0 3 0 3 0 3 0 3 0 3 0 3 0 3 0 3 0 3 0 3 0 3 0 3 0 3 0 3 0 3 0 3 0 3 0 3 0 3 0 3 0 3 0 3 0 3 0 3 0 3 0 3 0 3 0 3 0 3 0 3 0 3 0 3 0 3 0 3 0 3 0 3 0 3 0 3 0 3 0 3 0 3 0 3 0 3 0 3 0 3 0 3 0 3 0 3 0 3 0 1-3 2-3 1.5-2.5 1.5-.5 0-3 1.5-3 1.5-3 1.5-3 1.5-.5 0-2.5 1.5-2 1.5-1 .5-3 2.5-2.5 3-.5 .5-2 2.5-1 1.5-1 1.5-1.5 3-.5 1-1 2-1.5 3-.5 1.5-.5 1.5-1.5 3-1 1.5-1 1.5-1.5 3-.5 .5-2 2.5-1 1-2 2-1 .5-3 2-1 .5-2 1-3 .5-3 0-3 0-3-1-2.5-.5-.5 0-3-1-3-1-2-1-1-.5-3-2.5-.5 0-2.5-3-2-3-1-3-1-3-.5-3-.5-3-.5-3 0-3-.5-3 0-1 0-2-.5-3-.5-3-.5-3-1.5-3 0-.5-1.5-2.5-1.5-3-2.5-3-.5-.5-2-2.5-1-1-2-2-1-.5-3-2.5-3-2.5-1-.5-2-1.5-2.5-1.5-.5-.5-3-2-.5-.5-2.5-2.5-.5-.5-2-3-.5-1.5-.5-1.5 .5-2.5 0-.5 1-3 1-3 1-3 0-.5 1-2.5 1-3 1-2 1-1 2-2.5 .5-.5 2.5-3 2-3 1-3 .5-3 0-3-.5-2-.5-1-1.5-3-1-1.5-1-1.5-2-2-1-1-2-1.5-3-1.5-3-1-3-.5-3 0-3-.5-2.5-1-.5-.5-2.5-2.5-.5-.5-1-2.5-1-3-.5-3-.5-1.5 0-1.5-.5-3 0-3-.5-3-.5-3-.5-3 0-3 0-3 0-3 0-3 0-3 .5-3 .5-3 .5-3 .5-3 0-1 .5-2 .5-3 .5-3 .5-3 .5-3 .5-1 .5-2 1.5-3 1-2 .5-1 2-3 .5-1 1.5-2 1.5-2 1-1 2-2.5 .5-.5 2.5-3 2.5-3 .5-.5 1.5-2.5 1.5-2 1-1 1.5-3 .5-.5 1.5-2.5 1.5-3 1.5-3 1.5-2.5 0-.5 1.5-3 1.5-3 1.5-3 1.5-3 0-.5 .5-2.5 .5-3 .5-3 0-3 .5-3 0-3 .5-3 .5-3 0-1 .5-2 1-3 .5-3 .5-3 0-3 .5-3 .5-3 .5-3 .5-3 .5-3 .5-3 0-3 .5-1 .5-2 1-3 1.5-3 1.5-3 1.5-2 .5-1 2-3 .5-1 1.5-2 1.5-1.5zM209 269l1 0 3-.5 3 0 3 0 3 0 2 .5 1 0 3 .5 3 .5 3 .5 3 1 2 .5 1 .5 3 1 3 1 1 .5 2 1 3 1.5 1 .5 2 1.5 2 1.5 1 1 1.5 2 1.5 1.5 1 1.5 1.5 3 .5 .5 1 2.5 1 3 .5 3 0 3-.5 3-1 3-1 1.5-3 1.5-3 1-3 1-3 1-1 0-2 1-3 .5-3 .5-3 0-3 0-3 0-3 0-3 0-3 0-3-.5-3 0-3-.5-3-.5-2.5-.5-.5 0-3-1-3-1-2.5-1-.5-.5-3-1.5-2-1-1-.5-3-2.5-.5 0-2.5-2-.5-1 .5-1 .5-2-.5-1.5-1-1.5-.5-3-.5-3 .5-3 0-3 .5-3 1-2 .5-1 2.5-1.5 1.5-1.5 1.5-1 3-2 3-1 3-1 3-.5zM278.5 335l.5 0 3-1 3 0 3 .5 1.5 .5 1.5 1 3 2 .5 0 2.5 2.5 .5 .5 2.5 2 1 1 2 1.5 2 1.5 1 .5 3 1.5 3 .5 2 .5 1 0 3 1 3 1 1.5 1 1.5 1 2 2 1 .5 2.5 2.5 .5 .5 2.5 2.5 .5 .5 2 2.5 1 1 2 2 1 1.5 2 1.5 1 1 2 2 1 1 1.5 2 1.5 1.5 1 1.5 1 3 .5 3 .5 3-.5 3-1 3-1 3-.5 1.5-.5 1.5-2 3-.5 1-1.5 2-1.5 1.5-1.5 1.5-1.5 1-2 2-1 1-2 2-1 1-1.5 2-1.5 1.5-1 1.5-2 2-1.5 1-1.5 1.5-2 1.5-1 1-2.5 2-.5 .5-2.5 2.5-.5 .5-2 2.5-1 1-1.5 2-1.5 3-1.5 3-1.5 2.5-.5 .5-2 3-.5 .5-3 2.5-3 2-1.5 1-1.5 2-.5 1-1.5 3-.5 3-.5 2.5 0 .5 0 3 1 3 2 3 3 2.5 .5 .5 2.5 1.5 2 1.5 1 .5 3 2.5 2.5 3 .5 .5 1 2.5 .5 3 0 3-.5 3-1 3 0 .5-.5 2.5-1 3-.5 3-1 3 0 1-.5 2-.5 3-.5 3-.5 3 0 3 .5 3 .5 3 1 3 1 3 1.5 3 .5 1 1 2 1.5 3 .5 3-.5 3-2.5 3-2.5 3-.5 .5-2.5 2.5-.5 .5-2 2.5-1 1-1.5 2-1.5 2-1 1-2 3 0 .5-1.5 2.5-1.5 2.5-.5 .5-1.5 3-1 2.5-.5 .5-1.5 3-1 1.5-1.5 1.5-1.5 1.5-2.5 1.5-.5 0-3 0-3 0-3 0-3 0-3 0-1.5 0-1.5-1.5-1.5-1.5-1.5-2.5-.5-.5-1-3-.5-3-.5-3 .5-3 .5-3 .5-3 1-3 0-1 .5-2 1-3 .5-3 0-3 .5-3-.5-3 0-3-.5-3-1-3-.5-2.5 0-.5-1-3-.5-3-.5-3 0-3 0-3 .5-3 .5-3 .5-3 .5-2 .5-1 1-3 1.5-3 1.5-3 1.5-2.5 .5-.5 2-3 .5-.5 1.5-2.5 1.5-2.5 .5-.5 1.5-3 1-3 0-.5 .5-2.5 .5-3 0-3-.5-3-.5-1-.5-2-1.5-3-1-2-.5-1-1.5-3-1-1.5-1-1.5-2-2.5-.5-.5-2.5-2-1-1-2-1-3-1.5-1.5-.5-1.5-.5-3-.5-3-.5-3-.5-3-.5-2.5-.5-.5 0-3-.5-3-1-3-.5-3-.5-3 0-3 0-3-.5-.5 0-2.5-.5-3-1-3-1-2.5-.5-.5-.5-3-1.5-2.5-1-.5 0-3-1.5-3-1-2-.5-1-.5-3-1-2-1.5-1-1.5-3-1.5-.5 0-2.5-3-2-3-.5-3-.5-3 .5-3 0-3 1-3 1.5-2 .5-1 2.5-2.5 0-.5 3-2 1.5-1 1.5-1 3-2 .5 0 2.5-1 3-1 3-1 2.5 0 .5 0 3-.5 3 .5 3 0 1.5 0 1.5 0 1 0 2 0 3-1 3-1 2.5-1 .5-.5 3-2.5 .5 0 2-3 .5-1 .5-2 .5-3-.5-3 0-3 0-3 .5-3 1.5-3 .5-1 2.5-2 .5-.5 3-1 3 0 3 .5 3 1 1 0 2 .5 3 0 1-.5 2-.5 3-1.5 1-1 2-1.5 1.5-1.5 1.5-1.5 1-1.5 1.5-3 .5-.5 1-2.5 1-3 1-3 1-3 1.5-3 .5-.5zM518 512l1-.5 2 .5 1 .5 3 1.5 1 1 2 1.5 1.5 1.5 1.5 3 .5 3-.5 2-1.5 1-1.5 .5-1.5-.5-1.5-1-2-2-1-2-.5-1-1-3-1.5-2.5 0-.5z"/>
<path fill="#e8d50c" d="M494 77l1-.5 3-2 1-.5 2 0 3 0 3 0 3 0 3 0 3 0 3 0 3 0 3 0 3 0 3 0 3 0 3 0 3 0 3 0 3 0 3 0 3 0 3 0 3 0 3 0 3 0 3 0 3 0 3 0 3 0 0 3 0 3 0 3 0 3 0 3 0 3 0 3 0 3 0 3 0 3 0 3 0 3 0 3 0 3 0 2.5-3 0-3-.5-3 0-3-.5-3 0-3 0-3 1-1 .5-2 1.5-1.5 1.5-1.5 2-.5 1-1.5 3-1 2.5 0 .5-1 3-1 3-.5 3-.5 3 0 3 0 3 0 .5 .5 2.5 .5 3 .5 3 0 3-1 3-.5 1.5-1 1.5-1.5 3-.5 1.5-.5 1.5-1 3 0 3 0 3 1.5 3 0 .5 1.5 2.5 1.5 1.5 1 1.5 2 1.5 1.5 1.5 1.5 1.5 1.5 1.5 1.5 1 2 2 1 .5 3 2 1 .5 2 1 3 .5 3 .5 3 0 3 0 3 0 0 1 0 3 0 3 0 3 0 3 0 3 0 3 0 3 0 3 0 3 0 3 0 3 0 3 0 3 0 3 0 3 0 3 0 3 0 3 0 3 0 3 0 3 0 3 0 3 0 3 0 3 0 3 0 3 0 3 0 3 0 3 0 3-2 3-.5 3 .5 3 0 3 .5 3 0 3 0 3 0 3 .5 3 0 3 .5 3 0 3 .5 2 0 1 0 3 0 3 0 3 0 3 0 3 0 3 0 3 0 3 0 3 0 3 0 3-2.5 3-.5 .5-3 2-.5 .5-2.5 1.5-2.5 1.5-.5 .5-3 1-3 1.5-3 1.5-3 1.5-3 2-1.5 1-1.5 1-2 2-1 1-2 2-1 1-1.5 2-1.5 2.5 0 .5-2 3-1 2.5-.5 .5-1 3-1.5 3-1.5 3-1.5 3-2 3-1 1-2 2-1 1-3 2-3 1.5-3 1-3 0-3 0-3-1-3-.5-2-1-1-.5-3-1.5-1-1-2-1.5-1-1.5-2-2.5-.5-.5-1.5-3-1-3 0-.5-.5-2.5-.5-3-.5-3 0-3-.5-3-.5-3-.5-3 0-1-.5-2-1-3-1.5-3-1.5-3-1.5-2-1-1-2-2.5-.5-.5-2.5-2.5-.5-.5-2.5-2-1-1-2-1.5-1.5-1.5-1.5-1-2.5-2-.5 0-3-2.5-.5-.5-2.5-2-1-1-2-2-.5-1-1.5-3 0-3 .5-3 .5-3 1-3 0-.5 1-2.5 1-3 1-1.5 1-1.5 2-2 1-1 2-3 2-3 1-3 0-.5 .5-2.5 0-3-.5-1.5-.5-1.5-1-3-1.5-2-1-1-2-2.5-.5-.5-2.5-2.5-.5-.5-2.5-2-2-1-1-.5-3-1-3-.5-3 0-3-1-3-2-1-1-1.5-3-.5-1-.5-2-1-3-.5-3-.5-3-.5-3 0-.5-.5-2.5-.5-3 0-3-.5-3 0-3 0-3 .5-3 .5-3 .5-3 0-1.5 .5-1.5 .5-3 .5-3 .5-3 .5-3 .5-2.5 0-.5 1-3 1-3 1-2.5 0-.5 2-3 1-2 .5-1 2.5-3 2-3 1-1 1.5-2 1.5-1.5 1-1.5 2-2.5 .5-.5 2-3 .5-.5 1.5-2.5 1.5-2 .5-1 1.5-3 1-2 .5-1 1.5-3 1-1.5 1-1.5 1.5-3 .5-1.5 1-1.5 1.5-3 .5-1.5 .5-1.5 1-3 .5-3 0-3 .5-3 0-3 .5-3 0-.5 0-2.5 .5-3 1-3 1-3 .5-2.5 0-.5 .5-3 0-3 .5-3 .5-3 .5-3 .5-3 .5-1.5 .5-1.5 .5-3 1-3 1-2.5 0-.5 1.5-3 1.5-2 .5-1 2-3 .5-.5 1.5-2.5 1.5-1.5 1-1.5 2-2 1.5-1 1.5-1.5zM212.5 272l.5 0 3-.5 3-.5 3 0 3 .5 3 .5 2 0 1 0 3 .5 3 1 3 .5 3 1 3 1 3 1.5 .5 .5 2.5 1.5 2.5 1.5 .5 .5 3 2.5 2.5 3 .5 1 1.5 2 1 3 .5 .5 .5 2.5 1 3 0 3-.5 3-1 3-3 2-1.5 1-1.5 .5-3 1-3 .5-3 1-3 1-3 0-3 .5-3-.5-3 0-3 0-3-.5-3 0-3-.5-3-.5-3-.5-3-1-3-1-3-1-3-1.5-1-.5-2-1-2-2-1-1-2.5-2-.5-1-1-2 0-3-.5-3 0-3-1-3 1.5-3 1-2 .5-1 2.5-2.5 .5-.5 2.5-2 1.5-1 1.5-1 3-1 3-.5zM278 338l1-1 3-1.5 3 0 3 1 3 1.5 3 2 1 1 2 1.5 2 1.5 1 1 2.5 2 .5 0 3 2 2.5 1 .5 0 3 1 3 .5 3 .5 2 1 1 .5 3 2 .5 .5 2.5 2.5 .5 .5 2.5 2 1 1 2 2 .5 1 2.5 3 2.5 3 .5 .5 2.5 2.5 .5 .5 2.5 2.5 .5 .5 2 2.5 1 2.5 .5 .5 .5 3 0 3-.5 3-.5 3-1 3-1.5 3-.5 1-1 2-2 2-1 1-2 2-1 1-2 1.5-1.5 1.5-1.5 1.5-1 1.5-2 2-.5 1-2.5 2.5-.5 .5-2.5 2.5-.5 .5-2.5 2-1.5 1-1.5 1.5-2 1.5-1 1-2.5 2-.5 .5-2 2.5-1 1.5-1 1.5-1.5 3-.5 .5-1.5 2.5-1.5 2.5-.5 .5-2.5 3-3 2.5-.5 .5-2.5 2-1 1-1.5 3-.5 1-1 2-.5 3-1 3 0 3 0 3 2 3 .5 .5 3 2.5 3 2 2 1 1 .5 3 2.5 .5 0 2.5 2.5 .5 .5 1.5 3 .5 3 0 3-.5 3-1 3-1 3 0 .5-1 2.5-.5 3-1 3-.5 2 0 1-1 3-.5 3-.5 3 0 3 0 3 .5 3 1 3 .5 2.5 0 .5 1 3 1 3 .5 3 0 3-.5 3-1.5 3-.5 .5-1.5 2.5-1.5 2-1 1-2 3-2 3-1 1.5-1 1.5-1.5 3-.5 .5-1.5 2.5-1.5 3 0 .5-1.5 2.5-1.5 3-2.5 3-.5 1-3 2-3 1-3 .5-3 0-3-1-1-.5-2-1.5-1-1.5-2-3-1-3-.5-3 0-3 .5-3 .5-3 .5-3 0-1 .5-2 .5-3 .5-3 0-3 0-3-.5-3 0-3-1-3 0-1-.5-2-.5-3-.5-3-.5-3-.5-3 0-3 0-3 .5-3 .5-3 .5-3 1-3 1-3 1.5-3 .5-1 1-2 2-3 2-3 1-1.5 1-1.5 2-3 1.5-3 1-3 .5-1.5 .5-1.5 .5-3 .5-3-.5-3-1-2.5 0-.5-1.5-3-1.5-2.5-.5-.5-1.5-3-1-1.5-1-1.5-2-2.5 0-.5-3-3-3-2-1.5-1-1.5-.5-3-1-3-1-3-.5-1.5 0-1.5 0-3-.5-3 0-3-.5-3-.5-3-.5-3-1-3-.5-3 0-3 0-3-.5-3-1-2-1-1-2-.5-1 .5-3-2.5-3-.5-.5-3-2-3-.5-3 .5-3 0-3 0-.5-.5-2.5-2-1.5-1-1.5-1.5-1-1.5-2-3 0-.5-1-2.5 0-3 .5-3 .5-2.5 0-.5 2-3 1-1 2-2 1-.5 3-2.5 3-1.5 3-1 2.5-.5 .5 0 3-.5 3 0 3 0 3 0 3 0 3-.5 3-.5 3-1 1-.5 2-1 3-2 .5 0 2.5-2.5 .5-.5 2.5-3 0-.5 1.5-2.5 0-3-1.5-2.5 0-.5-1.5-3-.5-3 0-3 1.5-3 .5-.5 3-1 3 0 3 1 1.5 .5 1.5 1.5 3 1 3-.5 3-2 3-2 1-1 2-1.5 1.5-1.5 1.5-1.5 1-1.5 2-3 1.5-3 1.5-3 0-.5 1-2.5 .5-3 1.5-3 0-.5zM249 379.5l-.5 .5 .5 0z"/>
<path fill="#ead30c" d="M531 74l3 0 3 0 3 0 3 0 3 0 3 0 3 0 3 0 3 0 3 0 3 0 3 0 3 0 3 0 3 0 0 3 0 3 0 3 0 3 0 3 0 3 0 3 0 3 0 3 0 3 0 3 0 3 0 3 0 3 0 1-3 0-3 0-3-.5-3-.5-1.5 0-1.5 0-3-.5-1.5 .5-1.5 .5-3 1.5-1 1-2 2-.5 1-2 3-.5 1.5-.5 1.5-1 3-1 3-.5 2-.5 1-.5 3-.5 3-.5 3 0 3 .5 3 .5 3 1 3-.5 3-1.5 3-1 2-.5 1-2 3-.5 1-1 2-1 3 0 3 0 3 1 3 1 2.5 .5 .5 2.5 3 3 2.5 .5 .5 2.5 2 1.5 1 1.5 1.5 1.5 1.5 1.5 1.5 2 1.5 1 1 3 1.5 1 .5 2 .5 3 1 3 .5 3 0 3 0 3 0 0 1 0 3 0 3 0 3 0 3 0 3 0 3 0 3 0 3 0 3 0 3 0 3 0 3 0 3 0 3 0 3 0 3 0 3 0 3 0 3 0 3 0 3 0 3 0 3 0 3 0 3 0 3 0 3 0 3-.5 0-2.5 1.5-2 1.5-1 1-1.5 2 0 3 .5 3 .5 3 0 3 0 3 0 3 0 3 0 3-.5 3 0 3 0 3 0 3 .5 3 .5 1.5 .5 1.5 1.5 3 1 2.5 0 .5 1.5 3 1 3 0 3 0 3-.5 3-1 3-1 2-.5 1-2.5 3-3 2.5-.5 .5-2.5 2-2 1-1 .5-3 1.5-2.5 1-.5 0-3 1.5-2.5 1.5-.5 .5-3 2-1 .5-2 1.5-1.5 1.5-1.5 1-1.5 2-1.5 1.5-1 1.5-2 3-1.5 3-1.5 3 0 .5-1 2.5-1.5 3-.5 1.5-.5 1.5-2 3-.5 1-1.5 2-1.5 2-1.5 1-1.5 1.5-3 1.5-.5 0-2.5 1-3 0-3 0-3-1-.5 0-2.5-1-3-2-3-2.5-.5-.5-2-3-.5-1-1-2-1-3-.5-3-.5-3-.5-3 0-3 0-3-.5-3-.5-3-1-3-.5-1-1-2-2-3 0-.5-2-2.5-1-1-1.5-2-1.5-1.5-1.5-1.5-1.5-1.5-2-1.5-1-1-2.5-2-.5-.5-3-2.5-3-2-1-1-2-1.5-1.5-1.5-1.5-1.5-1-1.5-2-3-1-3 0-3 .5-3 .5-2 0-1 1-3 2-3 0-.5 2-2.5 1-1 1.5-2 1.5-2.5 .5-.5 1.5-3 1-3 .5-3 0-3-.5-3-1.5-3-1.5-2.5-.5-.5-2.5-3-2.5-3-.5-1-2-2-1-1-2-2-1-.5-3-1.5-3-.5-3 0-3-.5-3-1-2.5-2-.5-.5-1.5-2.5-1-3-.5-1-.5-2-.5-3-.5-3-1-3-.5-3 0-.5-.5-2.5 0-3 0-3 0-3 .5-3 0-1.5 0-1.5 1-3 .5-3 .5-3 .5-3 .5-3 .5-3 1-3 .5-3 1-3 1.5-3 1.5-3 2-3 1-1.5 1-1.5 2-2 .5-1 2.5-3 2.5-3 .5-.5 1.5-2.5 1.5-2 .5-1 2-3 .5-.5 1.5-2.5 1.5-3 0-.5 1-2.5 1.5-3 .5-.5 1.5-2.5 1.5-3 1.5-3 1.5-3 1.5-3 .5-3 .5-3 .5-3 0-1 0-2 .5-3 .5-3 0-3 .5-3 .5-3 1-2 .5-1 .5-3 0-3 .5-3 .5-3 .5-3 .5-2 .5-1 .5-3 1-3 1-2.5 0-.5 1.5-3 1.5-3 2-3 1-1.5 1.5-1.5 1.5-2 1-1 2-2.5 .5-.5 2.5-2 1.5-1 1.5-1 3-1.5 1-.5 2-.5 3-1 3 0 3 0 3 .5 2.5 1 .5 0 3 2 2 1 1 1 2.5 2 .5 .5 3 0 .5-.5 2-3 .5-3 0-3zM214 275l2-.5 3-.5 3 0 3-.5 3 .5 3 .5 3 0 2 .5 1 0 3 1 3 1 3 1 3 1.5 3 1.5 3 2.5 1 .5 2 2 .5 1 2.5 3 1.5 3 1 3 .5 1.5 .5 1.5 0 3 0 3-.5 .5-1 2.5-2 1.5-3 1-.5 .5-2.5 1-3 .5-3 .5-3 1-3 .5-3 0-3 0-3 0-2.5-.5-.5 0-3-.5-3-.5-3-.5-3-1-1.5-.5-1.5-.5-3-1-3-1.5-3-2-1.5-1-1.5-1-2-2-1-1.5-1.5-1.5-.5-3 0-3-.5-3 .5-3 1.5-3 .5-1 2-2 1-1 2.5-2 .5-.5 3-1.5 3-.5zM281.5 338l.5 0 3-.5 1 .5 2 .5 3 1.5 1 1 2 1 2 2 1 .5 3 2.5 3 2 2 1 1 .5 3 1 3 .5 3 .5 2 .5 1 .5 3 1.5 1.5 1 1.5 1.5 2 1.5 1 1 2.5 2 .5 .5 2.5 2.5 .5 1 1.5 2 1.5 2 .5 1 2.5 3 3 3 2.5 3 .5 .5 1.5 2.5 .5 3 0 3 0 3-1 3-1 3 0 .5-1 2.5-2 2.5-.5 .5-2.5 2.5-.5 .5-2.5 2-1 1-2 2-1 1-2 2.5-.5 .5-2.5 3-2.5 3-.5 .5-3 2.5-3 2-1.5 1-1.5 1-2.5 2-.5 .5-2.5 2.5-.5 .5-2 2.5-1 1.5-1 1.5-1.5 3-.5 .5-1.5 2.5-1.5 2-.5 1-2.5 2.5-.5 .5-2.5 2-1 1-2 2.5-.5 .5-1.5 3-1 3 0 .5-1 2.5-1.5 3-.5 1.5-2 1.5-1 1-1.5-1-1.5-.5-2-2.5-1-1-1.5-2-1.5-2-.5-1-2-3-.5-.5-2-2.5-1-1-2.5-2-.5-.5-3-1.5-2-1-1-.5-3-.5-3-.5-3 0-3 0-3-.5-3 0-3 0-3-.5-2.5-.5-.5 0-3-1-3-.5-3-.5-3 0-3 0-2-1-1-1-1-2-.5-3-1-3-.5-1.5-1.5-1.5-1.5-2.5-1-.5-2-1.5-3-1-1.5-.5-1.5-.5-3-1-2-1.5-1-1-2-2-1-3 0-2 0-1 1-3 1.5-3 .5-.5 3-2.5 3-1.5 3-1.5 .5 0 2.5-.5 3 0 3-.5 3 .5 3 0 3-.5 3-.5 3-.5 2.5-1 .5-.5 3-1 2.5-1.5 .5 0 3-2.5 1-.5 2-1.5 2-1.5 1-1 3-1.5 1-.5 2-1 2.5-2 .5-.5 2.5-2.5 .5-1 1-2 1-3 1-3 2-3 1-1 1.5-2 1.5-1.5 1.5-1.5 1.5-1.5 1.5-1.5 1.5-2 .5-1 2-3 .5-1.5 .5-1.5 1.5-3 .5-3 .5-1 .5-2 1.5-3 1-1.5zM239.5 371l.5-.5 1.5 .5-1.5 1zM283.5 482l1.5-1 3 1 3 1 3 1.5 1 .5 2 1 3 1.5 .5 .5 2.5 2 1 1 2 3 1 3-.5 3-.5 3-1 3-1.5 3-.5 2-.5 1-1 3-1 3-.5 2-.5 1-1 3-.5 3-.5 3-.5 3 .5 3 0 3 1 3 .5 3 .5 3 .5 1.5 .5 1.5 0 3 0 3-.5 1-.5 2-1 3-1.5 2.5-.5 .5-1.5 3-1 1.5-1 1.5-1.5 3-.5 1-1 2-1.5 3-.5 .5-1 2.5-1.5 3-.5 1-1 2-2 3-3 2-2 1-1 .5-3 0-2.5-.5-.5 0-3-2.5-.5-.5-2-3-.5-2-.5-1 0-3 0-3 0-3 .5-3 .5-3 0-3 .5-3 0-3-.5-3 0-3-.5-2 0-1-1-3-.5-3 0-3-.5-3-.5-3 0-3 0-3 0-3 .5-3 .5-3 .5-3 1-3 1-3 1-3 1-2 .5-1 2-3 .5-.5 2-2.5 1-1.5 1-1.5 2-3 0-.5 1.5-2.5 1-3 .5-1 1-2 1.5-3 .5-1.5z"/>
<path fill="#ecd10b" d="M540 74l3 0 3 0 3 0 3 0 3 0 3 0 3 0 3 0 3 0 3 0 3 0 3 0 0 3 0 3 0 3 0 3 0 3 0 3 0 3 0 3 0 3 0 3 0 3 0 3 0 3 0 3-3 0-3-.5-3 0-3-1-3-.5-3-.5-3 .5-3 1-1.5 1-1.5 1.5-1 1.5-1.5 3-.5 .5-1 2.5-1 3-1 3-1 3-.5 3-1 3-.5 2 0 1-.5 3 0 3 0 3 .5 3 0 1.5 0 1.5 0 1-.5 2-2 3-.5 1-1.5 2-1.5 2-.5 1-1.5 3-.5 3-.5 2 0 1-.5 3 .5 2.5 0 .5 1 3 1.5 3 .5 .5 3 2.5 .5 0 2.5 1.5 3 1.5 3 2 1 1 2 2 1 1 2 2 1 1 2 1.5 3 1.5 3 1 3 1 3 0 3 0 3 0 3 .5 0 .5 0 3 0 3 0 3 0 3 0 3 0 3 0 3 0 3 0 3 0 3 0 3 0 3 0 3 0 .5-3 2-1 .5-2 2-1 1-.5 3 1.5 2 3 1 1 0 2 0 0 3 0 3 0 3 0 3 0 3 0 3 0 3 0 3 0 1-3 1.5-.5 .5-2.5 1.5-1.5 1.5-1.5 2-.5 1-1 3 0 3 .5 3 0 3 0 3 0 3-.5 3-1 3-.5 3 0 1-.5 2 0 3-.5 3 0 3 .5 3 .5 2 .5 1 1.5 3 1 2 .5 1 1.5 3 1 3 .5 3 0 3-.5 3 0 .5-1 2.5-2 3-3 3-3 2-2.5 1-.5 .5-3 1-3 1.5-3 1.5-2.5 1.5-.5 0-3 2-1 1-2 1.5-2 1.5-1 1-2 2-1 1-1.5 2-1.5 2.5-.5 .5-1.5 3-1 3-1 3-1 3-1 2.5 0 .5-1.5 3-1.5 2-.5 1-2.5 2.5-1 .5-2 1.5-3 1-3 .5-3-.5-3-1-2.5-1.5-.5 0-3-3-2-3-1-3-1-3-.5-3 0-3 0-3 0-3 0-3-.5-3-1-3-1-3-2-3-2-3-1-1-2-2-1-1-2-2-1-1-2.5-2-.5-.5-3-2.5-3-2.5-1-.5-2-2-1.5-1-1.5-1.5-2-1.5-1-1-1.5-2-1.5-2-1-1-1-3-.5-3 0-3 .5-3 1.5-3 .5-1 1-2 2-3 2-3 1-1.5 1-1.5 1.5-3 .5-1.5 .5-1.5 1-3 0-3-.5-3-1-2.5 0-.5-2.5-3-.5-.5-2.5-2.5-.5-1-2-2-1-1.5-1-1.5-2-3 0-.5-1.5-2.5-1-3-.5-1.5-1.5-1.5-1.5-1.5-3 1.5-3 1.5-3 .5-3 0-3-1-1-1-2-2-.5-1-1.5-3-.5-3-.5-1-.5-2-.5-3-1-3-.5-3 0-3 0-3 0-3 0-3 .5-3 1-3 .5-3 .5-3 0-.5 .5-2.5 .5-3 1-3 .5-3 .5-2 .5-1 1-3 1.5-3 0-.5 1.5-2.5 1.5-2.5 .5-.5 2-3 .5-.5 2-2.5 1-1 1.5-2 1.5-2 .5-1 2.5-3 2-3 1-2 .5-1 1.5-3 1-2 .5-1 1.5-3 1-2.5 .5-.5 1.5-3 1-2 .5-1 1.5-3 1-1.5 1-1.5 1-3 1-3 0-.5 .5-2.5 0-3 .5-3 .5-3 0-3 .5-3 0-3 1-3 1.5-3 .5-3 0-3 0-3 1-3 0-1 .5-2 1-3 1-3 .5-1 1-2 1.5-3 .5-.5 1.5-2.5 1.5-2 .5-1 2.5-3 3-3 3-3 .5 0 2.5-1.5 3-1.5 3-.5 3 0 3 .5 3 2 1.5 1 1.5 2.5 .5 .5 1 3 .5 3 0 3-.5 3-.5 3-1 3 0 .5-.5 2.5-.5 3 0 3 1 2.5 1.5 .5 1.5 0 .5 0 2.5-1.5 1-1.5 2-2 .5-1 2.5-3 2.5-3 .5-1 1.5-2 1.5-2.5 .5-.5 1.5-3 1-1 1-2 2-2.5 .5-.5 1.5-3 1-2.5 0-.5 .5-3 0-3 0-3-.5-3 0-2zM216 278l3-1 3-.5 3-.5 3 .5 3 0 3 0 3 .5 3 1 .5 0 2.5 .5 3 1.5 2.5 1 .5 0 3 2 1.5 1 1.5 1.5 1.5 1.5 1.5 1.5 1 1.5 2 3 1.5 3 .5 3 .5 3-.5 3-1.5 3-.5 .5-3 1.5-2 1-1 .5-3 .5-3 .5-3 .5-3 .5-3 .5-3-.5-3 0-3-.5-3-1-3-.5-1.5-.5-1.5-.5-3-1-3-1.5-3-1.5-2-1.5-1-1-2.5-2-.5-1-2-2-1-2.5-.5-.5 .5-2 0-1 0-3 1-3 1.5-3 .5-.5 2.5-2.5 .5 0 3-2zM281.5 341l.5-.5 3 0 3 .5 3 1.5 2 1.5 1 .5 3 2.5 3 2 1.5 1 1.5 1 3 1.5 3 .5 .5 0 2.5 .5 3 0 3 1.5 2 1 1 1 3 2 3 2.5 .5 .5 2.5 2 1 1 2 3 0 .5 1.5 2.5 1.5 2 1 1 2 3 3 3 0 .5 2 2.5 1 2.5 0 .5 0 3 0 1.5 0 1.5-1 3-1 3-1 2.5 0 .5-3 3-3 2.5-.5 .5-2.5 2-1 1-2 2.5-.5 .5-2.5 3-2 3-1 1-2 2-1 1-3 2-.5 0-2.5 1.5-3 1.5-3 2.5-.5 .5-2.5 2.5-.5 .5-2 3-.5 1-1 2-2 3-2 3-1 1-2 2-1 1-2 2-1 1-1.5 2-1.5 2.5-.5 .5-1.5 3-.5 3-.5 .5-3 2.5-3-1-2-2-1-1-1.5-2-1.5-2-.5-1-2.5-2.5-.5-.5-2.5-2.5-1-.5-2-1.5-3-1-1.5-.5-1.5-.5-3 0-3 0-3 0-3 0-3 .5-3 0-3 0-3-.5-3-.5-3-1-3-.5-3-.5-3 0-1 0-2-.5-2-2.5-1-3 0-1-.5-2-1.5-3-1-2.5-.5-.5-2-3-.5-.5-3-2-1-.5-2-1-3-2 0-.5-2-2.5-1-3 .5-3 2.5-3 3-2.5 1.5-.5 1.5-.5 3-.5 3 0 3 0 3 0 3 0 3-.5 3-.5 3-1 3-1 3-1.5 1.5-.5 1.5-1 3-1.5 1-.5 2-1.5 2.5-1.5 .5-.5 3-1.5 1.5-1 1.5-1 2.5-2 .5-.5 2-2.5 1-1.5 1-1.5 1-3 1-2.5 0-.5 1.5-3 1.5-3 2-3 1-1 1.5-2 1.5-1.5 1-1.5 2-3 2-3 1-3 0-.5 1-2.5 1-3 1-3zM285 488l3-1.5 3 0 3 .5 2.5 1 .5 0 3 2 1.5 1 1.5 2 1 1 1 3-.5 3-.5 3-1 2-.5 1-1.5 3-1 2-.5 1-1.5 3-1 3-1.5 3-1 3-.5 1.5-.5 1.5-.5 3-.5 3 0 3 .5 3 1 3 0 .5 .5 2.5 1 3 .5 3 0 3-.5 3-1 3-.5 1.5-.5 1.5-1.5 3-1 2-.5 1-1.5 3-1 2-.5 1-1.5 3-1 2-.5 1-1.5 3-1 3-2.5 3-.5 .5-3 1-3-.5-2-1-1-1-1-2-1-3-.5-3 0-3 0-3 .5-3 0-3-.5-3 0-3-.5-3 0-1-.5-2-.5-3-.5-3-.5-3 0-3 0-3 0-3 0-3 0-3 0-3 .5-3 .5-3 1-3 0-1 .5-2 .5-3 1-3 1-1.5 1-1.5 2-3 2.5-3 .5-1 1.5-2 1.5-2.5 .5-.5 1.5-3 1-2 .5-1z"/>
<path fill="#eecf0a" d="M545.5 74l.5 0 3 0 3 0 3 0 3 0 3 0 3 0 3 0 3 0 3 0 3 0 0 3 0 3 0 3 0 3 0 3 0 3 0 3 0 3 0 3 0 3 0 3 0 3 0 3 0 1.5-3 0-3 0-3-.5-3-1-.5 0-2.5-1-3-1.5-3 0-3 .5-3 2-2.5 3-.5 1-.5 2-1.5 3-.5 3-.5 1-.5 2-1 3-1 3-.5 2.5 0 .5-1 3-1 3-.5 3 0 3-.5 3 0 1 0 2-1 3-1 3-1 1.5-1 1.5-2 2.5-.5 .5-1.5 3-1 3-.5 3-1 3 0 3-.5 3 0 3-.5 3 0 3 .5 3 2 2 2.5 1 .5 0 1 0 2 0 3 0 .5 0 2.5 .5 3 1 2 1.5 1 1 1.5 2 1.5 1.5 1.5 1.5 1.5 1.5 2 1.5 1 .5 3 1.5 3 .5 3 .5 3 0 3 0 3 0 1 0 2 .5 0 2.5 0 3 0 3 0 3 0 3 0 3 0 3 0 3 0 3-3 2-1.5 1-1.5 1-1.5 2-1.5 1.5-1 1.5-1 3-1 3 0 1 0 2 0 2.5 0 .5 1.5 3 1.5 1 3 1 3 1 .5 0 2.5 1 0 2 0 3 0 3 0 3 0 1.5-2 1.5-1 .5-3 2-.5 .5-2.5 2-1 1-1.5 3-.5 1.5-.5 1.5-.5 3 .5 3 0 3 0 3-.5 3-.5 3-1.5 3 0 .5-1 2.5-1.5 3-.5 1-1 2-1 3-1 2.5 0 .5-1 3 .5 3 .5 1 1 2 2 2 .5 1 2.5 2.5 .5 .5 2 3 .5 1 1 2 .5 3 0 3-.5 3-1 2-.5 1-2.5 2.5-.5 .5-2.5 1.5-3 1.5-.5 0-2.5 1-3 1-2 1-1 .5-3 2-.5 .5-2.5 1.5-2 1.5-1 .5-3 2-.5 .5-2.5 2-1 1-2 2.5-.5 .5-1.5 3-1 2-.5 1-1 3-.5 3-.5 3-.5 1.5-.5 1.5-1 3-1.5 2.5 0 .5-3 2.5-.5 .5-2.5 1-3 .5-3-.5-1.5-1-1.5-1-2-2-1-1.5-1-1.5-1-3-.5-3 0-3 .5-3 .5-3 .5-3 0-3-.5-3-1-3-.5-1.5-.5-1.5-2.5-3-3-3-3-2.5-1-.5-2-1.5-2-1.5-1-.5-3-2.5-3-2-1-1-2-1.5-2-1.5-1-1-2-2-1-1-2-2-1-1-1.5-2-1.5-3 0-.5-.5-2.5 0-3 .5-3 0-.5 1-2.5 1.5-3 .5-1 1-2 2-3 2-3 1-2.5 .5-.5 1.5-3 1-3 1-3 0-3-.5-3-.5-1-2-2-1-.5-3-2-.5-.5-2.5-2-1-1-2-2.5-.5-.5-1.5-3-.5-3-.5-2 0-1 0-3 0-3-.5-3-1-3-1.5-1.5-3-1-3 .5-3 2-2.5 3-.5 .5-2.5 2.5-.5 .5-3 1-3-1-.5-.5-2.5-3 0-.5-1-2.5-1-3-1-3 0-.5-.5-2.5-1-3 0-3 0-3 0-3 0-3 .5-3 .5-3 .5-1.5 .5-1.5 .5-3 1-3 .5-3 .5-2.5 0-.5 1-3 .5-3 1.5-3 0-.5 1-2.5 2-3 2-3 1-1.5 1-1.5 2-2.5 .5-.5 2.5-3 2-3 1-1.5 1-1.5 2-3 0-.5 1.5-2.5 1.5-3 1.5-3 1-3 .5-1 1-2 1.5-3 .5-.5 1.5-2.5 1.5-3 1.5-3 1.5-3 0-.5 1-2.5 .5-3 0-3 .5-3 0-3 .5-3 0-3 .5-2.5 0-.5 1-3 1-3 .5-3 .5-3 0-2.5 0-.5 1-3 1-3 1-3 1.5-3 1.5-2.5 .5-.5 2-3 .5-.5 2.5-2.5 .5-1 2-2 1-1 2.5-2 .5-.5 3-2 1.5-.5 1.5-.5 3-.5 3 1 3 3 1.5 3 0 3 0 3-.5 3-1 3 0 1-.5 2-.5 3 0 3-.5 3 0 3 .5 3 1 2 3 .5 3-1.5 2.5-1 .5-.5 3-2 .5-.5 2.5-2.5 .5-.5 2-3 .5-.5 2.5-2.5 .5-.5 3-2 .5-.5 2.5-2.5 1-.5 2-3 2-3 1-2 .5-1 1.5-3 1-2 .5-1 1-3 .5-3 0-3 0-3 .5-3 0-3zM492 193l-1.5 1-1.5 2-.5 1-1 3-1.5 3-1.5 3-1.5 1.5-1.5 1.5-1.5 1-3 2-3 2.5-.5 .5-2.5 2.5-.5 .5-1 3-.5 3 .5 3 1.5 2.5 3 .5 3-1.5 2.5-1.5 .5-.5 2.5-2.5 .5-1 2-2 1-1 2.5-2 .5-.5 3-1.5 3-1 3-1 3-1 2.5-1 .5-.5 3-2 1-.5 2-2.5 .5-.5 .5-3-1-2.5-.5-.5-2.5-2-1-1-2-1-3-1.5-1-.5-2-1-3-.5zM217.5 281l1.5-.5 3-1 3-.5 3-.5 3 0 3 .5 3 0 3 1 3 .5 1 .5 2 .5 3 1.5 1.5 1 1.5 1 2.5 2 .5 .5 2.5 2.5 .5 .5 1.5 2.5 1.5 3 1 3 .5 3-.5 3-1 2-1 1-2 1-3 1.5-2.5 .5-.5 0-3 .5-3 .5-3 .5-3 .5-3-.5-3-.5-3-.5-2.5-.5-.5 0-3-1.5-3-1-1-.5-2-1-3-2-3-2.5-.5-.5-2.5-3 0-.5-1.5-2.5 0-3 .5-3 1-2 .5-1 2-3 .5 0 3-2.5zM284 344l1-.5 2.5 .5 .5 0 3 1.5 2 1.5 1 .5 3 2 1 .5 2 1.5 3 1.5 3 1.5 3 .5 3 0 3 0 2 1 1 .5 3 2.5 .5 0 2.5 2 1 1 2 1.5 1.5 1.5 1.5 1.5 1 1.5 1.5 3 .5 1 1 2 2 3 2 3 1 1 1.5 2 1.5 2.5 0 .5 .5 3-.5 3 0 1-.5 2-1 3-1.5 3-3 2.5-.5 .5-2.5 1.5-1.5 1.5-1.5 1.5-1.5 1.5-1.5 2-.5 1-2 3-.5 .5-1.5 2.5-1.5 1.5-2.5 1.5-.5 .5-3 1-3 1-.5 .5-2.5 1-3 2-3 3 0 .5-2 2.5-1 1.5-1 1.5-1.5 3-.5 .5-2 2.5-1 1-1.5 2-1.5 1.5-1.5 1.5-1.5 1.5-1.5 1.5-1.5 2-1 1-2 2.5-3-.5-2.5-2-.5-.5-2.5-2.5-.5-.5-2.5-2.5-.5-.5-3-2-1.5-.5-1.5-.5-3-.5-3 0-3 .5-3 .5-.5 0-2.5 .5-3 .5-3 .5-3 0-3 0-3 0-3-.5-3-1-.5 0-2.5-1-3 0-3-.5-3-1-.5-.5-1-3-.5-3-.5-3-.5-1-1-2-1-3-1-2-1-1-2-2-1.5-1-1.5-1-2-2-1-2-.5-1 .5-3 3-3 3-1 3 0 3 0 3 0 3 0 3-.5 3-.5 3-1 3-1 3-1 2.5-1 .5 0 3-1.5 3-1.5 3-2 2-1 1-.5 3-1.5 1.5-1 1.5-1 3-2 2.5-3 .5-1 1-2 1-3 1-2.5 0-.5 1-3 1-3 1-1.5 .5-1.5 2-3 .5-.5 2-2.5 1-1.5 1.5-1.5 1.5-3 1.5-3 1-3 .5-1.5 .5-1.5 1.5-3 1-2zM288 491l3-1 3 0 3 .5 .5 .5 2.5 1.5 1.5 1.5 1 3 0 3-2 3-.5 1.5-1.5 1.5-1.5 2.5-.5 .5-2 3-.5 1.5-1 1.5-1.5 3-.5 1-1.5 2-1.5 3-2 3-1 2.5-.5 .5 0 3 .5 1 .5 2 1.5 3 1 2 .5 1 1 3 1 3 .5 1.5 0 1.5 0 3 0 .5-.5 2.5-1.5 3-1 2.5 0 .5-1.5 3-1.5 3-1.5 3-1.5 2.5-.5 .5-2 3-.5 1-3 2-1.5-3-1.5-3-.5-3-.5-3-.5-3-1-3-.5-3-.5-3-1-3-.5-3-.5-3 0-3 .5-3 1-3 1-2.5 .5-.5 2-3 .5-1 2-2-1-3-1-2.5 0-.5-.5-3 0-3 0-3 .5-1 .5-2 2-3 .5-.5 2-2.5 1-1 1.5-2 1.5-3 2-3 1-2 .5-1z"/>
<path fill="#f0cd0a" d="M549.5 74l2.5 0 3 0 3 0 3 0 3 0 3 0 3 0 3 0 3 0 0 3 0 3 0 3 0 3 0 3 0 3 0 3 0 3 0 3 0 3 0 3 0 3 0 2.5-3 .5-3 0-3-.5-3-1.5-2-1-1-1.5-1.5-1.5-1-3 .5-3-1-1.5-3-.5-2.5 2-.5 1-3 .5-.5-1.5 .5-2 .5-1 0-3-.5-2.5 0-.5 0-3 0-3 0-3 .5-3 0-3zM497 98l1-.5 2.5 .5 .5 .5 1 2.5 .5 3 0 3-.5 3 0 3 0 3-.5 3 0 3-.5 3 0 1.5 0 1.5-.5 3 0 3 0 3 0 3-1 3-1 3-.5 1-.5 2-.5 3-1 3 .5 3 1.5 1.5 2.5-1.5 .5-.5 2.5-2.5 .5-.5 2.5-2.5 .5-1 .5-2 .5-3 0-3 .5-3 1.5-2.5 .5-.5 2.5-3 3-2.5 .5-.5 2.5-2.5 .5-.5 2.5-2.5 .5-.5 2.5-3 2.5-3 .5-.5 3-1.5 2.5-1 .5 0 3-1.5 3-.5 2 2 0 3 0 3-.5 3-.5 3-1 3-1 3-.5 3-1 3-.5 1-.5 2-1 3-.5 3-.5 3-.5 1-1 2-1.5 3-.5 1-1 2-2 3-1.5 3-1 3-.5 1.5-.5 1.5-.5 3-1 3-1 3 0 .5-1 2.5-1.5 3-.5 .5-3 2-2 .5-1 .5-3 0-3-.5-.5 0-2.5-.5-3-.5-3-1-3-.5-3 .5-3 1.5-.5 .5-1.5 3-1 2-.5 1-1.5 3-1 2-.5 1-2.5 2.5-.5 .5-2.5 2-1 1-2 2-1 1-2 2.5-.5 .5-2 3-.5 1-.5 2-1 3 0 3 1 3 .5 1 3 2 3 .5 2-.5 1 0 3-1.5 3-1.5 3-3 3-2 2-1 1-.5 3-.5 3 .5 3 .5 3 2.5 .5 .5-.5 .5-1.5 2.5-1.5 2-.5 1-1.5 3-.5 3 0 3 2 3 .5 1.5 .5-1.5 2.5-2 1-1 2-2 1.5-1 1.5-1.5 3-.5 3-1 .5 0 2.5-2 3 1.5 0 .5 1.5 3 1 3 0 3 0 3-2.5 3-3 1-3 1-3 .5-1 .5-2 1-3 .5-3-1.5-2.5-3-.5-2-1 2 0 3 1 2 1 1 2 3 2 3 1 2 .5 1 2 3 .5 1.5 1 1.5 1 3 1 3 1 3 .5 3 1.5 3 3-.5 3-1.5 2.5-1 .5 0 3-1.5 3-1 3-.5 3 0 1 0-1-.5-3 0-3-1.5-.5-1-2.5-1.5-1.5-1.5-1.5-2-.5-1-1-3 0-3 .5-3 1-2.5 0-.5 1.5-3 1.5-2 .5-1 2.5-2 1.5-1 1.5-1.5 1.5-1.5 1.5-1.5 1.5-1.5 1.5-1.5 1.5-1.5 1.5-2 1.5-1 1.5-2 1-1 2-2.5 1.5-.5 1.5-1.5 1.5-1.5 0-3 1.5-.5 3-1 1.5-1.5 1.5-.5 3-1 3-1 .5-.5 2.5-.5 3 0 2 .5 1 .5 0 2.5 0 3 0 3-3 2-2 1-1 .5-3 .5-3 .5-3 1-.5 .5 .5 .5 .5 2.5 0 3 0 3-.5 2 0 1-.5 3-.5 3 0 3 0 3-1 3-1 2-1 1-1.5 3 0 3 1 3 1.5 2 2.5 1 .5 .5 1-.5 2-1 2.5-2 .5 0 3 0 .5 0 1.5 3-2 1-3 .5-3 .5-.5 1-1 3-.5 3-.5 3-.5 3 0 3 .5 3 0 3-.5 3 0 1-.5 2-.5 3-1.5 3-.5 1-1.5 2-1.5 2-.5 1-2 3-.5 .5-2 2.5-1 1-1.5 2-1.5 2-1 1-2 3-1 3 .5 3 .5 .5 2 2.5 1 1 3 2 3 1.5 3 1.5 3 2.5 .5 .5 1 3 0 3-.5 3-1 1-2.5 2-.5 0-3 1-3 1-2 1-1 .5-3 2-1 .5-2 1.5-2.5 1.5-.5 .5-3 1-3 1-2.5 .5-.5 0-3 1-3 1-2.5 1-.5 .5-3 2.5-1.5-3-.5-3 0-3 .5-3 1-3 .5-.5 1-2.5 2-2.5 0-.5 1.5-3 1.5-2.5 0-.5 1-3 .5-3 1-3 .5-1.5 .5-1.5 0-3-.5-1-2-2-1-1.5-3 1 0 .5-2 3-1 1-1 2-1.5 3-.5 1-1 2-1 3-1 3 0 .5-.5 2.5-.5 3-1.5 3-.5 1-3 1.5-3 .5-3 0-3-1-3-.5-3-1.5-.5 0-2.5-1.5-3-1.5-3-2-1.5-1-1.5-1-2-2-1-.5-2-2.5-1-1-1.5-2-1.5-2.5-.5-.5-1-3 0-3 .5-3 .5-3 .5-.5 1-2.5 1.5-3 .5-.5 1.5-2.5 1.5-2.5 .5-.5 2-3 .5-1 1.5-2 1.5-2.5 .5-.5 2.5-3 3-3 0-.5 3-2.5 .5 0 1.5-3-2-.5-3-1.5-1-1-2-1.5-3-1.5-3-.5-3 0-3 0-3-1-2-1.5-1-1.5-1-1.5-1-3 0-3-.5-3 0-3-.5-2.5 0-.5-1-3-1.5-3-.5-.5-3-1.5-3-.5-3 1-3 1-1 .5-2 1.5-2 1.5-1 1-2.5 2-.5 .5-1.5-.5-1.5-.5-1.5-2.5-1.5-2.5 0-.5-1.5-3-1-3-.5-2 0-1-.5-3 0-3 0-3 0-3 .5-2 0-1 1-3 .5-3 1-3 .5-3 1-3 .5-3 .5-3 1-2.5 0-.5 1.5-3 1-3 .5-.5 1.5-2.5 1.5-2.5 .5-.5 2-3 .5-.5 2-2.5 1-1 1.5-2 1.5-2.5 .5-.5 1.5-3 1-1.5 1-1.5 1.5-3 .5-1.5 1-1.5 1-3 1-2 .5-1 1.5-3 1-2.5 .5-.5 1.5-3 1-2 .5-1 2-3 .5-1.5 1-1.5 .5-3 .5-3 .5-3 0-3 .5-2.5 0-.5 .5-3 0-3 .5-3 1-3 1-3 .5-3 .5-3 0-3 1-3 1-2.5 .5-.5 1.5-3 1-2 1-1 2-2.5 1-.5 2-2 1.5-1 1.5-1.5 2-1.5 1-.5 3-2zM507 295.5l-.5 .5-2.5 1.5-2 1.5-1 1-3 2-.5 0 .5 0 2.5 3 .5 .5 3 2 .5 .5 2.5 2.5 .5 .5 2.5 3 2.5 3 .5 1 2 2 1 2 1.5-2 .5-3 .5-3 0-3-.5-3-1-3-1-3 0-.5-1-2.5-1-3-1-2.5-3 .5zM536.5 215l.5 0 3 0 3 3 0 .5 1.5 2.5-1.5 2-3-1.5-2-.5-1-.5-1 .5-2 .5-3 1.5-2 1-1 .5-3 2-.5 .5-2.5 2-3 0-3-1.5-1-.5 1-2.5 0-.5 3-.5 3-1.5 2-1 1 0 3-1.5 2-1.5 1-.5 3-1zM545 224l1-.5 .5 .5-.5 .5zM228 281l3 0 3 0 3 .5 3 .5 3 .5 3 1 .5 .5 2.5 1 3 2 3 2.5 .5 .5 2.5 3 1.5 3 1 3 .5 1.5 0 1.5 0 2 0 1-2.5 3-.5 .5-3 1-3 .5-3 .5-2.5 .5-.5 0-3 .5-3 .5-3 0-3-1-1 0-2-.5-3-1.5-2.5-1-.5 0-3-2-1.5-1-1.5-1-2-2-1-1-1.5-2-1-3-.5-2 0-1 0-.5 1-2.5 2-3 3-2.5 .5-.5 2.5-1 3-1zM284 350l1-1 3-.5 3 1 1 .5 2 1 3 1.5 .5 .5 2.5 2 2.5 1 .5 .5 3 1 3 .5 3-.5 3 0 2.5 1.5 .5 0 3 2.5 .5 .5 2.5 2 1.5 1 1.5 1 1.5 2 1.5 3 1 3 1 3 1 2.5 0 .5 1 3 1 3 1 1.5 .5 1.5 .5 3 0 3-1 3-3 3-3 2-1 1-2 2.5-.5 .5-2 3-.5 1-1 2-2 3 0 .5-2.5 2.5-.5 .5-3 .5-3 .5-3-.5-3-.5-3 1-.5 1.5-2.5 3-2.5 3-.5 .5-3 2.5-3 2-3-1.5 0-.5-1-3-1.5-3-.5-.5-1.5-2.5-1.5-3-2-3-.5-3 1-3 1.5-1.5 3-1 3-.5-3-2.5-3-.5-3 0-3-.5-3-.5-3-.5-3-1-3 0-.5 2.5-2 3-.5 .5-1.5 2.5-1.5 2-.5 1-2.5 3-2 3-1 1-1 2-.5 3 .5 3 1 2.5 1 .5 2 1.5 2 1.5 .5 3-2 3-.5 .5-3 1.5-1 1-2 .5-3 1-3 1-1 .5-2 .5-3 0-3 0-2.5-.5-.5 0-3-1-3-1-3-.5-3 0-.5-.5-2-3-.5-1.5 0-1.5-1-3-.5-3-.5-3-1-3 0-.5-1.5-2.5-1.5-2-1-1-2-2.5-.5-.5 .5-1.5 2.5-1.5 .5 0 3 0 3-.5 3 0 3-1 3-.5 3-1 3-1 3-1 2.5-1 .5 0 3-1 3-1.5 2-.5 1-.5 3-1 3-1 1-.5 2-.5 3 0 3 0 3 0 1-2.5 1-3 .5-3 .5-2 0-1 1-3 .5-3 .5-3 .5-3 .5-1.5 .5-1.5 1-3 1.5-2 1-1 2-3 2-3 1-2 .5-1 1.5-3 1-3zM294 406l-.5 1 .5 0 3 .5 2.5-.5-2.5-1zM300 410l0 3 0 1 3 1.5 0-2.5 0-1zM303 375l-1.5 2-.5 3 2 3 0 .5 3 2 3 .5 2-3-.5-3-1.5-3-3-2.5zM509 395l1-1.5 3-1.5 1.5 3 1 3 .5 1.5 0 1.5 .5 3-.5 3 0 .5-1 2.5-2 1.5-3 .5-3-1.5-.5-.5-1-3-.5-3 1-3 1-3zM292.5 494l1.5-.5 3 .5 3 3-3 2.5-3-.5-2.5-2zM271.5 545l1.5-1.5 3-1 3 0 3 1 1.5 1.5 1.5 2 .5 1 1 3 0 3-1.5 3-2 3-1 1-2 2-1 1-3-.5 0-.5-2-3-1-2-.5-1-1-3-1-3 0-3z"/>
<path fill="#f1cb09" d="M553 74l2 0 3 0 3 0 3 0 3 0 3 0 3 0 3 0 0 3 0 3 0 3 0 3 0 3 0 3 0 3 0 3 0 3 0 3 0 3 0 3 0 1-3 0-3 0-3-.5-1-.5-2-2.5-.5-.5-1-3 0-3-1-3-.5-.5-3-2.5-.5 0-2.5-2-1-1-1.5-3-.5-3 .5-3 0-3 .5-3zM485 110l1-1 3-1 3-1 3 1 1 2 1 3 .5 3 .5 3 0 3 0 3-.5 3 0 3-.5 3 0 3 0 3-1 3-.5 3-.5 2 0 1-1 3-.5 3 0 3 1 3 .5 .5 3 1.5 3-1.5 1-.5 2-2 1.5-1 1.5-1.5 2-1.5 1-1.5 1-1.5 .5-3 .5-3 0-3 1-3 0-.5 1-2.5 2-2.5 .5-.5 2.5-2.5 .5-.5 2.5-3 2.5-3 .5-.5 2-2.5 1-1.5 3-1.5 1 0 2-.5 3 0 .5 .5 2 3 0 3-.5 3-.5 3-1 3-.5 2.5 0 .5-1.5 3-1 3-.5 2.5 0 .5-1.5 3-1 3-.5 .5-2 2.5-1 2-1 1-1.5 3-.5 .5-1 2.5-1 3-.5 3-.5 2.5 0 .5-1 3-1 3-1 1.5-1 1.5-2 2.5-.5 .5-2.5 1.5-3 .5-3 0-3-.5-3-.5-3-.5-3 0-3 1-3 1.5-2.5 3-.5 .5-1 2.5-1.5 3-.5 .5-1.5 2.5-1.5 2-1 1-2 2-1 1-2 2-1 1-2 2.5-.5 .5-2 3-.5 1-1 2-1.5 3-.5 2-.5 1 0 3 .5 3 0 .5 2 2.5 1 1 3 1.5 3 .5 3 0 3 0 3 0 3 .5 3 2.5 2 3 1 3 1 3 1 3 1 3 1.5 3 1.5 3 0 .5 1.5 2.5 1.5 3 0 .5 1 2.5 1 3 0 3 0 3-.5 3-1.5 3-2 3-1 1-3 2-.5 0-2.5 1-3 .5-3 .5-3-.5-3-.5-3 0-3-.5-2.5-.5-.5 0-3-3-1-3-1-3-.5-3-.5-2-.5-1-1-3-1.5-3-2.5-3-.5 0-3-1.5-3 0-3 .5-2 1-1 .5-3 1.5-2.5 1-.5 0-3 1.5-3-.5-.5-1-2-3-.5-.5-1-2.5-1-3-.5-3 0-3 0-3 .5-3 .5-3 .5-3 1-3 0-.5 .5-2.5 1-3 1-3 .5-3 1-3 .5-3 1.5-3 0-.5 1.5-2.5 1.5-3 2-3 1-1.5 1.5-1.5 1.5-2 .5-1 2.5-3 0-.5 1.5-2.5 1.5-2 .5-1 1.5-3 1-2.5 .5-.5 1-3 1.5-3 0-.5 1-2.5 1.5-3 .5-1 1-2 1.5-3 .5-.5 1.5-2.5 1.5-3 1.5-3 1-3 .5-3 .5-3 0-3 .5-3 .5-3 0-3 .5-3 1-3 0-.5 1-2.5 1-3 0-3 .5-3 .5-2 .5-1 1.5-3 1-1.5 1.5-1.5 1.5-2zM509 245l1-1 3 .5 1 .5 0 3-1 1-3 1.5-3-2.5zM540.5 251l2.5-1.5 3-1 3-.5 3 1.5 1.5 1.5 1 3 .5 3-1 3-1.5 3-.5 1-1 2-2 3-3 2.5-1.5 .5-1.5 .5-3 0-3-.5-3-1.5-1.5-1.5-1.5-3 0-3 1-3 2-3 3-3 3-2.5zM227.5 284l.5 0 3-.5 3 0 3 0 3 .5 .5 0 2.5 .5 3 1.5 2.5 1 .5 0 3 2 1 1 2 2 1 1 2 3 1 3 1 3-.5 3-1.5 1.5-1.5 1.5-1.5 .5-3 .5-3 .5-3 0-3 1-3 .5-3 0-3-1-3-1.5-2-.5-1-.5-3-2-1-.5-2-2-1-1-2-2.5 0-.5-1.5-3 0-3 1-3 .5-.5 2.5-2.5 .5-.5 3-1.5zM535 290l2-1 3-.5 3-.5 3-.5 3 0 3 .5 3 2 1.5 3 1.5 3 0 .5 .5 2.5 .5 3-.5 3-.5 1.5-.5 1.5-1.5 3-1 1.5-1 1.5-2 2.5 0 .5-2.5 3-.5 .5-2 2.5-1 1-2 2-1 1-2.5 2-.5 0-3 2-3 0-3-1-1.5-1-1.5-1.5-1-1.5-1.5-3-.5-2 0-1-.5-3 0-3 0-3-.5-3 .5-3 0-3 .5-1.5 .5-1.5 1.5-3 1-1.5 1.5-1.5 1.5-1 3-1.5zM487 317l2-1 3-1 3 0 3 .5 3 1 .5 .5 2.5 1.5 1.5 1.5 1.5 2 .5 1 1.5 3 1 2.5 0 .5 .5 3 .5 3-.5 3-.5 1-.5 2-1.5 3-1 2.5 0 .5-1.5 3-1.5 2.5-.5 .5-2 3-.5 .5-3 2-1 .5-2 .5-3 .5-3-.5-1-.5-2-.5-3-2-1-.5-2-1.5-2-1.5-1-1-1.5-2-1.5-2-.5-1-1-3-.5-3 0-3 1-3 1-2.5 0-.5 2-3 1-2 .5-1 2.5-3 3-3 3-2.5zM530.5 347l.5-.5 3-1.5 3 .5 2.5 1.5 .5 .5 3 2.5 3 3 2 3 0 3-2 2.5-.5 .5-2.5 2.5-1 .5-2 1.5-2.5 1.5-.5 0-3 1-3 0-3-1-2-3-1-3 0-3 .5-3 1-3 1-3 .5-.5zM288 356l3-.5 1 .5 2 1 2.5 2 .5 1 1 2-.5 3-.5 1.5-1 1.5-1.5 3-.5 2.5 0 .5-.5 3 .5 1.5 .5 1.5 2 3 .5 1 2 2 1 3 0 3-1.5 3-1.5 1.5-2 1.5-1 .5-3 1-3-.5-2.5-1-.5-.5-3-1.5-1-1-2-1.5-1-1.5-2-3-.5-3-.5-3 0-3 .5-3 .5-1.5 .5-1.5 1.5-3 1-1.5 1-1.5 2-3 0-.5 1.5-2.5 1.5-3zM317 365l1-.5 .5 .5 2.5 1 3 2 1.5 3 .5 3-1.5 3-.5 .5-3 0-.5-.5-2.5-2-.5-1-1.5-3-.5-3zM236 410l1-.5 3-1 3-1 3-.5 3 .5 3 2.5 0 3-1 3-1.5 3-.5 1-1 2-.5 3 0 3 .5 3 1 3 .5 3-.5 1-.5 2-2.5 2-1.5 1-1.5 .5-3 1-3 .5-3 0-3-.5-3-1-1.5-.5-1.5-1-3-.5-3-1-.5-.5-.5-3-1-3-.5-3 0-3 0-3 0-3 .5-3 2-2 1.5-1 1.5-.5 3-1.5 3-1 .5 0 2.5-1 3-1zM288.5 410l2.5-.5 1 .5 2 2 1 1 0 3-.5 3-.5 .5-3 1.5-3-1.5-.5-.5-2.5-3 0-3 3-3zM274.5 551l1.5-2.5 3-.5 2.5 3 0 3-2.5 2.5-3-1-1-1.5z"/>
<path fill="#f2c908" d="M556.5 74l1.5 0 3 0 3 0 3 0 3 0 3 0 3 0 0 3 0 3 0 3 0 3 0 3 0 3 0 3 0 3 0 3 0 3 0 3 0 1.5-3 .5-3 0-3-2-1-3-.5-3-1-3-.5-.5-2-2.5-1-1-3-2-2-3-.5-3 0-3 .5-3 0-3zM488.5 113l.5 0 3 1.5 1 1.5 1 3 .5 3 .5 3-.5 3 0 3 0 3 0 3-.5 3 0 3-.5 3-.5 3-1 3 0 .5-.5 2.5 0 3 .5 2.5 0 .5 2 3 1 1 3 .5 3-1 1-.5 2-1.5 2.5-1.5 .5-.5 3-2 1.5-.5 1.5-1.5 2-1.5 .5-3 0-3-.5-3 0-3 .5-3 .5-.5 1-2.5 2-2.5 0-.5 3-3 0-.5 2-2.5 1-1 1.5-2 1.5-2 1-1 2-1 3 0 2.5 1 .5 1 .5 2 0 3-.5 3-1 3-1 3-1 3-1 3-1.5 3-.5 1.5-1 1.5-2 2.5-.5 .5-2.5 2.5-1 .5-2 2.5-.5 .5-1 3 0 3-.5 3 0 3-.5 3-.5 1-1 2-1.5 3-.5 .5-3 2.5-3 1-3 .5-3-.5-3-.5-3 0-3 0-3 1.5-1.5 1-1.5 1-2.5 2-.5 1-1.5 2-1.5 2.5 0 .5-2 3-1 1.5-1 1.5-2 2.5-.5 .5-2.5 2.5-.5 .5-2.5 2.5 0 .5-2 3-1 1-1 2-1.5 3-.5 1-1 2-1 3-.5 3 0 3 1.5 3 1 1 2.5 2 .5 0 3 1.5 3 .5 3 1 .5 0 2.5 .5 3 1.5 1.5 1 1.5 1.5 1 1.5 2 3 1.5 3 1 3 .5 .5 1 2.5 1.5 3 .5 1.5 1 1.5 1 3 .5 3 .5 3 0 3-1 3-1 3-1 1-2 2-1 1-3 1.5-2.5 .5-.5 0-3 .5-3-.5-1.5 0-1.5 0-3-1-2.5-2-.5-1-1-2-1.5-3-.5-1.5-.5-1.5-1-3-1.5-2.5-.5-.5-2-3-.5-.5-3-2-2-.5-1-.5-3 .5-1 0-2 .5-3 1-3 1-1 .5-2 1-3 .5-3-1.5-2-3-1-2-.5-1-.5-3-.5-3 0-3 .5-3 .5-3 .5-1.5 .5-1.5 1-3 1-3 .5-3 1-3 .5-3 1-3 .5-2 .5-1 1-3 1.5-3 1.5-3 1.5-2 .5-1 2.5-3 2.5-3 .5-1 1.5-2 1.5-3 2-3 1-3 1.5-3 1-3 .5-1 1-2 1-3 1-2.5 0-.5 2-3 1-2 .5-1 1.5-3 1-1.5 1-1.5 1.5-3 .5-1.5 .5-1.5 .5-3 .5-3 .5-3 0-3 .5-3 0-3 .5-2.5 0-.5 1-3 1.5-3 .5-3 0-.5 .5-2.5 .5-3 1.5-3 .5-1 2-2 1-1 3-1.5zM541 257l2-1.5 3 0 1.5 1.5 .5 3-1 3-1 1.5-1 1.5-2 1.5-3 .5-3-1.5-.5-.5-.5-3 1-2 .5-1 2.5-2.5zM229 287l2-.5 3-.5 3 0 3 .5 3 .5 3 1 3 1.5 1 .5 2 1.5 1.5 1.5 1.5 1.5 1 1.5 1.5 3 .5 2 0 1 0 1.5-.5 1.5-2.5 2.5-2.5 .5-.5 0-3 0-3 .5-3 .5-3 .5-3 0-3-1-1-.5-2-1-3-2-3-2.5-.5-.5-1.5-3-1-2.5 0-.5 0-1.5 0-1.5 2-3 1-.5 3-2zM535 296l2-1 3-1 3-.5 3 0 3 .5 3 2 2 3 .5 3-.5 3-1 3-1 2-.5 1-2.5 3 0 .5-2 2.5-1 1-1.5 2-1.5 1.5-1.5 1.5-1.5 1-3 1.5-3-.5-3-1.5-.5-.5-1.5-3-.5-3 0-3 0-3 .5-3 .5-3 1-3 .5-1 1-2 2-2zM488.5 323l.5-.5 3-1 3 0 3 .5 2.5 1 .5 0 2.5 3 .5 .5 1 2.5 1 3-.5 3-.5 3-1 3-1.5 3-1.5 2.5-.5 .5-2.5 3-3 2.5-1.5 .5-1.5 .5-3 0-1-.5-2-1-3-2-.5 0-2.5-3 0-.5-1.5-2.5-.5-3 0-3 1-3 1-3 2-3 1-1.5 1.5-1.5 1.5-1.5zM529.5 353l1.5-1.5 3-1 3 1.5 1.5 1 1.5 3-.5 3-2.5 3-3 1-3-.5-.5-.5-1.5-3-.5-3zM236 413l1-.5 3-1 3-1 3 0 2 2.5 0 3-1 3-1 2-.5 1-1 3 0 3 .5 3 .5 3-.5 3-1.5 3-.5 .5-3 2-1.5 .5-1.5 .5-3 0-3-.5-3-1.5-3-1-1.5-.5-1.5-1-1.5-2-1-3-.5-3 .5-3 .5-3 1-3 1-1.5 1.5-1.5 1.5-1 3-1.5 1-.5 2-.5 3-1.5z"/>
<path fill="#f4c708" d="M560 74l1 0 3 0 3 0 3 0 3 0 3 0 0 3 0 3 0 3 0 3 0 3 0 3 0 3 0 3 0 3 0 3 0 2-3-.5-3-1 0-.5-1.5-3-1.5-3 0-.5-1.5-2.5-1.5-1.5-1.5-1.5-1.5-1.5-1.5-1.5-1-3 0-3 .5-3 .5-3zM483 119l3-1 3 1 1.5 3 1 3 .5 3 0 3 0 3 0 3 0 1.5 0 1.5 0 3-.5 3-.5 3-.5 3-.5 3-.5 3 .5 3 1.5 3 .5 1 2 2 1 1.5 3 .5 3-1 1-1 2-1.5 2.5-1.5 .5-.5 3-1.5 3-.5 3 2 .5 .5 1 3 0 3-1 3-.5 1.5-1 1.5-2 2.5-1.5 .5-1.5 .5-3 .5-3-.5-2.5-.5-.5 0-3-.5-2 .5-1 0-3 2-1 1-2 1.5-1.5 1.5-1.5 1.5-1 1.5-2 2.5 0 .5-2 3-1 1.5-1 1.5-2 2.5-.5 .5-2.5 2.5-.5 .5-2.5 3-2 3-1 1.5-1 1.5-1.5 3-.5 1.5-1 1.5-1 3-1 2-.5 1-1 3 0 3 1 3 .5 .5 2 2.5 1 .5 3 1.5 2 1 1 .5 3 1 3 1.5 .5 0 2.5 1.5 2.5 1.5 .5 .5 2 2.5 1 1.5 1 1.5 1.5 3 .5 1 1 2 1.5 3 .5 1.5 .5 1.5 1 3 0 3 .5 3-.5 3-1.5 3-2.5 3-.5 0-3 1.5-3 1-3 0-3-1-2.5-1.5-.5 0-2-3-1-1.5-.5-1.5-1.5-3-1-1.5-.5-1.5-2.5-3-3-3-.5 0-2.5-1.5-3-.5-3 0-3 1-3 1-3 1-3 .5-3 0-2.5-1.5-.5-.5-1.5-2.5-1-3-.5-3 0-3 .5-3 .5-3 1-3 1-3 1-3 1-3 1-3 0-1 .5-2 1-3 1-3 .5-2 .5-1 1-3 1.5-2.5 .5-.5 2-3 .5-1 1.5-2 1.5-2 1-1 2-3 1.5-3 1.5-3 1.5-3 1-3 .5-1.5 .5-1.5 1-3 1-3 .5-1 1-2 1.5-3 .5-.5 1.5-2.5 1.5-3 2-3 1-2 .5-1 1.5-3 .5-3 0-3 .5-3 0-.5 .5-2.5 .5-3 0-3 .5-3 1-3 .5-1 1-2 .5-3 1-3 .5-2.5 .5-.5zM528 125l3-2 3 .5 1.5 1.5 0 3-.5 3-1 3 0 .5-1 2.5-1 3-1 3-2 3-1 1.5-2.5 1.5-.5 .5-3 .5-1-1-2-2-.5-1-.5-3 .5-3 .5-1.5 .5-1.5 2-3 .5-.5 2-2.5 1-1 1-2zM231 290l3-1 3-.5 3 .5 3 .5 1.5 .5 1.5 .5 3 1.5 1 1 2 1.5 1.5 1.5 1.5 2.5 .5 .5 .5 3-1 3-3 1-3 0-3 .5-3 .5-3 .5-3 0-3-1.5-2-1-1-.5-2.5-2.5-.5-1-1.5-2 0-3 1-3 .5-.5zM537.5 302l2.5-1.5 3-.5 3 1 1 1 .5 3-1 3-.5 1-1 2-2 2.5 0 .5-2.5 3-.5 .5-3 2.5-3-2-.5-1 0-3 .5-3 1-3 1-3 1-2zM492 329l3-1 3 .5 .5 .5 1.5 3-.5 3-1 3-.5 1-1.5 2-1.5 1.5-2.5 1.5-.5 .5-3-.5-2-3-1-3 1-3 1.5-3 .5-.5zM238.5 416l1.5-.5 3-1 1 1.5-1 3 0 .5-1 2.5-.5 3 0 3 .5 3 0 3-.5 3-1.5 2-1 1-2 1-3 .5-3-.5-2.5-1-.5-.5-3-1.5-1-1-1.5-3-.5-3 .5-3 1.5-3 1-1.5 1.5-1.5 1.5-1 3-2 .5 0 2.5-1 3-1z"/>
<path fill="#f5c407" d="M563.5 74l.5 0 3 0 3 0 3 0 3 0 0 3 0 3 0 3 0 3 0 3 0 3 0 3 0 3 0 3 0 1-2-1-1-.5-2-2.5-1-1.5-1-1.5-2-2.5 0-.5-3-3-1.5-3 0-3 .5-3 0-3zM482.5 125l.5-.5 3-.5 .5 1 1.5 3 1 3 0 .5 .5 2.5 0 3 0 3 0 3 0 3 0 3-.5 1.5-.5 1.5-.5 3 0 3 0 3 1 2.5 0 .5 1.5 3 1.5 3 1.5 3-1 3-.5 .5-1.5 2.5-1.5 1.5-1 1.5-2 2-1 1-2 3-2 3-1 2-1 1-2 3-3 3-3 3-2.5 3-.5 1-1 2-1.5 3-.5 1.5-.5 1.5-1.5 3-1 2-1 1-1.5 3-.5 1.5-.5 1.5-.5 3 .5 3 .5 .5 2 2.5 1 1 3 2 .5 0 2.5 1.5 3 1 1 .5 2 1 3 2 3 2.5 .5 .5 2.5 3 2 3 1 1.5 .5 1.5 1.5 3 1 2.5 0 .5 .5 3 .5 3-.5 3-.5 2-.5 1-2.5 3-3 1.5-3 0-3-1-.5-.5-2.5-2.5 0-.5-2-3-1-1.5-1-1.5-2-3-3-3-3-2-1.5-1-1.5-.5-3-.5-3 0-3 1-3 1-3 1-3 .5-3-1-2-1.5-1-1.5-.5-1.5-.5-3 0-3 0-3 1-3 0-.5 1-2.5 1-3 1-2.5 .5-.5 1-3 1-3 .5-3 0-.5 .5-2.5 1-3 1-3 .5-1.5 .5-1.5 2-3 .5-1 1.5-2 1.5-2.5 .5-.5 2-3 .5-.5 2-2.5 1-2.5 .5-.5 1-3 1-3 .5-1 1-2 .5-3 1-3 .5-1.5 .5-1.5 1.5-3 1-2 .5-1 1.5-3 1-1.5 1-1.5 2-3 2-3 1-3 1-3 0-3 .5-3 .5-3 .5-3 0-3 .5-2 .5-1 1-3 1-3 .5-1 1-2zM530.5 125l.5 0 .5 0 1.5 3-.5 3-1 3-.5 2.5 0 .5-1.5 3-1.5 3 0 .5-3 1.5-3-1-.5-1-.5-3 1-2.5 0-.5 2.5-3 .5-.5 2-2.5 1-2 .5-1zM506.5 167l.5-.5 3-1 3 1 .5 .5 1 3-1 3-.5 1-2.5 2-.5 0-3 .5-1-.5-2-1.5-1-1.5 1-3zM234 293l3-1 3 0 3 .5 1 .5 2 1 3 2 .5 0 2 3 .5 3-3 1-3 .5-3 1-2 .5-1 0-2 0-1 0-3-2-1-1-1.5-3 0-3zM231 425l3-.5 .5 .5 2.5 2.5 0 .5 1 3 0 3-1 2-.5 1-2.5 1-3 0-2-1-1-1-1.5-2-.5-3 1.5-3 .5-1z"/>
<path fill="#f6c206" d="M568 74l2 0 3 0 3 0 0 3 0 3 0 3 0 3 0 3 0 3 0 3 0 1-1.5-1-1.5-1.5-1-1.5-2-2.5-.5-.5-1.5-3-1-3 0-3 .5-3zM482.5 134l.5-.5 1 .5 2 2.5 0 .5 .5 3 .5 3 .5 3 0 3-.5 3-1 3 0 1-.5 2 .5 2.5 0 .5 1 3 1 3 1 3 .5 3-.5 2.5 0 .5-1.5 3-1.5 2-.5 1-2.5 3 0 .5-1.5 2.5-1.5 2-.5 1-2 3-.5 .5-2.5 2.5-.5 .5-3 2.5-3 3-2 3-1 3-1 3-1 3-1 2-.5 1-2 3-.5 .5-2 2.5-1 2-.5 1-1 3 0 3 1.5 2.5 .5 .5 2.5 2 1.5 1 1.5 .5 3 1.5 2 1 1 .5 3 2 1.5 .5 1.5 1.5 2 1.5 1 1 2 2 1 1.5 1 1.5 1.5 3 .5 .5 1 2.5 1 3 .5 3 0 3-1 3-1.5 2-3 1-3-2-.5-1-2.5-3-2.5-3-.5-.5-2.5-2.5-.5-.5-3-2.5-3-2-3-1-1 0-2-.5-3 .5-3 1-3 1-2.5 1-.5 0-3 0-3-2-1-1-1-3 0-3 .5-3 1-3 .5-2 .5-1 1.5-3 1-2 .5-1 1.5-3 .5-3 .5-2.5 0-.5 .5-3 .5-3 1-3 1-3 0-.5 1.5-2.5 1.5-2.5 .5-.5 2-3 .5-.5 2-2.5 1-1.5 1-1.5 1.5-3 .5-1.5 .5-1.5 1-3 .5-3 1-3 0-.5 .5-2.5 1-3 1.5-3 1.5-3 1.5-3 2-3 1-1.5 1.5-1.5 1.5-2.5 .5-.5 1.5-3 .5-3 .5-3 0-2.5 0-.5 .5-3 1-3 .5-3 1-3z"/>
<path fill="#f8c006" d="M573 74l3 0 0 3 0 3 0 3 0 3 0 2.5-1.5-2.5-1.5-3 0-1.5 0-1.5-.5-3zM481.5 146l1.5-2 1 2 .5 3-.5 3-1 2.5-1 .5-.5 3 1.5 2 0 1 1.5 3 1 3 .5 1.5 .5 1.5 .5 3-.5 3-.5 .5-1 2.5-1.5 3-.5 .5-1.5 2.5-1.5 2-.5 1-2 3-.5 1-2 2-1 1-3 2-3 2.5-1.5 .5-1.5 2-1 1-1 3-.5 3 0 3-.5 1.5-.5 1.5-2 3-.5 1-2.5 2-.5 .5-3 2.5-2.5 0-.5 0-1.5-3 0-3 1-3 .5-1.5 .5-1.5 2-3 .5-.5 2.5-2.5 .5-.5 2.5-2.5 .5-1 2-2 .5-3 0-3 .5-3 .5-3 .5-3 1-3 .5-3 .5-.5 1-2.5 1.5-3 .5-1 1-2 2-2.5 .5-.5 2.5-3 2.5-3 .5-.5 2.5-2.5 .5-3 0-3 0-3 0-1zM443 242l1-1 3-1.5 3 .5 3 .5 3 .5 3 1 1 0 2 .5 3 1 2.5 1.5 .5 .5 3 2.5 2.5 3 .5 .5 1.5 2.5 1.5 2.5 0 .5 .5 3-.5 1.5-3 .5-3-1.5-.5-.5-2.5-1.5-2-1.5-1-.5-3-1.5-3-1-1.5 0-1.5 0-2 0-1 0-3 1-3 1-2.5 1-.5 0-.5 0-2.5-1-1.5-2-.5-3 .5-3 1-3 .5-.5z"/>
<path fill="#f9be05" d="M478.5 164l1.5-.5 .5 .5 2.5 3 0 .5 1 2.5 .5 3-.5 3-1 2.5 0 .5-2 3-1 2-.5 1-2 3-.5 1-2 2-1 1.5-2.5 1.5-.5 0-3 1-3-1 0-.5-.5-2.5 0-3 0-3 .5-2 0-1 1-3 1-3 1-2 .5-1 1.5-3 1-1 2-2 1-1 3-2zM458.5 209l.5 0 1 3-.5 3-.5 1-3 2-1 0-2-1-.5-2 .5-1 1-2 2-2.5z"/>
<path fill="#fabb04" d="M472 170l2-1.5 3-1.5 3 1.5 1 1.5 .5 3 0 3-1 3-.5 1-1 2-2 3 0 .5-2 2.5-1 1-3 2-3-1-1-2 0-3 0-3 .5-3 .5-1.5 .5-1.5 1.5-3 1-2z"/>
<path fill="#fab804" d="M472.5 173l1.5-1.5 3 0 1 1.5 .5 3-1 3-.5 1-1.5 2-1.5 2.5-1.5 .5-1.5 .5-.5-.5-1-3 .5-3 .5-3 .5-1z"/>
</g>
<path fill="#f4f4f4" d="M389,70 394.1,70 394.1,82.8 393.4,88.6 394.1,101.8 392.6,101.8 391.9,93 390.4,85.7 389,84.2Z"/>
<path fill="#f4f4f4" d="M376.5,107.5 378.5,107.5 379,113 377,113Z"/>
<path fill="#f4f4f4" d="M362,177 366,177 366,179.5 362,179.5Z"/>
<path fill="#f4f4f4" d="M344.5,222 348.5,221 349.5,225 349,229.5 346.3,226.5Z"/>
<path fill="#f4f4f4" d="M364.5,238 368,239.7 369,243.3 367.5,247.7 365.5,249.5 363.5,250.5 365.3,248 365.2,243Z"/>
<path fill="#f4f4f4" d="M354.8,250.6 363.6,250.8 362.9,254.3 358.5,255 355.6,254.7Z"/>
<path fill="#f4f4f4" d="M350.5,245.5 354.8,246.2 355,250.6 351.9,251.5 350.5,248.5Z"/>
<path fill="#f4f4f4" d="M350.4,260.1 353.6,259.8 353.6,263.8 350.9,263Z"/>
<path fill="#f4f4f4" d="M343.5,269.5 349,269 349,271 344,271.5Z"/>
<path fill="#f4f4f4" d="M346.3,283.5 349.2,282.5 349.5,285.2 346.5,285Z"/>
<path fill="#f4f4f4" d="M300,279.9 304.4,279.9 311.7,279.9 315.4,280.6 313.9,285.7 311.7,290.1 304.4,290.8 302.2,287.5 300,283.4 298,280.3Z"/>
<path fill="#f4f4f4" d="M327,286.4 330,286.4 334.4,290.1 335.1,292.3 340.9,294.5 335.1,297.4 332.9,299.6 332.2,302.5 337.3,304.7 342.4,303.3 343.9,304 343.9,307.6 343.1,311.3 339.5,309.8 335.1,308.4 331.4,306.2 330.7,300.3 330,294.5 327.8,290.1Z"/>
<path fill="#f4f4f4" d="M225.5,311.7 229.1,307.3 228.4,304.4 232.8,300 236.4,295.6 240.1,291.2 243.3,291.2 244.2,293.4 248.1,291.9 252.5,291.9 254,294.9 255.4,298.5 261.3,297.8 262.7,294.9 266.4,291.9 270.8,289 273.5,287.2 273,289.5 269.3,295.6 264.9,300 261.3,302.9 259.1,300.7 255.4,303.6 248.9,302.5 241.5,302.9 236.4,304.4 234.2,308 233.5,313.9 230.6,316.8 228.4,313.9Z"/>
<path fill="#f4f4f4" d="M218.9,329.2 222.5,329.2 221.8,332.1 220,331.5Z"/>
<path fill="#f4f4f4" d="M376,318.6 380.4,317.9 381.9,322.3 380.4,326.6 376.8,327.4 374.6,325.9 376,323.7 375.3,319.3Z"/>
<path fill="#f4f4f4" d="M362.5,319.8 364.6,319.5 364.2,324.5 362.1,324.5Z"/>
<path fill="#f4f4f4" d="M196,407.7 197.5,408.5 197,415.8 195.2,416.5 195.6,408.5Z"/>
<path fill="#f4f4f4" d="M193.4,437.7 197,439.2 198.5,446 199,447.3 197.5,453.2 196.8,453.2 195.4,445.8 194.6,440Z"/>
<path fill="#f4f4f4" d="M196.8,453.2 197.3,453.9 203.4,457.5 201.9,463.4 200.5,467.8 198.3,460.5Z"/>
<path fill="#f4f4f4" d="M200.5,467.8 201.6,467.5 204,474 207.5,479 210.5,483 210,483.9 206.3,479.5 202.7,474.4Z"/>
<path fill="#f4f4f4" d="M290.2,532.3 292.4,530.1 296.8,530.1 299,533 299.7,537.4 301.9,541.8 304.9,546.2 306.3,550.6 306,555 309.2,559.4 311.4,563.7 312.9,568.9 312.2,573.3 309.2,575.4 305.6,574 303.4,570.3 301.9,565.2 298.3,560.8 293.9,558.6 292.4,554.2 292,546.9 291.7,539.6 290.2,535.2Z"/>
<circle cx="427.7" cy="518.2" r="6.3" fill="#f4f4f4"/>
<circle cx="461.3" cy="572.3" r="4.0" fill="#f4f4f4"/>
<g fill="none" stroke="#000" stroke-width="1" stroke-linejoin="round" shape-rendering="crispEdges">
<path d="M421.6,77.7C421.5,78.5 421.4,81.2 421.1,82.8C420.9,84.4 420.5,86 420.1,87.2C419.7,88.4 419.1,89.6 418.9,90.1"/>
<path d="M444.3,76.7C444.2,78.9 444.2,85.6 443.8,90C443.4,94.4 443.2,99.5 441.7,103.3C440.2,107.1 437.4,109.8 435,112.6C432.6,115.3 428.3,118.6 427,119.8"/>
<path d="M431,136.6C432.6,136.8 437.6,137.1 440.3,138C443,138.9 445.5,140 447,142C448.5,144 449.1,146.7 449.1,150C449.1,153.3 448,157.8 447,162C446,166.2 444.8,171.3 443,175.3C441.2,179.3 439,183.2 436.3,185.9C433.6,188.6 429.4,190.6 427,191.3C424.6,192 422.8,191.7 421.7,189.9C420.6,188.1 420.5,183.9 420.3,180.6C420.1,177.3 420.6,172.1 420.3,169.9C420,167.7 419.4,168 418.5,167.6C417.6,167.2 416,167.7 414.6,167.3C413.2,166.9 411.7,166.3 410.2,165.4C408.7,164.5 407,163 405.8,161.7C404.6,160.3 403.8,159 403.2,157.3C402.6,155.6 402.4,153.7 402.1,151.5C401.9,149.3 401.8,146.6 401.7,144.2C401.6,141.8 401.6,139.3 401.7,136.9C401.8,134.5 401.9,132 402.1,129.6C402.4,127.1 402.8,124.4 403.2,122.2C403.6,120 403.9,118.4 404.3,116.4C404.7,114.5 405.4,112.5 405.8,110.5C406.2,108.5 406.9,106.5 407,104.7C407.1,102.9 407.1,100.9 406.5,99.6C405.9,98.3 404.9,97.3 403.6,96.7C402.3,96.1 400.2,96.2 398.5,95.9C396.8,95.7 394.2,95.3 393.4,95.2"/>
<path d="M362.7,207.5C363.4,206.9 365.4,205.4 366.8,203.9C368.2,202.4 369.7,200.2 371.2,198.7C372.7,197.2 374.3,195.8 375.6,195.1C376.9,194.4 378,194.3 379.2,194.4C380.4,194.5 382,195.1 382.9,195.8C383.8,196.5 384.1,197.3 384.3,198.7C384.5,200 384,202.1 383.9,203.9C383.8,205.7 383.4,207.9 383.6,209.7C383.8,211.5 384.4,213.2 385.1,214.8C385.8,216.4 386.9,218 388,219.2C389.1,220.4 390.4,221.6 391.6,222.1C392.8,222.6 394.3,222.5 395.3,222.1C396.3,221.7 397.1,220.3 397.5,219.9"/>
<path d="M409.2,198.7C409.6,198.5 410.5,197.8 411.4,197.7C412.2,197.6 413.6,197.6 414.3,198C415,198.4 415.6,198.5 415.8,200.2C416.1,201.9 415.9,205.1 415.8,208.2C415.7,211.2 415.4,215.6 415,218.5C414.6,221.4 414,223.4 413.6,225.8C413.2,228.2 412.9,230.4 412.8,233.1C412.8,235.8 413.3,239.2 413.3,241.9C413.3,244.6 413.1,247.5 412.8,249.2C412.5,250.9 412.8,250.7 411.6,252.3C410.5,254 408,256.8 405.9,259.1C403.8,261.4 401.2,264.4 399.1,265.9C397,267.4 395.3,268.4 393.4,268.2C391.5,268 389.6,266.3 387.7,264.8C385.8,263.3 383.7,260.6 382,259.1C380.3,257.6 379,256.4 377.5,255.7C376,255 374.6,255.4 373.1,255C371.6,254.6 370.1,254.1 368.7,253.5C367.3,252.9 365.6,251.8 365,251.4"/>
<path d="M283.9,297.8C284.9,298.3 287.6,299.6 289.8,300.7C292,301.8 294.5,303.2 297.1,304.4C299.7,305.5 303,306.7 305.4,307.6C307.8,308.6 309.8,309 311.3,310.1C312.9,311.2 313.9,312.9 314.7,314.3C315.5,315.7 315.7,317.2 316.4,318.5C317.1,319.8 317.6,320.8 318.9,321.9C320.1,323 321.9,323.9 323.9,324.9C325.9,325.9 328.3,326.9 330.7,327.7C333.1,328.5 336.1,329.4 338.2,329.9C340.2,330.3 342.2,330.3 343,330.4"/>
<path d="M351.5,329.2C352.2,328.8 354.7,327.4 355.9,326.9C357.1,326.4 358.1,326.1 358.5,326"/>
<path d="M237.5,317.5C238.2,317.5 239.8,317.6 241.5,317.5C243.2,317.4 245.5,317.3 247.4,316.8C249.3,316.3 251.2,315.3 253.2,314.6C255.1,313.9 257.4,313.2 259.1,312.7C260.8,312.2 262.8,311.9 263.5,311.7"/>
<path d="M203.4,458.3C204,458.2 205.5,457.5 207,457.5C208.5,457.5 210.6,457.9 212.2,458.3C213.8,458.7 215.5,458.9 216.5,459.7C217.5,460.5 217.9,461.9 218.3,463.4C218.8,464.9 219,467.6 219.2,468.5"/>
<path d="M216.5,483.9 L213.9,486.1"/>
<path d="M375.9,546.9C376.5,547.5 378.2,548.9 379.3,550.3C380.4,551.7 381.6,553.7 382.7,555.4C383.8,557.1 385,559 386.1,560.5C387.2,562 388.4,564 389.5,564.7C390.6,565.4 392,565.8 392.9,564.7C393.8,563.6 394,560.5 394.6,557.9C395.2,555.3 396,552.2 396.3,549.4C396.6,546.6 396.7,543.7 396.3,540.9C395.9,538.1 394.7,535.2 393.8,532.4C392.9,529.6 391.9,526.8 391.2,524C390.5,521.2 389.6,518.3 389.5,515.5C389.4,512.7 389.8,509.8 390.4,507C391,504.2 392,501.1 392.9,498.5C393.8,495.9 395.3,493.3 395.5,491.5C395.7,489.7 395,488.1 394,487.5C393,486.9 391.3,487.4 389.7,488C388.1,488.6 386.1,489.9 384.6,490.9C383.2,491.9 381.9,492.8 381,494C380.1,495.2 379.4,496.7 379.3,498C379.2,499.3 380.2,500.1 380.2,501.9C380.2,503.7 380,506.9 379.3,508.7C378.6,510.5 377.4,511.6 375.9,512.9C374.3,514.2 371.7,515.3 370,516.6C368.3,517.9 366.5,519.2 365.5,520.6C364.5,522 364.2,523.6 364.1,525C364,526.4 364.7,528.1 364.8,528.7"/>
<path d="M354.5,492C354.2,491.4 353.8,489.3 352.6,488.4C351.4,487.5 349.1,486.8 347.5,486.7C345.9,486.6 344.5,487.1 343.3,488C342.1,488.9 341,490.3 340.4,491.8C339.8,493.3 339.7,495.3 339.9,496.9C340.1,498.4 341,499.7 341.6,501.1C342.2,502.5 342.7,504.1 343.6,505.4C344.6,506.7 346,507.9 347.3,508.9C348.6,509.9 350.3,511 351.6,511.6C352.9,512.2 354.4,512.4 355,512.5"/>
<path d="M436.6,536.2C436.1,535.9 434.7,535 433.7,534.1C432.7,533.2 431.2,531.7 430.8,530.7C430.4,529.7 430.9,528.6 431.5,528.2C432.1,527.8 433.4,528 434.5,528.2C435.6,528.4 436.8,529.2 437.9,529.4C439,529.6 440.4,530 441.3,529.4C442.2,528.8 442.4,527.2 443,525.7C443.6,524.2 443.7,522 444.7,520.6C445.7,519.2 447.2,517.9 448.9,517.2C450.6,516.5 452.8,516.3 454.9,516.3C457,516.3 459.4,516.8 461.7,517.2C464,517.6 466.4,518.2 468.5,518.9C470.6,519.6 472.7,520.4 474.2,521.4C475.7,522.4 476.6,523.8 477.6,524.8C478.6,525.8 479.1,527.2 480.2,527.4C481.3,527.5 482.8,526.2 484.4,525.7C485.9,525.2 487.9,524.5 489.5,524.5C491.1,524.5 492.8,525 493.8,525.7C494.8,526.4 495.5,527.6 495.5,528.7C495.5,529.8 494.7,531.2 493.8,532.4C492.9,533.6 491.5,534.5 490.4,535.8C489.3,537.1 488.1,538.8 487,540.1C485.9,541.4 485,542.4 483.6,543.5C482.2,544.6 480.1,545.8 478.5,546.9C476.9,548 475.4,549.2 474.2,550.3C472.9,551.4 471.9,552.2 471,553.7C470.1,555.2 468.9,558.6 468.5,559.6"/>
<path d="M454.9,541.8C455.8,541.6 458.3,540.8 460,540.9C461.7,541 463.8,541.8 465.1,542.6C466.4,543.5 467.1,544.7 467.6,546C468.1,547.3 468.4,549.1 468.1,550.3C467.8,551.5 466.7,552.6 465.9,553.2C465.1,553.8 463.8,553.6 463.4,553.7"/>
<path d="M446.4,552.8C446.3,553.6 445.7,556.2 445.6,557.9C445.5,559.6 445.3,561.3 445.6,563C445.9,564.7 446.4,566.9 447.2,568.1C448,569.3 450,569.8 450.6,570.1"/>
<path d="M425.2,569.8C425.5,570.9 426.3,574.5 426.9,576.6C427.5,578.7 428.2,580.7 428.6,582.5C429,584.3 428.4,585.8 429.4,587.6C430.4,589.5 432.9,591.8 434.5,593.6C436.1,595.4 438.1,597.5 438.8,598.3"/>
<path d="M432.8,566.4C433.2,567.5 434.5,570.9 435.4,573.2C436.2,575.5 436.9,578 437.9,580C438.9,582 440.4,583.4 441.3,585.1C442.2,586.8 442.9,587.9 443.3,590.2C443.7,592.5 443.8,597.3 443.9,598.7"/>
<path d="M311.4,598.8C311.9,598.2 313,596.1 314.4,595.5C315.8,594.9 317.7,594.9 319.5,594.9C321.3,594.9 323.6,595.2 325.3,595.5C327,595.8 329,596.2 329.7,596.4"/>
<path d="M467,76.7C466.4,78.5 464.2,83.8 463.5,87.3C462.8,90.8 462.6,94.5 463,98C463.4,101.5 465.1,105 465.6,108.6C466.1,112.1 466.4,115.3 466.2,119.3C466,123.3 464.8,128.2 464.3,132.6C463.8,137 463.4,141.6 463,146C462.6,150.4 462.7,154.9 461.6,159.3C460.5,163.7 458.3,168.6 456.3,172.6C454.3,176.6 452.3,179.8 449.6,183.3C446.9,186.9 443.4,190.4 440.3,193.9C437.2,197.4 433.7,200.6 431,204.6C428.3,208.6 425.9,213 424.3,217.9C422.8,222.8 422.4,228.6 421.7,233.9C421,239.2 420.7,245.7 420.3,249.9C419.9,254.1 419.6,255.9 419.5,259.1C419.4,262.3 419.5,267.6 419.5,269.3"/>
<path d="M415.5,290.9C415.2,292.2 414.9,296.4 413.9,298.9C412.9,301.4 410.7,303.4 409.3,305.7C407.9,308 406.4,310 405.5,312.5C404.6,315 404,317.7 404.1,320.5C404.2,323.3 405.1,327.1 405.9,329.5C406.6,331.9 408.2,334.2 408.6,335.2"/>
<path d="M423,320.9C424.1,320.1 427.5,317.5 429.8,315.9C432.1,314.3 434.3,312.3 436.6,311.4C438.9,310.4 441.8,309.8 443.4,310.2C445,310.6 446.4,312.1 446.4,313.6C446.4,315.1 444.8,317.6 443.4,319.3C441.9,321 439.4,322.2 437.7,323.9C436,325.6 434.1,327.2 433.2,329.5C432.2,331.8 432.8,334.8 432,337.5C431.2,340.2 429.9,343 428.6,345.5C427.4,348 426.2,350.5 424.5,352.3C422.8,354.1 420.4,355.3 418.4,356.4C416.4,357.5 414.2,357.7 412.7,359.1C411.2,360.5 410.1,362.7 409.3,364.8C408.5,366.9 407.7,369.6 407.7,371.6C407.7,373.6 408.3,375.7 409.3,376.8C410.3,377.9 412.2,378.5 413.9,378.4C415.6,378.3 418.6,376.5 419.5,376.1"/>
<path d="M442.3,376.1C443.2,376.5 446.1,377.2 448,378.4C449.9,379.5 452.1,381.1 453.6,383C455.1,384.9 456.2,387.8 457,389.8C457.8,391.8 458.8,393.3 458.5,395C458.2,396.7 456.8,398.1 455.1,400.1C453.4,402.1 450.2,404.6 448.3,406.9C446.4,409.2 445.4,411.4 444,413.7C442.6,416 441.1,418.5 439.8,420.5C438.5,422.5 437.1,423.9 436.4,425.6C435.7,427.3 435.3,429 435.6,430.7C435.9,432.4 437.3,434.3 438.1,435.7C438.9,437.1 440.3,438 440.6,439.1C440.9,440.2 440.8,441.6 439.8,442.2C438.8,442.8 437,442.3 434.7,442.5C432.4,442.7 429,443 426.2,443.4C423.4,443.8 420.4,444.4 417.7,445.1C415,445.8 411.9,446.6 410.1,447.6C408.3,448.6 407.3,449.9 406.7,451C406.1,452.1 406.1,453.4 406.7,454.4C407.3,455.4 408.6,456.4 410.1,457C411.7,457.6 414.3,457.6 416,458.2C417.7,458.8 419.3,459.3 420.3,460.4C421.3,461.5 421.4,463.1 422,464.6C422.6,466.2 422.8,468.1 423.7,469.7C424.6,471.2 426.2,472.5 427.1,473.9C428,475.3 428.8,476.6 428.8,478.2C428.8,479.8 427.6,481.6 427.1,483.3C426.6,485 426.1,487.5 425.9,488.4"/>
<path d="M432,507.8C432.4,508.2 432.9,510 434.5,510C436.1,510 438.8,508.3 441.3,507.8C443.9,507.3 447,507 449.8,507C452.6,507 455.5,507.5 458.3,507.8C461.1,508.1 464.2,508.4 466.8,509C469.4,509.6 471.9,510.7 473.6,511.2C475.3,511.7 475.1,511.6 476.8,512.1C478.5,512.6 481.2,513.7 483.6,514.1C486,514.5 489.1,514.4 491.2,514.6C493.3,514.8 494.7,514.9 496.3,515.5C497.9,516.1 499.2,516.7 500.6,518C502,519.3 503.1,521.5 504.8,523.1C506.5,524.7 509.4,525.9 510.7,527.4C512,528.9 512.1,530.4 512.4,532.4C512.7,534.4 512,537.2 512.4,539.2C512.8,541.2 513.4,543 514.5,544.3C515.6,545.6 517.4,546.2 519.2,546.9C521,547.6 523.4,548 525.2,548.6C527.1,549.2 529.1,549.4 530.3,550.3C531.5,551.1 532.2,552.6 532.5,553.7C532.8,554.8 532.1,556.5 532,557.1"/>
<path d="M521.8,574.9C521.1,575.2 518.8,575.6 517.5,576.6C516.2,577.6 515,579.2 514.1,580.8C513.2,582.3 512.7,584.3 512.1,585.9C511.5,587.5 511.5,588.9 510.7,590.2C509.9,591.5 508.5,592.5 507.4,593.6C506.3,594.7 504.7,596.1 504,597C503.3,597.9 503.2,598.4 503.1,598.7"/>
<path d="M201.9,376C202.9,375.7 206,374.9 208,374.1C210,373.3 212.4,372.2 213.9,371.2C215.4,370.2 216.2,369.4 217.1,368.3C217.9,367.2 218.3,366 219,364.6C219.7,363.2 219.8,361.3 221.1,359.9C222.4,358.5 224.7,357.4 226.9,356.3C229.1,355.2 231.5,354 234.2,353.3C236.9,352.6 240.1,352.3 243,352.2C245.9,352.1 249.1,352.7 251.8,352.6C254.5,352.6 257.3,352.8 259.1,351.9C260.9,351 261.5,349.4 262.7,347.5C263.9,345.6 265,342.6 266.4,340.2C267.8,337.8 269.1,335 270.8,332.9C272.5,330.8 274.7,328.8 276.6,327.7C278.6,326.6 280.6,326.5 282.5,326.3C284.4,326.1 286.3,325.9 288.3,326.3C290.3,326.7 292.5,327.5 294.5,328.6C296.5,329.7 298.6,331.1 300.4,332.8C302.2,334.5 303.6,336.9 305.4,338.7C307.2,340.5 309.2,342.6 311.3,343.7C313.4,344.8 315.9,344.9 318,345.4C320.1,345.9 322.1,345.9 323.9,346.7C325.7,347.5 327.3,348.8 329,350.4C330.7,352 332.3,354.5 334,356.3C335.7,358.1 337.1,359.8 339.1,361.4C341.1,362.9 343.7,364.2 345.8,365.6C347.9,367 349.9,368.1 351.7,369.8C353.5,371.5 355.4,373.6 356.7,375.7C357.9,377.8 358.7,380.2 359.2,382.4C359.7,384.6 359.7,386.9 359.6,389.1C359.5,391.3 359,393.8 358.4,395.8C357.8,397.8 356.8,399 356,400.9C355.2,402.8 354.2,405.2 353.5,406.9C352.8,408.6 352.9,409.7 351.8,411.1C350.7,412.5 348.6,413.7 346.7,415.4C344.8,417.1 342.7,419.2 340.7,421.3C338.7,423.4 336.9,425.8 334.8,428.1C332.7,430.4 329.1,432.8 328,434.9C326.9,437 327.9,439 328,440.8C328.1,442.6 328.9,444.3 328.9,445.9C328.9,447.5 328.7,449.3 328,450.2C327.3,451.1 326,450.9 324.6,451C323.2,451.1 320.4,451 319.5,451"/>
<path d="M302.5,462.9C302.2,463.5 300.9,465 300.8,466.3C300.7,467.6 301,469.2 301.7,470.6C302.4,472 303.7,473.5 305.1,474.8C306.5,476.1 308.4,477.1 310.2,478.2C312,479.3 314.3,480.3 316.1,481.6C317.9,482.9 319.9,484.4 321.2,485.8C322.5,487.2 323.5,488.4 323.8,490.1C324.1,491.8 323.5,494.2 322.9,496C322.3,497.8 321,499.4 320.4,501.1C319.8,502.9 319.2,504.9 319.5,506.5C319.8,508.1 321.7,509 322.4,510.4C323.1,511.8 323.6,513.1 323.9,514.8C324.2,516.5 324.4,518.9 324.2,520.6C323.9,522.3 322.8,523.5 322.4,525C322,526.5 321.6,527.8 321.7,529.4C321.8,531 322.5,532.8 323.1,534.5C323.7,536.2 324.6,538.3 325.3,539.6C326,540.9 326.5,541.8 327.5,542.3C328.5,542.8 330.2,542.8 331.2,542.3C332.2,541.8 332.8,540.8 333.4,539.6C334,538.4 334.1,536.3 334.8,535.2C335.5,534.1 336.5,533.2 337.7,532.8C338.9,532.4 340.8,532.3 342.1,532.6C343.5,532.9 344.6,533.6 345.8,534.5C347,535.4 348.2,536.9 349.4,538.2C350.6,539.5 352,541 353.1,542.5C354.2,544 355.1,545.4 356,546.9C356.9,548.4 357.6,549.8 358.2,551.3C358.8,552.8 359.4,554.4 359.7,555.7C360,557.1 359.8,558.3 360.1,559.4C360.4,560.5 361.7,561.4 361.6,562.3C361.5,563.1 360.5,564.3 359.7,564.5C358.9,564.7 357.6,564.3 356.8,563.7C356,563.1 355.5,561.5 354.6,560.8C353.7,560.1 352.7,559.6 351.6,559.4C350.5,559.2 349.2,559.5 348,559.8C346.8,560.1 345.7,560.8 344.3,561.3C342.9,561.8 341.2,562.5 339.9,563C338.6,563.5 336.9,564.2 336.3,564.5"/>
<path d="M197.3,452.4C198.8,452.5 203.1,452.8 206.3,452.9C209.5,453 213.1,453 216.5,453.2C219.9,453.4 223.6,453.3 226.8,453.9C230,454.5 232.7,455.7 235.6,456.8C238.5,457.9 241.6,459.1 244.3,460.5C247,461.9 249.7,463.4 251.6,464.9C253.5,466.3 255,467.8 256,469.2C257,470.6 257.1,472 257.5,473.6C257.9,475.2 257.7,477.2 258.2,478.7C258.7,480.2 259.8,481 260.4,482.4C261,483.8 261.5,485.2 261.6,486.8C261.7,488.4 261.7,490.2 261.1,491.9C260.5,493.6 259.3,495.3 258.2,497C257.1,498.7 255.8,500.3 254.6,502.1C253.4,503.9 252.1,506.2 250.9,508C249.7,509.8 248.1,512.2 247.5,513.1"/>
<path d="M244.6,534.1C244.7,535 244.6,537.4 245,539.2C245.4,541 246.1,543 246.8,545.1C247.5,547.2 248.8,549.8 249.4,551.7C250,553.7 250.5,555.1 250.4,556.8C250.3,558.5 249.7,560.2 249,561.9C248.3,563.6 247.2,565.2 246.1,567C245,568.8 243.8,571.2 242.4,572.9C241.1,574.6 239.5,576.1 238,577.3C236.5,578.5 234.8,579.2 233.6,580.2C232.4,581.2 231.4,582 230.7,583.1C230,584.2 229.5,585.5 229.5,586.8C229.5,588.1 230.1,589.6 230.7,591.1C231.3,592.6 232.3,594.3 232.9,595.5C233.5,596.7 234.2,598 234.4,598.5"/>
<path d="M295.4,598.8C295.6,597.9 296.1,595.3 296.8,593.7C297.5,592.1 298.6,590.8 299.7,589.3C300.8,587.8 302,586.2 303.4,584.9C304.8,583.6 306.3,582.3 307.8,581.3C309.3,580.3 310.8,579.3 312.2,578.7C313.6,578.1 314.9,577.7 316.5,577.6C318.1,577.5 320.1,577.6 321.7,577.9C323.3,578.2 324.9,578.8 326.1,579.4C327.3,580 328.5,581 329,581.3"/>
<path d="M413.3,504.4C414,504.5 416.2,504.6 417.5,505.3C418.8,506 419.8,507.6 420.9,508.7C422,509.8 423.5,511.5 424,512.1"/>
<path d="M404.8,520.6C404.9,521.5 405.1,524.2 405.7,525.7C406.3,527.2 407.2,529 408.2,529.9C409.2,530.8 410.3,531.4 411.6,531.3C412.9,531.2 414.4,530.2 415.8,529.4C417.2,528.6 418.8,527.4 420.1,526.5C421.4,525.6 422.9,524.4 423.5,524"/>
<path d="M404,598.7C404.1,597.6 404.1,594 404.8,591.9C405.5,589.8 406.9,587.5 408.2,585.9C409.5,584.3 411.1,583.3 412.4,582.5C413.7,581.7 414.8,581.1 415.8,581.3C416.8,581.4 418,583 418.4,583.4"/>
<path d="M573.6,127.3C572,127.1 567,125.8 564.3,126C561.6,126.2 559.4,126.8 557.6,128.6C555.8,130.4 554.5,133.3 553.6,136.6C552.7,139.9 552.5,144.4 552.3,148.6C552.1,152.8 552.1,157.6 552.3,162C552.5,166.4 552.7,171.5 553.6,175.3C554.5,179.1 556.1,182.4 557.6,184.6C559.1,186.8 561.4,189 562.9,188.6C564.4,188.2 566.2,183 566.9,181.9"/>
<path d="M573.5,433.7C572.4,433.6 568.9,433.3 566.9,432.8C564.9,432.3 563.4,431 561.6,430.7C559.8,430.4 557.8,430.5 556.3,431.1C554.8,431.8 553.5,433.1 552.7,434.6C551.9,436.1 551.5,438.3 551.5,439.9C551.5,441.5 551.9,443.2 552.7,444.4C553.5,445.6 554.8,446.4 556.3,447C557.8,447.6 560.7,447.8 561.6,447.9"/>
<path d="M573.6,501.9C572.5,502 568.8,502.7 566.8,502.7C564.8,502.7 563.3,502.5 561.7,501.9C560.1,501.3 558.2,500.1 557.4,499.3C556.5,498.5 556.3,497.5 556.6,496.8C556.9,496.1 558.7,495.4 559.1,495.1"/>
<path d="M567.8,491.3 L573.1,493.5"/>
<path d="M554.5,419.6C555.2,419.3 557.7,418.7 558.9,417.8C560.1,416.9 561.5,415.2 561.6,414.2C561.8,413.2 560.1,412 559.8,411.6"/>
<path d="M537.7,486.9C538.1,487 539.7,487.8 540.3,487.4C540.9,486.9 541.1,484.7 541.2,484.2"/>
<path d="M484.8,106C483.8,107.1 480.6,109.9 479,112.6C477.4,115.3 476.1,118.2 475,122C473.9,125.8 473.1,130.4 472.3,135.3C471.5,140.2 471.3,146.4 470.4,151.3C469.5,156.2 468.7,160.4 467,164.6C465.3,168.8 462.3,172.6 460.3,176.6C458.3,180.6 457.2,184.4 455,188.6C452.8,192.8 449.7,197.9 447,201.9C444.3,205.9 441.2,208.6 439,212.6C436.8,216.6 435.1,221.5 433.7,225.9C432.3,230.3 431.4,235.2 430.5,239.2C429.6,243.2 428.6,246.6 428.3,249.9C428,253.2 428.2,256.2 428.6,259.1C429,262 429.9,264.5 430.9,267C431.8,269.5 433.2,272.5 434.3,273.9C435.4,275.3 436.2,276.1 437.7,275.5C439.2,274.9 441.3,271.9 443.4,270.5C445.5,269.1 447.9,267.6 450.2,267C452.5,266.4 455.2,266.2 457,267C458.8,267.8 459.9,269.3 460.9,271.6C461.8,273.9 462.2,277.7 462.7,280.7C463.2,283.7 463.1,287.5 463.9,289.8C464.7,292.1 465.6,293.4 467.3,294.3C469,295.2 472.1,295.2 474.1,295.5C476.2,295.8 477.7,295.2 479.6,295.8C481.5,296.4 483.6,298.3 485.6,299.4C487.6,300.5 489.7,302.2 491.7,302.6C493.7,303 495.8,302.7 497.8,301.9C499.8,301.1 501.8,299 503.8,297.7C505.8,296.4 508.4,294.5 509.9,293.9C511.4,293.3 512.5,293.9 513,293.9"/>
<path d="M518.9,311.6C518.8,313 518.4,317.3 518.4,320.1C518.4,322.9 518.3,325.7 518.9,328.5C519.5,331.3 521,334.2 522,337C523,339.8 525,342.7 525.2,345.5C525.4,348.3 524.1,351.4 523.2,354C522.3,356.6 520.9,358.9 519.6,361.3C518.3,363.7 516.4,366.2 515.5,368.6C514.6,371 513.9,373.5 514,375.9C514.1,378.3 514.8,382.5 515.9,383.1C517,383.7 518.8,380.5 520.8,379.5C522.8,378.5 525.5,377.9 528.1,377.1C530.7,376.3 534,375.8 536.6,374.6C539.2,373.4 541.4,371.2 543.8,369.8C546.2,368.4 548.9,367.1 551.1,366.2C553.3,365.3 556.2,364.5 557.2,364.2"/>
<path d="M558.4,352.8C557.4,352.1 554.3,349.9 552.3,348.7C550.3,347.5 547.9,346.8 546.3,345.5C544.7,344.2 543.1,342.5 542.6,340.7C542.1,338.9 542.1,336.8 543.1,334.6C544.1,332.4 546.7,329.9 548.7,327.3C550.7,324.7 553.3,321.6 555.2,318.8C557.1,316 559,313.4 560.1,310.4C561.2,307.4 561.4,304.2 561.6,300.6C561.9,297 561.5,292.1 561.6,288.5C561.7,284.9 561.3,281 562,278.8C562.7,276.6 563.9,275.6 565.7,275.2C567.5,274.8 571.8,276.2 573,276.4"/>
<path d="M500.8,98C501.1,99.3 502.3,102.5 502.4,106C502.5,109.5 502,114.9 501.6,119.3C501.2,123.7 500.9,128.2 500.3,132.6C499.7,137 499,142.2 498.2,146C497.4,149.8 495.7,153 495.5,155.3C495.3,157.6 496.1,159.6 497.1,159.8C498.1,160 500,158 501.6,156.6C503.2,155.2 506.1,152.2 507,151.3"/>
<path d="M517.6,130C518.7,128.9 521.8,125.5 524.3,123.3C526.8,121.1 529.7,118.1 532.3,116.6C534.9,115 538,113.8 539.7,114C541.4,114.2 542.3,115.3 542.4,118C542.5,120.7 541.3,125.8 540.3,130C539.3,134.2 537.6,138.9 536.3,143.3C535,147.7 534.1,152.4 532.3,156.6C530.5,160.8 527.2,164.8 525.6,168.6C524,172.4 524,176 522.9,179.3C521.8,182.6 520.9,186.6 518.9,188.6C516.9,190.6 513.8,191.1 510.9,191.3C508,191.5 504.5,190.4 501.6,189.9C498.7,189.4 495.8,188.4 493.6,188.6C491.4,188.8 489.2,190.9 488.3,191.3"/>
<path d="M475,209.9C473.9,211.2 469.8,215.2 468.3,217.9C466.8,220.6 466,223.5 466.2,225.9C466.4,228.3 467.7,231.5 469.6,232.6C471.5,233.7 474.9,233.5 477.6,232.6C480.3,231.7 483.2,228.9 485.6,227.3C488.1,225.8 489.4,223.8 492.3,223.3C495.2,222.9 499.4,224.2 503,224.6C506.6,224.9 510.5,225.8 513.6,225.4C516.7,225 518.9,223.2 521.6,221.9C524.3,220.7 526.9,218.1 529.6,217.9C532.3,217.7 534.9,219.5 537.6,220.6C540.3,221.7 542.9,223.3 545.6,224.6C548.3,225.9 550.9,228.8 553.6,228.6C556.3,228.4 558.3,224.7 561.6,223.3C564.9,221.9 571.6,220.6 573.6,220.1"/>
<path d="M549.6,76.7C549.5,78.9 549,86 548.8,90C548.6,94 547.7,98.6 548.3,100.7C548.9,102.8 550.5,103 552.3,102.8C554.1,102.6 557.8,99.9 558.9,99.3"/>
<path d="M556,266.7C556.4,266.3 557.7,265.5 558.4,264.3C559.1,263.1 559.8,261.8 560.1,259.4C560.5,257 560.2,252.4 560.5,249.9C560.8,247.4 561.6,247 561.6,244.6C561.6,242.2 561.6,237.5 560.3,235.3C559,233.1 555.8,231.2 553.6,231.3C551.4,231.4 548.8,234.4 547,236C545.2,237.6 544.2,239.1 542.9,240.6C541.6,242.1 540.7,243.2 539,244.9C537.3,246.6 534.9,248.9 532.9,250.9C530.9,252.9 528.4,254.8 526.9,257C525.4,259.2 524.1,261.9 523.7,264.3C523.3,266.7 523.7,269.5 524.4,271.5C525.1,273.5 526.5,275.2 528.1,276.4C529.7,277.6 532.1,278.4 534.1,278.8C536.1,279.2 539.2,278.8 540.2,278.8"/>
<path d="M520.3,233.9C519.2,234.4 516,235.8 513.6,237.1C511.2,238.4 507.8,240.2 505.6,241.9C503.4,243.6 501.3,245.4 500.2,247.3C499.1,249.2 498.8,251.7 499,253.3C499.2,254.9 499,257 501.4,257C503.8,257 509.8,254.5 513.5,253.3C517.2,252.1 522,250.3 523.7,249.7"/>
<path d="M259.9,400.4C259,400.4 256.6,400.1 254.8,400.4C253,400.7 251.1,401.5 248.9,402.3C246.7,403.1 244.3,404.3 241.6,405.3C238.9,406.3 235.8,407.5 232.9,408.5C230,409.5 226.8,410.4 224.1,411.1C221.4,411.8 219.2,412.3 216.8,412.6C214.4,412.9 211.2,412.6 209.5,412.9C207.8,413.2 206.7,413.6 206.3,414.3C205.9,415 206.7,416.3 207.3,417.3C208,418.3 209.2,419 210.2,420.2C211.2,421.4 212.4,422.7 213.1,424.6C213.8,426.6 214.1,429.5 214.6,431.9C215.1,434.3 215.6,437.4 216.1,439.2C216.6,441 216.2,442.1 217.5,442.8C218.8,443.5 222.2,443.2 224.1,443.6C226,444 227.3,444.8 229,445.3C230.7,445.8 231.8,446.5 234.1,446.6C236.4,446.7 240.7,446.2 242.9,445.8C245.1,445.4 245.9,444.9 247.5,444.3C249.1,443.7 251.1,443 252.6,442.1C254.1,441.2 255.5,440.3 256.3,439.2C257.2,438.1 257.8,436.6 257.7,435.5C257.6,434.4 256.5,433.5 255.5,432.6C254.5,431.8 252.8,431.5 251.9,430.4C251.1,429.3 250.5,427.5 250.4,426C250.3,424.5 250.6,422.9 251.1,421.6C251.6,420.3 252.9,418.6 253.3,418"/>
<path d="M285.6,425.2C285.2,424.4 283.9,422 283,420.5C282.1,419 281.1,417.6 280.5,416.2C279.9,414.8 279.3,413.2 279.6,412C279.9,410.8 280.9,409.7 282.2,408.9C283.5,408.1 285.5,407.7 287.3,407.4C289.1,407.1 291.4,407.1 293.2,407.2C295,407.3 297.2,407.5 298.3,408.2C299.4,408.9 299.8,410.2 300,411.1C300.2,412 299.6,413.3 299.5,413.7"/>
<path d="M270.2,549.5C270.4,550.1 270.8,551.6 271.3,553.1C271.8,554.6 272.4,556.6 273.1,558.2C273.8,559.8 274.5,561.6 275.3,562.6C276.1,563.6 277.2,564.5 278.2,564.4C279.2,564.3 280.1,562.9 281.1,561.9C282.1,560.9 283.2,559.5 284.1,558.2C285,556.9 286.1,555.4 286.5,553.9C286.9,552.4 286.7,550.9 286.3,549.5C285.9,548.1 285.1,546.9 284.1,545.8C283.1,544.7 281.6,543.5 280.4,542.9C279.2,542.3 277.6,542.4 277,542.3"/>
<path d="M291.5,496.9C292.2,497.2 294.3,498.8 295.7,498.9C297.1,499 299.3,497.9 300,497.7"/>
<path d="M301,381C301.5,381.6 302.7,383.7 304,384.5C305.3,385.3 308.2,385.8 309,386"/>
</g>
<g class="cl" text-anchor="middle">
<text transform="translate(417.5,95.2) rotate(-65) scale(.9,1)" x="0" y="4.5">8</text>
<text transform="translate(424.3,131.3) rotate(85) scale(.9,1)" x="0" y="4.5">18</text>
<text transform="translate(407,211.2) rotate(-60) scale(.9,1)" x="0" y="4.5">18</text>
<text transform="translate(274.9,295.1) rotate(15) scale(.9,1)" x="0" y="4.5">18</text>
<text transform="translate(219.8,477) rotate(-60) scale(.9,1)" x="0" y="4.5">18</text>
<text transform="translate(370.3,540) rotate(55) scale(.9,1)" x="0" y="4.5">18</text>
<text transform="translate(341.6,473.1) rotate(80) scale(.9,1)" x="0" y="4.5">18</text>
<text transform="translate(358,504) rotate(80) scale(.9,1)" x="0" y="4.5">18</text>
<text transform="translate(444.7,542.6) rotate(50) scale(.9,1)" x="0" y="4.5">18</text>
<text transform="translate(453.2,549.4) rotate(45) scale(.9,1)" x="0" y="4.5">18</text>
<text transform="translate(465.1,566.4) rotate(-70) scale(.9,1)" x="0" y="4.5">8</text>
<text transform="translate(426.9,563) rotate(-5) scale(.9,1)" x="0" y="4.5">18</text>
<text transform="translate(340.7,595.5) rotate(-3) scale(.9,1)" x="0" y="4.5">18</text>
<text transform="translate(393.4,386.4) rotate(-50) scale(.9,1)" x="0" y="4.5">18</text>
<text transform="translate(310,557.5) rotate(-70) scale(.9,1)" x="0" y="4.5">8</text>
<text transform="translate(419.5,279.5) rotate(-75) scale(.9,1)" x="0" y="4.5">19</text>
<text transform="translate(419.5,329.5) rotate(-60) scale(.9,1)" x="0" y="4.5">19</text>
<text transform="translate(432.7,375) rotate(5) scale(.9,1)" x="0" y="4.5">19</text>
<text transform="translate(428.2,499) rotate(80) scale(.9,1)" x="0" y="4.5">19</text>
<text transform="translate(529.1,566.7) rotate(-70) scale(.9,1)" x="0" y="4.5">19</text>
<text transform="translate(310.2,455.3) rotate(-30) scale(.9,1)" x="0" y="4.5">19</text>
<text transform="translate(331.2,568.9) rotate(-75) scale(.9,1)" x="0" y="4.5">19</text>
<text transform="translate(246.3,521.8) rotate(-70) scale(.9,1)" x="0" y="4.5">19</text>
<text transform="translate(407.4,507.8) rotate(-65) scale(.9,1)" x="0" y="4.5">19</text>
<text transform="translate(422.5,596.3) rotate(65) scale(.9,1)" x="0" y="4.5">19</text>
<text transform="translate(570.9,175.3) rotate(-70) scale(.9,1)" x="0" y="4.5">19</text>
<text transform="translate(569.6,443.5) rotate(10) scale(.9,1)" x="0" y="4.5">19</text>
<text transform="translate(563.4,488.7) rotate(-25) scale(.9,1)" x="0" y="4.5">19</text>
<text transform="translate(544.7,388.5) rotate(-60) scale(.9,1)" x="0" y="4.5">19</text>
<text transform="translate(552.7,413.4) rotate(-55) scale(.9,1)" x="0" y="4.5">19</text>
<text transform="translate(536.8,479.8) rotate(-60) scale(.9,1)" x="0" y="4.5">19</text>
<text transform="translate(493.2,96.7) rotate(-30) scale(.9,1)" x="0" y="4.5">20</text>
<text transform="translate(514.1,139.3) rotate(-55) scale(.9,1)" x="0" y="4.5">20</text>
<text transform="translate(483.8,200.6) rotate(-55) scale(.9,1)" x="0" y="4.5">20</text>
<text transform="translate(517.9,300.6) rotate(80) scale(.9,1)" x="0" y="4.5">20</text>
<text transform="translate(562,360.1) rotate(-60) scale(.9,1)" x="0" y="4.5">20</text>
<text transform="translate(568.2,91.3) rotate(-65) scale(.9,1)" x="0" y="4.5">20</text>
<text transform="translate(550.4,275.9) rotate(-20) scale(.9,1)" x="0" y="4.5">20</text>
<text transform="translate(523.3,240.5) rotate(75) scale(.9,1)" x="0" y="4.5">20</text>
<text transform="translate(262.1,408.5) rotate(-60) scale(.9,1)" x="0" y="4.5">20</text>
<text transform="translate(295.7,423) rotate(-55) scale(.9,1)" x="0" y="4.5">20</text>
<text transform="translate(270.9,542.2) rotate(-45) scale(.9,1)" x="0" y="4.5">20</text>
<text transform="translate(307.1,378.2) rotate(25) scale(.9,1)" x="0" y="4.5">20</text>
<text transform="translate(297.4,494.3) rotate(-10) scale(.9,1)" x="0" y="4.5">20</text>
<text transform="translate(512.8,408.9) rotate(-5) scale(.9,1)" x="0" y="4.5">20</text>
</g>
<path fill="#666666" stroke="#000" stroke-width="1" stroke-linejoin="round" shape-rendering="crispEdges" d="M70,70 389,70 389,84.2 390.4,85.7 391.9,93 392.6,101.8 394.8,103.2 397.7,110.5 399.9,117.9 399.9,121 397.7,121 395.6,117.9 393.4,114.2 391.2,112.7 389,113.5 386,114.2 383.9,114.9 379.5,113.5 378.7,110.5 377.7,107.9 376.5,109.1 377.3,112.3 378.3,114.2 378,122.2 378.3,129.6 381.2,133.2 378.7,135.4 375.1,138.3 373.6,140.5 369.2,142 365.6,146.4 361.9,150 360.5,152.9 361.2,158.8 363.4,161.7 365.6,164.6 369.2,167.6 371.9,169.5 370.4,172.4 371.2,176.1 368.2,177.5 363.9,178.7 360.9,177.5 358.7,179.7 358,182.7 354.4,183.4 351.4,184.1 351.4,187 348.5,187 346.3,188.5 343.4,189.2 340.5,190 340.5,195.1 339.3,196.5 340.5,199.5 344.1,200.2 347,198.3 350,199.5 353.6,199.8 358,200.2 361.7,202.4 362.7,204.6 361.7,208.2 360.9,211.2 358.7,213.4 355.1,214.8 353.9,217 350.7,219.2 347,222.1 344.9,223.9 346.3,226.5 348.5,229.4 351.4,230.9 353.9,232.4 355.8,234.6 358.3,236 358.7,237.5 362,237.5 364.5,238 365.2,243 365.3,248 363.5,250.5 358,251 354.5,252 354.1,255.7 353.8,259.4 351.2,260.9 351.2,263 353.8,263.8 354.1,268.9 349,269.6 343.9,269.9 343.1,271.1 344.6,272.5 346.1,276.9 346.8,281.3 346.5,284.2 349,285 351.2,283.5 353.4,281.3 355.6,279.9 356.3,282.8 357,285 359.9,285.7 362.9,284.2 364,285 362.9,287.9 360.7,289.4 356.3,289.4 354.4,290.4 353.4,293 354.4,294.5 357,296.7 359.2,298.9 360.7,301.8 362.1,306.2 363.2,310.6 363.6,315.7 364.6,317.1 364.3,320.1 362.9,320.8 362.1,324.5 359.9,327.4 358.5,325.9 357.7,323.7 356.3,322.3 354.8,321.5 353.4,320.1 351.9,317.9 349,316.4 346.8,315.7 343.9,316.4 342.4,314.2 343.1,311.3 343.9,307.6 343.9,304 342.4,303.3 340.9,304.7 337.3,304.7 335.1,304 332.2,302.5 332.9,299.6 335.1,297.4 338.7,295.9 340.9,294.5 338,293.7 335.1,292.3 334.4,290.1 332.9,287.9 330,286.4 327,286.4 324.9,289.4 321.9,290.4 319,289.4 317.5,286.4 316.1,282.8 315.4,280.6 311.7,279.9 307.3,279.6 304.4,279.9 300,279.9 292.7,281.4 283.9,283.5 275.2,286.1 270.8,289 266.4,291.9 262.7,294.9 261.3,297.8 255.4,298.5 254,294.9 252.5,291.9 248.1,291.9 244.2,293.4 243.3,291.2 240.1,291.2 236.4,295.6 232.8,300 228.4,304.4 229.1,307.3 225.5,311.7 228.4,313.9 230.6,316.8 233.5,313.9 237.2,313.6 236.9,319.7 235,324.1 232,327.7 226.9,328.5 223.3,329.2 218.9,329.2 221.8,332.1 219.6,336.5 217.4,340.9 213.8,347.5 210.8,352.6 207.9,358.5 205,364.3 202.9,369 201.4,375.6 199.2,383.6 197.8,392.4 196.3,402.6 195.6,408.5 194.1,415.8 193.1,423.1 192.7,431.9 193.4,437.7 194.6,440 195.4,445.8 196.8,453.2 198.3,460.5 200.5,467.8 202.7,474.4 206.3,479.5 210,483.9 213.6,486.1 214.4,491.2 215.1,498.5 216.5,504.3 218.7,510.2 221.2,521.7 222.7,536.3 224.1,550.9 224.9,568.5 225.1,575.8 224.6,581.6 226.3,587.5 227.8,593.3 228.6,599 228.8,610 70,610Z"/>
<path fill="#666666" stroke="#000" stroke-width="1" stroke-linejoin="round" shape-rendering="crispEdges" d="M399.2,70 399.9,81.3 402.9,84.2 405.8,87.2 407.3,93 410.2,95.2 413.1,93.7 415.3,90.8 416,88.6 413.1,87.9 410.9,85 411.6,82 413.8,79.8 415.3,77.7 418.9,79.1 421.1,78.4 421.9,70Z"/>
<path fill="#666666" stroke="#000" stroke-width="1" stroke-linejoin="round" shape-rendering="crispEdges" d="M388.2,117.1 390.4,118.6 390.4,122.2 388.2,124.4 389,128.1 391.2,130.3 389.7,132.5 387.5,131 386,126.6 385.3,123 383.9,121.5 384.6,119.3 386.8,117.6Z"/>
<path fill="#666666" stroke="#000" stroke-width="1" stroke-linejoin="round" shape-rendering="crispEdges" d="M359.2,263 361.4,264.5 362.9,267.4 363.6,269.6 361.4,270.4 359.9,268.2 359.2,265.2Z"/>
<path fill="#666666" stroke="#000" stroke-width="1" stroke-linejoin="round" shape-rendering="crispEdges" d="M379.2,275.4 381.4,276.8 380,277.5Z"/>
<path fill="#666666" stroke="#000" stroke-width="1" stroke-linejoin="round" shape-rendering="crispEdges" d="M381.5,287.5 383.6,287.5 382.8,289.3Z"/>
<path fill="#666666" stroke="#000" stroke-width="1" stroke-linejoin="round" shape-rendering="crispEdges" d="M369.4,317.9 371.6,315.7 373.8,316.4 375.3,319.3 376,323.7 374.6,325.9 372.4,325.5 370.2,323Z"/>
<path fill="#666666" stroke="#000" stroke-width="1" stroke-linejoin="round" shape-rendering="crispEdges" d="M330,316.4 331.4,316.1 332.5,320.1 331.9,323.4 330,324.5 328.5,323 328.9,319.3Z"/>
<path fill="#666666" stroke="#000" stroke-width="1" stroke-linejoin="round" shape-rendering="crispEdges" d="M344.1,326.9 346.6,326.1 349.1,329.4 351.7,332.8 351.7,336.1 349.1,337 347.1,333.6 344.9,330.3Z"/>
<path fill="#666666" stroke="#000" stroke-width="1" stroke-linejoin="round" shape-rendering="crispEdges" d="M256.9,302.9 259.8,300.4 263.5,305.8 265.2,309.5 262.7,312.4 259.8,309.5 257.6,306.5Z"/>
<path fill="#f4f4f4" d="M350.5,245.5 354.5,246 354.5,250 352,250.5 350.5,248.5Z"/>
</g>
<!-- grid -->
<g stroke="#000" stroke-width="1" shape-rendering="crispEdges">
<line x1="217.5" y1="77" x2="217.5" y2="599"/>
<line x1="354.5" y1="77" x2="354.5" y2="599"/>
<line x1="491.5" y1="77" x2="491.5" y2="599"/>
<line x1="81" y1="250.5" x2="573" y2="250.5"/>
<line x1="81" y1="424.5" x2="573" y2="424.5"/>
</g>
<!-- frame -->
<g shape-rendering="crispEdges">
<rect x="78" y="73" width="498" height="4" fill="#000"/>
<rect x="78" y="599" width="498" height="3" fill="#000"/>
<rect x="78" y="73" width="3" height="529" fill="#000"/>
<rect x="573" y="73" width="3" height="529" fill="#000"/>
<g fill="#fff">
<rect x="79" y="74" width="1" height="1"/><rect x="574" y="74" width="1" height="1"/>
<rect x="79" y="600" width="1" height="1"/><rect x="574" y="600" width="1" height="1"/>
<rect x="81" y="74" width="67" height="1"/><rect x="218" y="74" width="67" height="1"/><rect x="355" y="74" width="68" height="1"/><rect x="492" y="74" width="68" height="1"/>
<rect x="81" y="600" width="67" height="1"/><rect x="218" y="600" width="67" height="1"/><rect x="355" y="600" width="68" height="1"/><rect x="492" y="600" width="68" height="1"/>
<rect x="79" y="163" width="1" height="87"/><rect x="79" y="337" width="1" height="87"/><rect x="79" y="512" width="1" height="87"/>
<rect x="574" y="163" width="1" height="87"/><rect x="574" y="337" width="1" height="87"/><rect x="574" y="512" width="1" height="87"/>
</g>
</g>
<!-- colorbar -->
<rect x="592.5" y="77.5" width="13" height="522" fill="url(#cb)"/>
<path d="M592.5 77.5 L598.5 70.5 L605.5 77.5 Z" fill="#f6cda8"/>
<path d="M592.5 599.5 L598.5 606.5 L605.5 599.5 Z" fill="#fcd6fc"/>
<path d="M592.5 77.5 L598.5 70.5 L605.5 77.5 L605.5 599.5 L598.5 606.5 L592.5 599.5 Z" fill="none" stroke="#000" stroke-width="1"/>
<!-- labels -->
<g class="ax">
<text transform="translate(73.8,81.9) scale(.89,1)" text-anchor="end">39°N</text>
<text transform="translate(73.8,256.1) scale(.89,1)" text-anchor="end">38.5°N</text>
<text transform="translate(73.8,429.9) scale(.89,1)" text-anchor="end">38°N</text>
<text transform="translate(73.8,605.3) scale(.89,1)" text-anchor="end">37.5°N</text>
<text transform="translate(80,619.5) scale(.89,1)" text-anchor="middle">140.5°E</text>
<text transform="translate(217.8,619.5) scale(.89,1)" text-anchor="middle">141°E</text>
<text transform="translate(355,619.5) scale(.89,1)" text-anchor="middle">141.5°E</text>
<text transform="translate(492,619.5) scale(.89,1)" text-anchor="middle">142°E</text>
<text transform="translate(609.6,82) scale(.89,1)">30</text>
<text transform="translate(609.6,169.2) scale(.89,1)">25</text>
<text transform="translate(609.6,256.3) scale(.89,1)">20</text>
<text transform="translate(609.6,343.4) scale(.89,1)">15</text>
<text transform="translate(609.6,430.5) scale(.89,1)">10</text>
<text transform="translate(609.6,517.6) scale(.89,1)">5</text>
<text transform="translate(609.6,604.7) scale(.89,1)">0</text>
</g>
<text x="172.6" y="54.9" style="font-size:20.1px">Temperture[-C] @ Depth[m]=Top</text>
<text transform="translate(587.4,598.8) rotate(-90) scale(1.115,1)" style="font-size:9.6px">Ocean Data View</text>
<text transform="translate(83,592.9) scale(.922,1)" style="font-size:21.4px;fill:#fff;font-weight:normal;stroke:#fff;stroke-width:.9px">20161101</text>
</svg>
</body></html>
